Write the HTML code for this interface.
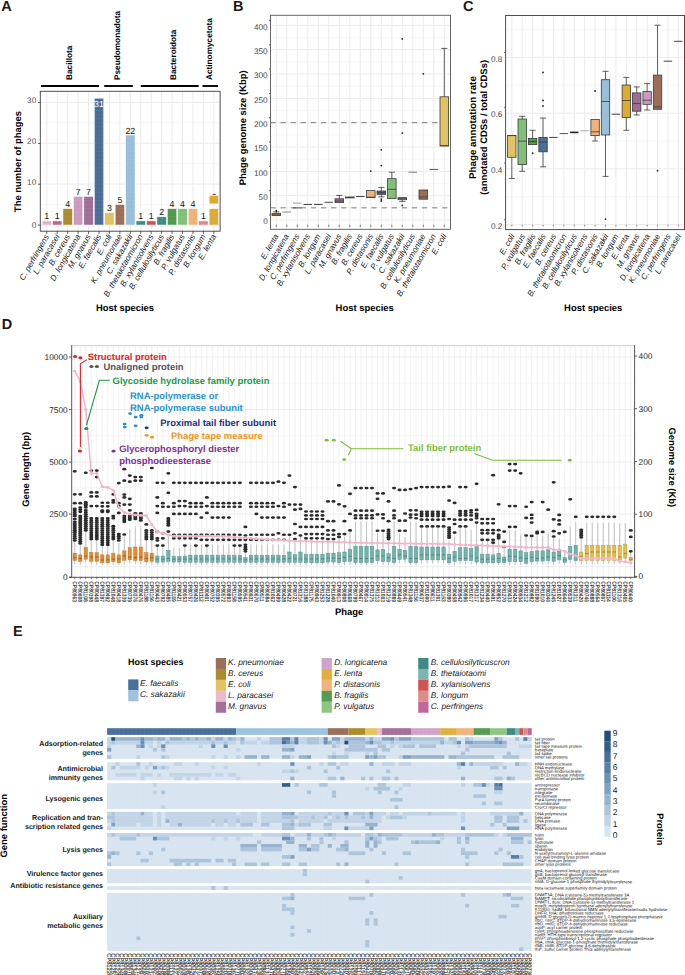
<!DOCTYPE html>
<html><head><meta charset="utf-8"><style>
html,body{margin:0;padding:0;background:#fff;}
body{width:685px;height:975px;overflow:hidden;}
svg{display:block;font-family:"Liberation Sans", sans-serif;text-rendering:geometricPrecision;}
</style></head><body>
<svg width="685" height="975" viewBox="0 0 685 975">
<rect x="40.3" y="91.3" width="179.8" height="139.9" fill="#fff" />
<line x1="40.3" y1="204.55" x2="220.1" y2="204.55" stroke="#f4f4f4" stroke-width="0.6" />
<line x1="40.3" y1="163.65" x2="220.1" y2="163.65" stroke="#f4f4f4" stroke-width="0.6" />
<line x1="40.3" y1="122.75" x2="220.1" y2="122.75" stroke="#f4f4f4" stroke-width="0.6" />
<line x1="40.3" y1="225" x2="220.1" y2="225" stroke="#ebebeb" stroke-width="1" />
<line x1="40.3" y1="184.1" x2="220.1" y2="184.1" stroke="#ebebeb" stroke-width="1" />
<line x1="40.3" y1="143.2" x2="220.1" y2="143.2" stroke="#ebebeb" stroke-width="1" />
<line x1="40.3" y1="102.3" x2="220.1" y2="102.3" stroke="#ebebeb" stroke-width="1" />
<line x1="46.8" y1="91.3" x2="46.8" y2="231.2" stroke="#ebebeb" stroke-width="1" />
<line x1="57.24" y1="91.3" x2="57.24" y2="231.2" stroke="#ebebeb" stroke-width="1" />
<line x1="67.68" y1="91.3" x2="67.68" y2="231.2" stroke="#ebebeb" stroke-width="1" />
<line x1="78.12" y1="91.3" x2="78.12" y2="231.2" stroke="#ebebeb" stroke-width="1" />
<line x1="88.56" y1="91.3" x2="88.56" y2="231.2" stroke="#ebebeb" stroke-width="1" />
<line x1="99" y1="91.3" x2="99" y2="231.2" stroke="#ebebeb" stroke-width="1" />
<line x1="109.44" y1="91.3" x2="109.44" y2="231.2" stroke="#ebebeb" stroke-width="1" />
<line x1="119.88" y1="91.3" x2="119.88" y2="231.2" stroke="#ebebeb" stroke-width="1" />
<line x1="130.32" y1="91.3" x2="130.32" y2="231.2" stroke="#ebebeb" stroke-width="1" />
<line x1="140.76" y1="91.3" x2="140.76" y2="231.2" stroke="#ebebeb" stroke-width="1" />
<line x1="151.2" y1="91.3" x2="151.2" y2="231.2" stroke="#ebebeb" stroke-width="1" />
<line x1="161.64" y1="91.3" x2="161.64" y2="231.2" stroke="#ebebeb" stroke-width="1" />
<line x1="172.08" y1="91.3" x2="172.08" y2="231.2" stroke="#ebebeb" stroke-width="1" />
<line x1="182.52" y1="91.3" x2="182.52" y2="231.2" stroke="#ebebeb" stroke-width="1" />
<line x1="192.96" y1="91.3" x2="192.96" y2="231.2" stroke="#ebebeb" stroke-width="1" />
<line x1="203.4" y1="91.3" x2="203.4" y2="231.2" stroke="#ebebeb" stroke-width="1" />
<line x1="213.84" y1="91.3" x2="213.84" y2="231.2" stroke="#ebebeb" stroke-width="1" />
<rect x="42.1" y="220.91" width="9.4" height="4.09" fill="#e9b1c9" stroke="#ffffff" stroke-width="0.5" />
<text x="46.8" y="219.41" font-size="8.9" fill="#1a1a1a" text-anchor="middle">1</text>
<rect x="52.54" y="220.91" width="9.4" height="4.09" fill="#c1658b" stroke="#ffffff" stroke-width="0.5" />
<text x="57.24" y="219.41" font-size="8.9" fill="#1a1a1a" text-anchor="middle">1</text>
<rect x="62.98" y="208.64" width="9.4" height="16.36" fill="#a98b2d" stroke="#ffffff" stroke-width="0.5" />
<line x1="63.28" y1="220.91" x2="72.08" y2="220.91" stroke="rgba(255,255,255,0.1)" stroke-width="0.5" />
<line x1="63.28" y1="216.82" x2="72.08" y2="216.82" stroke="rgba(255,255,255,0.1)" stroke-width="0.5" />
<line x1="63.28" y1="212.73" x2="72.08" y2="212.73" stroke="rgba(255,255,255,0.1)" stroke-width="0.5" />
<text x="67.68" y="207.14" font-size="8.9" fill="#1a1a1a" text-anchor="middle">4</text>
<rect x="73.42" y="196.37" width="9.4" height="28.63" fill="#c99bc1" stroke="#ffffff" stroke-width="0.5" />
<line x1="73.72" y1="220.91" x2="82.52" y2="220.91" stroke="rgba(255,255,255,0.1)" stroke-width="0.5" />
<line x1="73.72" y1="216.82" x2="82.52" y2="216.82" stroke="rgba(255,255,255,0.1)" stroke-width="0.5" />
<line x1="73.72" y1="212.73" x2="82.52" y2="212.73" stroke="rgba(255,255,255,0.1)" stroke-width="0.5" />
<line x1="73.72" y1="208.64" x2="82.52" y2="208.64" stroke="rgba(255,255,255,0.1)" stroke-width="0.5" />
<line x1="73.72" y1="204.55" x2="82.52" y2="204.55" stroke="rgba(255,255,255,0.1)" stroke-width="0.5" />
<line x1="73.72" y1="200.46" x2="82.52" y2="200.46" stroke="rgba(255,255,255,0.1)" stroke-width="0.5" />
<text x="78.12" y="194.87" font-size="8.9" fill="#1a1a1a" text-anchor="middle">7</text>
<rect x="83.86" y="196.37" width="9.4" height="28.63" fill="#a06e95" stroke="#ffffff" stroke-width="0.5" />
<line x1="84.16" y1="220.91" x2="92.96" y2="220.91" stroke="rgba(255,255,255,0.1)" stroke-width="0.5" />
<line x1="84.16" y1="216.82" x2="92.96" y2="216.82" stroke="rgba(255,255,255,0.1)" stroke-width="0.5" />
<line x1="84.16" y1="212.73" x2="92.96" y2="212.73" stroke="rgba(255,255,255,0.1)" stroke-width="0.5" />
<line x1="84.16" y1="208.64" x2="92.96" y2="208.64" stroke="rgba(255,255,255,0.1)" stroke-width="0.5" />
<line x1="84.16" y1="204.55" x2="92.96" y2="204.55" stroke="rgba(255,255,255,0.1)" stroke-width="0.5" />
<line x1="84.16" y1="200.46" x2="92.96" y2="200.46" stroke="rgba(255,255,255,0.1)" stroke-width="0.5" />
<text x="88.56" y="194.87" font-size="8.9" fill="#1a1a1a" text-anchor="middle">7</text>
<rect x="94.3" y="98.21" width="9.4" height="126.79" fill="#4a6e98" stroke="#ffffff" stroke-width="0.5" />
<line x1="94.6" y1="220.91" x2="103.4" y2="220.91" stroke="rgba(255,255,255,0.1)" stroke-width="0.5" />
<line x1="94.6" y1="216.82" x2="103.4" y2="216.82" stroke="rgba(255,255,255,0.1)" stroke-width="0.5" />
<line x1="94.6" y1="212.73" x2="103.4" y2="212.73" stroke="rgba(255,255,255,0.1)" stroke-width="0.5" />
<line x1="94.6" y1="208.64" x2="103.4" y2="208.64" stroke="rgba(255,255,255,0.1)" stroke-width="0.5" />
<line x1="94.6" y1="204.55" x2="103.4" y2="204.55" stroke="rgba(255,255,255,0.1)" stroke-width="0.5" />
<line x1="94.6" y1="200.46" x2="103.4" y2="200.46" stroke="rgba(255,255,255,0.1)" stroke-width="0.5" />
<line x1="94.6" y1="196.37" x2="103.4" y2="196.37" stroke="rgba(255,255,255,0.1)" stroke-width="0.5" />
<line x1="94.6" y1="192.28" x2="103.4" y2="192.28" stroke="rgba(255,255,255,0.1)" stroke-width="0.5" />
<line x1="94.6" y1="188.19" x2="103.4" y2="188.19" stroke="rgba(255,255,255,0.1)" stroke-width="0.5" />
<line x1="94.6" y1="184.1" x2="103.4" y2="184.1" stroke="rgba(255,255,255,0.1)" stroke-width="0.5" />
<line x1="94.6" y1="180.01" x2="103.4" y2="180.01" stroke="rgba(255,255,255,0.1)" stroke-width="0.5" />
<line x1="94.6" y1="175.92" x2="103.4" y2="175.92" stroke="rgba(255,255,255,0.1)" stroke-width="0.5" />
<line x1="94.6" y1="171.83" x2="103.4" y2="171.83" stroke="rgba(255,255,255,0.1)" stroke-width="0.5" />
<line x1="94.6" y1="167.74" x2="103.4" y2="167.74" stroke="rgba(255,255,255,0.1)" stroke-width="0.5" />
<line x1="94.6" y1="163.65" x2="103.4" y2="163.65" stroke="rgba(255,255,255,0.1)" stroke-width="0.5" />
<line x1="94.6" y1="159.56" x2="103.4" y2="159.56" stroke="rgba(255,255,255,0.1)" stroke-width="0.5" />
<line x1="94.6" y1="155.47" x2="103.4" y2="155.47" stroke="rgba(255,255,255,0.1)" stroke-width="0.5" />
<line x1="94.6" y1="151.38" x2="103.4" y2="151.38" stroke="rgba(255,255,255,0.1)" stroke-width="0.5" />
<line x1="94.6" y1="147.29" x2="103.4" y2="147.29" stroke="rgba(255,255,255,0.1)" stroke-width="0.5" />
<line x1="94.6" y1="143.2" x2="103.4" y2="143.2" stroke="rgba(255,255,255,0.1)" stroke-width="0.5" />
<line x1="94.6" y1="139.11" x2="103.4" y2="139.11" stroke="rgba(255,255,255,0.1)" stroke-width="0.5" />
<line x1="94.6" y1="135.02" x2="103.4" y2="135.02" stroke="rgba(255,255,255,0.1)" stroke-width="0.5" />
<line x1="94.6" y1="130.93" x2="103.4" y2="130.93" stroke="rgba(255,255,255,0.1)" stroke-width="0.5" />
<line x1="94.6" y1="126.84" x2="103.4" y2="126.84" stroke="rgba(255,255,255,0.1)" stroke-width="0.5" />
<line x1="94.6" y1="122.75" x2="103.4" y2="122.75" stroke="rgba(255,255,255,0.1)" stroke-width="0.5" />
<line x1="94.6" y1="118.66" x2="103.4" y2="118.66" stroke="rgba(255,255,255,0.1)" stroke-width="0.5" />
<line x1="94.6" y1="114.57" x2="103.4" y2="114.57" stroke="rgba(255,255,255,0.1)" stroke-width="0.5" />
<line x1="94.6" y1="110.48" x2="103.4" y2="110.48" stroke="rgba(255,255,255,0.1)" stroke-width="0.5" />
<line x1="94.6" y1="106.39" x2="103.4" y2="106.39" stroke="rgba(255,255,255,0.1)" stroke-width="0.5" />
<line x1="94.6" y1="102.3" x2="103.4" y2="102.3" stroke="rgba(255,255,255,0.1)" stroke-width="0.5" />
<text x="99" y="106.81" font-size="8.8" fill="#ffffff" text-anchor="middle">31</text>
<rect x="104.74" y="212.73" width="9.4" height="12.27" fill="#e2c262" stroke="#ffffff" stroke-width="0.5" />
<line x1="105.04" y1="220.91" x2="113.84" y2="220.91" stroke="rgba(255,255,255,0.1)" stroke-width="0.5" />
<line x1="105.04" y1="216.82" x2="113.84" y2="216.82" stroke="rgba(255,255,255,0.1)" stroke-width="0.5" />
<text x="109.44" y="211.23" font-size="8.9" fill="#1a1a1a" text-anchor="middle">3</text>
<rect x="115.18" y="204.55" width="9.4" height="20.45" fill="#9b6e58" stroke="#ffffff" stroke-width="0.5" />
<line x1="115.48" y1="220.91" x2="124.28" y2="220.91" stroke="rgba(255,255,255,0.1)" stroke-width="0.5" />
<line x1="115.48" y1="216.82" x2="124.28" y2="216.82" stroke="rgba(255,255,255,0.1)" stroke-width="0.5" />
<line x1="115.48" y1="212.73" x2="124.28" y2="212.73" stroke="rgba(255,255,255,0.1)" stroke-width="0.5" />
<line x1="115.48" y1="208.64" x2="124.28" y2="208.64" stroke="rgba(255,255,255,0.1)" stroke-width="0.5" />
<text x="119.88" y="203.05" font-size="8.9" fill="#1a1a1a" text-anchor="middle">5</text>
<rect x="125.62" y="135.02" width="9.4" height="89.98" fill="#98bedb" stroke="#ffffff" stroke-width="0.5" />
<line x1="125.92" y1="220.91" x2="134.72" y2="220.91" stroke="rgba(255,255,255,0.1)" stroke-width="0.5" />
<line x1="125.92" y1="216.82" x2="134.72" y2="216.82" stroke="rgba(255,255,255,0.1)" stroke-width="0.5" />
<line x1="125.92" y1="212.73" x2="134.72" y2="212.73" stroke="rgba(255,255,255,0.1)" stroke-width="0.5" />
<line x1="125.92" y1="208.64" x2="134.72" y2="208.64" stroke="rgba(255,255,255,0.1)" stroke-width="0.5" />
<line x1="125.92" y1="204.55" x2="134.72" y2="204.55" stroke="rgba(255,255,255,0.1)" stroke-width="0.5" />
<line x1="125.92" y1="200.46" x2="134.72" y2="200.46" stroke="rgba(255,255,255,0.1)" stroke-width="0.5" />
<line x1="125.92" y1="196.37" x2="134.72" y2="196.37" stroke="rgba(255,255,255,0.1)" stroke-width="0.5" />
<line x1="125.92" y1="192.28" x2="134.72" y2="192.28" stroke="rgba(255,255,255,0.1)" stroke-width="0.5" />
<line x1="125.92" y1="188.19" x2="134.72" y2="188.19" stroke="rgba(255,255,255,0.1)" stroke-width="0.5" />
<line x1="125.92" y1="184.1" x2="134.72" y2="184.1" stroke="rgba(255,255,255,0.1)" stroke-width="0.5" />
<line x1="125.92" y1="180.01" x2="134.72" y2="180.01" stroke="rgba(255,255,255,0.1)" stroke-width="0.5" />
<line x1="125.92" y1="175.92" x2="134.72" y2="175.92" stroke="rgba(255,255,255,0.1)" stroke-width="0.5" />
<line x1="125.92" y1="171.83" x2="134.72" y2="171.83" stroke="rgba(255,255,255,0.1)" stroke-width="0.5" />
<line x1="125.92" y1="167.74" x2="134.72" y2="167.74" stroke="rgba(255,255,255,0.1)" stroke-width="0.5" />
<line x1="125.92" y1="163.65" x2="134.72" y2="163.65" stroke="rgba(255,255,255,0.1)" stroke-width="0.5" />
<line x1="125.92" y1="159.56" x2="134.72" y2="159.56" stroke="rgba(255,255,255,0.1)" stroke-width="0.5" />
<line x1="125.92" y1="155.47" x2="134.72" y2="155.47" stroke="rgba(255,255,255,0.1)" stroke-width="0.5" />
<line x1="125.92" y1="151.38" x2="134.72" y2="151.38" stroke="rgba(255,255,255,0.1)" stroke-width="0.5" />
<line x1="125.92" y1="147.29" x2="134.72" y2="147.29" stroke="rgba(255,255,255,0.1)" stroke-width="0.5" />
<line x1="125.92" y1="143.2" x2="134.72" y2="143.2" stroke="rgba(255,255,255,0.1)" stroke-width="0.5" />
<line x1="125.92" y1="139.11" x2="134.72" y2="139.11" stroke="rgba(255,255,255,0.1)" stroke-width="0.5" />
<text x="130.32" y="133.52" font-size="8.9" fill="#1a1a1a" text-anchor="middle">22</text>
<rect x="136.06" y="220.91" width="9.4" height="4.09" fill="#3e8a86" stroke="#ffffff" stroke-width="0.5" />
<text x="140.76" y="219.41" font-size="8.9" fill="#1a1a1a" text-anchor="middle">1</text>
<rect x="146.5" y="220.91" width="9.4" height="4.09" fill="#d05454" stroke="#ffffff" stroke-width="0.5" />
<text x="151.2" y="219.41" font-size="8.9" fill="#1a1a1a" text-anchor="middle">1</text>
<rect x="156.94" y="216.82" width="9.4" height="8.18" fill="#3f8a87" stroke="#ffffff" stroke-width="0.5" />
<line x1="157.24" y1="220.91" x2="166.04" y2="220.91" stroke="rgba(255,255,255,0.1)" stroke-width="0.5" />
<text x="161.64" y="215.32" font-size="8.9" fill="#1a1a1a" text-anchor="middle">2</text>
<rect x="167.38" y="208.64" width="9.4" height="16.36" fill="#4f9a4e" stroke="#ffffff" stroke-width="0.5" />
<line x1="167.68" y1="220.91" x2="176.48" y2="220.91" stroke="rgba(255,255,255,0.1)" stroke-width="0.5" />
<line x1="167.68" y1="216.82" x2="176.48" y2="216.82" stroke="rgba(255,255,255,0.1)" stroke-width="0.5" />
<line x1="167.68" y1="212.73" x2="176.48" y2="212.73" stroke="rgba(255,255,255,0.1)" stroke-width="0.5" />
<text x="172.08" y="207.14" font-size="8.9" fill="#1a1a1a" text-anchor="middle">4</text>
<rect x="177.82" y="208.64" width="9.4" height="16.36" fill="#82c07a" stroke="#ffffff" stroke-width="0.5" />
<line x1="178.12" y1="220.91" x2="186.92" y2="220.91" stroke="rgba(255,255,255,0.1)" stroke-width="0.5" />
<line x1="178.12" y1="216.82" x2="186.92" y2="216.82" stroke="rgba(255,255,255,0.1)" stroke-width="0.5" />
<line x1="178.12" y1="212.73" x2="186.92" y2="212.73" stroke="rgba(255,255,255,0.1)" stroke-width="0.5" />
<text x="182.52" y="207.14" font-size="8.9" fill="#1a1a1a" text-anchor="middle">4</text>
<rect x="188.26" y="208.64" width="9.4" height="16.36" fill="#efb27a" stroke="#ffffff" stroke-width="0.5" />
<line x1="188.56" y1="220.91" x2="197.36" y2="220.91" stroke="rgba(255,255,255,0.1)" stroke-width="0.5" />
<line x1="188.56" y1="216.82" x2="197.36" y2="216.82" stroke="rgba(255,255,255,0.1)" stroke-width="0.5" />
<line x1="188.56" y1="212.73" x2="197.36" y2="212.73" stroke="rgba(255,255,255,0.1)" stroke-width="0.5" />
<text x="192.96" y="207.14" font-size="8.9" fill="#1a1a1a" text-anchor="middle">4</text>
<rect x="198.7" y="220.91" width="9.4" height="4.09" fill="#dd8790" stroke="#ffffff" stroke-width="0.5" />
<text x="203.4" y="219.41" font-size="8.9" fill="#1a1a1a" text-anchor="middle">1</text>
<rect x="209.14" y="208.64" width="9.4" height="16.36" fill="#dcab36" stroke="#ffffff" stroke-width="0.5" />
<line x1="209.44" y1="220.91" x2="218.24" y2="220.91" stroke="rgba(255,255,255,0.1)" stroke-width="0.5" />
<line x1="209.44" y1="216.82" x2="218.24" y2="216.82" stroke="rgba(255,255,255,0.1)" stroke-width="0.5" />
<line x1="209.44" y1="212.73" x2="218.24" y2="212.73" stroke="rgba(255,255,255,0.1)" stroke-width="0.5" />
<text x="213.84" y="199.5" font-size="8.8" fill="#1a1a1a" text-anchor="middle" clip-path="url(#clipA6)">6</text>
<defs><clipPath id="clipA6"><rect x="200" y="180" width="30" height="15.4"/></clipPath></defs>
<rect x="209.14" y="195.6" width="9.4" height="8.3" fill="#dcab36" stroke="#ffffff" stroke-width="0.5" />
<rect x="40.3" y="91.3" width="179.8" height="139.9" fill="none" stroke="#4a4343" stroke-width="0.95" />
<line x1="38" y1="225.1" x2="40.3" y2="225.1" stroke="#444" stroke-width="0.9" />
<text x="36.2" y="228.15" font-size="8.2" fill="#555555" text-anchor="end">0</text>
<line x1="38" y1="184.2" x2="40.3" y2="184.2" stroke="#444" stroke-width="0.9" />
<text x="36.2" y="184.95" font-size="8.2" fill="#555555" text-anchor="end">10</text>
<line x1="38" y1="143.4" x2="40.3" y2="143.4" stroke="#444" stroke-width="0.9" />
<text x="36.2" y="144.05" font-size="8.2" fill="#555555" text-anchor="end">20</text>
<line x1="38" y1="102.5" x2="40.3" y2="102.5" stroke="#444" stroke-width="0.9" />
<text x="36.2" y="102.95" font-size="8.2" fill="#555555" text-anchor="end">30</text>
<line x1="46.8" y1="231.2" x2="46.8" y2="233.9" stroke="#333" stroke-width="0.8" />
<text x="49.4" y="236.4" font-size="8.2" fill="#1a1a1a" font-style="italic" text-anchor="end" transform="rotate(-60 49.4 236.4)">C. perfringens</text>
<line x1="57.24" y1="231.2" x2="57.24" y2="233.9" stroke="#333" stroke-width="0.8" />
<text x="59.84" y="236.4" font-size="8.2" fill="#1a1a1a" font-style="italic" text-anchor="end" transform="rotate(-60 59.84 236.4)">L. paracasei</text>
<line x1="67.68" y1="231.2" x2="67.68" y2="233.9" stroke="#333" stroke-width="0.8" />
<text x="70.28" y="236.4" font-size="8.2" fill="#1a1a1a" font-style="italic" text-anchor="end" transform="rotate(-60 70.28 236.4)">B. cereus</text>
<line x1="78.12" y1="231.2" x2="78.12" y2="233.9" stroke="#333" stroke-width="0.8" />
<text x="80.72" y="236.4" font-size="8.2" fill="#1a1a1a" font-style="italic" text-anchor="end" transform="rotate(-60 80.72 236.4)">D. longicatena</text>
<line x1="88.56" y1="231.2" x2="88.56" y2="233.9" stroke="#333" stroke-width="0.8" />
<text x="91.16" y="236.4" font-size="8.2" fill="#1a1a1a" font-style="italic" text-anchor="end" transform="rotate(-60 91.16 236.4)">M. gnavus</text>
<line x1="99" y1="231.2" x2="99" y2="233.9" stroke="#333" stroke-width="0.8" />
<text x="101.6" y="236.4" font-size="8.2" fill="#1a1a1a" font-style="italic" text-anchor="end" transform="rotate(-60 101.6 236.4)">E. faecalis</text>
<line x1="109.44" y1="231.2" x2="109.44" y2="233.9" stroke="#333" stroke-width="0.8" />
<text x="112.04" y="236.4" font-size="8.2" fill="#1a1a1a" font-style="italic" text-anchor="end" transform="rotate(-60 112.04 236.4)">E. coli</text>
<line x1="119.88" y1="231.2" x2="119.88" y2="233.9" stroke="#333" stroke-width="0.8" />
<text x="122.48" y="236.4" font-size="8.2" fill="#1a1a1a" font-style="italic" text-anchor="end" transform="rotate(-60 122.48 236.4)">K. pneumoniae</text>
<line x1="130.32" y1="231.2" x2="130.32" y2="233.9" stroke="#333" stroke-width="0.8" />
<text x="132.92" y="236.4" font-size="8.2" fill="#1a1a1a" font-style="italic" text-anchor="end" transform="rotate(-60 132.92 236.4)">C. sakazakii</text>
<line x1="140.76" y1="231.2" x2="140.76" y2="233.9" stroke="#333" stroke-width="0.8" />
<text x="143.36" y="236.4" font-size="8.2" fill="#1a1a1a" font-style="italic" text-anchor="end" transform="rotate(-60 143.36 236.4)">B. thetaiotaomicron</text>
<line x1="151.2" y1="231.2" x2="151.2" y2="233.9" stroke="#333" stroke-width="0.8" />
<text x="153.8" y="236.4" font-size="8.2" fill="#1a1a1a" font-style="italic" text-anchor="end" transform="rotate(-60 153.8 236.4)">B. xylanisolvens</text>
<line x1="161.64" y1="231.2" x2="161.64" y2="233.9" stroke="#333" stroke-width="0.8" />
<text x="164.24" y="236.4" font-size="8.2" fill="#1a1a1a" font-style="italic" text-anchor="end" transform="rotate(-60 164.24 236.4)">B. cellulosilyticus</text>
<line x1="172.08" y1="231.2" x2="172.08" y2="233.9" stroke="#333" stroke-width="0.8" />
<text x="174.68" y="236.4" font-size="8.2" fill="#1a1a1a" font-style="italic" text-anchor="end" transform="rotate(-60 174.68 236.4)">B. fragilis</text>
<line x1="182.52" y1="231.2" x2="182.52" y2="233.9" stroke="#333" stroke-width="0.8" />
<text x="185.12" y="236.4" font-size="8.2" fill="#1a1a1a" font-style="italic" text-anchor="end" transform="rotate(-60 185.12 236.4)">P. vulgatus</text>
<line x1="192.96" y1="231.2" x2="192.96" y2="233.9" stroke="#333" stroke-width="0.8" />
<text x="195.56" y="236.4" font-size="8.2" fill="#1a1a1a" font-style="italic" text-anchor="end" transform="rotate(-60 195.56 236.4)">P. distasonis</text>
<line x1="203.4" y1="231.2" x2="203.4" y2="233.9" stroke="#333" stroke-width="0.8" />
<text x="206" y="236.4" font-size="8.2" fill="#1a1a1a" font-style="italic" text-anchor="end" transform="rotate(-60 206 236.4)">B. longum</text>
<line x1="213.84" y1="231.2" x2="213.84" y2="233.9" stroke="#333" stroke-width="0.8" />
<text x="216.44" y="236.4" font-size="8.2" fill="#1a1a1a" font-style="italic" text-anchor="end" transform="rotate(-60 216.44 236.4)">E. lenta</text>
<text x="21.4" y="161.55" font-size="9.45" fill="#000" font-weight="bold" text-anchor="middle" transform="rotate(-90 21.4 161.55)">The number of phages</text>
<text x="125" y="311.3" font-size="9.45" fill="#000" font-weight="bold" text-anchor="middle">Host species</text>
<line x1="41" y1="86" x2="99" y2="86" stroke="#000" stroke-width="1.9" />
<text x="71.5" y="80" font-size="8.25" fill="#000" font-weight="bold" transform="rotate(-90 71.5 80)">Bacillota</text>
<line x1="104.2" y1="86" x2="132.8" y2="86" stroke="#000" stroke-width="1.9" />
<text x="119.7" y="80" font-size="8.25" fill="#000" font-weight="bold" transform="rotate(-90 119.7 80)">Pseudomonadota</text>
<line x1="140.8" y1="86" x2="198.7" y2="86" stroke="#000" stroke-width="1.9" />
<text x="175.7" y="80" font-size="8.25" fill="#000" font-weight="bold" transform="rotate(-90 175.7 80)">Bacteroidota</text>
<line x1="202.5" y1="86" x2="218" y2="86" stroke="#000" stroke-width="1.9" />
<text x="212.1" y="80" font-size="8.25" fill="#000" font-weight="bold" transform="rotate(-90 212.1 80)">Actinomycetota</text>
<text x="1.2" y="10.7" font-size="14.5" fill="#231815" font-weight="bold">A</text>
<rect x="270.5" y="15.3" width="180" height="214" fill="#fff" />
<line x1="270.5" y1="207.84" x2="450.5" y2="207.84" stroke="#f4f4f4" stroke-width="0.6" />
<line x1="270.5" y1="183.51" x2="450.5" y2="183.51" stroke="#f4f4f4" stroke-width="0.6" />
<line x1="270.5" y1="159.19" x2="450.5" y2="159.19" stroke="#f4f4f4" stroke-width="0.6" />
<line x1="270.5" y1="134.86" x2="450.5" y2="134.86" stroke="#f4f4f4" stroke-width="0.6" />
<line x1="270.5" y1="110.54" x2="450.5" y2="110.54" stroke="#f4f4f4" stroke-width="0.6" />
<line x1="270.5" y1="86.21" x2="450.5" y2="86.21" stroke="#f4f4f4" stroke-width="0.6" />
<line x1="270.5" y1="61.89" x2="450.5" y2="61.89" stroke="#f4f4f4" stroke-width="0.6" />
<line x1="270.5" y1="37.56" x2="450.5" y2="37.56" stroke="#f4f4f4" stroke-width="0.6" />
<line x1="270.5" y1="220" x2="450.5" y2="220" stroke="#ebebeb" stroke-width="1" />
<line x1="270.5" y1="195.68" x2="450.5" y2="195.68" stroke="#ebebeb" stroke-width="1" />
<line x1="270.5" y1="171.35" x2="450.5" y2="171.35" stroke="#ebebeb" stroke-width="1" />
<line x1="270.5" y1="147.03" x2="450.5" y2="147.03" stroke="#ebebeb" stroke-width="1" />
<line x1="270.5" y1="122.7" x2="450.5" y2="122.7" stroke="#ebebeb" stroke-width="1" />
<line x1="270.5" y1="98.38" x2="450.5" y2="98.38" stroke="#ebebeb" stroke-width="1" />
<line x1="270.5" y1="74.05" x2="450.5" y2="74.05" stroke="#ebebeb" stroke-width="1" />
<line x1="270.5" y1="49.72" x2="450.5" y2="49.72" stroke="#ebebeb" stroke-width="1" />
<line x1="270.5" y1="25.4" x2="450.5" y2="25.4" stroke="#ebebeb" stroke-width="1" />
<line x1="276.3" y1="15.3" x2="276.3" y2="229.3" stroke="#ebebeb" stroke-width="1" />
<line x1="286.8" y1="15.3" x2="286.8" y2="229.3" stroke="#ebebeb" stroke-width="1" />
<line x1="297.3" y1="15.3" x2="297.3" y2="229.3" stroke="#ebebeb" stroke-width="1" />
<line x1="307.8" y1="15.3" x2="307.8" y2="229.3" stroke="#ebebeb" stroke-width="1" />
<line x1="318.3" y1="15.3" x2="318.3" y2="229.3" stroke="#ebebeb" stroke-width="1" />
<line x1="328.8" y1="15.3" x2="328.8" y2="229.3" stroke="#ebebeb" stroke-width="1" />
<line x1="339.3" y1="15.3" x2="339.3" y2="229.3" stroke="#ebebeb" stroke-width="1" />
<line x1="349.8" y1="15.3" x2="349.8" y2="229.3" stroke="#ebebeb" stroke-width="1" />
<line x1="360.3" y1="15.3" x2="360.3" y2="229.3" stroke="#ebebeb" stroke-width="1" />
<line x1="370.8" y1="15.3" x2="370.8" y2="229.3" stroke="#ebebeb" stroke-width="1" />
<line x1="381.3" y1="15.3" x2="381.3" y2="229.3" stroke="#ebebeb" stroke-width="1" />
<line x1="391.8" y1="15.3" x2="391.8" y2="229.3" stroke="#ebebeb" stroke-width="1" />
<line x1="402.3" y1="15.3" x2="402.3" y2="229.3" stroke="#ebebeb" stroke-width="1" />
<line x1="412.8" y1="15.3" x2="412.8" y2="229.3" stroke="#ebebeb" stroke-width="1" />
<line x1="423.3" y1="15.3" x2="423.3" y2="229.3" stroke="#ebebeb" stroke-width="1" />
<line x1="433.8" y1="15.3" x2="433.8" y2="229.3" stroke="#ebebeb" stroke-width="1" />
<line x1="444.3" y1="15.3" x2="444.3" y2="229.3" stroke="#ebebeb" stroke-width="1" />
<line x1="270.5" y1="122.7" x2="450.5" y2="122.7" stroke="#707070" stroke-width="0.9" stroke-dasharray="5.2,4.9"/>
<line x1="270.5" y1="207.84" x2="450.5" y2="207.84" stroke="#707070" stroke-width="0.9" stroke-dasharray="5.2,4.9"/>
<line x1="276.3" y1="211.8" x2="276.3" y2="213.4" stroke="#3a3a3a" stroke-width="0.8" />
<line x1="273.2" y1="211.8" x2="279.4" y2="211.8" stroke="#3a3a3a" stroke-width="0.8" />
<rect x="272" y="213.4" width="8.6" height="2.2" fill="#dcab36" stroke="#3a3a3a" stroke-width="0.8" />
<line x1="272" y1="214.8" x2="280.6" y2="214.8" stroke="#3a3a3a" stroke-width="0.8" />
<ellipse cx="276.3" cy="211" rx="0.9" ry="0.9" fill="#222"/>
<rect x="282.5" y="211.5" width="8.6" height="1" fill="#8c8c8c" />
<line x1="293" y1="207.9" x2="301.6" y2="207.9" stroke="#444" stroke-width="1" />
<line x1="303.5" y1="204.4" x2="312.1" y2="204.4" stroke="#3a3a3a" stroke-width="1" />
<line x1="314" y1="204.4" x2="322.6" y2="204.4" stroke="#3a3a3a" stroke-width="1" />
<line x1="324.5" y1="202.3" x2="333.1" y2="202.3" stroke="#4a4a4a" stroke-width="1" />
<line x1="339.3" y1="195.4" x2="339.3" y2="198.8" stroke="#3a3a3a" stroke-width="0.8" />
<line x1="336.2" y1="195.4" x2="342.4" y2="195.4" stroke="#3a3a3a" stroke-width="0.8" />
<rect x="335" y="198.8" width="8.6" height="3.8" fill="#a06e95" stroke="#3a3a3a" stroke-width="0.8" />
<line x1="335" y1="201" x2="343.6" y2="201" stroke="#3a3a3a" stroke-width="0.8" />
<rect x="345.5" y="197" width="8.6" height="0.9" fill="#4f9a4e" stroke="#3a3a3a" stroke-width="0.8" />
<line x1="345.5" y1="197.5" x2="354.1" y2="197.5" stroke="#3a3a3a" stroke-width="0.8" />
<line x1="356" y1="196.5" x2="364.6" y2="196.5" stroke="#444444" stroke-width="1" />
<rect x="366.5" y="190.6" width="8.6" height="7" fill="#efb27a" stroke="#3a3a3a" stroke-width="0.8" />
<line x1="366.5" y1="197.2" x2="375.1" y2="197.2" stroke="#3a3a3a" stroke-width="0.8" />
<ellipse cx="370.8" cy="171.1" rx="0.9" ry="0.9" fill="#222"/>
<line x1="381.3" y1="187.4" x2="381.3" y2="191" stroke="#3a3a3a" stroke-width="0.8" />
<line x1="381.3" y1="194.4" x2="381.3" y2="196.9" stroke="#3a3a3a" stroke-width="0.8" />
<line x1="378.2" y1="187.4" x2="384.4" y2="187.4" stroke="#3a3a3a" stroke-width="0.8" />
<line x1="378.2" y1="196.9" x2="384.4" y2="196.9" stroke="#3a3a3a" stroke-width="0.8" />
<rect x="377" y="191" width="8.6" height="3.4" fill="#4a6e98" stroke="#3a3a3a" stroke-width="0.8" />
<line x1="377" y1="192.6" x2="385.6" y2="192.6" stroke="#3a3a3a" stroke-width="0.8" />
<ellipse cx="381.3" cy="149.8" rx="0.9" ry="0.9" fill="#222"/>
<ellipse cx="381.3" cy="165.6" rx="0.9" ry="0.9" fill="#222"/>
<ellipse cx="381.3" cy="199.1" rx="0.9" ry="0.9" fill="#222"/>
<ellipse cx="381.3" cy="201" rx="0.9" ry="0.9" fill="#222"/>
<line x1="391.8" y1="172.2" x2="391.8" y2="178.7" stroke="#3a3a3a" stroke-width="0.8" />
<line x1="388.7" y1="172.2" x2="394.9" y2="172.2" stroke="#3a3a3a" stroke-width="0.8" />
<rect x="387.5" y="178.7" width="8.6" height="19.9" fill="#82c07a" stroke="#3a3a3a" stroke-width="0.8" />
<line x1="387.5" y1="189.3" x2="396.1" y2="189.3" stroke="#3a3a3a" stroke-width="0.8" />
<line x1="402.3" y1="199.7" x2="402.3" y2="201.4" stroke="#3a3a3a" stroke-width="0.8" />
<line x1="399.2" y1="201.4" x2="405.4" y2="201.4" stroke="#3a3a3a" stroke-width="0.8" />
<rect x="398" y="197.6" width="8.6" height="2.1" fill="#98bedb" stroke="#3a3a3a" stroke-width="0.8" />
<line x1="398" y1="198.6" x2="406.6" y2="198.6" stroke="#3a3a3a" stroke-width="0.8" />
<ellipse cx="402.3" cy="205.4" rx="0.9" ry="0.9" fill="#222"/>
<ellipse cx="402.3" cy="133.1" rx="0.9" ry="0.9" fill="#222"/>
<ellipse cx="402.3" cy="38.9" rx="0.9" ry="0.9" fill="#222"/>
<line x1="408.5" y1="172.2" x2="417.1" y2="172.2" stroke="#7a7a7a" stroke-width="1" />
<rect x="419" y="190" width="8.6" height="9.2" fill="#9b6e58" stroke="#3a3a3a" stroke-width="0.8" />
<line x1="419" y1="196.9" x2="427.6" y2="196.9" stroke="#3a3a3a" stroke-width="0.8" />
<ellipse cx="423.3" cy="73.8" rx="0.9" ry="0.9" fill="#222"/>
<line x1="429.5" y1="169.4" x2="438.1" y2="169.4" stroke="#555555" stroke-width="1" />
<line x1="444.3" y1="48.4" x2="444.3" y2="96.8" stroke="#3a3a3a" stroke-width="0.8" />
<line x1="441.2" y1="48.4" x2="447.4" y2="48.4" stroke="#3a3a3a" stroke-width="0.8" />
<rect x="440" y="96.8" width="8.6" height="49.2" fill="#e2c262" stroke="#3a3a3a" stroke-width="0.8" />
<line x1="440" y1="145.6" x2="448.6" y2="145.6" stroke="#3a3a3a" stroke-width="0.8" />
<line x1="293" y1="203.1" x2="301.6" y2="203.1" stroke="#bdbdbd" stroke-width="1.4" />
<rect x="270.5" y="15.3" width="180" height="214" fill="none" stroke="#5e5e5e" stroke-width="0.95" />
<line x1="269" y1="215" x2="270.5" y2="215" stroke="#444" stroke-width="0.8" />
<text x="267.7" y="224.25" font-size="8.2" fill="#4a4a4a" text-anchor="end">0</text>
<line x1="269" y1="190.68" x2="270.5" y2="190.68" stroke="#444" stroke-width="0.8" />
<text x="267.7" y="199.93" font-size="8.2" fill="#4a4a4a" text-anchor="end">50</text>
<line x1="269" y1="166.35" x2="270.5" y2="166.35" stroke="#444" stroke-width="0.8" />
<text x="267.7" y="175.6" font-size="8.2" fill="#4a4a4a" text-anchor="end">100</text>
<line x1="269" y1="142.03" x2="270.5" y2="142.03" stroke="#444" stroke-width="0.8" />
<text x="267.7" y="151.28" font-size="8.2" fill="#4a4a4a" text-anchor="end">150</text>
<line x1="269" y1="117.7" x2="270.5" y2="117.7" stroke="#444" stroke-width="0.8" />
<text x="267.7" y="126.95" font-size="8.2" fill="#4a4a4a" text-anchor="end">200</text>
<line x1="269" y1="93.38" x2="270.5" y2="93.38" stroke="#444" stroke-width="0.8" />
<text x="267.7" y="102.62" font-size="8.2" fill="#4a4a4a" text-anchor="end">250</text>
<line x1="269" y1="69.05" x2="270.5" y2="69.05" stroke="#444" stroke-width="0.8" />
<text x="267.7" y="78.3" font-size="8.2" fill="#4a4a4a" text-anchor="end">300</text>
<line x1="269" y1="44.72" x2="270.5" y2="44.72" stroke="#444" stroke-width="0.8" />
<text x="267.7" y="53.97" font-size="8.2" fill="#4a4a4a" text-anchor="end">350</text>
<line x1="269" y1="20.4" x2="270.5" y2="20.4" stroke="#444" stroke-width="0.8" />
<text x="267.7" y="29.65" font-size="8.2" fill="#4a4a4a" text-anchor="end">400</text>
<line x1="276.3" y1="224.6" x2="276.3" y2="227.1" stroke="#555" stroke-width="0.7" />
<text x="278.9" y="236" font-size="8.2" fill="#1a1a1a" font-style="italic" text-anchor="end" transform="rotate(-60 278.9 236)">E. lenta</text>
<line x1="286.8" y1="224.6" x2="286.8" y2="227.1" stroke="#555" stroke-width="0.7" />
<text x="289.4" y="236" font-size="8.2" fill="#1a1a1a" font-style="italic" text-anchor="end" transform="rotate(-60 289.4 236)">D. longicatena</text>
<line x1="297.3" y1="224.6" x2="297.3" y2="227.1" stroke="#555" stroke-width="0.7" />
<text x="299.9" y="236" font-size="8.2" fill="#1a1a1a" font-style="italic" text-anchor="end" transform="rotate(-60 299.9 236)">C. perfringens</text>
<line x1="307.8" y1="224.6" x2="307.8" y2="227.1" stroke="#555" stroke-width="0.7" />
<text x="310.4" y="236" font-size="8.2" fill="#1a1a1a" font-style="italic" text-anchor="end" transform="rotate(-60 310.4 236)">B. xylanisolvens</text>
<line x1="318.3" y1="224.6" x2="318.3" y2="227.1" stroke="#555" stroke-width="0.7" />
<text x="320.9" y="236" font-size="8.2" fill="#1a1a1a" font-style="italic" text-anchor="end" transform="rotate(-60 320.9 236)">B. longum</text>
<line x1="328.8" y1="224.6" x2="328.8" y2="227.1" stroke="#555" stroke-width="0.7" />
<text x="331.4" y="236" font-size="8.2" fill="#1a1a1a" font-style="italic" text-anchor="end" transform="rotate(-60 331.4 236)">L. paracasei</text>
<line x1="339.3" y1="224.6" x2="339.3" y2="227.1" stroke="#555" stroke-width="0.7" />
<text x="341.9" y="236" font-size="8.2" fill="#1a1a1a" font-style="italic" text-anchor="end" transform="rotate(-60 341.9 236)">M. gnavus</text>
<line x1="349.8" y1="224.6" x2="349.8" y2="227.1" stroke="#555" stroke-width="0.7" />
<text x="352.4" y="236" font-size="8.2" fill="#1a1a1a" font-style="italic" text-anchor="end" transform="rotate(-60 352.4 236)">B. fragilis</text>
<line x1="360.3" y1="224.6" x2="360.3" y2="227.1" stroke="#555" stroke-width="0.7" />
<text x="362.9" y="236" font-size="8.2" fill="#1a1a1a" font-style="italic" text-anchor="end" transform="rotate(-60 362.9 236)">B. cereus</text>
<line x1="370.8" y1="224.6" x2="370.8" y2="227.1" stroke="#555" stroke-width="0.7" />
<text x="373.4" y="236" font-size="8.2" fill="#1a1a1a" font-style="italic" text-anchor="end" transform="rotate(-60 373.4 236)">P. distasonis</text>
<line x1="381.3" y1="224.6" x2="381.3" y2="227.1" stroke="#555" stroke-width="0.7" />
<text x="383.9" y="236" font-size="8.2" fill="#1a1a1a" font-style="italic" text-anchor="end" transform="rotate(-60 383.9 236)">E. faecalis</text>
<line x1="391.8" y1="224.6" x2="391.8" y2="227.1" stroke="#555" stroke-width="0.7" />
<text x="394.4" y="236" font-size="8.2" fill="#1a1a1a" font-style="italic" text-anchor="end" transform="rotate(-60 394.4 236)">P. vulgatus</text>
<line x1="402.3" y1="224.6" x2="402.3" y2="227.1" stroke="#555" stroke-width="0.7" />
<text x="404.9" y="236" font-size="8.2" fill="#1a1a1a" font-style="italic" text-anchor="end" transform="rotate(-60 404.9 236)">C. sakazakii</text>
<line x1="412.8" y1="224.6" x2="412.8" y2="227.1" stroke="#555" stroke-width="0.7" />
<text x="415.4" y="236" font-size="8.2" fill="#1a1a1a" font-style="italic" text-anchor="end" transform="rotate(-60 415.4 236)">B. cellulosilyticus</text>
<line x1="423.3" y1="224.6" x2="423.3" y2="227.1" stroke="#555" stroke-width="0.7" />
<text x="425.9" y="236" font-size="8.2" fill="#1a1a1a" font-style="italic" text-anchor="end" transform="rotate(-60 425.9 236)">K. pneumoniae</text>
<line x1="433.8" y1="224.6" x2="433.8" y2="227.1" stroke="#555" stroke-width="0.7" />
<text x="436.4" y="236" font-size="8.2" fill="#1a1a1a" font-style="italic" text-anchor="end" transform="rotate(-60 436.4 236)">B. thetaiotaomicron</text>
<line x1="444.3" y1="224.6" x2="444.3" y2="227.1" stroke="#555" stroke-width="0.7" />
<text x="446.9" y="236" font-size="8.2" fill="#1a1a1a" font-style="italic" text-anchor="end" transform="rotate(-60 446.9 236)">E. coli</text>
<text x="245.8" y="127.8" font-size="9.45" fill="#000" font-weight="bold" text-anchor="middle" transform="rotate(-90 245.8 127.8)">Phage genome size (Kbp)</text>
<text x="364.7" y="311.3" font-size="9.45" fill="#000" font-weight="bold" text-anchor="middle">Host species</text>
<text x="232.9" y="10.7" font-size="14.5" fill="#231815" font-weight="bold">B</text>
<rect x="505.6" y="15.5" width="178.9" height="214.1" fill="#fff" />
<line x1="505.6" y1="196.75" x2="684.5" y2="196.75" stroke="#f4f4f4" stroke-width="0.6" />
<line x1="505.6" y1="141.01" x2="684.5" y2="141.01" stroke="#f4f4f4" stroke-width="0.6" />
<line x1="505.6" y1="85.27" x2="684.5" y2="85.27" stroke="#f4f4f4" stroke-width="0.6" />
<line x1="505.6" y1="29.53" x2="684.5" y2="29.53" stroke="#f4f4f4" stroke-width="0.6" />
<line x1="505.6" y1="224.62" x2="684.5" y2="224.62" stroke="#ebebeb" stroke-width="1" />
<line x1="505.6" y1="168.88" x2="684.5" y2="168.88" stroke="#ebebeb" stroke-width="1" />
<line x1="505.6" y1="113.14" x2="684.5" y2="113.14" stroke="#ebebeb" stroke-width="1" />
<line x1="505.6" y1="57.4" x2="684.5" y2="57.4" stroke="#ebebeb" stroke-width="1" />
<line x1="511.8" y1="15.5" x2="511.8" y2="229.6" stroke="#ebebeb" stroke-width="1" />
<line x1="522.21" y1="15.5" x2="522.21" y2="229.6" stroke="#ebebeb" stroke-width="1" />
<line x1="532.62" y1="15.5" x2="532.62" y2="229.6" stroke="#ebebeb" stroke-width="1" />
<line x1="543.03" y1="15.5" x2="543.03" y2="229.6" stroke="#ebebeb" stroke-width="1" />
<line x1="553.44" y1="15.5" x2="553.44" y2="229.6" stroke="#ebebeb" stroke-width="1" />
<line x1="563.85" y1="15.5" x2="563.85" y2="229.6" stroke="#ebebeb" stroke-width="1" />
<line x1="574.26" y1="15.5" x2="574.26" y2="229.6" stroke="#ebebeb" stroke-width="1" />
<line x1="584.67" y1="15.5" x2="584.67" y2="229.6" stroke="#ebebeb" stroke-width="1" />
<line x1="595.08" y1="15.5" x2="595.08" y2="229.6" stroke="#ebebeb" stroke-width="1" />
<line x1="605.49" y1="15.5" x2="605.49" y2="229.6" stroke="#ebebeb" stroke-width="1" />
<line x1="615.9" y1="15.5" x2="615.9" y2="229.6" stroke="#ebebeb" stroke-width="1" />
<line x1="626.31" y1="15.5" x2="626.31" y2="229.6" stroke="#ebebeb" stroke-width="1" />
<line x1="636.72" y1="15.5" x2="636.72" y2="229.6" stroke="#ebebeb" stroke-width="1" />
<line x1="647.13" y1="15.5" x2="647.13" y2="229.6" stroke="#ebebeb" stroke-width="1" />
<line x1="657.54" y1="15.5" x2="657.54" y2="229.6" stroke="#ebebeb" stroke-width="1" />
<line x1="667.95" y1="15.5" x2="667.95" y2="229.6" stroke="#ebebeb" stroke-width="1" />
<line x1="678.36" y1="15.5" x2="678.36" y2="229.6" stroke="#ebebeb" stroke-width="1" />
<line x1="511.8" y1="157.3" x2="511.8" y2="178.5" stroke="#3a3a3a" stroke-width="0.8" />
<line x1="508.8" y1="178.5" x2="514.8" y2="178.5" stroke="#3a3a3a" stroke-width="0.8" />
<rect x="507.6" y="135.4" width="8.4" height="21.9" fill="#e2c262" stroke="#3a3a3a" stroke-width="0.8" />
<line x1="507.6" y1="135.6" x2="516" y2="135.6" stroke="#3a3a3a" stroke-width="0.8" />
<line x1="522.21" y1="116.3" x2="522.21" y2="119" stroke="#3a3a3a" stroke-width="0.8" />
<line x1="522.21" y1="164.5" x2="522.21" y2="171.3" stroke="#3a3a3a" stroke-width="0.8" />
<line x1="519.21" y1="116.3" x2="525.21" y2="116.3" stroke="#3a3a3a" stroke-width="0.8" />
<line x1="519.21" y1="171.3" x2="525.21" y2="171.3" stroke="#3a3a3a" stroke-width="0.8" />
<rect x="518.01" y="119" width="8.4" height="45.5" fill="#82c07a" stroke="#3a3a3a" stroke-width="0.8" />
<line x1="518.01" y1="141.1" x2="526.41" y2="141.1" stroke="#3a3a3a" stroke-width="0.8" />
<line x1="532.62" y1="130.3" x2="532.62" y2="138.5" stroke="#3a3a3a" stroke-width="0.8" />
<line x1="529.62" y1="130.3" x2="535.62" y2="130.3" stroke="#3a3a3a" stroke-width="0.8" />
<rect x="528.42" y="138.5" width="8.4" height="6.1" fill="#4f9a4e" stroke="#3a3a3a" stroke-width="0.8" />
<line x1="528.42" y1="141.5" x2="536.82" y2="141.5" stroke="#3a3a3a" stroke-width="0.8" />
<ellipse cx="532.62" cy="153.2" rx="0.9" ry="0.9" fill="#222"/>
<line x1="543.03" y1="118" x2="543.03" y2="137.4" stroke="#3a3a3a" stroke-width="0.8" />
<line x1="543.03" y1="151.8" x2="543.03" y2="166.8" stroke="#3a3a3a" stroke-width="0.8" />
<line x1="540.03" y1="118" x2="546.03" y2="118" stroke="#3a3a3a" stroke-width="0.8" />
<line x1="540.03" y1="166.8" x2="546.03" y2="166.8" stroke="#3a3a3a" stroke-width="0.8" />
<rect x="538.83" y="137.4" width="8.4" height="14.4" fill="#4a6e98" stroke="#3a3a3a" stroke-width="0.8" />
<line x1="538.83" y1="142.2" x2="547.23" y2="142.2" stroke="#3a3a3a" stroke-width="0.8" />
<ellipse cx="543.03" cy="72.4" rx="0.9" ry="0.9" fill="#222"/>
<ellipse cx="543.03" cy="100.5" rx="0.9" ry="0.9" fill="#222"/>
<ellipse cx="543.03" cy="106" rx="0.9" ry="0.9" fill="#222"/>
<line x1="549.24" y1="137.4" x2="557.64" y2="137.4" stroke="#444" stroke-width="1" />
<line x1="559.65" y1="133.6" x2="568.05" y2="133.6" stroke="#555" stroke-width="1" />
<line x1="570.06" y1="132.4" x2="578.46" y2="132.4" stroke="#222" stroke-width="1.6" />
<line x1="580.47" y1="130.8" x2="588.87" y2="130.8" stroke="#aaa" stroke-width="1" />
<line x1="595.08" y1="135.6" x2="595.08" y2="141" stroke="#3a3a3a" stroke-width="0.8" />
<line x1="592.08" y1="141" x2="598.08" y2="141" stroke="#3a3a3a" stroke-width="0.8" />
<rect x="590.88" y="119.5" width="8.4" height="16.1" fill="#efb27a" stroke="#3a3a3a" stroke-width="0.8" />
<line x1="590.88" y1="131.8" x2="599.28" y2="131.8" stroke="#3a3a3a" stroke-width="0.8" />
<ellipse cx="595.08" cy="91" rx="0.9" ry="0.9" fill="#222"/>
<line x1="605.49" y1="71.3" x2="605.49" y2="79.7" stroke="#3a3a3a" stroke-width="0.8" />
<line x1="605.49" y1="135" x2="605.49" y2="176.4" stroke="#3a3a3a" stroke-width="0.8" />
<line x1="602.49" y1="71.3" x2="608.49" y2="71.3" stroke="#3a3a3a" stroke-width="0.8" />
<line x1="602.49" y1="176.4" x2="608.49" y2="176.4" stroke="#3a3a3a" stroke-width="0.8" />
<rect x="601.29" y="79.7" width="8.4" height="55.3" fill="#98bedb" stroke="#3a3a3a" stroke-width="0.8" />
<line x1="601.29" y1="101.5" x2="609.69" y2="101.5" stroke="#3a3a3a" stroke-width="0.8" />
<ellipse cx="605.49" cy="219.1" rx="0.9" ry="0.9" fill="#222"/>
<line x1="611.7" y1="114.2" x2="620.1" y2="114.2" stroke="#444" stroke-width="1" />
<line x1="626.31" y1="77.4" x2="626.31" y2="85" stroke="#3a3a3a" stroke-width="0.8" />
<line x1="626.31" y1="117.4" x2="626.31" y2="130.3" stroke="#3a3a3a" stroke-width="0.8" />
<line x1="623.31" y1="77.4" x2="629.31" y2="77.4" stroke="#3a3a3a" stroke-width="0.8" />
<line x1="623.31" y1="130.3" x2="629.31" y2="130.3" stroke="#3a3a3a" stroke-width="0.8" />
<rect x="622.11" y="85" width="8.4" height="32.4" fill="#dcab36" stroke="#3a3a3a" stroke-width="0.8" />
<line x1="622.11" y1="100.5" x2="630.51" y2="100.5" stroke="#3a3a3a" stroke-width="0.8" />
<line x1="636.72" y1="86.9" x2="636.72" y2="92.9" stroke="#3a3a3a" stroke-width="0.8" />
<line x1="636.72" y1="111.2" x2="636.72" y2="115" stroke="#3a3a3a" stroke-width="0.8" />
<line x1="633.72" y1="86.9" x2="639.72" y2="86.9" stroke="#3a3a3a" stroke-width="0.8" />
<line x1="633.72" y1="115" x2="639.72" y2="115" stroke="#3a3a3a" stroke-width="0.8" />
<rect x="632.52" y="92.9" width="8.4" height="18.3" fill="#a06e95" stroke="#3a3a3a" stroke-width="0.8" />
<line x1="632.52" y1="103.6" x2="640.92" y2="103.6" stroke="#3a3a3a" stroke-width="0.8" />
<line x1="647.13" y1="83.4" x2="647.13" y2="91.6" stroke="#3a3a3a" stroke-width="0.8" />
<line x1="647.13" y1="104.3" x2="647.13" y2="110" stroke="#3a3a3a" stroke-width="0.8" />
<line x1="644.13" y1="83.4" x2="650.13" y2="83.4" stroke="#3a3a3a" stroke-width="0.8" />
<line x1="644.13" y1="110" x2="650.13" y2="110" stroke="#3a3a3a" stroke-width="0.8" />
<rect x="642.93" y="91.6" width="8.4" height="12.7" fill="#c99bc1" stroke="#3a3a3a" stroke-width="0.8" />
<line x1="642.93" y1="100.2" x2="651.33" y2="100.2" stroke="#3a3a3a" stroke-width="0.8" />
<line x1="657.54" y1="25.2" x2="657.54" y2="75.1" stroke="#3a3a3a" stroke-width="0.8" />
<line x1="654.54" y1="25.2" x2="660.54" y2="25.2" stroke="#3a3a3a" stroke-width="0.8" />
<rect x="653.34" y="75.1" width="8.4" height="34.2" fill="#9b6e58" stroke="#3a3a3a" stroke-width="0.8" />
<line x1="653.34" y1="106.8" x2="661.74" y2="106.8" stroke="#3a3a3a" stroke-width="0.8" />
<ellipse cx="657.54" cy="170.7" rx="0.9" ry="0.9" fill="#222"/>
<line x1="663.75" y1="61.2" x2="672.15" y2="61.2" stroke="#444" stroke-width="1" />
<line x1="674.16" y1="41.3" x2="682.56" y2="41.3" stroke="#444" stroke-width="1" />
<rect x="505.6" y="15.5" width="178.9" height="214.1" fill="none" stroke="#4a4343" stroke-width="0.95" />
<line x1="504.1" y1="52.4" x2="505.6" y2="52.4" stroke="#444" stroke-width="0.8" />
<text x="502.4" y="61.75" font-size="8.2" fill="#4a4a4a" text-anchor="end">0.8</text>
<line x1="504.1" y1="107.7" x2="505.6" y2="107.7" stroke="#444" stroke-width="0.8" />
<text x="502.4" y="117.49" font-size="8.2" fill="#4a4a4a" text-anchor="end">0.6</text>
<line x1="504.1" y1="163" x2="505.6" y2="163" stroke="#444" stroke-width="0.8" />
<text x="502.4" y="173.23" font-size="8.2" fill="#4a4a4a" text-anchor="end">0.4</text>
<line x1="504.1" y1="219.8" x2="505.6" y2="219.8" stroke="#444" stroke-width="0.8" />
<text x="502.4" y="228.97" font-size="8.2" fill="#4a4a4a" text-anchor="end">0.2</text>
<line x1="511.8" y1="224.8" x2="511.8" y2="226.3" stroke="#555" stroke-width="0.7" />
<text x="514.9" y="236" font-size="8.2" fill="#1a1a1a" font-style="italic" text-anchor="end" transform="rotate(-60 514.9 236)">E. coli</text>
<line x1="522.21" y1="224.8" x2="522.21" y2="226.3" stroke="#555" stroke-width="0.7" />
<text x="525.31" y="236" font-size="8.2" fill="#1a1a1a" font-style="italic" text-anchor="end" transform="rotate(-60 525.31 236)">P. vulgatus</text>
<line x1="532.62" y1="224.8" x2="532.62" y2="226.3" stroke="#555" stroke-width="0.7" />
<text x="535.72" y="236" font-size="8.2" fill="#1a1a1a" font-style="italic" text-anchor="end" transform="rotate(-60 535.72 236)">B. fragilis</text>
<line x1="543.03" y1="224.8" x2="543.03" y2="226.3" stroke="#555" stroke-width="0.7" />
<text x="546.13" y="236" font-size="8.2" fill="#1a1a1a" font-style="italic" text-anchor="end" transform="rotate(-60 546.13 236)">E. faecalis</text>
<line x1="553.44" y1="224.8" x2="553.44" y2="226.3" stroke="#555" stroke-width="0.7" />
<text x="556.54" y="236" font-size="8.2" fill="#1a1a1a" font-style="italic" text-anchor="end" transform="rotate(-60 556.54 236)">B. cereus</text>
<line x1="563.85" y1="224.8" x2="563.85" y2="226.3" stroke="#555" stroke-width="0.7" />
<text x="566.95" y="236" font-size="8.2" fill="#1a1a1a" font-style="italic" text-anchor="end" transform="rotate(-60 566.95 236)">B. thetaiotaomicron</text>
<line x1="574.26" y1="224.8" x2="574.26" y2="226.3" stroke="#555" stroke-width="0.7" />
<text x="577.36" y="236" font-size="8.2" fill="#1a1a1a" font-style="italic" text-anchor="end" transform="rotate(-60 577.36 236)">B. cellulosilyticus</text>
<line x1="584.67" y1="224.8" x2="584.67" y2="226.3" stroke="#555" stroke-width="0.7" />
<text x="587.77" y="236" font-size="8.2" fill="#1a1a1a" font-style="italic" text-anchor="end" transform="rotate(-60 587.77 236)">B. xylanisolvens</text>
<line x1="595.08" y1="224.8" x2="595.08" y2="226.3" stroke="#555" stroke-width="0.7" />
<text x="598.18" y="236" font-size="8.2" fill="#1a1a1a" font-style="italic" text-anchor="end" transform="rotate(-60 598.18 236)">P. distasonis</text>
<line x1="605.49" y1="224.8" x2="605.49" y2="226.3" stroke="#555" stroke-width="0.7" />
<text x="608.59" y="236" font-size="8.2" fill="#1a1a1a" font-style="italic" text-anchor="end" transform="rotate(-60 608.59 236)">C. sakazakii</text>
<line x1="615.9" y1="224.8" x2="615.9" y2="226.3" stroke="#555" stroke-width="0.7" />
<text x="619" y="236" font-size="8.2" fill="#1a1a1a" font-style="italic" text-anchor="end" transform="rotate(-60 619 236)">B. longum</text>
<line x1="626.31" y1="224.8" x2="626.31" y2="226.3" stroke="#555" stroke-width="0.7" />
<text x="629.41" y="236" font-size="8.2" fill="#1a1a1a" font-style="italic" text-anchor="end" transform="rotate(-60 629.41 236)">E. lenta</text>
<line x1="636.72" y1="224.8" x2="636.72" y2="226.3" stroke="#555" stroke-width="0.7" />
<text x="639.82" y="236" font-size="8.2" fill="#1a1a1a" font-style="italic" text-anchor="end" transform="rotate(-60 639.82 236)">M. gnavus</text>
<line x1="647.13" y1="224.8" x2="647.13" y2="226.3" stroke="#555" stroke-width="0.7" />
<text x="650.23" y="236" font-size="8.2" fill="#1a1a1a" font-style="italic" text-anchor="end" transform="rotate(-60 650.23 236)">D. longicatena</text>
<line x1="657.54" y1="224.8" x2="657.54" y2="226.3" stroke="#555" stroke-width="0.7" />
<text x="660.64" y="236" font-size="8.2" fill="#1a1a1a" font-style="italic" text-anchor="end" transform="rotate(-60 660.64 236)">K. pneumoniae</text>
<line x1="667.95" y1="224.8" x2="667.95" y2="226.3" stroke="#555" stroke-width="0.7" />
<text x="671.05" y="236" font-size="8.2" fill="#1a1a1a" font-style="italic" text-anchor="end" transform="rotate(-60 671.05 236)">C. perfringens</text>
<line x1="678.36" y1="224.8" x2="678.36" y2="226.3" stroke="#555" stroke-width="0.7" />
<text x="681.46" y="236" font-size="8.2" fill="#1a1a1a" font-style="italic" text-anchor="end" transform="rotate(-60 681.46 236)">L. paracasei</text>
<text x="476.5" y="127.6" font-size="9.8" fill="#000" font-weight="bold" text-anchor="middle" transform="rotate(-90 476.5 127.6)">Phage annotation rate</text>
<text x="486.6" y="127.3" font-size="9.45" fill="#000" font-weight="bold" text-anchor="middle" transform="rotate(-90 486.6 127.3)">(annotated CDSs / total CDSs)</text>
<text x="593.2" y="311.3" font-size="9.45" fill="#000" font-weight="bold" text-anchor="middle">Host species</text>
<text x="462.9" y="10.9" font-size="14.5" fill="#231815" font-weight="bold">C</text>
<rect x="71.7" y="345.6" width="562.9" height="231.7" fill="#fff" />
<line x1="71.7" y1="383.2" x2="634.6" y2="383.2" stroke="#f4f4f4" stroke-width="0.6" />
<line x1="71.7" y1="435.7" x2="634.6" y2="435.7" stroke="#f4f4f4" stroke-width="0.6" />
<line x1="71.7" y1="488" x2="634.6" y2="488" stroke="#f4f4f4" stroke-width="0.6" />
<line x1="71.7" y1="540.3" x2="634.6" y2="540.3" stroke="#f4f4f4" stroke-width="0.6" />
<line x1="71.7" y1="357" x2="634.6" y2="357" stroke="#ebebeb" stroke-width="0.9" />
<line x1="71.7" y1="409.5" x2="634.6" y2="409.5" stroke="#ebebeb" stroke-width="0.9" />
<line x1="71.7" y1="462" x2="634.6" y2="462" stroke="#ebebeb" stroke-width="0.9" />
<line x1="71.7" y1="514.1" x2="634.6" y2="514.1" stroke="#ebebeb" stroke-width="0.9" />
<line x1="71.7" y1="566.6" x2="634.6" y2="566.6" stroke="#ebebeb" stroke-width="0.9" />
<line x1="74.76" y1="345.6" x2="74.76" y2="577.3" stroke="#ebebeb" stroke-width="0.7" />
<line x1="80.27" y1="345.6" x2="80.27" y2="577.3" stroke="#ebebeb" stroke-width="0.7" />
<line x1="85.77" y1="345.6" x2="85.77" y2="577.3" stroke="#ebebeb" stroke-width="0.7" />
<line x1="91.28" y1="345.6" x2="91.28" y2="577.3" stroke="#ebebeb" stroke-width="0.7" />
<line x1="96.78" y1="345.6" x2="96.78" y2="577.3" stroke="#ebebeb" stroke-width="0.7" />
<line x1="102.28" y1="345.6" x2="102.28" y2="577.3" stroke="#ebebeb" stroke-width="0.7" />
<line x1="107.79" y1="345.6" x2="107.79" y2="577.3" stroke="#ebebeb" stroke-width="0.7" />
<line x1="113.3" y1="345.6" x2="113.3" y2="577.3" stroke="#ebebeb" stroke-width="0.7" />
<line x1="118.8" y1="345.6" x2="118.8" y2="577.3" stroke="#ebebeb" stroke-width="0.7" />
<line x1="124.31" y1="345.6" x2="124.31" y2="577.3" stroke="#ebebeb" stroke-width="0.7" />
<line x1="129.81" y1="345.6" x2="129.81" y2="577.3" stroke="#ebebeb" stroke-width="0.7" />
<line x1="135.31" y1="345.6" x2="135.31" y2="577.3" stroke="#ebebeb" stroke-width="0.7" />
<line x1="140.82" y1="345.6" x2="140.82" y2="577.3" stroke="#ebebeb" stroke-width="0.7" />
<line x1="146.32" y1="345.6" x2="146.32" y2="577.3" stroke="#ebebeb" stroke-width="0.7" />
<line x1="151.83" y1="345.6" x2="151.83" y2="577.3" stroke="#ebebeb" stroke-width="0.7" />
<line x1="157.34" y1="345.6" x2="157.34" y2="577.3" stroke="#ebebeb" stroke-width="0.7" />
<line x1="162.84" y1="345.6" x2="162.84" y2="577.3" stroke="#ebebeb" stroke-width="0.7" />
<line x1="168.34" y1="345.6" x2="168.34" y2="577.3" stroke="#ebebeb" stroke-width="0.7" />
<line x1="173.85" y1="345.6" x2="173.85" y2="577.3" stroke="#ebebeb" stroke-width="0.7" />
<line x1="179.36" y1="345.6" x2="179.36" y2="577.3" stroke="#ebebeb" stroke-width="0.7" />
<line x1="184.86" y1="345.6" x2="184.86" y2="577.3" stroke="#ebebeb" stroke-width="0.7" />
<line x1="190.37" y1="345.6" x2="190.37" y2="577.3" stroke="#ebebeb" stroke-width="0.7" />
<line x1="195.87" y1="345.6" x2="195.87" y2="577.3" stroke="#ebebeb" stroke-width="0.7" />
<line x1="201.38" y1="345.6" x2="201.38" y2="577.3" stroke="#ebebeb" stroke-width="0.7" />
<line x1="206.88" y1="345.6" x2="206.88" y2="577.3" stroke="#ebebeb" stroke-width="0.7" />
<line x1="212.38" y1="345.6" x2="212.38" y2="577.3" stroke="#ebebeb" stroke-width="0.7" />
<line x1="217.89" y1="345.6" x2="217.89" y2="577.3" stroke="#ebebeb" stroke-width="0.7" />
<line x1="223.39" y1="345.6" x2="223.39" y2="577.3" stroke="#ebebeb" stroke-width="0.7" />
<line x1="228.9" y1="345.6" x2="228.9" y2="577.3" stroke="#ebebeb" stroke-width="0.7" />
<line x1="234.41" y1="345.6" x2="234.41" y2="577.3" stroke="#ebebeb" stroke-width="0.7" />
<line x1="239.91" y1="345.6" x2="239.91" y2="577.3" stroke="#ebebeb" stroke-width="0.7" />
<line x1="245.42" y1="345.6" x2="245.42" y2="577.3" stroke="#ebebeb" stroke-width="0.7" />
<line x1="250.92" y1="345.6" x2="250.92" y2="577.3" stroke="#ebebeb" stroke-width="0.7" />
<line x1="256.43" y1="345.6" x2="256.43" y2="577.3" stroke="#ebebeb" stroke-width="0.7" />
<line x1="261.93" y1="345.6" x2="261.93" y2="577.3" stroke="#ebebeb" stroke-width="0.7" />
<line x1="267.44" y1="345.6" x2="267.44" y2="577.3" stroke="#ebebeb" stroke-width="0.7" />
<line x1="272.94" y1="345.6" x2="272.94" y2="577.3" stroke="#ebebeb" stroke-width="0.7" />
<line x1="278.44" y1="345.6" x2="278.44" y2="577.3" stroke="#ebebeb" stroke-width="0.7" />
<line x1="283.95" y1="345.6" x2="283.95" y2="577.3" stroke="#ebebeb" stroke-width="0.7" />
<line x1="289.45" y1="345.6" x2="289.45" y2="577.3" stroke="#ebebeb" stroke-width="0.7" />
<line x1="294.96" y1="345.6" x2="294.96" y2="577.3" stroke="#ebebeb" stroke-width="0.7" />
<line x1="300.46" y1="345.6" x2="300.46" y2="577.3" stroke="#ebebeb" stroke-width="0.7" />
<line x1="305.97" y1="345.6" x2="305.97" y2="577.3" stroke="#ebebeb" stroke-width="0.7" />
<line x1="311.48" y1="345.6" x2="311.48" y2="577.3" stroke="#ebebeb" stroke-width="0.7" />
<line x1="316.98" y1="345.6" x2="316.98" y2="577.3" stroke="#ebebeb" stroke-width="0.7" />
<line x1="322.49" y1="345.6" x2="322.49" y2="577.3" stroke="#ebebeb" stroke-width="0.7" />
<line x1="327.99" y1="345.6" x2="327.99" y2="577.3" stroke="#ebebeb" stroke-width="0.7" />
<line x1="333.5" y1="345.6" x2="333.5" y2="577.3" stroke="#ebebeb" stroke-width="0.7" />
<line x1="339" y1="345.6" x2="339" y2="577.3" stroke="#ebebeb" stroke-width="0.7" />
<line x1="344.5" y1="345.6" x2="344.5" y2="577.3" stroke="#ebebeb" stroke-width="0.7" />
<line x1="350.01" y1="345.6" x2="350.01" y2="577.3" stroke="#ebebeb" stroke-width="0.7" />
<line x1="355.51" y1="345.6" x2="355.51" y2="577.3" stroke="#ebebeb" stroke-width="0.7" />
<line x1="361.02" y1="345.6" x2="361.02" y2="577.3" stroke="#ebebeb" stroke-width="0.7" />
<line x1="366.52" y1="345.6" x2="366.52" y2="577.3" stroke="#ebebeb" stroke-width="0.7" />
<line x1="372.03" y1="345.6" x2="372.03" y2="577.3" stroke="#ebebeb" stroke-width="0.7" />
<line x1="377.53" y1="345.6" x2="377.53" y2="577.3" stroke="#ebebeb" stroke-width="0.7" />
<line x1="383.04" y1="345.6" x2="383.04" y2="577.3" stroke="#ebebeb" stroke-width="0.7" />
<line x1="388.54" y1="345.6" x2="388.54" y2="577.3" stroke="#ebebeb" stroke-width="0.7" />
<line x1="394.05" y1="345.6" x2="394.05" y2="577.3" stroke="#ebebeb" stroke-width="0.7" />
<line x1="399.56" y1="345.6" x2="399.56" y2="577.3" stroke="#ebebeb" stroke-width="0.7" />
<line x1="405.06" y1="345.6" x2="405.06" y2="577.3" stroke="#ebebeb" stroke-width="0.7" />
<line x1="410.56" y1="345.6" x2="410.56" y2="577.3" stroke="#ebebeb" stroke-width="0.7" />
<line x1="416.07" y1="345.6" x2="416.07" y2="577.3" stroke="#ebebeb" stroke-width="0.7" />
<line x1="421.57" y1="345.6" x2="421.57" y2="577.3" stroke="#ebebeb" stroke-width="0.7" />
<line x1="427.08" y1="345.6" x2="427.08" y2="577.3" stroke="#ebebeb" stroke-width="0.7" />
<line x1="432.58" y1="345.6" x2="432.58" y2="577.3" stroke="#ebebeb" stroke-width="0.7" />
<line x1="438.09" y1="345.6" x2="438.09" y2="577.3" stroke="#ebebeb" stroke-width="0.7" />
<line x1="443.59" y1="345.6" x2="443.59" y2="577.3" stroke="#ebebeb" stroke-width="0.7" />
<line x1="449.1" y1="345.6" x2="449.1" y2="577.3" stroke="#ebebeb" stroke-width="0.7" />
<line x1="454.6" y1="345.6" x2="454.6" y2="577.3" stroke="#ebebeb" stroke-width="0.7" />
<line x1="460.11" y1="345.6" x2="460.11" y2="577.3" stroke="#ebebeb" stroke-width="0.7" />
<line x1="465.62" y1="345.6" x2="465.62" y2="577.3" stroke="#ebebeb" stroke-width="0.7" />
<line x1="471.12" y1="345.6" x2="471.12" y2="577.3" stroke="#ebebeb" stroke-width="0.7" />
<line x1="476.62" y1="345.6" x2="476.62" y2="577.3" stroke="#ebebeb" stroke-width="0.7" />
<line x1="482.13" y1="345.6" x2="482.13" y2="577.3" stroke="#ebebeb" stroke-width="0.7" />
<line x1="487.63" y1="345.6" x2="487.63" y2="577.3" stroke="#ebebeb" stroke-width="0.7" />
<line x1="493.14" y1="345.6" x2="493.14" y2="577.3" stroke="#ebebeb" stroke-width="0.7" />
<line x1="498.64" y1="345.6" x2="498.64" y2="577.3" stroke="#ebebeb" stroke-width="0.7" />
<line x1="504.15" y1="345.6" x2="504.15" y2="577.3" stroke="#ebebeb" stroke-width="0.7" />
<line x1="509.65" y1="345.6" x2="509.65" y2="577.3" stroke="#ebebeb" stroke-width="0.7" />
<line x1="515.16" y1="345.6" x2="515.16" y2="577.3" stroke="#ebebeb" stroke-width="0.7" />
<line x1="520.66" y1="345.6" x2="520.66" y2="577.3" stroke="#ebebeb" stroke-width="0.7" />
<line x1="526.17" y1="345.6" x2="526.17" y2="577.3" stroke="#ebebeb" stroke-width="0.7" />
<line x1="531.67" y1="345.6" x2="531.67" y2="577.3" stroke="#ebebeb" stroke-width="0.7" />
<line x1="537.18" y1="345.6" x2="537.18" y2="577.3" stroke="#ebebeb" stroke-width="0.7" />
<line x1="542.69" y1="345.6" x2="542.69" y2="577.3" stroke="#ebebeb" stroke-width="0.7" />
<line x1="548.19" y1="345.6" x2="548.19" y2="577.3" stroke="#ebebeb" stroke-width="0.7" />
<line x1="553.7" y1="345.6" x2="553.7" y2="577.3" stroke="#ebebeb" stroke-width="0.7" />
<line x1="559.2" y1="345.6" x2="559.2" y2="577.3" stroke="#ebebeb" stroke-width="0.7" />
<line x1="564.71" y1="345.6" x2="564.71" y2="577.3" stroke="#ebebeb" stroke-width="0.7" />
<line x1="570.21" y1="345.6" x2="570.21" y2="577.3" stroke="#ebebeb" stroke-width="0.7" />
<line x1="575.72" y1="345.6" x2="575.72" y2="577.3" stroke="#ebebeb" stroke-width="0.7" />
<line x1="581.22" y1="345.6" x2="581.22" y2="577.3" stroke="#ebebeb" stroke-width="0.7" />
<line x1="586.73" y1="345.6" x2="586.73" y2="577.3" stroke="#ebebeb" stroke-width="0.7" />
<line x1="592.23" y1="345.6" x2="592.23" y2="577.3" stroke="#ebebeb" stroke-width="0.7" />
<line x1="597.74" y1="345.6" x2="597.74" y2="577.3" stroke="#ebebeb" stroke-width="0.7" />
<line x1="603.24" y1="345.6" x2="603.24" y2="577.3" stroke="#ebebeb" stroke-width="0.7" />
<line x1="608.75" y1="345.6" x2="608.75" y2="577.3" stroke="#ebebeb" stroke-width="0.7" />
<line x1="614.25" y1="345.6" x2="614.25" y2="577.3" stroke="#ebebeb" stroke-width="0.7" />
<line x1="619.75" y1="345.6" x2="619.75" y2="577.3" stroke="#ebebeb" stroke-width="0.7" />
<line x1="625.26" y1="345.6" x2="625.26" y2="577.3" stroke="#ebebeb" stroke-width="0.7" />
<line x1="630.76" y1="345.6" x2="630.76" y2="577.3" stroke="#ebebeb" stroke-width="0.7" />
<line x1="71.7" y1="345.6" x2="634.6" y2="345.6" stroke="#d6d6d6" stroke-width="1.4" />
<line x1="74.76" y1="553.15" x2="74.76" y2="542.02" stroke="#a0a0a0" stroke-width="0.6" />
<line x1="74.76" y1="560.62" x2="74.76" y2="564.12" stroke="#a0a0a0" stroke-width="0.6" />
<rect x="73.06" y="553.15" width="3.4" height="7.47" fill="#e48c30" stroke="#b9702a" stroke-width="0.45" />
<line x1="73.06" y1="557.75" x2="76.46" y2="557.75" stroke="#6b4a2a" stroke-width="0.6" />
<ellipse cx="74.76" cy="471.3" rx="2.05" ry="1.35" fill="#2b2b2b"/>
<ellipse cx="74.76" cy="494.28" rx="2.05" ry="1.35" fill="#2b2b2b"/>
<ellipse cx="74.76" cy="503.18" rx="2.05" ry="1.35" fill="#2b2b2b"/>
<ellipse cx="74.76" cy="508.93" rx="2.05" ry="1.35" fill="#2b2b2b"/>
<ellipse cx="74.76" cy="510.84" rx="2.05" ry="1.35" fill="#2b2b2b"/>
<ellipse cx="74.76" cy="512.76" rx="2.05" ry="1.35" fill="#2b2b2b"/>
<ellipse cx="74.76" cy="514.67" rx="2.05" ry="1.35" fill="#2b2b2b"/>
<ellipse cx="74.76" cy="516.11" rx="2.05" ry="1.35" fill="#2b2b2b"/>
<ellipse cx="74.76" cy="518.98" rx="2.05" ry="1.35" fill="#2b2b2b"/>
<ellipse cx="74.76" cy="521.85" rx="2.05" ry="1.35" fill="#2b2b2b"/>
<ellipse cx="74.76" cy="523.92" rx="2.05" ry="1.35" fill="#2b2b2b"/>
<ellipse cx="74.76" cy="526" rx="2.05" ry="1.35" fill="#2b2b2b"/>
<ellipse cx="74.76" cy="528.07" rx="2.05" ry="1.35" fill="#2b2b2b"/>
<ellipse cx="74.76" cy="530.15" rx="2.05" ry="1.35" fill="#2b2b2b"/>
<ellipse cx="74.76" cy="532.22" rx="2.05" ry="1.35" fill="#2b2b2b"/>
<ellipse cx="74.76" cy="534.29" rx="2.05" ry="1.35" fill="#2b2b2b"/>
<ellipse cx="74.76" cy="536.37" rx="2.05" ry="1.35" fill="#2b2b2b"/>
<ellipse cx="74.76" cy="538.44" rx="2.05" ry="1.35" fill="#2b2b2b"/>
<ellipse cx="74.76" cy="540.52" rx="2.05" ry="1.35" fill="#2b2b2b"/>
<line x1="80.27" y1="554.88" x2="80.27" y2="545.18" stroke="#a0a0a0" stroke-width="0.6" />
<line x1="80.27" y1="561.34" x2="80.27" y2="564.84" stroke="#a0a0a0" stroke-width="0.6" />
<rect x="78.56" y="554.88" width="3.4" height="6.46" fill="#e48c30" stroke="#b9702a" stroke-width="0.45" />
<line x1="78.56" y1="558.47" x2="81.97" y2="558.47" stroke="#6b4a2a" stroke-width="0.6" />
<ellipse cx="80.27" cy="494.28" rx="2.05" ry="1.35" fill="#2b2b2b"/>
<ellipse cx="80.27" cy="503.18" rx="2.05" ry="1.35" fill="#2b2b2b"/>
<ellipse cx="80.27" cy="507.49" rx="2.05" ry="1.35" fill="#2b2b2b"/>
<ellipse cx="80.27" cy="509.64" rx="2.05" ry="1.35" fill="#2b2b2b"/>
<ellipse cx="80.27" cy="511.8" rx="2.05" ry="1.35" fill="#2b2b2b"/>
<ellipse cx="80.27" cy="516.11" rx="2.05" ry="1.35" fill="#2b2b2b"/>
<ellipse cx="80.27" cy="518.05" rx="2.05" ry="1.35" fill="#2b2b2b"/>
<ellipse cx="80.27" cy="520" rx="2.05" ry="1.35" fill="#2b2b2b"/>
<ellipse cx="80.27" cy="521.95" rx="2.05" ry="1.35" fill="#2b2b2b"/>
<ellipse cx="80.27" cy="523.9" rx="2.05" ry="1.35" fill="#2b2b2b"/>
<ellipse cx="80.27" cy="525.85" rx="2.05" ry="1.35" fill="#2b2b2b"/>
<ellipse cx="80.27" cy="527.8" rx="2.05" ry="1.35" fill="#2b2b2b"/>
<ellipse cx="80.27" cy="529.75" rx="2.05" ry="1.35" fill="#2b2b2b"/>
<ellipse cx="80.27" cy="531.7" rx="2.05" ry="1.35" fill="#2b2b2b"/>
<ellipse cx="80.27" cy="533.64" rx="2.05" ry="1.35" fill="#2b2b2b"/>
<ellipse cx="80.27" cy="535.59" rx="2.05" ry="1.35" fill="#2b2b2b"/>
<ellipse cx="80.27" cy="537.54" rx="2.05" ry="1.35" fill="#2b2b2b"/>
<ellipse cx="80.27" cy="539.49" rx="2.05" ry="1.35" fill="#2b2b2b"/>
<ellipse cx="80.27" cy="541.44" rx="2.05" ry="1.35" fill="#2b2b2b"/>
<ellipse cx="80.27" cy="543.39" rx="2.05" ry="1.35" fill="#2b2b2b"/>
<line x1="85.77" y1="547.41" x2="85.77" y2="531.97" stroke="#a0a0a0" stroke-width="0.6" />
<line x1="85.77" y1="559.18" x2="85.77" y2="562.68" stroke="#a0a0a0" stroke-width="0.6" />
<rect x="84.07" y="547.41" width="3.4" height="11.77" fill="#e48c30" stroke="#b9702a" stroke-width="0.45" />
<line x1="84.07" y1="556.03" x2="87.47" y2="556.03" stroke="#6b4a2a" stroke-width="0.6" />
<ellipse cx="85.77" cy="472.74" rx="2.05" ry="1.35" fill="#2b2b2b"/>
<ellipse cx="85.77" cy="502.46" rx="2.05" ry="1.35" fill="#2b2b2b"/>
<ellipse cx="85.77" cy="504.14" rx="2.05" ry="1.35" fill="#2b2b2b"/>
<ellipse cx="85.77" cy="505.81" rx="2.05" ry="1.35" fill="#2b2b2b"/>
<ellipse cx="85.77" cy="507.49" rx="2.05" ry="1.35" fill="#2b2b2b"/>
<ellipse cx="85.77" cy="510.36" rx="2.05" ry="1.35" fill="#2b2b2b"/>
<ellipse cx="85.77" cy="512.37" rx="2.05" ry="1.35" fill="#2b2b2b"/>
<ellipse cx="85.77" cy="514.38" rx="2.05" ry="1.35" fill="#2b2b2b"/>
<ellipse cx="85.77" cy="516.39" rx="2.05" ry="1.35" fill="#2b2b2b"/>
<ellipse cx="85.77" cy="518.4" rx="2.05" ry="1.35" fill="#2b2b2b"/>
<ellipse cx="85.77" cy="520.41" rx="2.05" ry="1.35" fill="#2b2b2b"/>
<ellipse cx="85.77" cy="522.42" rx="2.05" ry="1.35" fill="#2b2b2b"/>
<ellipse cx="85.77" cy="524.43" rx="2.05" ry="1.35" fill="#2b2b2b"/>
<ellipse cx="85.77" cy="526.44" rx="2.05" ry="1.35" fill="#2b2b2b"/>
<ellipse cx="85.77" cy="528.45" rx="2.05" ry="1.35" fill="#2b2b2b"/>
<ellipse cx="85.77" cy="530.47" rx="2.05" ry="1.35" fill="#2b2b2b"/>
<line x1="91.28" y1="552.29" x2="91.28" y2="540.58" stroke="#a0a0a0" stroke-width="0.6" />
<line x1="91.28" y1="561.34" x2="91.28" y2="564.84" stroke="#a0a0a0" stroke-width="0.6" />
<rect x="89.58" y="552.29" width="3.4" height="9.05" fill="#e48c30" stroke="#b9702a" stroke-width="0.45" />
<line x1="89.58" y1="557.03" x2="92.98" y2="557.03" stroke="#6b4a2a" stroke-width="0.6" />
<ellipse cx="91.28" cy="470.59" rx="2.05" ry="1.35" fill="#2b2b2b"/>
<ellipse cx="91.28" cy="492.41" rx="2.05" ry="1.35" fill="#2b2b2b"/>
<ellipse cx="91.28" cy="496.43" rx="2.05" ry="1.35" fill="#2b2b2b"/>
<ellipse cx="91.28" cy="506.05" rx="2.05" ry="1.35" fill="#2b2b2b"/>
<ellipse cx="91.28" cy="518.26" rx="2.05" ry="1.35" fill="#2b2b2b"/>
<ellipse cx="91.28" cy="520.34" rx="2.05" ry="1.35" fill="#2b2b2b"/>
<ellipse cx="91.28" cy="522.42" rx="2.05" ry="1.35" fill="#2b2b2b"/>
<ellipse cx="91.28" cy="524.51" rx="2.05" ry="1.35" fill="#2b2b2b"/>
<ellipse cx="91.28" cy="526.59" rx="2.05" ry="1.35" fill="#2b2b2b"/>
<ellipse cx="91.28" cy="528.67" rx="2.05" ry="1.35" fill="#2b2b2b"/>
<ellipse cx="91.28" cy="530.75" rx="2.05" ry="1.35" fill="#2b2b2b"/>
<ellipse cx="91.28" cy="532.83" rx="2.05" ry="1.35" fill="#2b2b2b"/>
<ellipse cx="91.28" cy="534.92" rx="2.05" ry="1.35" fill="#2b2b2b"/>
<ellipse cx="91.28" cy="537" rx="2.05" ry="1.35" fill="#2b2b2b"/>
<ellipse cx="91.28" cy="539.08" rx="2.05" ry="1.35" fill="#2b2b2b"/>
<line x1="96.78" y1="552.72" x2="96.78" y2="540.58" stroke="#a0a0a0" stroke-width="0.6" />
<line x1="96.78" y1="561.34" x2="96.78" y2="564.84" stroke="#a0a0a0" stroke-width="0.6" />
<rect x="95.08" y="552.72" width="3.4" height="8.62" fill="#e48c30" stroke="#b9702a" stroke-width="0.45" />
<line x1="95.08" y1="557.03" x2="98.48" y2="557.03" stroke="#6b4a2a" stroke-width="0.6" />
<ellipse cx="96.78" cy="470.59" rx="2.05" ry="1.35" fill="#2b2b2b"/>
<ellipse cx="96.78" cy="477.05" rx="2.05" ry="1.35" fill="#2b2b2b"/>
<ellipse cx="96.78" cy="492.41" rx="2.05" ry="1.35" fill="#2b2b2b"/>
<ellipse cx="96.78" cy="496.43" rx="2.05" ry="1.35" fill="#2b2b2b"/>
<ellipse cx="96.78" cy="506.05" rx="2.05" ry="1.35" fill="#2b2b2b"/>
<ellipse cx="96.78" cy="518.26" rx="2.05" ry="1.35" fill="#2b2b2b"/>
<ellipse cx="96.78" cy="520.34" rx="2.05" ry="1.35" fill="#2b2b2b"/>
<ellipse cx="96.78" cy="522.42" rx="2.05" ry="1.35" fill="#2b2b2b"/>
<ellipse cx="96.78" cy="524.51" rx="2.05" ry="1.35" fill="#2b2b2b"/>
<ellipse cx="96.78" cy="526.59" rx="2.05" ry="1.35" fill="#2b2b2b"/>
<ellipse cx="96.78" cy="528.67" rx="2.05" ry="1.35" fill="#2b2b2b"/>
<ellipse cx="96.78" cy="530.75" rx="2.05" ry="1.35" fill="#2b2b2b"/>
<ellipse cx="96.78" cy="532.83" rx="2.05" ry="1.35" fill="#2b2b2b"/>
<ellipse cx="96.78" cy="534.92" rx="2.05" ry="1.35" fill="#2b2b2b"/>
<ellipse cx="96.78" cy="537" rx="2.05" ry="1.35" fill="#2b2b2b"/>
<ellipse cx="96.78" cy="539.08" rx="2.05" ry="1.35" fill="#2b2b2b"/>
<line x1="102.28" y1="554.88" x2="102.28" y2="546.32" stroke="#a0a0a0" stroke-width="0.6" />
<line x1="102.28" y1="562.77" x2="102.28" y2="565" stroke="#a0a0a0" stroke-width="0.6" />
<rect x="100.58" y="554.88" width="3.4" height="7.9" fill="#e48c30" stroke="#b9702a" stroke-width="0.45" />
<line x1="100.58" y1="559.9" x2="103.98" y2="559.9" stroke="#6b4a2a" stroke-width="0.6" />
<ellipse cx="102.28" cy="502.75" rx="2.05" ry="1.35" fill="#2b2b2b"/>
<ellipse cx="102.28" cy="506.34" rx="2.05" ry="1.35" fill="#2b2b2b"/>
<ellipse cx="102.28" cy="510.65" rx="2.05" ry="1.35" fill="#2b2b2b"/>
<ellipse cx="102.28" cy="511.8" rx="2.05" ry="1.35" fill="#2b2b2b"/>
<ellipse cx="102.28" cy="518.26" rx="2.05" ry="1.35" fill="#2b2b2b"/>
<ellipse cx="102.28" cy="520.3" rx="2.05" ry="1.35" fill="#2b2b2b"/>
<ellipse cx="102.28" cy="522.35" rx="2.05" ry="1.35" fill="#2b2b2b"/>
<ellipse cx="102.28" cy="524.39" rx="2.05" ry="1.35" fill="#2b2b2b"/>
<ellipse cx="102.28" cy="526.43" rx="2.05" ry="1.35" fill="#2b2b2b"/>
<ellipse cx="102.28" cy="528.48" rx="2.05" ry="1.35" fill="#2b2b2b"/>
<ellipse cx="102.28" cy="530.52" rx="2.05" ry="1.35" fill="#2b2b2b"/>
<ellipse cx="102.28" cy="532.56" rx="2.05" ry="1.35" fill="#2b2b2b"/>
<ellipse cx="102.28" cy="534.61" rx="2.05" ry="1.35" fill="#2b2b2b"/>
<ellipse cx="102.28" cy="536.65" rx="2.05" ry="1.35" fill="#2b2b2b"/>
<ellipse cx="102.28" cy="538.69" rx="2.05" ry="1.35" fill="#2b2b2b"/>
<ellipse cx="102.28" cy="540.74" rx="2.05" ry="1.35" fill="#2b2b2b"/>
<ellipse cx="102.28" cy="542.78" rx="2.05" ry="1.35" fill="#2b2b2b"/>
<ellipse cx="102.28" cy="544.82" rx="2.05" ry="1.35" fill="#2b2b2b"/>
<line x1="107.79" y1="554.88" x2="107.79" y2="546.32" stroke="#a0a0a0" stroke-width="0.6" />
<line x1="107.79" y1="562.77" x2="107.79" y2="565" stroke="#a0a0a0" stroke-width="0.6" />
<rect x="106.09" y="554.88" width="3.4" height="7.9" fill="#e48c30" stroke="#b9702a" stroke-width="0.45" />
<line x1="106.09" y1="559.9" x2="109.49" y2="559.9" stroke="#6b4a2a" stroke-width="0.6" />
<ellipse cx="107.79" cy="502.75" rx="2.05" ry="1.35" fill="#2b2b2b"/>
<ellipse cx="107.79" cy="506.34" rx="2.05" ry="1.35" fill="#2b2b2b"/>
<ellipse cx="107.79" cy="510.65" rx="2.05" ry="1.35" fill="#2b2b2b"/>
<ellipse cx="107.79" cy="511.8" rx="2.05" ry="1.35" fill="#2b2b2b"/>
<ellipse cx="107.79" cy="518.26" rx="2.05" ry="1.35" fill="#2b2b2b"/>
<ellipse cx="107.79" cy="520.3" rx="2.05" ry="1.35" fill="#2b2b2b"/>
<ellipse cx="107.79" cy="522.35" rx="2.05" ry="1.35" fill="#2b2b2b"/>
<ellipse cx="107.79" cy="524.39" rx="2.05" ry="1.35" fill="#2b2b2b"/>
<ellipse cx="107.79" cy="526.43" rx="2.05" ry="1.35" fill="#2b2b2b"/>
<ellipse cx="107.79" cy="528.48" rx="2.05" ry="1.35" fill="#2b2b2b"/>
<ellipse cx="107.79" cy="530.52" rx="2.05" ry="1.35" fill="#2b2b2b"/>
<ellipse cx="107.79" cy="532.56" rx="2.05" ry="1.35" fill="#2b2b2b"/>
<ellipse cx="107.79" cy="534.61" rx="2.05" ry="1.35" fill="#2b2b2b"/>
<ellipse cx="107.79" cy="536.65" rx="2.05" ry="1.35" fill="#2b2b2b"/>
<ellipse cx="107.79" cy="538.69" rx="2.05" ry="1.35" fill="#2b2b2b"/>
<ellipse cx="107.79" cy="540.74" rx="2.05" ry="1.35" fill="#2b2b2b"/>
<ellipse cx="107.79" cy="542.78" rx="2.05" ry="1.35" fill="#2b2b2b"/>
<ellipse cx="107.79" cy="544.82" rx="2.05" ry="1.35" fill="#2b2b2b"/>
<line x1="113.3" y1="553.15" x2="113.3" y2="540.58" stroke="#a0a0a0" stroke-width="0.6" />
<line x1="113.3" y1="561.77" x2="113.3" y2="565" stroke="#a0a0a0" stroke-width="0.6" />
<rect x="111.59" y="553.15" width="3.4" height="8.62" fill="#e48c30" stroke="#b9702a" stroke-width="0.45" />
<line x1="111.59" y1="559.18" x2="115" y2="559.18" stroke="#6b4a2a" stroke-width="0.6" />
<ellipse cx="113.3" cy="494.28" rx="2.05" ry="1.35" fill="#2b2b2b"/>
<ellipse cx="113.3" cy="500.31" rx="2.05" ry="1.35" fill="#2b2b2b"/>
<ellipse cx="113.3" cy="502.46" rx="2.05" ry="1.35" fill="#2b2b2b"/>
<ellipse cx="113.3" cy="516.11" rx="2.05" ry="1.35" fill="#2b2b2b"/>
<ellipse cx="113.3" cy="518.26" rx="2.05" ry="1.35" fill="#2b2b2b"/>
<ellipse cx="113.3" cy="526.16" rx="2.05" ry="1.35" fill="#2b2b2b"/>
<ellipse cx="113.3" cy="528.31" rx="2.05" ry="1.35" fill="#2b2b2b"/>
<ellipse cx="113.3" cy="530.47" rx="2.05" ry="1.35" fill="#2b2b2b"/>
<ellipse cx="113.3" cy="532.62" rx="2.05" ry="1.35" fill="#2b2b2b"/>
<ellipse cx="113.3" cy="534.77" rx="2.05" ry="1.35" fill="#2b2b2b"/>
<ellipse cx="113.3" cy="536.93" rx="2.05" ry="1.35" fill="#2b2b2b"/>
<ellipse cx="113.3" cy="539.08" rx="2.05" ry="1.35" fill="#2b2b2b"/>
<line x1="118.8" y1="554.88" x2="118.8" y2="543.03" stroke="#a0a0a0" stroke-width="0.6" />
<line x1="118.8" y1="562.77" x2="118.8" y2="565" stroke="#a0a0a0" stroke-width="0.6" />
<rect x="117.1" y="554.88" width="3.4" height="7.9" fill="#e48c30" stroke="#b9702a" stroke-width="0.45" />
<line x1="117.1" y1="558.9" x2="120.5" y2="558.9" stroke="#6b4a2a" stroke-width="0.6" />
<ellipse cx="118.8" cy="483.08" rx="2.05" ry="1.35" fill="#2b2b2b"/>
<ellipse cx="118.8" cy="503.18" rx="2.05" ry="1.35" fill="#2b2b2b"/>
<ellipse cx="118.8" cy="506.05" rx="2.05" ry="1.35" fill="#2b2b2b"/>
<ellipse cx="118.8" cy="512.95" rx="2.05" ry="1.35" fill="#2b2b2b"/>
<ellipse cx="118.8" cy="534.06" rx="2.05" ry="1.35" fill="#2b2b2b"/>
<ellipse cx="118.8" cy="536.21" rx="2.05" ry="1.35" fill="#2b2b2b"/>
<ellipse cx="118.8" cy="538.36" rx="2.05" ry="1.35" fill="#2b2b2b"/>
<ellipse cx="118.8" cy="540.52" rx="2.05" ry="1.35" fill="#2b2b2b"/>
<line x1="124.31" y1="550.86" x2="124.31" y2="536.64" stroke="#a0a0a0" stroke-width="0.6" />
<line x1="124.31" y1="560.33" x2="124.31" y2="563.83" stroke="#a0a0a0" stroke-width="0.6" />
<rect x="122.61" y="550.86" width="3.4" height="9.48" fill="#e48c30" stroke="#b9702a" stroke-width="0.45" />
<line x1="122.61" y1="556.03" x2="126.01" y2="556.03" stroke="#6b4a2a" stroke-width="0.6" />
<ellipse cx="124.31" cy="469.15" rx="2.05" ry="1.35" fill="#2b2b2b"/>
<ellipse cx="124.31" cy="480.64" rx="2.05" ry="1.35" fill="#2b2b2b"/>
<ellipse cx="124.31" cy="494.57" rx="2.05" ry="1.35" fill="#2b2b2b"/>
<ellipse cx="124.31" cy="497.44" rx="2.05" ry="1.35" fill="#2b2b2b"/>
<ellipse cx="124.31" cy="504.62" rx="2.05" ry="1.35" fill="#2b2b2b"/>
<ellipse cx="124.31" cy="534.49" rx="2.05" ry="1.35" fill="#2b2b2b"/>
<ellipse cx="124.31" cy="516.11" rx="2.05" ry="1.35" fill="#2b2b2b"/>
<ellipse cx="124.31" cy="518.02" rx="2.05" ry="1.35" fill="#2b2b2b"/>
<ellipse cx="124.31" cy="519.93" rx="2.05" ry="1.35" fill="#2b2b2b"/>
<ellipse cx="124.31" cy="521.85" rx="2.05" ry="1.35" fill="#2b2b2b"/>
<line x1="129.81" y1="547.7" x2="129.81" y2="529.39" stroke="#a0a0a0" stroke-width="0.6" />
<line x1="129.81" y1="559.9" x2="129.81" y2="563.4" stroke="#a0a0a0" stroke-width="0.6" />
<rect x="128.11" y="547.7" width="3.4" height="12.21" fill="#e48c30" stroke="#b9702a" stroke-width="0.45" />
<line x1="128.11" y1="557.03" x2="131.51" y2="557.03" stroke="#6b4a2a" stroke-width="0.6" />
<ellipse cx="129.81" cy="475.61" rx="2.05" ry="1.35" fill="#2b2b2b"/>
<ellipse cx="129.81" cy="481.64" rx="2.05" ry="1.35" fill="#2b2b2b"/>
<ellipse cx="129.81" cy="498.87" rx="2.05" ry="1.35" fill="#2b2b2b"/>
<ellipse cx="129.81" cy="504.62" rx="2.05" ry="1.35" fill="#2b2b2b"/>
<ellipse cx="129.81" cy="510.36" rx="2.05" ry="1.35" fill="#2b2b2b"/>
<ellipse cx="129.81" cy="516.11" rx="2.05" ry="1.35" fill="#2b2b2b"/>
<ellipse cx="129.81" cy="517.9" rx="2.05" ry="1.35" fill="#2b2b2b"/>
<ellipse cx="129.81" cy="519.7" rx="2.05" ry="1.35" fill="#2b2b2b"/>
<line x1="135.31" y1="546.98" x2="135.31" y2="526.52" stroke="#a0a0a0" stroke-width="0.6" />
<line x1="135.31" y1="560.62" x2="135.31" y2="564.12" stroke="#a0a0a0" stroke-width="0.6" />
<rect x="133.62" y="546.98" width="3.4" height="13.64" fill="#e48c30" stroke="#b9702a" stroke-width="0.45" />
<line x1="133.62" y1="557.46" x2="137.01" y2="557.46" stroke="#6b4a2a" stroke-width="0.6" />
<ellipse cx="135.31" cy="477.05" rx="2.05" ry="1.35" fill="#2b2b2b"/>
<ellipse cx="135.31" cy="480.64" rx="2.05" ry="1.35" fill="#2b2b2b"/>
<ellipse cx="135.31" cy="513.23" rx="2.05" ry="1.35" fill="#2b2b2b"/>
<ellipse cx="135.31" cy="515.15" rx="2.05" ry="1.35" fill="#2b2b2b"/>
<ellipse cx="135.31" cy="517.06" rx="2.05" ry="1.35" fill="#2b2b2b"/>
<ellipse cx="135.31" cy="518.98" rx="2.05" ry="1.35" fill="#2b2b2b"/>
<line x1="140.82" y1="546.98" x2="140.82" y2="526.52" stroke="#a0a0a0" stroke-width="0.6" />
<line x1="140.82" y1="560.62" x2="140.82" y2="564.12" stroke="#a0a0a0" stroke-width="0.6" />
<rect x="139.12" y="546.98" width="3.4" height="13.64" fill="#e48c30" stroke="#b9702a" stroke-width="0.45" />
<line x1="139.12" y1="557.03" x2="142.52" y2="557.03" stroke="#6b4a2a" stroke-width="0.6" />
<ellipse cx="140.82" cy="477.05" rx="2.05" ry="1.35" fill="#2b2b2b"/>
<ellipse cx="140.82" cy="480.64" rx="2.05" ry="1.35" fill="#2b2b2b"/>
<ellipse cx="140.82" cy="513.23" rx="2.05" ry="1.35" fill="#2b2b2b"/>
<ellipse cx="140.82" cy="515.03" rx="2.05" ry="1.35" fill="#2b2b2b"/>
<ellipse cx="140.82" cy="516.82" rx="2.05" ry="1.35" fill="#2b2b2b"/>
<ellipse cx="140.82" cy="518.62" rx="2.05" ry="1.35" fill="#2b2b2b"/>
<ellipse cx="140.82" cy="520.41" rx="2.05" ry="1.35" fill="#2b2b2b"/>
<line x1="146.32" y1="552.72" x2="146.32" y2="540.58" stroke="#a0a0a0" stroke-width="0.6" />
<line x1="146.32" y1="561.77" x2="146.32" y2="565" stroke="#a0a0a0" stroke-width="0.6" />
<rect x="144.62" y="552.72" width="3.4" height="9.05" fill="#e48c30" stroke="#b9702a" stroke-width="0.45" />
<line x1="144.62" y1="558.47" x2="148.02" y2="558.47" stroke="#6b4a2a" stroke-width="0.6" />
<ellipse cx="146.32" cy="524.43" rx="2.05" ry="1.35" fill="#2b2b2b"/>
<ellipse cx="146.32" cy="530.47" rx="2.05" ry="1.35" fill="#2b2b2b"/>
<ellipse cx="146.32" cy="532.62" rx="2.05" ry="1.35" fill="#2b2b2b"/>
<ellipse cx="146.32" cy="534.77" rx="2.05" ry="1.35" fill="#2b2b2b"/>
<ellipse cx="146.32" cy="536.93" rx="2.05" ry="1.35" fill="#2b2b2b"/>
<ellipse cx="146.32" cy="539.08" rx="2.05" ry="1.35" fill="#2b2b2b"/>
<line x1="151.83" y1="553.15" x2="151.83" y2="540.88" stroke="#a0a0a0" stroke-width="0.6" />
<line x1="151.83" y1="561.34" x2="151.83" y2="564.84" stroke="#a0a0a0" stroke-width="0.6" />
<rect x="150.13" y="553.15" width="3.4" height="8.18" fill="#e48c30" stroke="#b9702a" stroke-width="0.45" />
<line x1="150.13" y1="557.75" x2="153.53" y2="557.75" stroke="#6b4a2a" stroke-width="0.6" />
<ellipse cx="151.83" cy="468" rx="2.05" ry="1.35" fill="#2b2b2b"/>
<ellipse cx="151.83" cy="530.47" rx="2.05" ry="1.35" fill="#2b2b2b"/>
<ellipse cx="151.83" cy="532.62" rx="2.05" ry="1.35" fill="#2b2b2b"/>
<ellipse cx="151.83" cy="534.77" rx="2.05" ry="1.35" fill="#2b2b2b"/>
<ellipse cx="151.83" cy="536.93" rx="2.05" ry="1.35" fill="#2b2b2b"/>
<ellipse cx="151.83" cy="539.08" rx="2.05" ry="1.35" fill="#2b2b2b"/>
<line x1="157.34" y1="556.03" x2="157.34" y2="547.04" stroke="#a0a0a0" stroke-width="0.6" />
<line x1="157.34" y1="562.34" x2="157.34" y2="565" stroke="#a0a0a0" stroke-width="0.6" />
<rect x="155.64" y="556.03" width="3.4" height="6.32" fill="#70b4ad" stroke="#4f8c86" stroke-width="0.45" />
<line x1="155.64" y1="559.18" x2="159.03" y2="559.18" stroke="#3d6b66" stroke-width="0.6" />
<ellipse cx="157.34" cy="482.79" rx="2.05" ry="1.35" fill="#2b2b2b"/>
<ellipse cx="157.34" cy="497.44" rx="2.05" ry="1.35" fill="#2b2b2b"/>
<ellipse cx="157.34" cy="506.05" rx="2.05" ry="1.35" fill="#2b2b2b"/>
<ellipse cx="157.34" cy="512.95" rx="2.05" ry="1.35" fill="#2b2b2b"/>
<ellipse cx="157.34" cy="531.9" rx="2.05" ry="1.35" fill="#2b2b2b"/>
<ellipse cx="157.34" cy="538.36" rx="2.05" ry="1.35" fill="#2b2b2b"/>
<ellipse cx="157.34" cy="540.52" rx="2.05" ry="1.35" fill="#2b2b2b"/>
<ellipse cx="157.34" cy="545.54" rx="2.05" ry="1.35" fill="#2b2b2b"/>
<line x1="162.84" y1="556.03" x2="162.84" y2="547.04" stroke="#a0a0a0" stroke-width="0.6" />
<line x1="162.84" y1="562.06" x2="162.84" y2="565" stroke="#a0a0a0" stroke-width="0.6" />
<rect x="161.14" y="556.03" width="3.4" height="6.03" fill="#70b4ad" stroke="#4f8c86" stroke-width="0.45" />
<line x1="161.14" y1="559.18" x2="164.54" y2="559.18" stroke="#3d6b66" stroke-width="0.6" />
<ellipse cx="162.84" cy="482.79" rx="2.05" ry="1.35" fill="#2b2b2b"/>
<ellipse cx="162.84" cy="503.18" rx="2.05" ry="1.35" fill="#2b2b2b"/>
<ellipse cx="162.84" cy="506.77" rx="2.05" ry="1.35" fill="#2b2b2b"/>
<ellipse cx="162.84" cy="533.34" rx="2.05" ry="1.35" fill="#2b2b2b"/>
<ellipse cx="162.84" cy="538.36" rx="2.05" ry="1.35" fill="#2b2b2b"/>
<ellipse cx="162.84" cy="545.54" rx="2.05" ry="1.35" fill="#2b2b2b"/>
<line x1="168.34" y1="550.28" x2="168.34" y2="533.7" stroke="#a0a0a0" stroke-width="0.6" />
<line x1="168.34" y1="561.34" x2="168.34" y2="564.84" stroke="#a0a0a0" stroke-width="0.6" />
<rect x="166.65" y="550.28" width="3.4" height="11.06" fill="#70b4ad" stroke="#4f8c86" stroke-width="0.45" />
<line x1="166.65" y1="558.47" x2="170.04" y2="558.47" stroke="#3d6b66" stroke-width="0.6" />
<ellipse cx="168.34" cy="473.31" rx="2.05" ry="1.35" fill="#2b2b2b"/>
<ellipse cx="168.34" cy="492.84" rx="2.05" ry="1.35" fill="#2b2b2b"/>
<ellipse cx="168.34" cy="506.77" rx="2.05" ry="1.35" fill="#2b2b2b"/>
<ellipse cx="168.34" cy="531.61" rx="2.05" ry="1.35" fill="#2b2b2b"/>
<ellipse cx="168.34" cy="518.26" rx="2.05" ry="1.35" fill="#2b2b2b"/>
<ellipse cx="168.34" cy="520.05" rx="2.05" ry="1.35" fill="#2b2b2b"/>
<ellipse cx="168.34" cy="521.85" rx="2.05" ry="1.35" fill="#2b2b2b"/>
<ellipse cx="168.34" cy="523.64" rx="2.05" ry="1.35" fill="#2b2b2b"/>
<ellipse cx="168.34" cy="525.44" rx="2.05" ry="1.35" fill="#2b2b2b"/>
<line x1="173.85" y1="556.31" x2="173.85" y2="547.7" stroke="#a0a0a0" stroke-width="0.6" />
<line x1="173.85" y1="562.06" x2="173.85" y2="565" stroke="#a0a0a0" stroke-width="0.6" />
<rect x="172.15" y="556.31" width="3.4" height="5.74" fill="#70b4ad" stroke="#4f8c86" stroke-width="0.45" />
<line x1="172.15" y1="559.18" x2="175.55" y2="559.18" stroke="#3d6b66" stroke-width="0.6" />
<ellipse cx="173.85" cy="482.79" rx="2.05" ry="1.35" fill="#2b2b2b"/>
<ellipse cx="173.85" cy="503.18" rx="2.05" ry="1.35" fill="#2b2b2b"/>
<ellipse cx="173.85" cy="506.77" rx="2.05" ry="1.35" fill="#2b2b2b"/>
<ellipse cx="173.85" cy="513.95" rx="2.05" ry="1.35" fill="#2b2b2b"/>
<ellipse cx="173.85" cy="534.77" rx="2.05" ry="1.35" fill="#2b2b2b"/>
<ellipse cx="173.85" cy="538.36" rx="2.05" ry="1.35" fill="#2b2b2b"/>
<line x1="179.36" y1="556.31" x2="179.36" y2="547.7" stroke="#a0a0a0" stroke-width="0.6" />
<line x1="179.36" y1="562.06" x2="179.36" y2="565" stroke="#a0a0a0" stroke-width="0.6" />
<rect x="177.66" y="556.31" width="3.4" height="5.74" fill="#70b4ad" stroke="#4f8c86" stroke-width="0.45" />
<line x1="177.66" y1="559.18" x2="181.06" y2="559.18" stroke="#3d6b66" stroke-width="0.6" />
<ellipse cx="179.36" cy="482.79" rx="2.05" ry="1.35" fill="#2b2b2b"/>
<ellipse cx="179.36" cy="501.03" rx="2.05" ry="1.35" fill="#2b2b2b"/>
<ellipse cx="179.36" cy="506.05" rx="2.05" ry="1.35" fill="#2b2b2b"/>
<ellipse cx="179.36" cy="513.95" rx="2.05" ry="1.35" fill="#2b2b2b"/>
<ellipse cx="179.36" cy="534.77" rx="2.05" ry="1.35" fill="#2b2b2b"/>
<ellipse cx="179.36" cy="538.36" rx="2.05" ry="1.35" fill="#2b2b2b"/>
<line x1="184.86" y1="556.03" x2="184.86" y2="547.04" stroke="#a0a0a0" stroke-width="0.6" />
<line x1="184.86" y1="562.34" x2="184.86" y2="565" stroke="#a0a0a0" stroke-width="0.6" />
<rect x="183.16" y="556.03" width="3.4" height="6.32" fill="#70b4ad" stroke="#4f8c86" stroke-width="0.45" />
<line x1="183.16" y1="559.18" x2="186.56" y2="559.18" stroke="#3d6b66" stroke-width="0.6" />
<ellipse cx="184.86" cy="482.79" rx="2.05" ry="1.35" fill="#2b2b2b"/>
<ellipse cx="184.86" cy="501.03" rx="2.05" ry="1.35" fill="#2b2b2b"/>
<ellipse cx="184.86" cy="506.05" rx="2.05" ry="1.35" fill="#2b2b2b"/>
<ellipse cx="184.86" cy="513.95" rx="2.05" ry="1.35" fill="#2b2b2b"/>
<ellipse cx="184.86" cy="534.77" rx="2.05" ry="1.35" fill="#2b2b2b"/>
<ellipse cx="184.86" cy="538.36" rx="2.05" ry="1.35" fill="#2b2b2b"/>
<ellipse cx="184.86" cy="545.54" rx="2.05" ry="1.35" fill="#2b2b2b"/>
<line x1="190.37" y1="555.16" x2="190.37" y2="544.39" stroke="#a0a0a0" stroke-width="0.6" />
<line x1="190.37" y1="562.34" x2="190.37" y2="565" stroke="#a0a0a0" stroke-width="0.6" />
<rect x="188.67" y="555.16" width="3.4" height="7.18" fill="#70b4ad" stroke="#4f8c86" stroke-width="0.45" />
<line x1="188.67" y1="558.9" x2="192.06" y2="558.9" stroke="#3d6b66" stroke-width="0.6" />
<ellipse cx="190.37" cy="482.79" rx="2.05" ry="1.35" fill="#2b2b2b"/>
<ellipse cx="190.37" cy="503.18" rx="2.05" ry="1.35" fill="#2b2b2b"/>
<ellipse cx="190.37" cy="506.77" rx="2.05" ry="1.35" fill="#2b2b2b"/>
<ellipse cx="190.37" cy="513.95" rx="2.05" ry="1.35" fill="#2b2b2b"/>
<ellipse cx="190.37" cy="534.77" rx="2.05" ry="1.35" fill="#2b2b2b"/>
<ellipse cx="190.37" cy="538.36" rx="2.05" ry="1.35" fill="#2b2b2b"/>
<line x1="195.87" y1="555.16" x2="195.87" y2="547.04" stroke="#a0a0a0" stroke-width="0.6" />
<line x1="195.87" y1="562.34" x2="195.87" y2="565" stroke="#a0a0a0" stroke-width="0.6" />
<rect x="194.17" y="555.16" width="3.4" height="7.18" fill="#70b4ad" stroke="#4f8c86" stroke-width="0.45" />
<line x1="194.17" y1="558.9" x2="197.57" y2="558.9" stroke="#3d6b66" stroke-width="0.6" />
<ellipse cx="195.87" cy="482.79" rx="2.05" ry="1.35" fill="#2b2b2b"/>
<ellipse cx="195.87" cy="503.18" rx="2.05" ry="1.35" fill="#2b2b2b"/>
<ellipse cx="195.87" cy="506.77" rx="2.05" ry="1.35" fill="#2b2b2b"/>
<ellipse cx="195.87" cy="513.95" rx="2.05" ry="1.35" fill="#2b2b2b"/>
<ellipse cx="195.87" cy="534.77" rx="2.05" ry="1.35" fill="#2b2b2b"/>
<ellipse cx="195.87" cy="538.36" rx="2.05" ry="1.35" fill="#2b2b2b"/>
<ellipse cx="195.87" cy="545.54" rx="2.05" ry="1.35" fill="#2b2b2b"/>
<line x1="201.38" y1="555.16" x2="201.38" y2="544.39" stroke="#a0a0a0" stroke-width="0.6" />
<line x1="201.38" y1="562.34" x2="201.38" y2="565" stroke="#a0a0a0" stroke-width="0.6" />
<rect x="199.68" y="555.16" width="3.4" height="7.18" fill="#70b4ad" stroke="#4f8c86" stroke-width="0.45" />
<line x1="199.68" y1="558.9" x2="203.07" y2="558.9" stroke="#3d6b66" stroke-width="0.6" />
<ellipse cx="201.38" cy="482.79" rx="2.05" ry="1.35" fill="#2b2b2b"/>
<ellipse cx="201.38" cy="503.18" rx="2.05" ry="1.35" fill="#2b2b2b"/>
<ellipse cx="201.38" cy="506.77" rx="2.05" ry="1.35" fill="#2b2b2b"/>
<ellipse cx="201.38" cy="517.54" rx="2.05" ry="1.35" fill="#2b2b2b"/>
<ellipse cx="201.38" cy="534.77" rx="2.05" ry="1.35" fill="#2b2b2b"/>
<ellipse cx="201.38" cy="539.8" rx="2.05" ry="1.35" fill="#2b2b2b"/>
<line x1="206.88" y1="555.16" x2="206.88" y2="547.04" stroke="#a0a0a0" stroke-width="0.6" />
<line x1="206.88" y1="562.34" x2="206.88" y2="565" stroke="#a0a0a0" stroke-width="0.6" />
<rect x="205.18" y="555.16" width="3.4" height="7.18" fill="#70b4ad" stroke="#4f8c86" stroke-width="0.45" />
<line x1="205.18" y1="558.9" x2="208.58" y2="558.9" stroke="#3d6b66" stroke-width="0.6" />
<ellipse cx="206.88" cy="482.79" rx="2.05" ry="1.35" fill="#2b2b2b"/>
<ellipse cx="206.88" cy="497.44" rx="2.05" ry="1.35" fill="#2b2b2b"/>
<ellipse cx="206.88" cy="506.05" rx="2.05" ry="1.35" fill="#2b2b2b"/>
<ellipse cx="206.88" cy="512.95" rx="2.05" ry="1.35" fill="#2b2b2b"/>
<ellipse cx="206.88" cy="534.77" rx="2.05" ry="1.35" fill="#2b2b2b"/>
<ellipse cx="206.88" cy="539.8" rx="2.05" ry="1.35" fill="#2b2b2b"/>
<ellipse cx="206.88" cy="545.54" rx="2.05" ry="1.35" fill="#2b2b2b"/>
<line x1="212.38" y1="555.16" x2="212.38" y2="544.39" stroke="#a0a0a0" stroke-width="0.6" />
<line x1="212.38" y1="562.34" x2="212.38" y2="565" stroke="#a0a0a0" stroke-width="0.6" />
<rect x="210.69" y="555.16" width="3.4" height="7.18" fill="#70b4ad" stroke="#4f8c86" stroke-width="0.45" />
<line x1="210.69" y1="558.9" x2="214.08" y2="558.9" stroke="#3d6b66" stroke-width="0.6" />
<ellipse cx="212.38" cy="482.79" rx="2.05" ry="1.35" fill="#2b2b2b"/>
<ellipse cx="212.38" cy="503.18" rx="2.05" ry="1.35" fill="#2b2b2b"/>
<ellipse cx="212.38" cy="506.77" rx="2.05" ry="1.35" fill="#2b2b2b"/>
<ellipse cx="212.38" cy="517.54" rx="2.05" ry="1.35" fill="#2b2b2b"/>
<ellipse cx="212.38" cy="534.77" rx="2.05" ry="1.35" fill="#2b2b2b"/>
<ellipse cx="212.38" cy="539.8" rx="2.05" ry="1.35" fill="#2b2b2b"/>
<line x1="217.89" y1="555.16" x2="217.89" y2="544.39" stroke="#a0a0a0" stroke-width="0.6" />
<line x1="217.89" y1="562.34" x2="217.89" y2="565" stroke="#a0a0a0" stroke-width="0.6" />
<rect x="216.19" y="555.16" width="3.4" height="7.18" fill="#70b4ad" stroke="#4f8c86" stroke-width="0.45" />
<line x1="216.19" y1="558.9" x2="219.59" y2="558.9" stroke="#3d6b66" stroke-width="0.6" />
<ellipse cx="217.89" cy="482.79" rx="2.05" ry="1.35" fill="#2b2b2b"/>
<ellipse cx="217.89" cy="503.18" rx="2.05" ry="1.35" fill="#2b2b2b"/>
<ellipse cx="217.89" cy="506.77" rx="2.05" ry="1.35" fill="#2b2b2b"/>
<ellipse cx="217.89" cy="517.54" rx="2.05" ry="1.35" fill="#2b2b2b"/>
<ellipse cx="217.89" cy="534.77" rx="2.05" ry="1.35" fill="#2b2b2b"/>
<ellipse cx="217.89" cy="539.8" rx="2.05" ry="1.35" fill="#2b2b2b"/>
<line x1="223.39" y1="555.16" x2="223.39" y2="544.39" stroke="#a0a0a0" stroke-width="0.6" />
<line x1="223.39" y1="562.34" x2="223.39" y2="565" stroke="#a0a0a0" stroke-width="0.6" />
<rect x="221.69" y="555.16" width="3.4" height="7.18" fill="#70b4ad" stroke="#4f8c86" stroke-width="0.45" />
<line x1="221.69" y1="558.9" x2="225.09" y2="558.9" stroke="#3d6b66" stroke-width="0.6" />
<ellipse cx="223.39" cy="482.79" rx="2.05" ry="1.35" fill="#2b2b2b"/>
<ellipse cx="223.39" cy="503.18" rx="2.05" ry="1.35" fill="#2b2b2b"/>
<ellipse cx="223.39" cy="506.77" rx="2.05" ry="1.35" fill="#2b2b2b"/>
<ellipse cx="223.39" cy="517.54" rx="2.05" ry="1.35" fill="#2b2b2b"/>
<ellipse cx="223.39" cy="534.77" rx="2.05" ry="1.35" fill="#2b2b2b"/>
<ellipse cx="223.39" cy="539.8" rx="2.05" ry="1.35" fill="#2b2b2b"/>
<line x1="228.9" y1="555.16" x2="228.9" y2="544.39" stroke="#a0a0a0" stroke-width="0.6" />
<line x1="228.9" y1="562.34" x2="228.9" y2="565" stroke="#a0a0a0" stroke-width="0.6" />
<rect x="227.2" y="555.16" width="3.4" height="7.18" fill="#70b4ad" stroke="#4f8c86" stroke-width="0.45" />
<line x1="227.2" y1="558.9" x2="230.6" y2="558.9" stroke="#3d6b66" stroke-width="0.6" />
<ellipse cx="228.9" cy="482.79" rx="2.05" ry="1.35" fill="#2b2b2b"/>
<ellipse cx="228.9" cy="503.18" rx="2.05" ry="1.35" fill="#2b2b2b"/>
<ellipse cx="228.9" cy="506.77" rx="2.05" ry="1.35" fill="#2b2b2b"/>
<ellipse cx="228.9" cy="517.54" rx="2.05" ry="1.35" fill="#2b2b2b"/>
<ellipse cx="228.9" cy="534.77" rx="2.05" ry="1.35" fill="#2b2b2b"/>
<ellipse cx="228.9" cy="539.8" rx="2.05" ry="1.35" fill="#2b2b2b"/>
<line x1="234.41" y1="555.16" x2="234.41" y2="547.04" stroke="#a0a0a0" stroke-width="0.6" />
<line x1="234.41" y1="562.34" x2="234.41" y2="565" stroke="#a0a0a0" stroke-width="0.6" />
<rect x="232.71" y="555.16" width="3.4" height="7.18" fill="#70b4ad" stroke="#4f8c86" stroke-width="0.45" />
<line x1="232.71" y1="558.9" x2="236.11" y2="558.9" stroke="#3d6b66" stroke-width="0.6" />
<ellipse cx="234.41" cy="482.79" rx="2.05" ry="1.35" fill="#2b2b2b"/>
<ellipse cx="234.41" cy="503.18" rx="2.05" ry="1.35" fill="#2b2b2b"/>
<ellipse cx="234.41" cy="506.77" rx="2.05" ry="1.35" fill="#2b2b2b"/>
<ellipse cx="234.41" cy="534.77" rx="2.05" ry="1.35" fill="#2b2b2b"/>
<ellipse cx="234.41" cy="539.8" rx="2.05" ry="1.35" fill="#2b2b2b"/>
<ellipse cx="234.41" cy="545.54" rx="2.05" ry="1.35" fill="#2b2b2b"/>
<line x1="239.91" y1="555.16" x2="239.91" y2="547.04" stroke="#a0a0a0" stroke-width="0.6" />
<line x1="239.91" y1="562.34" x2="239.91" y2="565" stroke="#a0a0a0" stroke-width="0.6" />
<rect x="238.21" y="555.16" width="3.4" height="7.18" fill="#70b4ad" stroke="#4f8c86" stroke-width="0.45" />
<line x1="238.21" y1="558.9" x2="241.61" y2="558.9" stroke="#3d6b66" stroke-width="0.6" />
<ellipse cx="239.91" cy="482.79" rx="2.05" ry="1.35" fill="#2b2b2b"/>
<ellipse cx="239.91" cy="503.18" rx="2.05" ry="1.35" fill="#2b2b2b"/>
<ellipse cx="239.91" cy="506.77" rx="2.05" ry="1.35" fill="#2b2b2b"/>
<ellipse cx="239.91" cy="534.77" rx="2.05" ry="1.35" fill="#2b2b2b"/>
<ellipse cx="239.91" cy="539.8" rx="2.05" ry="1.35" fill="#2b2b2b"/>
<ellipse cx="239.91" cy="545.54" rx="2.05" ry="1.35" fill="#2b2b2b"/>
<line x1="245.42" y1="557.75" x2="245.42" y2="552.79" stroke="#a0a0a0" stroke-width="0.6" />
<line x1="245.42" y1="562.34" x2="245.42" y2="565" stroke="#a0a0a0" stroke-width="0.6" />
<rect x="243.72" y="557.75" width="3.4" height="4.6" fill="#70b4ad" stroke="#4f8c86" stroke-width="0.45" />
<line x1="243.72" y1="559.9" x2="247.12" y2="559.9" stroke="#3d6b66" stroke-width="0.6" />
<ellipse cx="245.42" cy="526.88" rx="2.05" ry="1.35" fill="#2b2b2b"/>
<ellipse cx="245.42" cy="535.49" rx="2.05" ry="1.35" fill="#2b2b2b"/>
<ellipse cx="245.42" cy="539.8" rx="2.05" ry="1.35" fill="#2b2b2b"/>
<ellipse cx="245.42" cy="544.82" rx="2.05" ry="1.35" fill="#2b2b2b"/>
<ellipse cx="245.42" cy="546.98" rx="2.05" ry="1.35" fill="#2b2b2b"/>
<ellipse cx="245.42" cy="549.13" rx="2.05" ry="1.35" fill="#2b2b2b"/>
<ellipse cx="245.42" cy="551.29" rx="2.05" ry="1.35" fill="#2b2b2b"/>
<line x1="250.92" y1="555.16" x2="250.92" y2="544.39" stroke="#a0a0a0" stroke-width="0.6" />
<line x1="250.92" y1="562.34" x2="250.92" y2="565" stroke="#a0a0a0" stroke-width="0.6" />
<rect x="249.22" y="555.16" width="3.4" height="7.18" fill="#70b4ad" stroke="#4f8c86" stroke-width="0.45" />
<line x1="249.22" y1="558.9" x2="252.62" y2="558.9" stroke="#3d6b66" stroke-width="0.6" />
<ellipse cx="250.92" cy="482.79" rx="2.05" ry="1.35" fill="#2b2b2b"/>
<ellipse cx="250.92" cy="503.18" rx="2.05" ry="1.35" fill="#2b2b2b"/>
<ellipse cx="250.92" cy="506.77" rx="2.05" ry="1.35" fill="#2b2b2b"/>
<ellipse cx="250.92" cy="534.77" rx="2.05" ry="1.35" fill="#2b2b2b"/>
<ellipse cx="250.92" cy="539.8" rx="2.05" ry="1.35" fill="#2b2b2b"/>
<line x1="256.43" y1="555.16" x2="256.43" y2="544.39" stroke="#a0a0a0" stroke-width="0.6" />
<line x1="256.43" y1="562.34" x2="256.43" y2="565" stroke="#a0a0a0" stroke-width="0.6" />
<rect x="254.73" y="555.16" width="3.4" height="7.18" fill="#70b4ad" stroke="#4f8c86" stroke-width="0.45" />
<line x1="254.73" y1="558.9" x2="258.12" y2="558.9" stroke="#3d6b66" stroke-width="0.6" />
<ellipse cx="256.43" cy="482.79" rx="2.05" ry="1.35" fill="#2b2b2b"/>
<ellipse cx="256.43" cy="503.18" rx="2.05" ry="1.35" fill="#2b2b2b"/>
<ellipse cx="256.43" cy="506.77" rx="2.05" ry="1.35" fill="#2b2b2b"/>
<ellipse cx="256.43" cy="513.95" rx="2.05" ry="1.35" fill="#2b2b2b"/>
<ellipse cx="256.43" cy="534.77" rx="2.05" ry="1.35" fill="#2b2b2b"/>
<ellipse cx="256.43" cy="539.8" rx="2.05" ry="1.35" fill="#2b2b2b"/>
<line x1="261.93" y1="555.16" x2="261.93" y2="544.39" stroke="#a0a0a0" stroke-width="0.6" />
<line x1="261.93" y1="562.34" x2="261.93" y2="565" stroke="#a0a0a0" stroke-width="0.6" />
<rect x="260.23" y="555.16" width="3.4" height="7.18" fill="#70b4ad" stroke="#4f8c86" stroke-width="0.45" />
<line x1="260.23" y1="558.9" x2="263.63" y2="558.9" stroke="#3d6b66" stroke-width="0.6" />
<ellipse cx="261.93" cy="482.79" rx="2.05" ry="1.35" fill="#2b2b2b"/>
<ellipse cx="261.93" cy="503.18" rx="2.05" ry="1.35" fill="#2b2b2b"/>
<ellipse cx="261.93" cy="506.77" rx="2.05" ry="1.35" fill="#2b2b2b"/>
<ellipse cx="261.93" cy="517.54" rx="2.05" ry="1.35" fill="#2b2b2b"/>
<ellipse cx="261.93" cy="534.77" rx="2.05" ry="1.35" fill="#2b2b2b"/>
<ellipse cx="261.93" cy="539.8" rx="2.05" ry="1.35" fill="#2b2b2b"/>
<line x1="267.44" y1="555.16" x2="267.44" y2="544.39" stroke="#a0a0a0" stroke-width="0.6" />
<line x1="267.44" y1="562.34" x2="267.44" y2="565" stroke="#a0a0a0" stroke-width="0.6" />
<rect x="265.74" y="555.16" width="3.4" height="7.18" fill="#70b4ad" stroke="#4f8c86" stroke-width="0.45" />
<line x1="265.74" y1="558.9" x2="269.13" y2="558.9" stroke="#3d6b66" stroke-width="0.6" />
<ellipse cx="267.44" cy="482.79" rx="2.05" ry="1.35" fill="#2b2b2b"/>
<ellipse cx="267.44" cy="503.18" rx="2.05" ry="1.35" fill="#2b2b2b"/>
<ellipse cx="267.44" cy="506.77" rx="2.05" ry="1.35" fill="#2b2b2b"/>
<ellipse cx="267.44" cy="517.54" rx="2.05" ry="1.35" fill="#2b2b2b"/>
<ellipse cx="267.44" cy="534.77" rx="2.05" ry="1.35" fill="#2b2b2b"/>
<ellipse cx="267.44" cy="539.8" rx="2.05" ry="1.35" fill="#2b2b2b"/>
<line x1="272.94" y1="555.16" x2="272.94" y2="544.39" stroke="#a0a0a0" stroke-width="0.6" />
<line x1="272.94" y1="562.34" x2="272.94" y2="565" stroke="#a0a0a0" stroke-width="0.6" />
<rect x="271.24" y="555.16" width="3.4" height="7.18" fill="#70b4ad" stroke="#4f8c86" stroke-width="0.45" />
<line x1="271.24" y1="558.9" x2="274.64" y2="558.9" stroke="#3d6b66" stroke-width="0.6" />
<ellipse cx="272.94" cy="482.79" rx="2.05" ry="1.35" fill="#2b2b2b"/>
<ellipse cx="272.94" cy="503.18" rx="2.05" ry="1.35" fill="#2b2b2b"/>
<ellipse cx="272.94" cy="506.77" rx="2.05" ry="1.35" fill="#2b2b2b"/>
<ellipse cx="272.94" cy="517.54" rx="2.05" ry="1.35" fill="#2b2b2b"/>
<ellipse cx="272.94" cy="534.77" rx="2.05" ry="1.35" fill="#2b2b2b"/>
<ellipse cx="272.94" cy="539.8" rx="2.05" ry="1.35" fill="#2b2b2b"/>
<line x1="278.44" y1="555.16" x2="278.44" y2="544.39" stroke="#a0a0a0" stroke-width="0.6" />
<line x1="278.44" y1="562.34" x2="278.44" y2="565" stroke="#a0a0a0" stroke-width="0.6" />
<rect x="276.75" y="555.16" width="3.4" height="7.18" fill="#70b4ad" stroke="#4f8c86" stroke-width="0.45" />
<line x1="276.75" y1="558.9" x2="280.14" y2="558.9" stroke="#3d6b66" stroke-width="0.6" />
<ellipse cx="278.44" cy="481.64" rx="2.05" ry="1.35" fill="#2b2b2b"/>
<ellipse cx="278.44" cy="506.05" rx="2.05" ry="1.35" fill="#2b2b2b"/>
<ellipse cx="278.44" cy="517.54" rx="2.05" ry="1.35" fill="#2b2b2b"/>
<ellipse cx="278.44" cy="533.34" rx="2.05" ry="1.35" fill="#2b2b2b"/>
<ellipse cx="278.44" cy="539.8" rx="2.05" ry="1.35" fill="#2b2b2b"/>
<line x1="283.95" y1="555.16" x2="283.95" y2="544.39" stroke="#a0a0a0" stroke-width="0.6" />
<line x1="283.95" y1="562.34" x2="283.95" y2="565" stroke="#a0a0a0" stroke-width="0.6" />
<rect x="282.25" y="555.16" width="3.4" height="7.18" fill="#70b4ad" stroke="#4f8c86" stroke-width="0.45" />
<line x1="282.25" y1="558.9" x2="285.65" y2="558.9" stroke="#3d6b66" stroke-width="0.6" />
<ellipse cx="283.95" cy="482.79" rx="2.05" ry="1.35" fill="#2b2b2b"/>
<ellipse cx="283.95" cy="503.18" rx="2.05" ry="1.35" fill="#2b2b2b"/>
<ellipse cx="283.95" cy="506.77" rx="2.05" ry="1.35" fill="#2b2b2b"/>
<ellipse cx="283.95" cy="517.54" rx="2.05" ry="1.35" fill="#2b2b2b"/>
<ellipse cx="283.95" cy="534.77" rx="2.05" ry="1.35" fill="#2b2b2b"/>
<ellipse cx="283.95" cy="539.8" rx="2.05" ry="1.35" fill="#2b2b2b"/>
<line x1="289.45" y1="552" x2="289.45" y2="536.5" stroke="#a0a0a0" stroke-width="0.6" />
<line x1="289.45" y1="562.34" x2="289.45" y2="565" stroke="#a0a0a0" stroke-width="0.6" />
<rect x="287.75" y="552" width="3.4" height="10.34" fill="#70b4ad" stroke="#4f8c86" stroke-width="0.45" />
<line x1="287.75" y1="558.47" x2="291.15" y2="558.47" stroke="#3d6b66" stroke-width="0.6" />
<ellipse cx="289.45" cy="475.61" rx="2.05" ry="1.35" fill="#2b2b2b"/>
<ellipse cx="289.45" cy="504.62" rx="2.05" ry="1.35" fill="#2b2b2b"/>
<ellipse cx="289.45" cy="534.77" rx="2.05" ry="1.35" fill="#2b2b2b"/>
<line x1="294.96" y1="554.59" x2="294.96" y2="542.96" stroke="#a0a0a0" stroke-width="0.6" />
<line x1="294.96" y1="562.34" x2="294.96" y2="565" stroke="#a0a0a0" stroke-width="0.6" />
<rect x="293.26" y="554.59" width="3.4" height="7.75" fill="#70b4ad" stroke="#4f8c86" stroke-width="0.45" />
<line x1="293.26" y1="558.9" x2="296.66" y2="558.9" stroke="#3d6b66" stroke-width="0.6" />
<ellipse cx="294.96" cy="487.1" rx="2.05" ry="1.35" fill="#2b2b2b"/>
<ellipse cx="294.96" cy="504.62" rx="2.05" ry="1.35" fill="#2b2b2b"/>
<ellipse cx="294.96" cy="509.64" rx="2.05" ry="1.35" fill="#2b2b2b"/>
<ellipse cx="294.96" cy="524" rx="2.05" ry="1.35" fill="#2b2b2b"/>
<ellipse cx="294.96" cy="533.34" rx="2.05" ry="1.35" fill="#2b2b2b"/>
<ellipse cx="294.96" cy="539.08" rx="2.05" ry="1.35" fill="#2b2b2b"/>
<line x1="300.46" y1="552" x2="300.46" y2="536.99" stroke="#a0a0a0" stroke-width="0.6" />
<line x1="300.46" y1="562.34" x2="300.46" y2="565" stroke="#a0a0a0" stroke-width="0.6" />
<rect x="298.76" y="552" width="3.4" height="10.34" fill="#70b4ad" stroke="#4f8c86" stroke-width="0.45" />
<line x1="298.76" y1="558.9" x2="302.16" y2="558.9" stroke="#3d6b66" stroke-width="0.6" />
<ellipse cx="300.46" cy="504.62" rx="2.05" ry="1.35" fill="#2b2b2b"/>
<ellipse cx="300.46" cy="508.93" rx="2.05" ry="1.35" fill="#2b2b2b"/>
<ellipse cx="300.46" cy="526.88" rx="2.05" ry="1.35" fill="#2b2b2b"/>
<ellipse cx="300.46" cy="535.49" rx="2.05" ry="1.35" fill="#2b2b2b"/>
<line x1="305.97" y1="554.16" x2="305.97" y2="541.23" stroke="#a0a0a0" stroke-width="0.6" />
<line x1="305.97" y1="562.77" x2="305.97" y2="565" stroke="#a0a0a0" stroke-width="0.6" />
<rect x="304.27" y="554.16" width="3.4" height="8.62" fill="#70b4ad" stroke="#4f8c86" stroke-width="0.45" />
<line x1="304.27" y1="558.9" x2="307.67" y2="558.9" stroke="#3d6b66" stroke-width="0.6" />
<ellipse cx="305.97" cy="511.51" rx="2.05" ry="1.35" fill="#2b2b2b"/>
<ellipse cx="305.97" cy="515.39" rx="2.05" ry="1.35" fill="#2b2b2b"/>
<ellipse cx="305.97" cy="518.98" rx="2.05" ry="1.35" fill="#2b2b2b"/>
<ellipse cx="305.97" cy="526.88" rx="2.05" ry="1.35" fill="#2b2b2b"/>
<ellipse cx="305.97" cy="534.06" rx="2.05" ry="1.35" fill="#2b2b2b"/>
<ellipse cx="305.97" cy="538.36" rx="2.05" ry="1.35" fill="#2b2b2b"/>
<line x1="311.48" y1="554.16" x2="311.48" y2="541.23" stroke="#a0a0a0" stroke-width="0.6" />
<line x1="311.48" y1="562.77" x2="311.48" y2="565" stroke="#a0a0a0" stroke-width="0.6" />
<rect x="309.78" y="554.16" width="3.4" height="8.62" fill="#70b4ad" stroke="#4f8c86" stroke-width="0.45" />
<line x1="309.78" y1="558.9" x2="313.18" y2="558.9" stroke="#3d6b66" stroke-width="0.6" />
<ellipse cx="311.48" cy="511.51" rx="2.05" ry="1.35" fill="#2b2b2b"/>
<ellipse cx="311.48" cy="515.39" rx="2.05" ry="1.35" fill="#2b2b2b"/>
<ellipse cx="311.48" cy="518.98" rx="2.05" ry="1.35" fill="#2b2b2b"/>
<ellipse cx="311.48" cy="526.88" rx="2.05" ry="1.35" fill="#2b2b2b"/>
<ellipse cx="311.48" cy="534.06" rx="2.05" ry="1.35" fill="#2b2b2b"/>
<ellipse cx="311.48" cy="538.36" rx="2.05" ry="1.35" fill="#2b2b2b"/>
<line x1="316.98" y1="554.16" x2="316.98" y2="541.23" stroke="#a0a0a0" stroke-width="0.6" />
<line x1="316.98" y1="562.77" x2="316.98" y2="565" stroke="#a0a0a0" stroke-width="0.6" />
<rect x="315.28" y="554.16" width="3.4" height="8.62" fill="#70b4ad" stroke="#4f8c86" stroke-width="0.45" />
<line x1="315.28" y1="558.9" x2="318.68" y2="558.9" stroke="#3d6b66" stroke-width="0.6" />
<ellipse cx="316.98" cy="511.51" rx="2.05" ry="1.35" fill="#2b2b2b"/>
<ellipse cx="316.98" cy="515.39" rx="2.05" ry="1.35" fill="#2b2b2b"/>
<ellipse cx="316.98" cy="518.98" rx="2.05" ry="1.35" fill="#2b2b2b"/>
<ellipse cx="316.98" cy="526.88" rx="2.05" ry="1.35" fill="#2b2b2b"/>
<ellipse cx="316.98" cy="534.06" rx="2.05" ry="1.35" fill="#2b2b2b"/>
<ellipse cx="316.98" cy="538.36" rx="2.05" ry="1.35" fill="#2b2b2b"/>
<line x1="322.49" y1="554.16" x2="322.49" y2="541.23" stroke="#a0a0a0" stroke-width="0.6" />
<line x1="322.49" y1="562.77" x2="322.49" y2="565" stroke="#a0a0a0" stroke-width="0.6" />
<rect x="320.79" y="554.16" width="3.4" height="8.62" fill="#70b4ad" stroke="#4f8c86" stroke-width="0.45" />
<line x1="320.79" y1="558.9" x2="324.19" y2="558.9" stroke="#3d6b66" stroke-width="0.6" />
<ellipse cx="322.49" cy="511.51" rx="2.05" ry="1.35" fill="#2b2b2b"/>
<ellipse cx="322.49" cy="515.39" rx="2.05" ry="1.35" fill="#2b2b2b"/>
<ellipse cx="322.49" cy="518.98" rx="2.05" ry="1.35" fill="#2b2b2b"/>
<ellipse cx="322.49" cy="526.88" rx="2.05" ry="1.35" fill="#2b2b2b"/>
<ellipse cx="322.49" cy="534.06" rx="2.05" ry="1.35" fill="#2b2b2b"/>
<ellipse cx="322.49" cy="538.36" rx="2.05" ry="1.35" fill="#2b2b2b"/>
<line x1="327.99" y1="553.15" x2="327.99" y2="540.58" stroke="#a0a0a0" stroke-width="0.6" />
<line x1="327.99" y1="562.06" x2="327.99" y2="565" stroke="#a0a0a0" stroke-width="0.6" />
<rect x="326.29" y="553.15" width="3.4" height="8.9" fill="#70b4ad" stroke="#4f8c86" stroke-width="0.45" />
<line x1="326.29" y1="558.04" x2="329.69" y2="558.04" stroke="#3d6b66" stroke-width="0.6" />
<ellipse cx="327.99" cy="501.46" rx="2.05" ry="1.35" fill="#2b2b2b"/>
<ellipse cx="327.99" cy="521.13" rx="2.05" ry="1.35" fill="#2b2b2b"/>
<ellipse cx="327.99" cy="530.47" rx="2.05" ry="1.35" fill="#2b2b2b"/>
<ellipse cx="327.99" cy="534.77" rx="2.05" ry="1.35" fill="#2b2b2b"/>
<ellipse cx="327.99" cy="539.08" rx="2.05" ry="1.35" fill="#2b2b2b"/>
<line x1="333.5" y1="553.15" x2="333.5" y2="540.58" stroke="#a0a0a0" stroke-width="0.6" />
<line x1="333.5" y1="562.06" x2="333.5" y2="565" stroke="#a0a0a0" stroke-width="0.6" />
<rect x="331.8" y="553.15" width="3.4" height="8.9" fill="#70b4ad" stroke="#4f8c86" stroke-width="0.45" />
<line x1="331.8" y1="558.04" x2="335.19" y2="558.04" stroke="#3d6b66" stroke-width="0.6" />
<ellipse cx="333.5" cy="501.46" rx="2.05" ry="1.35" fill="#2b2b2b"/>
<ellipse cx="333.5" cy="521.13" rx="2.05" ry="1.35" fill="#2b2b2b"/>
<ellipse cx="333.5" cy="530.47" rx="2.05" ry="1.35" fill="#2b2b2b"/>
<ellipse cx="333.5" cy="534.77" rx="2.05" ry="1.35" fill="#2b2b2b"/>
<ellipse cx="333.5" cy="539.08" rx="2.05" ry="1.35" fill="#2b2b2b"/>
<line x1="339" y1="552.72" x2="339" y2="538.43" stroke="#a0a0a0" stroke-width="0.6" />
<line x1="339" y1="562.77" x2="339" y2="565" stroke="#a0a0a0" stroke-width="0.6" />
<rect x="337.3" y="552.72" width="3.4" height="10.05" fill="#70b4ad" stroke="#4f8c86" stroke-width="0.45" />
<line x1="337.3" y1="558.47" x2="340.7" y2="558.47" stroke="#3d6b66" stroke-width="0.6" />
<ellipse cx="339" cy="485.38" rx="2.05" ry="1.35" fill="#2b2b2b"/>
<ellipse cx="339" cy="504.33" rx="2.05" ry="1.35" fill="#2b2b2b"/>
<ellipse cx="339" cy="534.06" rx="2.05" ry="1.35" fill="#2b2b2b"/>
<ellipse cx="339" cy="536.93" rx="2.05" ry="1.35" fill="#2b2b2b"/>
<line x1="344.5" y1="552" x2="344.5" y2="537.36" stroke="#a0a0a0" stroke-width="0.6" />
<line x1="344.5" y1="561.77" x2="344.5" y2="565" stroke="#a0a0a0" stroke-width="0.6" />
<rect x="342.81" y="552" width="3.4" height="9.76" fill="#70b4ad" stroke="#4f8c86" stroke-width="0.45" />
<line x1="342.81" y1="557.46" x2="346.2" y2="557.46" stroke="#3d6b66" stroke-width="0.6" />
<ellipse cx="344.5" cy="506.34" rx="2.05" ry="1.35" fill="#2b2b2b"/>
<ellipse cx="344.5" cy="521.13" rx="2.05" ry="1.35" fill="#2b2b2b"/>
<ellipse cx="344.5" cy="534.06" rx="2.05" ry="1.35" fill="#2b2b2b"/>
<line x1="350.01" y1="549.13" x2="350.01" y2="531.97" stroke="#a0a0a0" stroke-width="0.6" />
<line x1="350.01" y1="561.34" x2="350.01" y2="564.84" stroke="#a0a0a0" stroke-width="0.6" />
<rect x="348.31" y="549.13" width="3.4" height="12.21" fill="#70b4ad" stroke="#4f8c86" stroke-width="0.45" />
<line x1="348.31" y1="556.31" x2="351.71" y2="556.31" stroke="#3d6b66" stroke-width="0.6" />
<ellipse cx="350.01" cy="493.85" rx="2.05" ry="1.35" fill="#2b2b2b"/>
<ellipse cx="350.01" cy="513.95" rx="2.05" ry="1.35" fill="#2b2b2b"/>
<ellipse cx="350.01" cy="530.47" rx="2.05" ry="1.35" fill="#2b2b2b"/>
<line x1="355.51" y1="546.26" x2="355.51" y2="521.49" stroke="#a0a0a0" stroke-width="0.6" />
<line x1="355.51" y1="562.77" x2="355.51" y2="565" stroke="#a0a0a0" stroke-width="0.6" />
<rect x="353.81" y="546.26" width="3.4" height="16.51" fill="#70b4ad" stroke="#4f8c86" stroke-width="0.45" />
<line x1="353.81" y1="558.47" x2="357.21" y2="558.47" stroke="#3d6b66" stroke-width="0.6" />
<ellipse cx="355.51" cy="488.1" rx="2.05" ry="1.35" fill="#2b2b2b"/>
<ellipse cx="355.51" cy="510.65" rx="2.05" ry="1.35" fill="#2b2b2b"/>
<ellipse cx="355.51" cy="515.39" rx="2.05" ry="1.35" fill="#2b2b2b"/>
<ellipse cx="355.51" cy="518.26" rx="2.05" ry="1.35" fill="#2b2b2b"/>
<line x1="361.02" y1="546.26" x2="361.02" y2="521.49" stroke="#a0a0a0" stroke-width="0.6" />
<line x1="361.02" y1="562.77" x2="361.02" y2="565" stroke="#a0a0a0" stroke-width="0.6" />
<rect x="359.32" y="546.26" width="3.4" height="16.51" fill="#70b4ad" stroke="#4f8c86" stroke-width="0.45" />
<line x1="359.32" y1="558.47" x2="362.72" y2="558.47" stroke="#3d6b66" stroke-width="0.6" />
<ellipse cx="361.02" cy="488.1" rx="2.05" ry="1.35" fill="#2b2b2b"/>
<ellipse cx="361.02" cy="510.65" rx="2.05" ry="1.35" fill="#2b2b2b"/>
<ellipse cx="361.02" cy="515.39" rx="2.05" ry="1.35" fill="#2b2b2b"/>
<ellipse cx="361.02" cy="518.26" rx="2.05" ry="1.35" fill="#2b2b2b"/>
<line x1="366.52" y1="546.26" x2="366.52" y2="521.49" stroke="#a0a0a0" stroke-width="0.6" />
<line x1="366.52" y1="562.77" x2="366.52" y2="565" stroke="#a0a0a0" stroke-width="0.6" />
<rect x="364.82" y="546.26" width="3.4" height="16.51" fill="#70b4ad" stroke="#4f8c86" stroke-width="0.45" />
<line x1="364.82" y1="558.47" x2="368.22" y2="558.47" stroke="#3d6b66" stroke-width="0.6" />
<ellipse cx="366.52" cy="488.1" rx="2.05" ry="1.35" fill="#2b2b2b"/>
<ellipse cx="366.52" cy="510.65" rx="2.05" ry="1.35" fill="#2b2b2b"/>
<ellipse cx="366.52" cy="515.39" rx="2.05" ry="1.35" fill="#2b2b2b"/>
<ellipse cx="366.52" cy="518.26" rx="2.05" ry="1.35" fill="#2b2b2b"/>
<line x1="372.03" y1="546.26" x2="372.03" y2="521.49" stroke="#a0a0a0" stroke-width="0.6" />
<line x1="372.03" y1="562.77" x2="372.03" y2="565" stroke="#a0a0a0" stroke-width="0.6" />
<rect x="370.33" y="546.26" width="3.4" height="16.51" fill="#70b4ad" stroke="#4f8c86" stroke-width="0.45" />
<line x1="370.33" y1="558.47" x2="373.73" y2="558.47" stroke="#3d6b66" stroke-width="0.6" />
<ellipse cx="372.03" cy="488.1" rx="2.05" ry="1.35" fill="#2b2b2b"/>
<ellipse cx="372.03" cy="510.65" rx="2.05" ry="1.35" fill="#2b2b2b"/>
<ellipse cx="372.03" cy="515.39" rx="2.05" ry="1.35" fill="#2b2b2b"/>
<ellipse cx="372.03" cy="518.26" rx="2.05" ry="1.35" fill="#2b2b2b"/>
<line x1="377.53" y1="549.85" x2="377.53" y2="533.7" stroke="#a0a0a0" stroke-width="0.6" />
<line x1="377.53" y1="560.62" x2="377.53" y2="564.12" stroke="#a0a0a0" stroke-width="0.6" />
<rect x="375.83" y="549.85" width="3.4" height="10.77" fill="#70b4ad" stroke="#4f8c86" stroke-width="0.45" />
<line x1="375.83" y1="556.03" x2="379.23" y2="556.03" stroke="#3d6b66" stroke-width="0.6" />
<ellipse cx="377.53" cy="493.42" rx="2.05" ry="1.35" fill="#2b2b2b"/>
<ellipse cx="377.53" cy="498.87" rx="2.05" ry="1.35" fill="#2b2b2b"/>
<ellipse cx="377.53" cy="514.38" rx="2.05" ry="1.35" fill="#2b2b2b"/>
<ellipse cx="377.53" cy="530.75" rx="2.05" ry="1.35" fill="#2b2b2b"/>
<line x1="383.04" y1="549.42" x2="383.04" y2="532.25" stroke="#a0a0a0" stroke-width="0.6" />
<line x1="383.04" y1="561.77" x2="383.04" y2="565" stroke="#a0a0a0" stroke-width="0.6" />
<rect x="381.34" y="549.42" width="3.4" height="12.35" fill="#70b4ad" stroke="#4f8c86" stroke-width="0.45" />
<line x1="381.34" y1="556.03" x2="384.74" y2="556.03" stroke="#3d6b66" stroke-width="0.6" />
<ellipse cx="383.04" cy="493.42" rx="2.05" ry="1.35" fill="#2b2b2b"/>
<ellipse cx="383.04" cy="514.38" rx="2.05" ry="1.35" fill="#2b2b2b"/>
<ellipse cx="383.04" cy="518.26" rx="2.05" ry="1.35" fill="#2b2b2b"/>
<ellipse cx="383.04" cy="530.75" rx="2.05" ry="1.35" fill="#2b2b2b"/>
<line x1="388.54" y1="553.73" x2="388.54" y2="541.67" stroke="#a0a0a0" stroke-width="0.6" />
<line x1="388.54" y1="561.77" x2="388.54" y2="565" stroke="#a0a0a0" stroke-width="0.6" />
<rect x="386.84" y="553.73" width="3.4" height="8.04" fill="#70b4ad" stroke="#4f8c86" stroke-width="0.45" />
<line x1="386.84" y1="557.75" x2="390.24" y2="557.75" stroke="#3d6b66" stroke-width="0.6" />
<ellipse cx="388.54" cy="501.46" rx="2.05" ry="1.35" fill="#2b2b2b"/>
<ellipse cx="388.54" cy="521.13" rx="2.05" ry="1.35" fill="#2b2b2b"/>
<ellipse cx="388.54" cy="529.75" rx="2.05" ry="1.35" fill="#2b2b2b"/>
<ellipse cx="388.54" cy="531.61" rx="2.05" ry="1.35" fill="#2b2b2b"/>
<ellipse cx="388.54" cy="533.48" rx="2.05" ry="1.35" fill="#2b2b2b"/>
<ellipse cx="388.54" cy="535.35" rx="2.05" ry="1.35" fill="#2b2b2b"/>
<ellipse cx="388.54" cy="537.21" rx="2.05" ry="1.35" fill="#2b2b2b"/>
<ellipse cx="388.54" cy="539.08" rx="2.05" ry="1.35" fill="#2b2b2b"/>
<line x1="394.05" y1="546.26" x2="394.05" y2="521.49" stroke="#a0a0a0" stroke-width="0.6" />
<line x1="394.05" y1="562.77" x2="394.05" y2="565" stroke="#a0a0a0" stroke-width="0.6" />
<rect x="392.35" y="546.26" width="3.4" height="16.51" fill="#70b4ad" stroke="#4f8c86" stroke-width="0.45" />
<line x1="392.35" y1="558.47" x2="395.75" y2="558.47" stroke="#3d6b66" stroke-width="0.6" />
<ellipse cx="394.05" cy="488.1" rx="2.05" ry="1.35" fill="#2b2b2b"/>
<ellipse cx="394.05" cy="510.65" rx="2.05" ry="1.35" fill="#2b2b2b"/>
<ellipse cx="394.05" cy="515.39" rx="2.05" ry="1.35" fill="#2b2b2b"/>
<ellipse cx="394.05" cy="518.26" rx="2.05" ry="1.35" fill="#2b2b2b"/>
<line x1="399.56" y1="549.13" x2="399.56" y2="533.62" stroke="#a0a0a0" stroke-width="0.6" />
<line x1="399.56" y1="559.47" x2="399.56" y2="562.97" stroke="#a0a0a0" stroke-width="0.6" />
<rect x="397.86" y="549.13" width="3.4" height="10.34" fill="#70b4ad" stroke="#4f8c86" stroke-width="0.45" />
<line x1="397.86" y1="554.88" x2="401.25" y2="554.88" stroke="#3d6b66" stroke-width="0.6" />
<ellipse cx="399.56" cy="489.97" rx="2.05" ry="1.35" fill="#2b2b2b"/>
<ellipse cx="399.56" cy="520.7" rx="2.05" ry="1.35" fill="#2b2b2b"/>
<ellipse cx="399.56" cy="530.75" rx="2.05" ry="1.35" fill="#2b2b2b"/>
<line x1="405.06" y1="550.28" x2="405.06" y2="536.93" stroke="#a0a0a0" stroke-width="0.6" />
<line x1="405.06" y1="559.18" x2="405.06" y2="562.68" stroke="#a0a0a0" stroke-width="0.6" />
<rect x="403.36" y="550.28" width="3.4" height="8.9" fill="#70b4ad" stroke="#4f8c86" stroke-width="0.45" />
<line x1="403.36" y1="556.03" x2="406.76" y2="556.03" stroke="#3d6b66" stroke-width="0.6" />
<ellipse cx="405.06" cy="489.97" rx="2.05" ry="1.35" fill="#2b2b2b"/>
<ellipse cx="405.06" cy="513.52" rx="2.05" ry="1.35" fill="#2b2b2b"/>
<ellipse cx="405.06" cy="520.7" rx="2.05" ry="1.35" fill="#2b2b2b"/>
<ellipse cx="405.06" cy="530.75" rx="2.05" ry="1.35" fill="#2b2b2b"/>
<line x1="410.56" y1="546.26" x2="410.56" y2="521.49" stroke="#a0a0a0" stroke-width="0.6" />
<line x1="410.56" y1="562.77" x2="410.56" y2="565" stroke="#a0a0a0" stroke-width="0.6" />
<rect x="408.87" y="546.26" width="3.4" height="16.51" fill="#70b4ad" stroke="#4f8c86" stroke-width="0.45" />
<line x1="408.87" y1="558.47" x2="412.26" y2="558.47" stroke="#3d6b66" stroke-width="0.6" />
<ellipse cx="410.56" cy="489.11" rx="2.05" ry="1.35" fill="#2b2b2b"/>
<ellipse cx="410.56" cy="510.36" rx="2.05" ry="1.35" fill="#2b2b2b"/>
<ellipse cx="410.56" cy="514.67" rx="2.05" ry="1.35" fill="#2b2b2b"/>
<ellipse cx="410.56" cy="517.54" rx="2.05" ry="1.35" fill="#2b2b2b"/>
<line x1="416.07" y1="546.55" x2="416.07" y2="522.21" stroke="#a0a0a0" stroke-width="0.6" />
<line x1="416.07" y1="562.77" x2="416.07" y2="565" stroke="#a0a0a0" stroke-width="0.6" />
<rect x="414.37" y="546.55" width="3.4" height="16.23" fill="#70b4ad" stroke="#4f8c86" stroke-width="0.45" />
<line x1="414.37" y1="558.47" x2="417.77" y2="558.47" stroke="#3d6b66" stroke-width="0.6" />
<ellipse cx="416.07" cy="488.1" rx="2.05" ry="1.35" fill="#2b2b2b"/>
<ellipse cx="416.07" cy="510.36" rx="2.05" ry="1.35" fill="#2b2b2b"/>
<ellipse cx="416.07" cy="514.67" rx="2.05" ry="1.35" fill="#2b2b2b"/>
<ellipse cx="416.07" cy="518.26" rx="2.05" ry="1.35" fill="#2b2b2b"/>
<line x1="421.57" y1="546.98" x2="421.57" y2="527.94" stroke="#a0a0a0" stroke-width="0.6" />
<line x1="421.57" y1="559.9" x2="421.57" y2="563.4" stroke="#a0a0a0" stroke-width="0.6" />
<rect x="419.88" y="546.98" width="3.4" height="12.92" fill="#70b4ad" stroke="#4f8c86" stroke-width="0.45" />
<line x1="419.88" y1="554.88" x2="423.27" y2="554.88" stroke="#3d6b66" stroke-width="0.6" />
<ellipse cx="421.57" cy="487.1" rx="2.05" ry="1.35" fill="#2b2b2b"/>
<ellipse cx="421.57" cy="511.8" rx="2.05" ry="1.35" fill="#2b2b2b"/>
<ellipse cx="421.57" cy="513.95" rx="2.05" ry="1.35" fill="#2b2b2b"/>
<ellipse cx="421.57" cy="516.11" rx="2.05" ry="1.35" fill="#2b2b2b"/>
<ellipse cx="421.57" cy="519.7" rx="2.05" ry="1.35" fill="#2b2b2b"/>
<ellipse cx="421.57" cy="526.44" rx="2.05" ry="1.35" fill="#2b2b2b"/>
<line x1="427.08" y1="546.98" x2="427.08" y2="527.94" stroke="#a0a0a0" stroke-width="0.6" />
<line x1="427.08" y1="559.9" x2="427.08" y2="563.4" stroke="#a0a0a0" stroke-width="0.6" />
<rect x="425.38" y="546.98" width="3.4" height="12.92" fill="#70b4ad" stroke="#4f8c86" stroke-width="0.45" />
<line x1="425.38" y1="554.88" x2="428.78" y2="554.88" stroke="#3d6b66" stroke-width="0.6" />
<ellipse cx="427.08" cy="487.1" rx="2.05" ry="1.35" fill="#2b2b2b"/>
<ellipse cx="427.08" cy="511.8" rx="2.05" ry="1.35" fill="#2b2b2b"/>
<ellipse cx="427.08" cy="513.95" rx="2.05" ry="1.35" fill="#2b2b2b"/>
<ellipse cx="427.08" cy="516.11" rx="2.05" ry="1.35" fill="#2b2b2b"/>
<ellipse cx="427.08" cy="519.7" rx="2.05" ry="1.35" fill="#2b2b2b"/>
<ellipse cx="427.08" cy="526.44" rx="2.05" ry="1.35" fill="#2b2b2b"/>
<line x1="432.58" y1="546.98" x2="432.58" y2="527.94" stroke="#a0a0a0" stroke-width="0.6" />
<line x1="432.58" y1="559.9" x2="432.58" y2="563.4" stroke="#a0a0a0" stroke-width="0.6" />
<rect x="430.88" y="546.98" width="3.4" height="12.92" fill="#70b4ad" stroke="#4f8c86" stroke-width="0.45" />
<line x1="430.88" y1="554.88" x2="434.28" y2="554.88" stroke="#3d6b66" stroke-width="0.6" />
<ellipse cx="432.58" cy="487.1" rx="2.05" ry="1.35" fill="#2b2b2b"/>
<ellipse cx="432.58" cy="511.8" rx="2.05" ry="1.35" fill="#2b2b2b"/>
<ellipse cx="432.58" cy="513.95" rx="2.05" ry="1.35" fill="#2b2b2b"/>
<ellipse cx="432.58" cy="516.11" rx="2.05" ry="1.35" fill="#2b2b2b"/>
<ellipse cx="432.58" cy="519.7" rx="2.05" ry="1.35" fill="#2b2b2b"/>
<ellipse cx="432.58" cy="526.44" rx="2.05" ry="1.35" fill="#2b2b2b"/>
<line x1="438.09" y1="546.98" x2="438.09" y2="527.94" stroke="#a0a0a0" stroke-width="0.6" />
<line x1="438.09" y1="559.9" x2="438.09" y2="563.4" stroke="#a0a0a0" stroke-width="0.6" />
<rect x="436.39" y="546.98" width="3.4" height="12.92" fill="#70b4ad" stroke="#4f8c86" stroke-width="0.45" />
<line x1="436.39" y1="554.88" x2="439.79" y2="554.88" stroke="#3d6b66" stroke-width="0.6" />
<ellipse cx="438.09" cy="487.1" rx="2.05" ry="1.35" fill="#2b2b2b"/>
<ellipse cx="438.09" cy="511.8" rx="2.05" ry="1.35" fill="#2b2b2b"/>
<ellipse cx="438.09" cy="513.95" rx="2.05" ry="1.35" fill="#2b2b2b"/>
<ellipse cx="438.09" cy="516.11" rx="2.05" ry="1.35" fill="#2b2b2b"/>
<ellipse cx="438.09" cy="519.7" rx="2.05" ry="1.35" fill="#2b2b2b"/>
<ellipse cx="438.09" cy="526.44" rx="2.05" ry="1.35" fill="#2b2b2b"/>
<line x1="443.59" y1="546.98" x2="443.59" y2="527.94" stroke="#a0a0a0" stroke-width="0.6" />
<line x1="443.59" y1="559.9" x2="443.59" y2="563.4" stroke="#a0a0a0" stroke-width="0.6" />
<rect x="441.89" y="546.98" width="3.4" height="12.92" fill="#70b4ad" stroke="#4f8c86" stroke-width="0.45" />
<line x1="441.89" y1="554.88" x2="445.29" y2="554.88" stroke="#3d6b66" stroke-width="0.6" />
<ellipse cx="443.59" cy="487.1" rx="2.05" ry="1.35" fill="#2b2b2b"/>
<ellipse cx="443.59" cy="511.8" rx="2.05" ry="1.35" fill="#2b2b2b"/>
<ellipse cx="443.59" cy="513.95" rx="2.05" ry="1.35" fill="#2b2b2b"/>
<ellipse cx="443.59" cy="516.11" rx="2.05" ry="1.35" fill="#2b2b2b"/>
<ellipse cx="443.59" cy="519.7" rx="2.05" ry="1.35" fill="#2b2b2b"/>
<ellipse cx="443.59" cy="526.44" rx="2.05" ry="1.35" fill="#2b2b2b"/>
<line x1="449.1" y1="554.16" x2="449.1" y2="541.23" stroke="#a0a0a0" stroke-width="0.6" />
<line x1="449.1" y1="562.77" x2="449.1" y2="565" stroke="#a0a0a0" stroke-width="0.6" />
<rect x="447.4" y="554.16" width="3.4" height="8.62" fill="#70b4ad" stroke="#4f8c86" stroke-width="0.45" />
<line x1="447.4" y1="558.47" x2="450.8" y2="558.47" stroke="#3d6b66" stroke-width="0.6" />
<ellipse cx="449.1" cy="486.67" rx="2.05" ry="1.35" fill="#2b2b2b"/>
<ellipse cx="449.1" cy="500.6" rx="2.05" ry="1.35" fill="#2b2b2b"/>
<ellipse cx="449.1" cy="518.98" rx="2.05" ry="1.35" fill="#2b2b2b"/>
<ellipse cx="449.1" cy="527.59" rx="2.05" ry="1.35" fill="#2b2b2b"/>
<ellipse cx="449.1" cy="529.6" rx="2.05" ry="1.35" fill="#2b2b2b"/>
<ellipse cx="449.1" cy="531.61" rx="2.05" ry="1.35" fill="#2b2b2b"/>
<ellipse cx="449.1" cy="533.62" rx="2.05" ry="1.35" fill="#2b2b2b"/>
<ellipse cx="449.1" cy="535.63" rx="2.05" ry="1.35" fill="#2b2b2b"/>
<ellipse cx="449.1" cy="537.65" rx="2.05" ry="1.35" fill="#2b2b2b"/>
<line x1="454.6" y1="551.29" x2="454.6" y2="536.21" stroke="#a0a0a0" stroke-width="0.6" />
<line x1="454.6" y1="561.34" x2="454.6" y2="564.84" stroke="#a0a0a0" stroke-width="0.6" />
<rect x="452.9" y="551.29" width="3.4" height="10.05" fill="#70b4ad" stroke="#4f8c86" stroke-width="0.45" />
<line x1="452.9" y1="557.03" x2="456.3" y2="557.03" stroke="#3d6b66" stroke-width="0.6" />
<ellipse cx="454.6" cy="502.89" rx="2.05" ry="1.35" fill="#2b2b2b"/>
<ellipse cx="454.6" cy="519.7" rx="2.05" ry="1.35" fill="#2b2b2b"/>
<ellipse cx="454.6" cy="524" rx="2.05" ry="1.35" fill="#2b2b2b"/>
<ellipse cx="454.6" cy="532.62" rx="2.05" ry="1.35" fill="#2b2b2b"/>
<line x1="460.11" y1="547.7" x2="460.11" y2="528.31" stroke="#a0a0a0" stroke-width="0.6" />
<line x1="460.11" y1="560.62" x2="460.11" y2="564.12" stroke="#a0a0a0" stroke-width="0.6" />
<rect x="458.41" y="547.7" width="3.4" height="12.92" fill="#70b4ad" stroke="#4f8c86" stroke-width="0.45" />
<line x1="458.41" y1="558.47" x2="461.81" y2="558.47" stroke="#3d6b66" stroke-width="0.6" />
<ellipse cx="460.11" cy="487.1" rx="2.05" ry="1.35" fill="#2b2b2b"/>
<ellipse cx="460.11" cy="511.08" rx="2.05" ry="1.35" fill="#2b2b2b"/>
<ellipse cx="460.11" cy="513.23" rx="2.05" ry="1.35" fill="#2b2b2b"/>
<ellipse cx="460.11" cy="515.39" rx="2.05" ry="1.35" fill="#2b2b2b"/>
<ellipse cx="460.11" cy="519.7" rx="2.05" ry="1.35" fill="#2b2b2b"/>
<ellipse cx="460.11" cy="526.44" rx="2.05" ry="1.35" fill="#2b2b2b"/>
<line x1="465.62" y1="547.7" x2="465.62" y2="528.31" stroke="#a0a0a0" stroke-width="0.6" />
<line x1="465.62" y1="560.62" x2="465.62" y2="564.12" stroke="#a0a0a0" stroke-width="0.6" />
<rect x="463.92" y="547.7" width="3.4" height="12.92" fill="#70b4ad" stroke="#4f8c86" stroke-width="0.45" />
<line x1="463.92" y1="558.47" x2="467.31" y2="558.47" stroke="#3d6b66" stroke-width="0.6" />
<ellipse cx="465.62" cy="487.1" rx="2.05" ry="1.35" fill="#2b2b2b"/>
<ellipse cx="465.62" cy="511.08" rx="2.05" ry="1.35" fill="#2b2b2b"/>
<ellipse cx="465.62" cy="513.23" rx="2.05" ry="1.35" fill="#2b2b2b"/>
<ellipse cx="465.62" cy="515.39" rx="2.05" ry="1.35" fill="#2b2b2b"/>
<ellipse cx="465.62" cy="519.7" rx="2.05" ry="1.35" fill="#2b2b2b"/>
<ellipse cx="465.62" cy="526.44" rx="2.05" ry="1.35" fill="#2b2b2b"/>
<line x1="471.12" y1="548.41" x2="471.12" y2="530.11" stroke="#a0a0a0" stroke-width="0.6" />
<line x1="471.12" y1="560.62" x2="471.12" y2="564.12" stroke="#a0a0a0" stroke-width="0.6" />
<rect x="469.42" y="548.41" width="3.4" height="12.21" fill="#70b4ad" stroke="#4f8c86" stroke-width="0.45" />
<line x1="469.42" y1="556.03" x2="472.82" y2="556.03" stroke="#3d6b66" stroke-width="0.6" />
<ellipse cx="471.12" cy="510.36" rx="2.05" ry="1.35" fill="#2b2b2b"/>
<ellipse cx="471.12" cy="512.52" rx="2.05" ry="1.35" fill="#2b2b2b"/>
<ellipse cx="471.12" cy="515.39" rx="2.05" ry="1.35" fill="#2b2b2b"/>
<ellipse cx="471.12" cy="519.7" rx="2.05" ry="1.35" fill="#2b2b2b"/>
<line x1="476.62" y1="546.26" x2="476.62" y2="524.07" stroke="#a0a0a0" stroke-width="0.6" />
<line x1="476.62" y1="562.06" x2="476.62" y2="565" stroke="#a0a0a0" stroke-width="0.6" />
<rect x="474.93" y="546.26" width="3.4" height="15.8" fill="#70b4ad" stroke="#4f8c86" stroke-width="0.45" />
<line x1="474.93" y1="558.04" x2="478.32" y2="558.04" stroke="#3d6b66" stroke-width="0.6" />
<ellipse cx="476.62" cy="483.8" rx="2.05" ry="1.35" fill="#2b2b2b"/>
<ellipse cx="476.62" cy="509.93" rx="2.05" ry="1.35" fill="#2b2b2b"/>
<ellipse cx="476.62" cy="513.95" rx="2.05" ry="1.35" fill="#2b2b2b"/>
<ellipse cx="476.62" cy="516.11" rx="2.05" ry="1.35" fill="#2b2b2b"/>
<ellipse cx="476.62" cy="518.26" rx="2.05" ry="1.35" fill="#2b2b2b"/>
<ellipse cx="476.62" cy="522.57" rx="2.05" ry="1.35" fill="#2b2b2b"/>
<line x1="482.13" y1="554.16" x2="482.13" y2="541.3" stroke="#a0a0a0" stroke-width="0.6" />
<line x1="482.13" y1="562.77" x2="482.13" y2="565" stroke="#a0a0a0" stroke-width="0.6" />
<rect x="480.43" y="554.16" width="3.4" height="8.62" fill="#70b4ad" stroke="#4f8c86" stroke-width="0.45" />
<line x1="480.43" y1="559.18" x2="483.83" y2="559.18" stroke="#3d6b66" stroke-width="0.6" />
<ellipse cx="482.13" cy="518.98" rx="2.05" ry="1.35" fill="#2b2b2b"/>
<ellipse cx="482.13" cy="523.29" rx="2.05" ry="1.35" fill="#2b2b2b"/>
<ellipse cx="482.13" cy="530.18" rx="2.05" ry="1.35" fill="#2b2b2b"/>
<ellipse cx="482.13" cy="533.34" rx="2.05" ry="1.35" fill="#2b2b2b"/>
<ellipse cx="482.13" cy="539.8" rx="2.05" ry="1.35" fill="#2b2b2b"/>
<line x1="487.63" y1="554.16" x2="487.63" y2="541.3" stroke="#a0a0a0" stroke-width="0.6" />
<line x1="487.63" y1="562.77" x2="487.63" y2="565" stroke="#a0a0a0" stroke-width="0.6" />
<rect x="485.94" y="554.16" width="3.4" height="8.62" fill="#70b4ad" stroke="#4f8c86" stroke-width="0.45" />
<line x1="485.94" y1="559.18" x2="489.33" y2="559.18" stroke="#3d6b66" stroke-width="0.6" />
<ellipse cx="487.63" cy="518.98" rx="2.05" ry="1.35" fill="#2b2b2b"/>
<ellipse cx="487.63" cy="523.29" rx="2.05" ry="1.35" fill="#2b2b2b"/>
<ellipse cx="487.63" cy="530.18" rx="2.05" ry="1.35" fill="#2b2b2b"/>
<ellipse cx="487.63" cy="533.34" rx="2.05" ry="1.35" fill="#2b2b2b"/>
<ellipse cx="487.63" cy="539.8" rx="2.05" ry="1.35" fill="#2b2b2b"/>
<line x1="493.14" y1="554.88" x2="493.14" y2="544.17" stroke="#a0a0a0" stroke-width="0.6" />
<line x1="493.14" y1="562.77" x2="493.14" y2="565" stroke="#a0a0a0" stroke-width="0.6" />
<rect x="491.44" y="554.88" width="3.4" height="7.9" fill="#70b4ad" stroke="#4f8c86" stroke-width="0.45" />
<line x1="491.44" y1="559.18" x2="494.84" y2="559.18" stroke="#3d6b66" stroke-width="0.6" />
<ellipse cx="493.14" cy="475.18" rx="2.05" ry="1.35" fill="#2b2b2b"/>
<ellipse cx="493.14" cy="518.98" rx="2.05" ry="1.35" fill="#2b2b2b"/>
<ellipse cx="493.14" cy="523.29" rx="2.05" ry="1.35" fill="#2b2b2b"/>
<ellipse cx="493.14" cy="530.18" rx="2.05" ry="1.35" fill="#2b2b2b"/>
<ellipse cx="493.14" cy="533.34" rx="2.05" ry="1.35" fill="#2b2b2b"/>
<ellipse cx="493.14" cy="539.8" rx="2.05" ry="1.35" fill="#2b2b2b"/>
<ellipse cx="493.14" cy="542.67" rx="2.05" ry="1.35" fill="#2b2b2b"/>
<line x1="498.64" y1="553.44" x2="498.64" y2="539.86" stroke="#a0a0a0" stroke-width="0.6" />
<line x1="498.64" y1="562.77" x2="498.64" y2="565" stroke="#a0a0a0" stroke-width="0.6" />
<rect x="496.94" y="553.44" width="3.4" height="9.33" fill="#70b4ad" stroke="#4f8c86" stroke-width="0.45" />
<line x1="496.94" y1="558.47" x2="500.34" y2="558.47" stroke="#3d6b66" stroke-width="0.6" />
<ellipse cx="498.64" cy="504.33" rx="2.05" ry="1.35" fill="#2b2b2b"/>
<ellipse cx="498.64" cy="530.18" rx="2.05" ry="1.35" fill="#2b2b2b"/>
<ellipse cx="498.64" cy="534.77" rx="2.05" ry="1.35" fill="#2b2b2b"/>
<ellipse cx="498.64" cy="536.57" rx="2.05" ry="1.35" fill="#2b2b2b"/>
<ellipse cx="498.64" cy="538.36" rx="2.05" ry="1.35" fill="#2b2b2b"/>
<line x1="504.15" y1="557.03" x2="504.15" y2="548.48" stroke="#a0a0a0" stroke-width="0.6" />
<line x1="504.15" y1="562.77" x2="504.15" y2="565" stroke="#a0a0a0" stroke-width="0.6" />
<rect x="502.45" y="557.03" width="3.4" height="5.74" fill="#70b4ad" stroke="#4f8c86" stroke-width="0.45" />
<line x1="502.45" y1="559.9" x2="505.85" y2="559.9" stroke="#3d6b66" stroke-width="0.6" />
<ellipse cx="504.15" cy="531.61" rx="2.05" ry="1.35" fill="#2b2b2b"/>
<ellipse cx="504.15" cy="541.95" rx="2.05" ry="1.35" fill="#2b2b2b"/>
<ellipse cx="504.15" cy="546.98" rx="2.05" ry="1.35" fill="#2b2b2b"/>
<line x1="509.65" y1="549.13" x2="509.65" y2="530.18" stroke="#a0a0a0" stroke-width="0.6" />
<line x1="509.65" y1="561.77" x2="509.65" y2="565" stroke="#a0a0a0" stroke-width="0.6" />
<rect x="507.95" y="549.13" width="3.4" height="12.64" fill="#70b4ad" stroke="#4f8c86" stroke-width="0.45" />
<line x1="507.95" y1="556.31" x2="511.35" y2="556.31" stroke="#3d6b66" stroke-width="0.6" />
<ellipse cx="509.65" cy="464.12" rx="2.05" ry="1.35" fill="#2b2b2b"/>
<ellipse cx="509.65" cy="470.59" rx="2.05" ry="1.35" fill="#2b2b2b"/>
<ellipse cx="509.65" cy="506.05" rx="2.05" ry="1.35" fill="#2b2b2b"/>
<ellipse cx="509.65" cy="526.88" rx="2.05" ry="1.35" fill="#2b2b2b"/>
<line x1="515.16" y1="549.13" x2="515.16" y2="530.18" stroke="#a0a0a0" stroke-width="0.6" />
<line x1="515.16" y1="561.77" x2="515.16" y2="565" stroke="#a0a0a0" stroke-width="0.6" />
<rect x="513.46" y="549.13" width="3.4" height="12.64" fill="#70b4ad" stroke="#4f8c86" stroke-width="0.45" />
<line x1="513.46" y1="556.31" x2="516.86" y2="556.31" stroke="#3d6b66" stroke-width="0.6" />
<ellipse cx="515.16" cy="464.12" rx="2.05" ry="1.35" fill="#2b2b2b"/>
<ellipse cx="515.16" cy="470.59" rx="2.05" ry="1.35" fill="#2b2b2b"/>
<ellipse cx="515.16" cy="506.05" rx="2.05" ry="1.35" fill="#2b2b2b"/>
<ellipse cx="515.16" cy="526.88" rx="2.05" ry="1.35" fill="#2b2b2b"/>
<line x1="520.66" y1="550.86" x2="520.66" y2="534.49" stroke="#a0a0a0" stroke-width="0.6" />
<line x1="520.66" y1="561.77" x2="520.66" y2="565" stroke="#a0a0a0" stroke-width="0.6" />
<rect x="518.96" y="550.86" width="3.4" height="10.91" fill="#70b4ad" stroke="#4f8c86" stroke-width="0.45" />
<line x1="518.96" y1="557.75" x2="522.37" y2="557.75" stroke="#3d6b66" stroke-width="0.6" />
<ellipse cx="520.66" cy="473.31" rx="2.05" ry="1.35" fill="#2b2b2b"/>
<line x1="526.17" y1="552.72" x2="526.17" y2="537" stroke="#a0a0a0" stroke-width="0.6" />
<line x1="526.17" y1="563.21" x2="526.17" y2="565" stroke="#a0a0a0" stroke-width="0.6" />
<rect x="524.47" y="552.72" width="3.4" height="10.48" fill="#70b4ad" stroke="#4f8c86" stroke-width="0.45" />
<line x1="524.47" y1="558.47" x2="527.87" y2="558.47" stroke="#3d6b66" stroke-width="0.6" />
<ellipse cx="526.17" cy="506.77" rx="2.05" ry="1.35" fill="#2b2b2b"/>
<ellipse cx="526.17" cy="517.97" rx="2.05" ry="1.35" fill="#2b2b2b"/>
<ellipse cx="526.17" cy="535.49" rx="2.05" ry="1.35" fill="#2b2b2b"/>
<line x1="531.67" y1="551.72" x2="531.67" y2="537.42" stroke="#a0a0a0" stroke-width="0.6" />
<line x1="531.67" y1="561.77" x2="531.67" y2="565" stroke="#a0a0a0" stroke-width="0.6" />
<rect x="529.97" y="551.72" width="3.4" height="10.05" fill="#70b4ad" stroke="#4f8c86" stroke-width="0.45" />
<line x1="529.97" y1="557.46" x2="533.38" y2="557.46" stroke="#3d6b66" stroke-width="0.6" />
<ellipse cx="531.67" cy="502.03" rx="2.05" ry="1.35" fill="#2b2b2b"/>
<ellipse cx="531.67" cy="514.96" rx="2.05" ry="1.35" fill="#2b2b2b"/>
<ellipse cx="531.67" cy="518.26" rx="2.05" ry="1.35" fill="#2b2b2b"/>
<ellipse cx="531.67" cy="522.57" rx="2.05" ry="1.35" fill="#2b2b2b"/>
<ellipse cx="531.67" cy="535.92" rx="2.05" ry="1.35" fill="#2b2b2b"/>
<line x1="537.18" y1="550.86" x2="537.18" y2="535.56" stroke="#a0a0a0" stroke-width="0.6" />
<line x1="537.18" y1="561.05" x2="537.18" y2="564.55" stroke="#a0a0a0" stroke-width="0.6" />
<rect x="535.48" y="550.86" width="3.4" height="10.2" fill="#70b4ad" stroke="#4f8c86" stroke-width="0.45" />
<line x1="535.48" y1="558.47" x2="538.88" y2="558.47" stroke="#3d6b66" stroke-width="0.6" />
<ellipse cx="537.18" cy="531.9" rx="2.05" ry="1.35" fill="#2b2b2b"/>
<ellipse cx="537.18" cy="533.34" rx="2.05" ry="1.35" fill="#2b2b2b"/>
<line x1="542.69" y1="550.86" x2="542.69" y2="535.56" stroke="#a0a0a0" stroke-width="0.6" />
<line x1="542.69" y1="561.05" x2="542.69" y2="564.55" stroke="#a0a0a0" stroke-width="0.6" />
<rect x="540.99" y="550.86" width="3.4" height="10.2" fill="#70b4ad" stroke="#4f8c86" stroke-width="0.45" />
<line x1="540.99" y1="558.04" x2="544.39" y2="558.04" stroke="#3d6b66" stroke-width="0.6" />
<ellipse cx="542.69" cy="502.03" rx="2.05" ry="1.35" fill="#2b2b2b"/>
<ellipse cx="542.69" cy="531.9" rx="2.05" ry="1.35" fill="#2b2b2b"/>
<line x1="548.19" y1="549.85" x2="548.19" y2="533.7" stroke="#a0a0a0" stroke-width="0.6" />
<line x1="548.19" y1="560.62" x2="548.19" y2="564.12" stroke="#a0a0a0" stroke-width="0.6" />
<rect x="546.49" y="549.85" width="3.4" height="10.77" fill="#70b4ad" stroke="#4f8c86" stroke-width="0.45" />
<line x1="546.49" y1="557.03" x2="549.89" y2="557.03" stroke="#3d6b66" stroke-width="0.6" />
<ellipse cx="548.19" cy="509.64" rx="2.05" ry="1.35" fill="#2b2b2b"/>
<line x1="553.7" y1="552" x2="553.7" y2="538" stroke="#a0a0a0" stroke-width="0.6" />
<line x1="553.7" y1="561.34" x2="553.7" y2="564.84" stroke="#a0a0a0" stroke-width="0.6" />
<rect x="552" y="552" width="3.4" height="9.33" fill="#70b4ad" stroke="#4f8c86" stroke-width="0.45" />
<line x1="552" y1="557.75" x2="555.4" y2="557.75" stroke="#3d6b66" stroke-width="0.6" />
<ellipse cx="553.7" cy="482.36" rx="2.05" ry="1.35" fill="#2b2b2b"/>
<ellipse cx="553.7" cy="519.41" rx="2.05" ry="1.35" fill="#2b2b2b"/>
<ellipse cx="553.7" cy="531.18" rx="2.05" ry="1.35" fill="#2b2b2b"/>
<ellipse cx="553.7" cy="536.5" rx="2.05" ry="1.35" fill="#2b2b2b"/>
<line x1="559.2" y1="551.29" x2="559.2" y2="538.36" stroke="#a0a0a0" stroke-width="0.6" />
<line x1="559.2" y1="559.9" x2="559.2" y2="563.4" stroke="#a0a0a0" stroke-width="0.6" />
<rect x="557.5" y="551.29" width="3.4" height="8.62" fill="#70b4ad" stroke="#4f8c86" stroke-width="0.45" />
<line x1="557.5" y1="555.59" x2="560.9" y2="555.59" stroke="#3d6b66" stroke-width="0.6" />
<ellipse cx="559.2" cy="514.96" rx="2.05" ry="1.35" fill="#2b2b2b"/>
<ellipse cx="559.2" cy="520.41" rx="2.05" ry="1.35" fill="#2b2b2b"/>
<ellipse cx="559.2" cy="524.43" rx="2.05" ry="1.35" fill="#2b2b2b"/>
<ellipse cx="559.2" cy="533.34" rx="2.05" ry="1.35" fill="#2b2b2b"/>
<line x1="564.71" y1="557.46" x2="564.71" y2="550.14" stroke="#a0a0a0" stroke-width="0.6" />
<line x1="564.71" y1="562.34" x2="564.71" y2="565" stroke="#a0a0a0" stroke-width="0.6" />
<rect x="563" y="557.46" width="3.4" height="4.88" fill="#70b4ad" stroke="#4f8c86" stroke-width="0.45" />
<line x1="563" y1="559.9" x2="566.41" y2="559.9" stroke="#3d6b66" stroke-width="0.6" />
<ellipse cx="564.71" cy="531.9" rx="2.05" ry="1.35" fill="#2b2b2b"/>
<line x1="570.21" y1="546.26" x2="570.21" y2="526.44" stroke="#a0a0a0" stroke-width="0.6" />
<line x1="570.21" y1="559.47" x2="570.21" y2="562.97" stroke="#a0a0a0" stroke-width="0.6" />
<rect x="568.51" y="546.26" width="3.4" height="13.21" fill="#70b4ad" stroke="#4f8c86" stroke-width="0.45" />
<line x1="568.51" y1="554.16" x2="571.91" y2="554.16" stroke="#3d6b66" stroke-width="0.6" />
<ellipse cx="570.21" cy="499.3" rx="2.05" ry="1.35" fill="#2b2b2b"/>
<line x1="575.72" y1="545.26" x2="575.72" y2="522.21" stroke="#a0a0a0" stroke-width="0.6" />
<line x1="575.72" y1="560.62" x2="575.72" y2="564.12" stroke="#a0a0a0" stroke-width="0.6" />
<rect x="574.01" y="545.26" width="3.4" height="15.36" fill="#70b4ad" stroke="#4f8c86" stroke-width="0.45" />
<line x1="574.01" y1="554.88" x2="577.42" y2="554.88" stroke="#3d6b66" stroke-width="0.6" />
<ellipse cx="575.72" cy="516.82" rx="2.05" ry="1.35" fill="#2b2b2b"/>
<line x1="581.22" y1="552" x2="581.22" y2="539.08" stroke="#a0a0a0" stroke-width="0.6" />
<line x1="581.22" y1="560.62" x2="581.22" y2="564.12" stroke="#a0a0a0" stroke-width="0.6" />
<rect x="579.52" y="552" width="3.4" height="8.62" fill="#e4be4c" stroke="#b39436" stroke-width="0.45" />
<line x1="579.52" y1="556.31" x2="582.92" y2="556.31" stroke="#7a6a2a" stroke-width="0.6" />
<ellipse cx="581.22" cy="529.75" rx="2.05" ry="1.35" fill="#2b2b2b"/>
<ellipse cx="581.22" cy="531.65" rx="2.05" ry="1.35" fill="#2b2b2b"/>
<ellipse cx="581.22" cy="533.55" rx="2.05" ry="1.35" fill="#2b2b2b"/>
<ellipse cx="581.22" cy="535.46" rx="2.05" ry="1.35" fill="#2b2b2b"/>
<ellipse cx="581.22" cy="537.36" rx="2.05" ry="1.35" fill="#2b2b2b"/>
<line x1="586.73" y1="545.26" x2="586.73" y2="522.64" stroke="#a0a0a0" stroke-width="0.6" />
<line x1="586.73" y1="560.33" x2="586.73" y2="563.83" stroke="#a0a0a0" stroke-width="0.6" />
<rect x="585.02" y="545.26" width="3.4" height="15.08" fill="#e4be4c" stroke="#b39436" stroke-width="0.45" />
<line x1="585.02" y1="553.44" x2="588.43" y2="553.44" stroke="#7a6a2a" stroke-width="0.6" />
<ellipse cx="586.73" cy="516.82" rx="2.05" ry="1.35" fill="#2b2b2b"/>
<line x1="592.23" y1="545.26" x2="592.23" y2="522.64" stroke="#a0a0a0" stroke-width="0.6" />
<line x1="592.23" y1="560.33" x2="592.23" y2="563.83" stroke="#a0a0a0" stroke-width="0.6" />
<rect x="590.53" y="545.26" width="3.4" height="15.08" fill="#e4be4c" stroke="#b39436" stroke-width="0.45" />
<line x1="590.53" y1="552" x2="593.93" y2="552" stroke="#7a6a2a" stroke-width="0.6" />
<ellipse cx="592.23" cy="516.82" rx="2.05" ry="1.35" fill="#2b2b2b"/>
<line x1="597.74" y1="545.26" x2="597.74" y2="522.64" stroke="#a0a0a0" stroke-width="0.6" />
<line x1="597.74" y1="560.33" x2="597.74" y2="563.83" stroke="#a0a0a0" stroke-width="0.6" />
<rect x="596.03" y="545.26" width="3.4" height="15.08" fill="#e4be4c" stroke="#b39436" stroke-width="0.45" />
<line x1="596.03" y1="552" x2="599.44" y2="552" stroke="#7a6a2a" stroke-width="0.6" />
<ellipse cx="597.74" cy="516.82" rx="2.05" ry="1.35" fill="#2b2b2b"/>
<line x1="603.24" y1="545.26" x2="603.24" y2="522.64" stroke="#a0a0a0" stroke-width="0.6" />
<line x1="603.24" y1="560.33" x2="603.24" y2="563.83" stroke="#a0a0a0" stroke-width="0.6" />
<rect x="601.54" y="545.26" width="3.4" height="15.08" fill="#e4be4c" stroke="#b39436" stroke-width="0.45" />
<line x1="601.54" y1="552" x2="604.94" y2="552" stroke="#7a6a2a" stroke-width="0.6" />
<ellipse cx="603.24" cy="516.82" rx="2.05" ry="1.35" fill="#2b2b2b"/>
<line x1="608.75" y1="545.26" x2="608.75" y2="522.64" stroke="#a0a0a0" stroke-width="0.6" />
<line x1="608.75" y1="560.33" x2="608.75" y2="563.83" stroke="#a0a0a0" stroke-width="0.6" />
<rect x="607.04" y="545.26" width="3.4" height="15.08" fill="#e4be4c" stroke="#b39436" stroke-width="0.45" />
<line x1="607.04" y1="552" x2="610.45" y2="552" stroke="#7a6a2a" stroke-width="0.6" />
<ellipse cx="608.75" cy="516.82" rx="2.05" ry="1.35" fill="#2b2b2b"/>
<line x1="614.25" y1="545.26" x2="614.25" y2="522.64" stroke="#a0a0a0" stroke-width="0.6" />
<line x1="614.25" y1="560.33" x2="614.25" y2="563.83" stroke="#a0a0a0" stroke-width="0.6" />
<rect x="612.55" y="545.26" width="3.4" height="15.08" fill="#e4be4c" stroke="#b39436" stroke-width="0.45" />
<line x1="612.55" y1="552" x2="615.95" y2="552" stroke="#7a6a2a" stroke-width="0.6" />
<ellipse cx="614.25" cy="516.82" rx="2.05" ry="1.35" fill="#2b2b2b"/>
<line x1="619.75" y1="545.26" x2="619.75" y2="523.29" stroke="#a0a0a0" stroke-width="0.6" />
<line x1="619.75" y1="559.9" x2="619.75" y2="563.4" stroke="#a0a0a0" stroke-width="0.6" />
<rect x="618.05" y="545.26" width="3.4" height="14.65" fill="#e4be4c" stroke="#b39436" stroke-width="0.45" />
<line x1="618.05" y1="557.03" x2="621.46" y2="557.03" stroke="#7a6a2a" stroke-width="0.6" />
<line x1="625.26" y1="544.11" x2="625.26" y2="523.21" stroke="#a0a0a0" stroke-width="0.6" />
<line x1="625.26" y1="558.04" x2="625.26" y2="561.54" stroke="#a0a0a0" stroke-width="0.6" />
<rect x="623.56" y="544.11" width="3.4" height="13.93" fill="#e4be4c" stroke="#b39436" stroke-width="0.45" />
<line x1="623.56" y1="553.44" x2="626.96" y2="553.44" stroke="#7a6a2a" stroke-width="0.6" />
<line x1="630.76" y1="557.46" x2="630.76" y2="552.79" stroke="#a0a0a0" stroke-width="0.6" />
<line x1="630.76" y1="560.62" x2="630.76" y2="564.12" stroke="#a0a0a0" stroke-width="0.6" />
<rect x="629.06" y="557.46" width="3.4" height="3.16" fill="#e4be4c" stroke="#b39436" stroke-width="0.45" />
<line x1="629.06" y1="559.18" x2="632.47" y2="559.18" stroke="#7a6a2a" stroke-width="0.6" />
<ellipse cx="630.76" cy="530.47" rx="2.05" ry="1.35" fill="#2b2b2b"/>
<ellipse cx="630.76" cy="536.93" rx="2.05" ry="1.35" fill="#2b2b2b"/>
<ellipse cx="630.76" cy="551.29" rx="2.05" ry="1.35" fill="#2b2b2b"/>
<polyline points="74.76,371.2 80.27,381.7 85.77,409.6 91.28,473.5 96.78,473.5 102.28,486.7 107.79,487.4 113.3,490.3 118.8,507.5 124.31,512.5 129.81,514 135.31,515 140.82,515.4 146.32,515.7 151.83,524.7 157.34,531.9 162.84,533.3 168.34,534.8 173.85,536.2 179.36,536.2 184.86,536.2 190.37,536.2 195.87,536.2 201.38,536.2 206.88,536.2 212.38,536.2 217.89,536.2 223.39,536.5 228.9,536.86 234.41,537.22 239.91,537.58 245.42,537.95 250.92,538.31 256.43,538.67 261.93,539.03 267.44,539.39 272.94,539.75 278.44,540.12 283.95,540.48 289.45,540.84 294.96,541.2 300.46,541.2 305.97,541.35 311.48,541.49 316.98,541.64 322.49,541.78 327.99,541.93 333.5,542.08 339,542.22 344.5,542.37 350.01,542.52 355.51,542.66 361.02,542.81 366.52,542.95 372.03,543.1 377.53,543.1 383.04,543.18 388.54,543.25 394.05,543.33 399.56,543.41 405.06,543.48 410.56,543.56 416.07,543.64 421.57,543.72 427.08,543.79 432.58,543.87 438.09,543.95 443.59,544.02 449.1,544.1 454.6,544.5 460.11,544.71 465.62,544.92 471.12,545.12 476.62,545.33 482.13,545.54 487.63,545.75 493.14,545.96 498.64,546.17 504.15,546.38 509.65,546.58 515.16,546.79 520.66,547 526.17,547.4 531.67,547.4 537.18,547.4 542.69,547.4 548.19,547.4 553.7,549.8 559.2,549.8 564.71,551.3 570.21,554.2 575.72,555.6 581.22,558.5 586.73,558.5 592.23,558.5 597.74,558.5 603.24,558.5 608.75,558.5 614.25,558.5 619.75,561.3 625.26,561.8 630.76,562.8" fill="none" stroke="#f1b6cb" stroke-width="1.5" stroke-linejoin="round"/>
<ellipse cx="74.76" cy="371.2" rx="1.7" ry="1.4" fill="#f1b6cb"/>
<ellipse cx="80.27" cy="381.7" rx="1.7" ry="1.4" fill="#f1b6cb"/>
<ellipse cx="85.77" cy="409.6" rx="1.7" ry="1.4" fill="#f1b6cb"/>
<ellipse cx="91.28" cy="473.5" rx="1.7" ry="1.4" fill="#f1b6cb"/>
<ellipse cx="96.78" cy="473.5" rx="1.7" ry="1.4" fill="#f1b6cb"/>
<ellipse cx="102.28" cy="486.7" rx="1.7" ry="1.4" fill="#f1b6cb"/>
<ellipse cx="107.79" cy="487.4" rx="1.7" ry="1.4" fill="#f1b6cb"/>
<ellipse cx="113.3" cy="490.3" rx="1.7" ry="1.4" fill="#f1b6cb"/>
<ellipse cx="118.8" cy="507.5" rx="1.7" ry="1.4" fill="#f1b6cb"/>
<ellipse cx="124.31" cy="512.5" rx="1.7" ry="1.4" fill="#f1b6cb"/>
<ellipse cx="129.81" cy="514" rx="1.7" ry="1.4" fill="#f1b6cb"/>
<ellipse cx="135.31" cy="515" rx="1.7" ry="1.4" fill="#f1b6cb"/>
<ellipse cx="140.82" cy="515.4" rx="1.7" ry="1.4" fill="#f1b6cb"/>
<ellipse cx="146.32" cy="515.7" rx="1.7" ry="1.4" fill="#f1b6cb"/>
<ellipse cx="151.83" cy="524.7" rx="1.7" ry="1.4" fill="#f1b6cb"/>
<ellipse cx="157.34" cy="531.9" rx="1.7" ry="1.4" fill="#f1b6cb"/>
<ellipse cx="162.84" cy="533.3" rx="1.7" ry="1.4" fill="#f1b6cb"/>
<ellipse cx="168.34" cy="534.8" rx="1.7" ry="1.4" fill="#f1b6cb"/>
<ellipse cx="173.85" cy="536.2" rx="1.7" ry="1.4" fill="#f1b6cb"/>
<ellipse cx="179.36" cy="536.2" rx="1.7" ry="1.4" fill="#f1b6cb"/>
<ellipse cx="184.86" cy="536.2" rx="1.7" ry="1.4" fill="#f1b6cb"/>
<ellipse cx="190.37" cy="536.2" rx="1.7" ry="1.4" fill="#f1b6cb"/>
<ellipse cx="195.87" cy="536.2" rx="1.7" ry="1.4" fill="#f1b6cb"/>
<ellipse cx="201.38" cy="536.2" rx="1.7" ry="1.4" fill="#f1b6cb"/>
<ellipse cx="206.88" cy="536.2" rx="1.7" ry="1.4" fill="#f1b6cb"/>
<ellipse cx="212.38" cy="536.2" rx="1.7" ry="1.4" fill="#f1b6cb"/>
<ellipse cx="217.89" cy="536.2" rx="1.7" ry="1.4" fill="#f1b6cb"/>
<ellipse cx="223.39" cy="536.5" rx="1.7" ry="1.4" fill="#f1b6cb"/>
<ellipse cx="228.9" cy="536.86" rx="1.7" ry="1.4" fill="#f1b6cb"/>
<ellipse cx="234.41" cy="537.22" rx="1.7" ry="1.4" fill="#f1b6cb"/>
<ellipse cx="239.91" cy="537.58" rx="1.7" ry="1.4" fill="#f1b6cb"/>
<ellipse cx="245.42" cy="537.95" rx="1.7" ry="1.4" fill="#f1b6cb"/>
<ellipse cx="250.92" cy="538.31" rx="1.7" ry="1.4" fill="#f1b6cb"/>
<ellipse cx="256.43" cy="538.67" rx="1.7" ry="1.4" fill="#f1b6cb"/>
<ellipse cx="261.93" cy="539.03" rx="1.7" ry="1.4" fill="#f1b6cb"/>
<ellipse cx="267.44" cy="539.39" rx="1.7" ry="1.4" fill="#f1b6cb"/>
<ellipse cx="272.94" cy="539.75" rx="1.7" ry="1.4" fill="#f1b6cb"/>
<ellipse cx="278.44" cy="540.12" rx="1.7" ry="1.4" fill="#f1b6cb"/>
<ellipse cx="283.95" cy="540.48" rx="1.7" ry="1.4" fill="#f1b6cb"/>
<ellipse cx="289.45" cy="540.84" rx="1.7" ry="1.4" fill="#f1b6cb"/>
<ellipse cx="294.96" cy="541.2" rx="1.7" ry="1.4" fill="#f1b6cb"/>
<ellipse cx="300.46" cy="541.2" rx="1.7" ry="1.4" fill="#f1b6cb"/>
<ellipse cx="305.97" cy="541.35" rx="1.7" ry="1.4" fill="#f1b6cb"/>
<ellipse cx="311.48" cy="541.49" rx="1.7" ry="1.4" fill="#f1b6cb"/>
<ellipse cx="316.98" cy="541.64" rx="1.7" ry="1.4" fill="#f1b6cb"/>
<ellipse cx="322.49" cy="541.78" rx="1.7" ry="1.4" fill="#f1b6cb"/>
<ellipse cx="327.99" cy="541.93" rx="1.7" ry="1.4" fill="#f1b6cb"/>
<ellipse cx="333.5" cy="542.08" rx="1.7" ry="1.4" fill="#f1b6cb"/>
<ellipse cx="339" cy="542.22" rx="1.7" ry="1.4" fill="#f1b6cb"/>
<ellipse cx="344.5" cy="542.37" rx="1.7" ry="1.4" fill="#f1b6cb"/>
<ellipse cx="350.01" cy="542.52" rx="1.7" ry="1.4" fill="#f1b6cb"/>
<ellipse cx="355.51" cy="542.66" rx="1.7" ry="1.4" fill="#f1b6cb"/>
<ellipse cx="361.02" cy="542.81" rx="1.7" ry="1.4" fill="#f1b6cb"/>
<ellipse cx="366.52" cy="542.95" rx="1.7" ry="1.4" fill="#f1b6cb"/>
<ellipse cx="372.03" cy="543.1" rx="1.7" ry="1.4" fill="#f1b6cb"/>
<ellipse cx="377.53" cy="543.1" rx="1.7" ry="1.4" fill="#f1b6cb"/>
<ellipse cx="383.04" cy="543.18" rx="1.7" ry="1.4" fill="#f1b6cb"/>
<ellipse cx="388.54" cy="543.25" rx="1.7" ry="1.4" fill="#f1b6cb"/>
<ellipse cx="394.05" cy="543.33" rx="1.7" ry="1.4" fill="#f1b6cb"/>
<ellipse cx="399.56" cy="543.41" rx="1.7" ry="1.4" fill="#f1b6cb"/>
<ellipse cx="405.06" cy="543.48" rx="1.7" ry="1.4" fill="#f1b6cb"/>
<ellipse cx="410.56" cy="543.56" rx="1.7" ry="1.4" fill="#f1b6cb"/>
<ellipse cx="416.07" cy="543.64" rx="1.7" ry="1.4" fill="#f1b6cb"/>
<ellipse cx="421.57" cy="543.72" rx="1.7" ry="1.4" fill="#f1b6cb"/>
<ellipse cx="427.08" cy="543.79" rx="1.7" ry="1.4" fill="#f1b6cb"/>
<ellipse cx="432.58" cy="543.87" rx="1.7" ry="1.4" fill="#f1b6cb"/>
<ellipse cx="438.09" cy="543.95" rx="1.7" ry="1.4" fill="#f1b6cb"/>
<ellipse cx="443.59" cy="544.02" rx="1.7" ry="1.4" fill="#f1b6cb"/>
<ellipse cx="449.1" cy="544.1" rx="1.7" ry="1.4" fill="#f1b6cb"/>
<ellipse cx="454.6" cy="544.5" rx="1.7" ry="1.4" fill="#f1b6cb"/>
<ellipse cx="460.11" cy="544.71" rx="1.7" ry="1.4" fill="#f1b6cb"/>
<ellipse cx="465.62" cy="544.92" rx="1.7" ry="1.4" fill="#f1b6cb"/>
<ellipse cx="471.12" cy="545.12" rx="1.7" ry="1.4" fill="#f1b6cb"/>
<ellipse cx="476.62" cy="545.33" rx="1.7" ry="1.4" fill="#f1b6cb"/>
<ellipse cx="482.13" cy="545.54" rx="1.7" ry="1.4" fill="#f1b6cb"/>
<ellipse cx="487.63" cy="545.75" rx="1.7" ry="1.4" fill="#f1b6cb"/>
<ellipse cx="493.14" cy="545.96" rx="1.7" ry="1.4" fill="#f1b6cb"/>
<ellipse cx="498.64" cy="546.17" rx="1.7" ry="1.4" fill="#f1b6cb"/>
<ellipse cx="504.15" cy="546.38" rx="1.7" ry="1.4" fill="#f1b6cb"/>
<ellipse cx="509.65" cy="546.58" rx="1.7" ry="1.4" fill="#f1b6cb"/>
<ellipse cx="515.16" cy="546.79" rx="1.7" ry="1.4" fill="#f1b6cb"/>
<ellipse cx="520.66" cy="547" rx="1.7" ry="1.4" fill="#f1b6cb"/>
<ellipse cx="526.17" cy="547.4" rx="1.7" ry="1.4" fill="#f1b6cb"/>
<ellipse cx="531.67" cy="547.4" rx="1.7" ry="1.4" fill="#f1b6cb"/>
<ellipse cx="537.18" cy="547.4" rx="1.7" ry="1.4" fill="#f1b6cb"/>
<ellipse cx="542.69" cy="547.4" rx="1.7" ry="1.4" fill="#f1b6cb"/>
<ellipse cx="548.19" cy="547.4" rx="1.7" ry="1.4" fill="#f1b6cb"/>
<ellipse cx="553.7" cy="549.8" rx="1.7" ry="1.4" fill="#f1b6cb"/>
<ellipse cx="559.2" cy="549.8" rx="1.7" ry="1.4" fill="#f1b6cb"/>
<ellipse cx="564.71" cy="551.3" rx="1.7" ry="1.4" fill="#f1b6cb"/>
<ellipse cx="570.21" cy="554.2" rx="1.7" ry="1.4" fill="#f1b6cb"/>
<ellipse cx="575.72" cy="555.6" rx="1.7" ry="1.4" fill="#f1b6cb"/>
<ellipse cx="581.22" cy="558.5" rx="1.7" ry="1.4" fill="#f1b6cb"/>
<ellipse cx="586.73" cy="558.5" rx="1.7" ry="1.4" fill="#f1b6cb"/>
<ellipse cx="592.23" cy="558.5" rx="1.7" ry="1.4" fill="#f1b6cb"/>
<ellipse cx="597.74" cy="558.5" rx="1.7" ry="1.4" fill="#f1b6cb"/>
<ellipse cx="603.24" cy="558.5" rx="1.7" ry="1.4" fill="#f1b6cb"/>
<ellipse cx="608.75" cy="558.5" rx="1.7" ry="1.4" fill="#f1b6cb"/>
<ellipse cx="614.25" cy="558.5" rx="1.7" ry="1.4" fill="#f1b6cb"/>
<ellipse cx="619.75" cy="561.3" rx="1.7" ry="1.4" fill="#f1b6cb"/>
<ellipse cx="625.26" cy="561.8" rx="1.7" ry="1.4" fill="#f1b6cb"/>
<ellipse cx="630.76" cy="562.8" rx="1.7" ry="1.4" fill="#f1b6cb"/>
<ellipse cx="75.1" cy="356.4" rx="2.1" ry="1.5" fill="#e2222b"/>
<ellipse cx="80.4" cy="357.7" rx="2.1" ry="1.5" fill="#e2222b"/>
<ellipse cx="79.9" cy="451" rx="2.1" ry="1.5" fill="#e2222b"/>
<polyline points="80.4,447 80.4,363.7 86.9,359.6" fill="none" stroke="#e2222b" stroke-width="1.1"/>
<text x="87.7" y="359.9" font-size="9.45" fill="#e2222b" font-weight="bold">Structural protein</text>
<ellipse cx="91.4" cy="366.4" rx="2.1" ry="1.5" fill="#555555"/>
<ellipse cx="96.9" cy="366.4" rx="2.1" ry="1.5" fill="#555555"/>
<text x="103.4" y="369.7" font-size="9.45" fill="#555555" font-weight="bold">Unaligned protein</text>
<ellipse cx="86.3" cy="428.5" rx="2.1" ry="1.5" fill="#1f9a4b"/>
<polyline points="86.5,425 99.4,380.3 109.9,380.3" fill="none" stroke="#1f9a4b" stroke-width="1.1"/>
<text x="112.6" y="383.6" font-size="9.45" fill="#1f9a4b" font-weight="bold">Glycoside hydrolase family protein</text>
<ellipse cx="130.1" cy="413.6" rx="2" ry="1.4" fill="#2d92d0"/>
<ellipse cx="135.6" cy="417.1" rx="2" ry="1.4" fill="#2d92d0"/>
<ellipse cx="141.3" cy="415.3" rx="2" ry="1.4" fill="#2d92d0"/>
<ellipse cx="141.3" cy="417.1" rx="2" ry="1.4" fill="#2d92d0"/>
<ellipse cx="124.7" cy="424.1" rx="2" ry="1.4" fill="#2d92d0"/>
<ellipse cx="124.7" cy="427.1" rx="2" ry="1.4" fill="#2d92d0"/>
<ellipse cx="135.6" cy="425.8" rx="2" ry="1.4" fill="#2d92d0"/>
<text x="130" y="399.4" font-size="9.45" fill="#2d92d0" font-weight="bold">RNA-polymerase or</text>
<text x="130" y="411" font-size="9.45" fill="#2d92d0" font-weight="bold">RNA-polymerase subunit</text>
<ellipse cx="146.6" cy="427.8" rx="2" ry="1.4" fill="#1f2f80"/>
<text x="160.2" y="426" font-size="9.45" fill="#1f2f80" font-weight="bold">Proximal tail fiber subunit</text>
<ellipse cx="146.6" cy="435.3" rx="2" ry="1.4" fill="#f0951e"/>
<ellipse cx="152" cy="437.2" rx="2" ry="1.4" fill="#f0951e"/>
<text x="170.9" y="439.1" font-size="9.45" fill="#f0951e" font-weight="bold">Phage tape measure</text>
<ellipse cx="113.5" cy="451.2" rx="2" ry="1.4" fill="#7d3294"/>
<text x="119.2" y="452.4" font-size="9.45" fill="#7d3294" font-weight="bold">Glycerophosphoryl diester</text>
<text x="119.2" y="464.1" font-size="9.45" fill="#7d3294" font-weight="bold">phosphodieesterase</text>
<ellipse cx="326.7" cy="440.2" rx="2" ry="1.4" fill="#7fbe3a"/>
<ellipse cx="333.8" cy="440.2" rx="2" ry="1.4" fill="#7fbe3a"/>
<ellipse cx="344.2" cy="459.6" rx="2" ry="1.4" fill="#7fbe3a"/>
<ellipse cx="569.8" cy="460.2" rx="2" ry="1.4" fill="#7fbe3a"/>
<polyline points="340.5,441.3 351.4,448.8 348.3,455.2" fill="none" stroke="#7fbe3a" stroke-width="1.1"/>
<line x1="351.4" y1="448.8" x2="403.4" y2="448.8" stroke="#7fbe3a" stroke-width="1.1" />
<text x="408" y="450.6" font-size="9.45" fill="#7fbe3a" font-weight="bold">Tail fiber protein</text>
<polyline points="474,453.4 492.6,460.2 561.6,460.2" fill="none" stroke="#7fbe3a" stroke-width="1.1"/>
<line x1="71.7" y1="345.1" x2="71.7" y2="577.3" stroke="#444" stroke-width="0.9" />
<line x1="634.6" y1="345.1" x2="634.6" y2="577.3" stroke="#444" stroke-width="0.9" />
<line x1="69.2" y1="577.3" x2="637.1" y2="577.3" stroke="#444" stroke-width="0.9" />
<line x1="69.1" y1="357" x2="71.7" y2="357" stroke="#333" stroke-width="0.8" />
<text x="67.7" y="360" font-size="8.3" fill="#262626" text-anchor="end">10000</text>
<line x1="69.1" y1="409.5" x2="71.7" y2="409.5" stroke="#333" stroke-width="0.8" />
<text x="67.7" y="412.5" font-size="8.3" fill="#262626" text-anchor="end">7500</text>
<line x1="69.1" y1="462" x2="71.7" y2="462" stroke="#333" stroke-width="0.8" />
<text x="67.7" y="465" font-size="8.3" fill="#262626" text-anchor="end">5000</text>
<line x1="69.1" y1="514.1" x2="71.7" y2="514.1" stroke="#333" stroke-width="0.8" />
<text x="67.7" y="517.1" font-size="8.3" fill="#262626" text-anchor="end">2500</text>
<line x1="69.1" y1="577.2" x2="71.7" y2="577.2" stroke="#333" stroke-width="0.8" />
<text x="67.7" y="580.2" font-size="8.3" fill="#262626" text-anchor="end">0</text>
<line x1="634.6" y1="356.1" x2="637.2" y2="356.1" stroke="#333" stroke-width="0.8" />
<text x="638.6" y="359.1" font-size="8.3" fill="#262626">400</text>
<line x1="634.6" y1="408.7" x2="637.2" y2="408.7" stroke="#333" stroke-width="0.8" />
<text x="638.6" y="411.7" font-size="8.3" fill="#262626">300</text>
<line x1="634.6" y1="461.6" x2="637.2" y2="461.6" stroke="#333" stroke-width="0.8" />
<text x="638.6" y="464.6" font-size="8.3" fill="#262626">200</text>
<line x1="634.6" y1="514.2" x2="637.2" y2="514.2" stroke="#333" stroke-width="0.8" />
<text x="638.6" y="517.2" font-size="8.3" fill="#262626">100</text>
<line x1="634.6" y1="576.4" x2="637.2" y2="576.4" stroke="#333" stroke-width="0.8" />
<text x="638.6" y="579.4" font-size="8.3" fill="#262626">0</text>
<line x1="74.76" y1="577.3" x2="74.76" y2="579.1" stroke="#333" stroke-width="0.7" />
<text x="0" y="0" font-size="6" fill="#444444" font-weight="bold" transform="translate(72.66 581.3) rotate(90.3)" textLength="20.6" lengthAdjust="spacingAndGlyphs">CP80963</text>
<line x1="80.27" y1="577.3" x2="80.27" y2="579.1" stroke="#333" stroke-width="0.7" />
<text x="0" y="0" font-size="6" fill="#444444" font-weight="bold" transform="translate(78.17 581.3) rotate(90.3)" textLength="20.6" lengthAdjust="spacingAndGlyphs">CP80608</text>
<line x1="85.77" y1="577.3" x2="85.77" y2="579.1" stroke="#333" stroke-width="0.7" />
<text x="0" y="0" font-size="6" fill="#444444" font-weight="bold" transform="translate(83.67 581.3) rotate(90.3)" textLength="20.6" lengthAdjust="spacingAndGlyphs">CP81108</text>
<line x1="91.28" y1="577.3" x2="91.28" y2="579.1" stroke="#333" stroke-width="0.7" />
<text x="0" y="0" font-size="6" fill="#444444" font-weight="bold" transform="translate(89.18 581.3) rotate(90.3)" textLength="20.6" lengthAdjust="spacingAndGlyphs">CP80398</text>
<line x1="96.78" y1="577.3" x2="96.78" y2="579.1" stroke="#333" stroke-width="0.7" />
<text x="0" y="0" font-size="6" fill="#444444" font-weight="bold" transform="translate(94.68 581.3) rotate(90.3)" textLength="20.6" lengthAdjust="spacingAndGlyphs">CP80448</text>
<line x1="102.28" y1="577.3" x2="102.28" y2="579.1" stroke="#333" stroke-width="0.7" />
<text x="0" y="0" font-size="6" fill="#444444" font-weight="bold" transform="translate(100.19 581.3) rotate(90.3)" textLength="20.6" lengthAdjust="spacingAndGlyphs">CP81397</text>
<line x1="107.79" y1="577.3" x2="107.79" y2="579.1" stroke="#333" stroke-width="0.7" />
<text x="0" y="0" font-size="6" fill="#444444" font-weight="bold" transform="translate(105.69 581.3) rotate(90.3)" textLength="20.6" lengthAdjust="spacingAndGlyphs">CP80492</text>
<line x1="113.3" y1="577.3" x2="113.3" y2="579.1" stroke="#333" stroke-width="0.7" />
<text x="0" y="0" font-size="6" fill="#444444" font-weight="bold" transform="translate(111.2 581.3) rotate(90.3)" textLength="20.6" lengthAdjust="spacingAndGlyphs">CP81048</text>
<line x1="118.8" y1="577.3" x2="118.8" y2="579.1" stroke="#333" stroke-width="0.7" />
<text x="0" y="0" font-size="6" fill="#444444" font-weight="bold" transform="translate(116.7 581.3) rotate(90.3)" textLength="20.6" lengthAdjust="spacingAndGlyphs">CP80418</text>
<line x1="124.31" y1="577.3" x2="124.31" y2="579.1" stroke="#333" stroke-width="0.7" />
<text x="0" y="0" font-size="6" fill="#444444" font-weight="bold" transform="translate(122.21 581.3) rotate(90.3)" textLength="20.6" lengthAdjust="spacingAndGlyphs">CP81339</text>
<line x1="129.81" y1="577.3" x2="129.81" y2="579.1" stroke="#333" stroke-width="0.7" />
<text x="0" y="0" font-size="6" fill="#444444" font-weight="bold" transform="translate(127.71 581.3) rotate(90.3)" textLength="20.6" lengthAdjust="spacingAndGlyphs">CP80739</text>
<line x1="135.31" y1="577.3" x2="135.31" y2="579.1" stroke="#333" stroke-width="0.7" />
<text x="0" y="0" font-size="6" fill="#444444" font-weight="bold" transform="translate(133.22 581.3) rotate(90.3)" textLength="20.6" lengthAdjust="spacingAndGlyphs">CP80376</text>
<line x1="140.82" y1="577.3" x2="140.82" y2="579.1" stroke="#333" stroke-width="0.7" />
<text x="0" y="0" font-size="6" fill="#444444" font-weight="bold" transform="translate(138.72 581.3) rotate(90.3)" textLength="20.6" lengthAdjust="spacingAndGlyphs">CP80476</text>
<line x1="146.32" y1="577.3" x2="146.32" y2="579.1" stroke="#333" stroke-width="0.7" />
<text x="0" y="0" font-size="6" fill="#444444" font-weight="bold" transform="translate(144.22 581.3) rotate(90.3)" textLength="20.6" lengthAdjust="spacingAndGlyphs">CP81188</text>
<line x1="151.83" y1="577.3" x2="151.83" y2="579.1" stroke="#333" stroke-width="0.7" />
<text x="0" y="0" font-size="6" fill="#444444" font-weight="bold" transform="translate(149.73 581.3) rotate(90.3)" textLength="20.6" lengthAdjust="spacingAndGlyphs">CP81156</text>
<line x1="157.34" y1="577.3" x2="157.34" y2="579.1" stroke="#333" stroke-width="0.7" />
<text x="0" y="0" font-size="6" fill="#444444" font-weight="bold" transform="translate(155.24 581.3) rotate(90.3)" textLength="20.6" lengthAdjust="spacingAndGlyphs">CP80443</text>
<line x1="162.84" y1="577.3" x2="162.84" y2="579.1" stroke="#333" stroke-width="0.7" />
<text x="0" y="0" font-size="6" fill="#444444" font-weight="bold" transform="translate(160.74 581.3) rotate(90.3)" textLength="20.6" lengthAdjust="spacingAndGlyphs">CP80792</text>
<line x1="168.34" y1="577.3" x2="168.34" y2="579.1" stroke="#333" stroke-width="0.7" />
<text x="0" y="0" font-size="6" fill="#444444" font-weight="bold" transform="translate(166.25 581.3) rotate(90.3)" textLength="20.6" lengthAdjust="spacingAndGlyphs">CP80485</text>
<line x1="173.85" y1="577.3" x2="173.85" y2="579.1" stroke="#333" stroke-width="0.7" />
<text x="0" y="0" font-size="6" fill="#444444" font-weight="bold" transform="translate(171.75 581.3) rotate(90.3)" textLength="20.6" lengthAdjust="spacingAndGlyphs">CP81169</text>
<line x1="179.36" y1="577.3" x2="179.36" y2="579.1" stroke="#333" stroke-width="0.7" />
<text x="0" y="0" font-size="6" fill="#444444" font-weight="bold" transform="translate(177.26 581.3) rotate(90.3)" textLength="20.6" lengthAdjust="spacingAndGlyphs">CP80421</text>
<line x1="184.86" y1="577.3" x2="184.86" y2="579.1" stroke="#333" stroke-width="0.7" />
<text x="0" y="0" font-size="6" fill="#444444" font-weight="bold" transform="translate(182.76 581.3) rotate(90.3)" textLength="20.6" lengthAdjust="spacingAndGlyphs">CP80553</text>
<line x1="190.37" y1="577.3" x2="190.37" y2="579.1" stroke="#333" stroke-width="0.7" />
<text x="0" y="0" font-size="6" fill="#444444" font-weight="bold" transform="translate(188.27 581.3) rotate(90.3)" textLength="20.6" lengthAdjust="spacingAndGlyphs">CP80757</text>
<line x1="195.87" y1="577.3" x2="195.87" y2="579.1" stroke="#333" stroke-width="0.7" />
<text x="0" y="0" font-size="6" fill="#444444" font-weight="bold" transform="translate(193.77 581.3) rotate(90.3)" textLength="20.6" lengthAdjust="spacingAndGlyphs">CP80426</text>
<line x1="201.38" y1="577.3" x2="201.38" y2="579.1" stroke="#333" stroke-width="0.7" />
<text x="0" y="0" font-size="6" fill="#444444" font-weight="bold" transform="translate(199.28 581.3) rotate(90.3)" textLength="20.6" lengthAdjust="spacingAndGlyphs">CP81112</text>
<line x1="206.88" y1="577.3" x2="206.88" y2="579.1" stroke="#333" stroke-width="0.7" />
<text x="0" y="0" font-size="6" fill="#444444" font-weight="bold" transform="translate(204.78 581.3) rotate(90.3)" textLength="20.6" lengthAdjust="spacingAndGlyphs">CP80401</text>
<line x1="212.38" y1="577.3" x2="212.38" y2="579.1" stroke="#333" stroke-width="0.7" />
<text x="0" y="0" font-size="6" fill="#444444" font-weight="bold" transform="translate(210.28 581.3) rotate(90.3)" textLength="20.6" lengthAdjust="spacingAndGlyphs">CP80752</text>
<line x1="217.89" y1="577.3" x2="217.89" y2="579.1" stroke="#333" stroke-width="0.7" />
<text x="0" y="0" font-size="6" fill="#444444" font-weight="bold" transform="translate(215.79 581.3) rotate(90.3)" textLength="20.6" lengthAdjust="spacingAndGlyphs">CP80395</text>
<line x1="223.39" y1="577.3" x2="223.39" y2="579.1" stroke="#333" stroke-width="0.7" />
<text x="0" y="0" font-size="6" fill="#444444" font-weight="bold" transform="translate(221.29 581.3) rotate(90.3)" textLength="20.6" lengthAdjust="spacingAndGlyphs">CP80572</text>
<line x1="228.9" y1="577.3" x2="228.9" y2="579.1" stroke="#333" stroke-width="0.7" />
<text x="0" y="0" font-size="6" fill="#444444" font-weight="bold" transform="translate(226.8 581.3) rotate(90.3)" textLength="20.6" lengthAdjust="spacingAndGlyphs">CP80893</text>
<line x1="234.41" y1="577.3" x2="234.41" y2="579.1" stroke="#333" stroke-width="0.7" />
<text x="0" y="0" font-size="6" fill="#444444" font-weight="bold" transform="translate(232.31 581.3) rotate(90.3)" textLength="20.6" lengthAdjust="spacingAndGlyphs">CP81158</text>
<line x1="239.91" y1="577.3" x2="239.91" y2="579.1" stroke="#333" stroke-width="0.7" />
<text x="0" y="0" font-size="6" fill="#444444" font-weight="bold" transform="translate(237.81 581.3) rotate(90.3)" textLength="20.6" lengthAdjust="spacingAndGlyphs">CP80595</text>
<line x1="245.42" y1="577.3" x2="245.42" y2="579.1" stroke="#333" stroke-width="0.7" />
<text x="0" y="0" font-size="6" fill="#444444" font-weight="bold" transform="translate(243.32 581.3) rotate(90.3)" textLength="20.6" lengthAdjust="spacingAndGlyphs">CP80541</text>
<line x1="250.92" y1="577.3" x2="250.92" y2="579.1" stroke="#333" stroke-width="0.7" />
<text x="0" y="0" font-size="6" fill="#444444" font-weight="bold" transform="translate(248.82 581.3) rotate(90.3)" textLength="20.6" lengthAdjust="spacingAndGlyphs">CP80931</text>
<line x1="256.43" y1="577.3" x2="256.43" y2="579.1" stroke="#333" stroke-width="0.7" />
<text x="0" y="0" font-size="6" fill="#444444" font-weight="bold" transform="translate(254.33 581.3) rotate(90.3)" textLength="20.6" lengthAdjust="spacingAndGlyphs">CP80670</text>
<line x1="261.93" y1="577.3" x2="261.93" y2="579.1" stroke="#333" stroke-width="0.7" />
<text x="0" y="0" font-size="6" fill="#444444" font-weight="bold" transform="translate(259.83 581.3) rotate(90.3)" textLength="20.6" lengthAdjust="spacingAndGlyphs">CP80511</text>
<line x1="267.44" y1="577.3" x2="267.44" y2="579.1" stroke="#333" stroke-width="0.7" />
<text x="0" y="0" font-size="6" fill="#444444" font-weight="bold" transform="translate(265.33 581.3) rotate(90.3)" textLength="20.6" lengthAdjust="spacingAndGlyphs">CP80684</text>
<line x1="272.94" y1="577.3" x2="272.94" y2="579.1" stroke="#333" stroke-width="0.7" />
<text x="0" y="0" font-size="6" fill="#444444" font-weight="bold" transform="translate(270.84 581.3) rotate(90.3)" textLength="20.6" lengthAdjust="spacingAndGlyphs">CP81062</text>
<line x1="278.44" y1="577.3" x2="278.44" y2="579.1" stroke="#333" stroke-width="0.7" />
<text x="0" y="0" font-size="6" fill="#444444" font-weight="bold" transform="translate(276.34 581.3) rotate(90.3)" textLength="20.6" lengthAdjust="spacingAndGlyphs">CP80499</text>
<line x1="283.95" y1="577.3" x2="283.95" y2="579.1" stroke="#333" stroke-width="0.7" />
<text x="0" y="0" font-size="6" fill="#444444" font-weight="bold" transform="translate(281.85 581.3) rotate(90.3)" textLength="20.6" lengthAdjust="spacingAndGlyphs">CP80428</text>
<line x1="289.45" y1="577.3" x2="289.45" y2="579.1" stroke="#333" stroke-width="0.7" />
<text x="0" y="0" font-size="6" fill="#444444" font-weight="bold" transform="translate(287.35 581.3) rotate(90.3)" textLength="20.6" lengthAdjust="spacingAndGlyphs">CP80422</text>
<line x1="294.96" y1="577.3" x2="294.96" y2="579.1" stroke="#333" stroke-width="0.7" />
<text x="0" y="0" font-size="6" fill="#444444" font-weight="bold" transform="translate(292.86 581.3) rotate(90.3)" textLength="20.6" lengthAdjust="spacingAndGlyphs">CP80721</text>
<line x1="300.46" y1="577.3" x2="300.46" y2="579.1" stroke="#333" stroke-width="0.7" />
<text x="0" y="0" font-size="6" fill="#444444" font-weight="bold" transform="translate(298.36 581.3) rotate(90.3)" textLength="20.6" lengthAdjust="spacingAndGlyphs">CP81316</text>
<line x1="305.97" y1="577.3" x2="305.97" y2="579.1" stroke="#333" stroke-width="0.7" />
<text x="0" y="0" font-size="6" fill="#444444" font-weight="bold" transform="translate(303.87 581.3) rotate(90.3)" textLength="20.6" lengthAdjust="spacingAndGlyphs">CP81388</text>
<line x1="311.48" y1="577.3" x2="311.48" y2="579.1" stroke="#333" stroke-width="0.7" />
<text x="0" y="0" font-size="6" fill="#444444" font-weight="bold" transform="translate(309.38 581.3) rotate(90.3)" textLength="20.6" lengthAdjust="spacingAndGlyphs">CP81175</text>
<line x1="316.98" y1="577.3" x2="316.98" y2="579.1" stroke="#333" stroke-width="0.7" />
<text x="0" y="0" font-size="6" fill="#444444" font-weight="bold" transform="translate(314.88 581.3) rotate(90.3)" textLength="20.6" lengthAdjust="spacingAndGlyphs">CP80943</text>
<line x1="322.49" y1="577.3" x2="322.49" y2="579.1" stroke="#333" stroke-width="0.7" />
<text x="0" y="0" font-size="6" fill="#444444" font-weight="bold" transform="translate(320.38 581.3) rotate(90.3)" textLength="20.6" lengthAdjust="spacingAndGlyphs">CP81253</text>
<line x1="327.99" y1="577.3" x2="327.99" y2="579.1" stroke="#333" stroke-width="0.7" />
<text x="0" y="0" font-size="6" fill="#444444" font-weight="bold" transform="translate(325.89 581.3) rotate(90.3)" textLength="20.6" lengthAdjust="spacingAndGlyphs">CP81228</text>
<line x1="333.5" y1="577.3" x2="333.5" y2="579.1" stroke="#333" stroke-width="0.7" />
<text x="0" y="0" font-size="6" fill="#444444" font-weight="bold" transform="translate(331.39 581.3) rotate(90.3)" textLength="20.6" lengthAdjust="spacingAndGlyphs">CP81040</text>
<line x1="339" y1="577.3" x2="339" y2="579.1" stroke="#333" stroke-width="0.7" />
<text x="0" y="0" font-size="6" fill="#444444" font-weight="bold" transform="translate(336.9 581.3) rotate(90.3)" textLength="20.6" lengthAdjust="spacingAndGlyphs">CP80913</text>
<line x1="344.5" y1="577.3" x2="344.5" y2="579.1" stroke="#333" stroke-width="0.7" />
<text x="0" y="0" font-size="6" fill="#444444" font-weight="bold" transform="translate(342.4 581.3) rotate(90.3)" textLength="20.6" lengthAdjust="spacingAndGlyphs">CP80808</text>
<line x1="350.01" y1="577.3" x2="350.01" y2="579.1" stroke="#333" stroke-width="0.7" />
<text x="0" y="0" font-size="6" fill="#444444" font-weight="bold" transform="translate(347.91 581.3) rotate(90.3)" textLength="20.6" lengthAdjust="spacingAndGlyphs">CP80668</text>
<line x1="355.51" y1="577.3" x2="355.51" y2="579.1" stroke="#333" stroke-width="0.7" />
<text x="0" y="0" font-size="6" fill="#444444" font-weight="bold" transform="translate(353.41 581.3) rotate(90.3)" textLength="20.6" lengthAdjust="spacingAndGlyphs">CP80799</text>
<line x1="361.02" y1="577.3" x2="361.02" y2="579.1" stroke="#333" stroke-width="0.7" />
<text x="0" y="0" font-size="6" fill="#444444" font-weight="bold" transform="translate(358.92 581.3) rotate(90.3)" textLength="20.6" lengthAdjust="spacingAndGlyphs">CP80467</text>
<line x1="366.52" y1="577.3" x2="366.52" y2="579.1" stroke="#333" stroke-width="0.7" />
<text x="0" y="0" font-size="6" fill="#444444" font-weight="bold" transform="translate(364.42 581.3) rotate(90.3)" textLength="20.6" lengthAdjust="spacingAndGlyphs">CP80914</text>
<line x1="372.03" y1="577.3" x2="372.03" y2="579.1" stroke="#333" stroke-width="0.7" />
<text x="0" y="0" font-size="6" fill="#444444" font-weight="bold" transform="translate(369.93 581.3) rotate(90.3)" textLength="20.6" lengthAdjust="spacingAndGlyphs">CP81375</text>
<line x1="377.53" y1="577.3" x2="377.53" y2="579.1" stroke="#333" stroke-width="0.7" />
<text x="0" y="0" font-size="6" fill="#444444" font-weight="bold" transform="translate(375.43 581.3) rotate(90.3)" textLength="20.6" lengthAdjust="spacingAndGlyphs">CP81313</text>
<line x1="383.04" y1="577.3" x2="383.04" y2="579.1" stroke="#333" stroke-width="0.7" />
<text x="0" y="0" font-size="6" fill="#444444" font-weight="bold" transform="translate(380.94 581.3) rotate(90.3)" textLength="20.6" lengthAdjust="spacingAndGlyphs">CP81003</text>
<line x1="388.54" y1="577.3" x2="388.54" y2="579.1" stroke="#333" stroke-width="0.7" />
<text x="0" y="0" font-size="6" fill="#444444" font-weight="bold" transform="translate(386.44 581.3) rotate(90.3)" textLength="20.6" lengthAdjust="spacingAndGlyphs">CP81219</text>
<line x1="394.05" y1="577.3" x2="394.05" y2="579.1" stroke="#333" stroke-width="0.7" />
<text x="0" y="0" font-size="6" fill="#444444" font-weight="bold" transform="translate(391.95 581.3) rotate(90.3)" textLength="20.6" lengthAdjust="spacingAndGlyphs">CP80889</text>
<line x1="399.56" y1="577.3" x2="399.56" y2="579.1" stroke="#333" stroke-width="0.7" />
<text x="0" y="0" font-size="6" fill="#444444" font-weight="bold" transform="translate(397.45 581.3) rotate(90.3)" textLength="20.6" lengthAdjust="spacingAndGlyphs">CP80449</text>
<line x1="405.06" y1="577.3" x2="405.06" y2="579.1" stroke="#333" stroke-width="0.7" />
<text x="0" y="0" font-size="6" fill="#444444" font-weight="bold" transform="translate(402.96 581.3) rotate(90.3)" textLength="20.6" lengthAdjust="spacingAndGlyphs">CP80541</text>
<line x1="410.56" y1="577.3" x2="410.56" y2="579.1" stroke="#333" stroke-width="0.7" />
<text x="0" y="0" font-size="6" fill="#444444" font-weight="bold" transform="translate(408.46 581.3) rotate(90.3)" textLength="20.6" lengthAdjust="spacingAndGlyphs">CP81348</text>
<line x1="416.07" y1="577.3" x2="416.07" y2="579.1" stroke="#333" stroke-width="0.7" />
<text x="0" y="0" font-size="6" fill="#444444" font-weight="bold" transform="translate(413.97 581.3) rotate(90.3)" textLength="20.6" lengthAdjust="spacingAndGlyphs">CP81156</text>
<line x1="421.57" y1="577.3" x2="421.57" y2="579.1" stroke="#333" stroke-width="0.7" />
<text x="0" y="0" font-size="6" fill="#444444" font-weight="bold" transform="translate(419.47 581.3) rotate(90.3)" textLength="20.6" lengthAdjust="spacingAndGlyphs">CP80637</text>
<line x1="427.08" y1="577.3" x2="427.08" y2="579.1" stroke="#333" stroke-width="0.7" />
<text x="0" y="0" font-size="6" fill="#444444" font-weight="bold" transform="translate(424.98 581.3) rotate(90.3)" textLength="20.6" lengthAdjust="spacingAndGlyphs">CP81000</text>
<line x1="432.58" y1="577.3" x2="432.58" y2="579.1" stroke="#333" stroke-width="0.7" />
<text x="0" y="0" font-size="6" fill="#444444" font-weight="bold" transform="translate(430.48 581.3) rotate(90.3)" textLength="20.6" lengthAdjust="spacingAndGlyphs">CP80611</text>
<line x1="438.09" y1="577.3" x2="438.09" y2="579.1" stroke="#333" stroke-width="0.7" />
<text x="0" y="0" font-size="6" fill="#444444" font-weight="bold" transform="translate(435.99 581.3) rotate(90.3)" textLength="20.6" lengthAdjust="spacingAndGlyphs">CP81301</text>
<line x1="443.59" y1="577.3" x2="443.59" y2="579.1" stroke="#333" stroke-width="0.7" />
<text x="0" y="0" font-size="6" fill="#444444" font-weight="bold" transform="translate(441.49 581.3) rotate(90.3)" textLength="20.6" lengthAdjust="spacingAndGlyphs">CP81163</text>
<line x1="449.1" y1="577.3" x2="449.1" y2="579.1" stroke="#333" stroke-width="0.7" />
<text x="0" y="0" font-size="6" fill="#444444" font-weight="bold" transform="translate(447 581.3) rotate(90.3)" textLength="20.6" lengthAdjust="spacingAndGlyphs">CP80380</text>
<line x1="454.6" y1="577.3" x2="454.6" y2="579.1" stroke="#333" stroke-width="0.7" />
<text x="0" y="0" font-size="6" fill="#444444" font-weight="bold" transform="translate(452.5 581.3) rotate(90.3)" textLength="20.6" lengthAdjust="spacingAndGlyphs">CP80458</text>
<line x1="460.11" y1="577.3" x2="460.11" y2="579.1" stroke="#333" stroke-width="0.7" />
<text x="0" y="0" font-size="6" fill="#444444" font-weight="bold" transform="translate(458.01 581.3) rotate(90.3)" textLength="20.6" lengthAdjust="spacingAndGlyphs">CP80942</text>
<line x1="465.62" y1="577.3" x2="465.62" y2="579.1" stroke="#333" stroke-width="0.7" />
<text x="0" y="0" font-size="6" fill="#444444" font-weight="bold" transform="translate(463.51 581.3) rotate(90.3)" textLength="20.6" lengthAdjust="spacingAndGlyphs">CP80996</text>
<line x1="471.12" y1="577.3" x2="471.12" y2="579.1" stroke="#333" stroke-width="0.7" />
<text x="0" y="0" font-size="6" fill="#444444" font-weight="bold" transform="translate(469.02 581.3) rotate(90.3)" textLength="20.6" lengthAdjust="spacingAndGlyphs">CP81017</text>
<line x1="476.62" y1="577.3" x2="476.62" y2="579.1" stroke="#333" stroke-width="0.7" />
<text x="0" y="0" font-size="6" fill="#444444" font-weight="bold" transform="translate(474.52 581.3) rotate(90.3)" textLength="20.6" lengthAdjust="spacingAndGlyphs">CP81317</text>
<line x1="482.13" y1="577.3" x2="482.13" y2="579.1" stroke="#333" stroke-width="0.7" />
<text x="0" y="0" font-size="6" fill="#444444" font-weight="bold" transform="translate(480.03 581.3) rotate(90.3)" textLength="20.6" lengthAdjust="spacingAndGlyphs">CP81234</text>
<line x1="487.63" y1="577.3" x2="487.63" y2="579.1" stroke="#333" stroke-width="0.7" />
<text x="0" y="0" font-size="6" fill="#444444" font-weight="bold" transform="translate(485.53 581.3) rotate(90.3)" textLength="20.6" lengthAdjust="spacingAndGlyphs">CP80440</text>
<line x1="493.14" y1="577.3" x2="493.14" y2="579.1" stroke="#333" stroke-width="0.7" />
<text x="0" y="0" font-size="6" fill="#444444" font-weight="bold" transform="translate(491.04 581.3) rotate(90.3)" textLength="20.6" lengthAdjust="spacingAndGlyphs">CP80491</text>
<line x1="498.64" y1="577.3" x2="498.64" y2="579.1" stroke="#333" stroke-width="0.7" />
<text x="0" y="0" font-size="6" fill="#444444" font-weight="bold" transform="translate(496.54 581.3) rotate(90.3)" textLength="20.6" lengthAdjust="spacingAndGlyphs">CP80852</text>
<line x1="504.15" y1="577.3" x2="504.15" y2="579.1" stroke="#333" stroke-width="0.7" />
<text x="0" y="0" font-size="6" fill="#444444" font-weight="bold" transform="translate(502.05 581.3) rotate(90.3)" textLength="20.6" lengthAdjust="spacingAndGlyphs">CP81270</text>
<line x1="509.65" y1="577.3" x2="509.65" y2="579.1" stroke="#333" stroke-width="0.7" />
<text x="0" y="0" font-size="6" fill="#444444" font-weight="bold" transform="translate(507.55 581.3) rotate(90.3)" textLength="20.6" lengthAdjust="spacingAndGlyphs">CP80433</text>
<line x1="515.16" y1="577.3" x2="515.16" y2="579.1" stroke="#333" stroke-width="0.7" />
<text x="0" y="0" font-size="6" fill="#444444" font-weight="bold" transform="translate(513.06 581.3) rotate(90.3)" textLength="20.6" lengthAdjust="spacingAndGlyphs">CP80424</text>
<line x1="520.66" y1="577.3" x2="520.66" y2="579.1" stroke="#333" stroke-width="0.7" />
<text x="0" y="0" font-size="6" fill="#444444" font-weight="bold" transform="translate(518.56 581.3) rotate(90.3)" textLength="20.6" lengthAdjust="spacingAndGlyphs">CP80934</text>
<line x1="526.17" y1="577.3" x2="526.17" y2="579.1" stroke="#333" stroke-width="0.7" />
<text x="0" y="0" font-size="6" fill="#444444" font-weight="bold" transform="translate(524.07 581.3) rotate(90.3)" textLength="20.6" lengthAdjust="spacingAndGlyphs">CP81212</text>
<line x1="531.67" y1="577.3" x2="531.67" y2="579.1" stroke="#333" stroke-width="0.7" />
<text x="0" y="0" font-size="6" fill="#444444" font-weight="bold" transform="translate(529.57 581.3) rotate(90.3)" textLength="20.6" lengthAdjust="spacingAndGlyphs">CP80882</text>
<line x1="537.18" y1="577.3" x2="537.18" y2="579.1" stroke="#333" stroke-width="0.7" />
<text x="0" y="0" font-size="6" fill="#444444" font-weight="bold" transform="translate(535.08 581.3) rotate(90.3)" textLength="20.6" lengthAdjust="spacingAndGlyphs">CP81090</text>
<line x1="542.69" y1="577.3" x2="542.69" y2="579.1" stroke="#333" stroke-width="0.7" />
<text x="0" y="0" font-size="6" fill="#444444" font-weight="bold" transform="translate(540.59 581.3) rotate(90.3)" textLength="20.6" lengthAdjust="spacingAndGlyphs">CP81010</text>
<line x1="548.19" y1="577.3" x2="548.19" y2="579.1" stroke="#333" stroke-width="0.7" />
<text x="0" y="0" font-size="6" fill="#444444" font-weight="bold" transform="translate(546.09 581.3) rotate(90.3)" textLength="20.6" lengthAdjust="spacingAndGlyphs">CP80346</text>
<line x1="553.7" y1="577.3" x2="553.7" y2="579.1" stroke="#333" stroke-width="0.7" />
<text x="0" y="0" font-size="6" fill="#444444" font-weight="bold" transform="translate(551.6 581.3) rotate(90.3)" textLength="20.6" lengthAdjust="spacingAndGlyphs">CP81245</text>
<line x1="559.2" y1="577.3" x2="559.2" y2="579.1" stroke="#333" stroke-width="0.7" />
<text x="0" y="0" font-size="6" fill="#444444" font-weight="bold" transform="translate(557.1 581.3) rotate(90.3)" textLength="20.6" lengthAdjust="spacingAndGlyphs">CP81027</text>
<line x1="564.71" y1="577.3" x2="564.71" y2="579.1" stroke="#333" stroke-width="0.7" />
<text x="0" y="0" font-size="6" fill="#444444" font-weight="bold" transform="translate(562.61 581.3) rotate(90.3)" textLength="20.6" lengthAdjust="spacingAndGlyphs">CP80644</text>
<line x1="570.21" y1="577.3" x2="570.21" y2="579.1" stroke="#333" stroke-width="0.7" />
<text x="0" y="0" font-size="6" fill="#444444" font-weight="bold" transform="translate(568.11 581.3) rotate(90.3)" textLength="20.6" lengthAdjust="spacingAndGlyphs">CP80539</text>
<line x1="575.72" y1="577.3" x2="575.72" y2="579.1" stroke="#333" stroke-width="0.7" />
<text x="0" y="0" font-size="6" fill="#444444" font-weight="bold" transform="translate(573.62 581.3) rotate(90.3)" textLength="20.6" lengthAdjust="spacingAndGlyphs">CP81311</text>
<line x1="581.22" y1="577.3" x2="581.22" y2="579.1" stroke="#333" stroke-width="0.7" />
<text x="0" y="0" font-size="6" fill="#444444" font-weight="bold" transform="translate(579.12 581.3) rotate(90.3)" textLength="20.6" lengthAdjust="spacingAndGlyphs">CP80420</text>
<line x1="586.73" y1="577.3" x2="586.73" y2="579.1" stroke="#333" stroke-width="0.7" />
<text x="0" y="0" font-size="6" fill="#444444" font-weight="bold" transform="translate(584.62 581.3) rotate(90.3)" textLength="20.6" lengthAdjust="spacingAndGlyphs">CP80746</text>
<line x1="592.23" y1="577.3" x2="592.23" y2="579.1" stroke="#333" stroke-width="0.7" />
<text x="0" y="0" font-size="6" fill="#444444" font-weight="bold" transform="translate(590.13 581.3) rotate(90.3)" textLength="20.6" lengthAdjust="spacingAndGlyphs">CP80888</text>
<line x1="597.74" y1="577.3" x2="597.74" y2="579.1" stroke="#333" stroke-width="0.7" />
<text x="0" y="0" font-size="6" fill="#444444" font-weight="bold" transform="translate(595.63 581.3) rotate(90.3)" textLength="20.6" lengthAdjust="spacingAndGlyphs">CP80564</text>
<line x1="603.24" y1="577.3" x2="603.24" y2="579.1" stroke="#333" stroke-width="0.7" />
<text x="0" y="0" font-size="6" fill="#444444" font-weight="bold" transform="translate(601.14 581.3) rotate(90.3)" textLength="20.6" lengthAdjust="spacingAndGlyphs">CP80807</text>
<line x1="608.75" y1="577.3" x2="608.75" y2="579.1" stroke="#333" stroke-width="0.7" />
<text x="0" y="0" font-size="6" fill="#444444" font-weight="bold" transform="translate(606.64 581.3) rotate(90.3)" textLength="20.6" lengthAdjust="spacingAndGlyphs">CP81114</text>
<line x1="614.25" y1="577.3" x2="614.25" y2="579.1" stroke="#333" stroke-width="0.7" />
<text x="0" y="0" font-size="6" fill="#444444" font-weight="bold" transform="translate(612.15 581.3) rotate(90.3)" textLength="20.6" lengthAdjust="spacingAndGlyphs">CP81100</text>
<line x1="619.75" y1="577.3" x2="619.75" y2="579.1" stroke="#333" stroke-width="0.7" />
<text x="0" y="0" font-size="6" fill="#444444" font-weight="bold" transform="translate(617.65 581.3) rotate(90.3)" textLength="20.6" lengthAdjust="spacingAndGlyphs">CP81316</text>
<line x1="625.26" y1="577.3" x2="625.26" y2="579.1" stroke="#333" stroke-width="0.7" />
<text x="0" y="0" font-size="6" fill="#444444" font-weight="bold" transform="translate(623.16 581.3) rotate(90.3)" textLength="20.6" lengthAdjust="spacingAndGlyphs">CP80465</text>
<line x1="630.76" y1="577.3" x2="630.76" y2="579.1" stroke="#333" stroke-width="0.7" />
<text x="0" y="0" font-size="6" fill="#444444" font-weight="bold" transform="translate(628.66 581.3) rotate(90.3)" textLength="20.6" lengthAdjust="spacingAndGlyphs">CP80640</text>
<text x="28.8" y="469.3" font-size="9.45" fill="#000" font-weight="bold" text-anchor="middle" transform="rotate(-90 28.8 469.3)">Gene length (bp)</text>
<text x="669.2" y="467.3" font-size="9.45" fill="#000" font-weight="bold" text-anchor="middle" transform="rotate(90 669.2 467.3)">Genome size (Kb)</text>
<text x="349.1" y="615.1" font-size="9.45" fill="#000" font-weight="bold" text-anchor="middle">Phage</text>
<text x="1.8" y="328.9" font-size="14.5" fill="#231815" font-weight="bold">D</text>
<rect x="107.1" y="737.2" width="424.63" height="21.6" fill="#d8e5f1" />
<rect x="107.1" y="737.2" width="4.16" height="3.6" fill="#c2d4e6" />
<rect x="111.26" y="737.2" width="4.16" height="3.6" fill="#224d7a" />
<rect x="115.43" y="737.2" width="24.98" height="3.6" fill="#97b3cf" />
<rect x="140.4" y="737.2" width="4.16" height="3.6" fill="#6b91b5" />
<rect x="144.57" y="737.2" width="8.33" height="3.6" fill="#97b3cf" />
<rect x="152.89" y="737.2" width="4.16" height="3.6" fill="#adc4db" />
<rect x="157.06" y="737.2" width="8.33" height="3.6" fill="#97b3cf" />
<rect x="165.38" y="737.2" width="4.16" height="3.6" fill="#c2d4e6" />
<rect x="169.55" y="737.2" width="12.49" height="3.6" fill="#97b3cf" />
<rect x="182.03" y="737.2" width="4.16" height="3.6" fill="#adc4db" />
<rect x="186.2" y="737.2" width="4.16" height="3.6" fill="#97b3cf" />
<rect x="190.36" y="737.2" width="4.16" height="3.6" fill="#adc4db" />
<rect x="194.52" y="737.2" width="4.16" height="3.6" fill="#97b3cf" />
<rect x="198.69" y="737.2" width="8.33" height="3.6" fill="#adc4db" />
<rect x="207.01" y="737.2" width="4.16" height="3.6" fill="#97b3cf" />
<rect x="211.18" y="737.2" width="4.16" height="3.6" fill="#c2d4e6" />
<rect x="215.34" y="737.2" width="8.33" height="3.6" fill="#97b3cf" />
<rect x="223.66" y="737.2" width="4.16" height="3.6" fill="#c2d4e6" />
<rect x="227.83" y="737.2" width="4.16" height="3.6" fill="#97b3cf" />
<rect x="231.99" y="737.2" width="4.16" height="3.6" fill="#adc4db" />
<rect x="236.15" y="737.2" width="4.16" height="3.6" fill="#c2d4e6" />
<rect x="240.32" y="737.2" width="4.16" height="3.6" fill="#97b3cf" />
<rect x="256.97" y="737.2" width="4.16" height="3.6" fill="#c2d4e6" />
<rect x="269.46" y="737.2" width="12.49" height="3.6" fill="#adc4db" />
<rect x="281.95" y="737.2" width="8.33" height="3.6" fill="#5880a8" />
<rect x="290.27" y="737.2" width="4.16" height="3.6" fill="#adc4db" />
<rect x="294.44" y="737.2" width="4.16" height="3.6" fill="#5880a8" />
<rect x="298.6" y="737.2" width="8.33" height="3.6" fill="#c2d4e6" />
<rect x="306.92" y="737.2" width="12.49" height="3.6" fill="#adc4db" />
<rect x="319.41" y="737.2" width="4.16" height="3.6" fill="#c2d4e6" />
<rect x="323.58" y="737.2" width="4.16" height="3.6" fill="#6b91b5" />
<rect x="331.9" y="737.2" width="8.33" height="3.6" fill="#80a2c2" />
<rect x="340.23" y="737.2" width="4.16" height="3.6" fill="#c2d4e6" />
<rect x="344.39" y="737.2" width="20.82" height="3.6" fill="#97b3cf" />
<rect x="365.21" y="737.2" width="4.16" height="3.6" fill="#c2d4e6" />
<rect x="369.37" y="737.2" width="4.16" height="3.6" fill="#97b3cf" />
<rect x="373.53" y="737.2" width="8.33" height="3.6" fill="#c2d4e6" />
<rect x="381.86" y="737.2" width="8.33" height="3.6" fill="#80a2c2" />
<rect x="390.18" y="737.2" width="4.16" height="3.6" fill="#6b91b5" />
<rect x="394.35" y="737.2" width="4.16" height="3.6" fill="#adc4db" />
<rect x="398.51" y="737.2" width="12.49" height="3.6" fill="#80a2c2" />
<rect x="411" y="737.2" width="33.3" height="3.6" fill="#adc4db" />
<rect x="448.47" y="737.2" width="8.33" height="3.6" fill="#adc4db" />
<rect x="465.12" y="737.2" width="4.16" height="3.6" fill="#adc4db" />
<rect x="469.28" y="737.2" width="4.16" height="3.6" fill="#c2d4e6" />
<rect x="494.26" y="737.2" width="4.16" height="3.6" fill="#80a2c2" />
<rect x="498.42" y="737.2" width="4.16" height="3.6" fill="#adc4db" />
<rect x="515.07" y="737.2" width="4.16" height="3.6" fill="#adc4db" />
<rect x="523.4" y="737.2" width="4.16" height="3.6" fill="#5880a8" />
<rect x="527.56" y="737.2" width="4.16" height="3.6" fill="#c2d4e6" />
<rect x="107.1" y="740.8" width="4.16" height="3.6" fill="#c2d4e6" />
<rect x="111.26" y="740.8" width="4.16" height="3.6" fill="#adc4db" />
<rect x="115.43" y="740.8" width="24.98" height="3.6" fill="#c2d4e6" />
<rect x="140.4" y="740.8" width="4.16" height="3.6" fill="#6b91b5" />
<rect x="144.57" y="740.8" width="8.33" height="3.6" fill="#c2d4e6" />
<rect x="157.06" y="740.8" width="4.16" height="3.6" fill="#c2d4e6" />
<rect x="165.38" y="740.8" width="4.16" height="3.6" fill="#adc4db" />
<rect x="169.55" y="740.8" width="41.63" height="3.6" fill="#c2d4e6" />
<rect x="211.18" y="740.8" width="4.16" height="3.6" fill="#adc4db" />
<rect x="215.34" y="740.8" width="8.33" height="3.6" fill="#c2d4e6" />
<rect x="223.66" y="740.8" width="4.16" height="3.6" fill="#adc4db" />
<rect x="227.83" y="740.8" width="8.33" height="3.6" fill="#c2d4e6" />
<rect x="240.32" y="740.8" width="4.16" height="3.6" fill="#adc4db" />
<rect x="244.48" y="740.8" width="12.49" height="3.6" fill="#c2d4e6" />
<rect x="261.13" y="740.8" width="8.33" height="3.6" fill="#c2d4e6" />
<rect x="269.46" y="740.8" width="12.49" height="3.6" fill="#adc4db" />
<rect x="281.95" y="740.8" width="4.16" height="3.6" fill="#466f99" />
<rect x="286.11" y="740.8" width="4.16" height="3.6" fill="#6b91b5" />
<rect x="290.27" y="740.8" width="4.16" height="3.6" fill="#97b3cf" />
<rect x="294.44" y="740.8" width="4.16" height="3.6" fill="#5880a8" />
<rect x="298.6" y="740.8" width="8.33" height="3.6" fill="#c2d4e6" />
<rect x="306.92" y="740.8" width="12.49" height="3.6" fill="#adc4db" />
<rect x="319.41" y="740.8" width="4.16" height="3.6" fill="#c2d4e6" />
<rect x="323.58" y="740.8" width="4.16" height="3.6" fill="#6b91b5" />
<rect x="327.74" y="740.8" width="4.16" height="3.6" fill="#97b3cf" />
<rect x="331.9" y="740.8" width="4.16" height="3.6" fill="#c2d4e6" />
<rect x="336.06" y="740.8" width="4.16" height="3.6" fill="#adc4db" />
<rect x="340.23" y="740.8" width="4.16" height="3.6" fill="#c2d4e6" />
<rect x="344.39" y="740.8" width="4.16" height="3.6" fill="#224d7a" />
<rect x="348.55" y="740.8" width="16.65" height="3.6" fill="#adc4db" />
<rect x="365.21" y="740.8" width="4.16" height="3.6" fill="#97b3cf" />
<rect x="369.37" y="740.8" width="4.16" height="3.6" fill="#6b91b5" />
<rect x="373.53" y="740.8" width="8.33" height="3.6" fill="#adc4db" />
<rect x="381.86" y="740.8" width="8.33" height="3.6" fill="#c2d4e6" />
<rect x="390.18" y="740.8" width="4.16" height="3.6" fill="#adc4db" />
<rect x="394.35" y="740.8" width="45.79" height="3.6" fill="#c2d4e6" />
<rect x="440.14" y="740.8" width="4.16" height="3.6" fill="#97b3cf" />
<rect x="444.3" y="740.8" width="8.33" height="3.6" fill="#c2d4e6" />
<rect x="452.63" y="740.8" width="4.16" height="3.6" fill="#adc4db" />
<rect x="456.79" y="740.8" width="4.16" height="3.6" fill="#6b91b5" />
<rect x="465.12" y="740.8" width="8.33" height="3.6" fill="#80a2c2" />
<rect x="473.44" y="740.8" width="20.82" height="3.6" fill="#97b3cf" />
<rect x="494.26" y="740.8" width="4.16" height="3.6" fill="#80a2c2" />
<rect x="498.42" y="740.8" width="4.16" height="3.6" fill="#6b91b5" />
<rect x="502.59" y="740.8" width="4.16" height="3.6" fill="#97b3cf" />
<rect x="107.1" y="744.4" width="4.16" height="3.6" fill="#c2d4e6" />
<rect x="136.24" y="744.4" width="4.16" height="3.6" fill="#97b3cf" />
<rect x="140.4" y="744.4" width="4.16" height="3.6" fill="#6b91b5" />
<rect x="148.73" y="744.4" width="4.16" height="3.6" fill="#c2d4e6" />
<rect x="157.06" y="744.4" width="4.16" height="3.6" fill="#c2d4e6" />
<rect x="161.22" y="744.4" width="4.16" height="3.6" fill="#6b91b5" />
<rect x="198.69" y="744.4" width="4.16" height="3.6" fill="#c2d4e6" />
<rect x="211.18" y="744.4" width="4.16" height="3.6" fill="#6b91b5" />
<rect x="223.66" y="744.4" width="4.16" height="3.6" fill="#6b91b5" />
<rect x="281.95" y="744.4" width="12.49" height="3.6" fill="#c2d4e6" />
<rect x="331.9" y="744.4" width="4.16" height="3.6" fill="#adc4db" />
<rect x="336.06" y="744.4" width="4.16" height="3.6" fill="#c2d4e6" />
<rect x="348.55" y="744.4" width="16.65" height="3.6" fill="#adc4db" />
<rect x="377.7" y="744.4" width="8.33" height="3.6" fill="#adc4db" />
<rect x="390.18" y="744.4" width="4.16" height="3.6" fill="#c2d4e6" />
<rect x="398.51" y="744.4" width="4.16" height="3.6" fill="#c2d4e6" />
<rect x="402.67" y="744.4" width="12.49" height="3.6" fill="#adc4db" />
<rect x="419.33" y="744.4" width="16.65" height="3.6" fill="#adc4db" />
<rect x="456.79" y="744.4" width="4.16" height="3.6" fill="#c2d4e6" />
<rect x="465.12" y="744.4" width="4.16" height="3.6" fill="#c2d4e6" />
<rect x="469.28" y="744.4" width="37.47" height="3.6" fill="#adc4db" />
<rect x="519.24" y="744.4" width="12.49" height="3.6" fill="#c2d4e6" />
<rect x="107.1" y="748" width="4.16" height="3.6" fill="#80a2c2" />
<rect x="152.89" y="748" width="4.16" height="3.6" fill="#adc4db" />
<rect x="161.22" y="748" width="4.16" height="3.6" fill="#adc4db" />
<rect x="236.15" y="748" width="4.16" height="3.6" fill="#c2d4e6" />
<rect x="281.95" y="748" width="8.33" height="3.6" fill="#97b3cf" />
<rect x="290.27" y="748" width="4.16" height="3.6" fill="#80a2c2" />
<rect x="344.39" y="748" width="33.3" height="3.6" fill="#adc4db" />
<rect x="381.86" y="748" width="8.33" height="3.6" fill="#adc4db" />
<rect x="465.12" y="748" width="4.16" height="3.6" fill="#adc4db" />
<rect x="331.9" y="751.6" width="4.16" height="3.6" fill="#c2d4e6" />
<rect x="344.39" y="751.6" width="4.16" height="3.6" fill="#c2d4e6" />
<rect x="365.21" y="751.6" width="4.16" height="3.6" fill="#c2d4e6" />
<rect x="373.53" y="751.6" width="4.16" height="3.6" fill="#adc4db" />
<rect x="460.96" y="751.6" width="4.16" height="3.6" fill="#adc4db" />
<rect x="506.75" y="751.6" width="4.16" height="3.6" fill="#adc4db" />
<rect x="107.1" y="755.2" width="4.16" height="3.6" fill="#adc4db" />
<rect x="136.24" y="755.2" width="4.16" height="3.6" fill="#c2d4e6" />
<rect x="161.22" y="755.2" width="4.16" height="3.6" fill="#adc4db" />
<rect x="165.38" y="755.2" width="4.16" height="3.6" fill="#c2d4e6" />
<rect x="211.18" y="755.2" width="4.16" height="3.6" fill="#c2d4e6" />
<rect x="223.66" y="755.2" width="4.16" height="3.6" fill="#c2d4e6" />
<rect x="236.15" y="755.2" width="4.16" height="3.6" fill="#c2d4e6" />
<rect x="244.48" y="755.2" width="12.49" height="3.6" fill="#97b3cf" />
<rect x="261.13" y="755.2" width="8.33" height="3.6" fill="#97b3cf" />
<rect x="281.95" y="755.2" width="8.33" height="3.6" fill="#97b3cf" />
<rect x="290.27" y="755.2" width="4.16" height="3.6" fill="#c2d4e6" />
<rect x="298.6" y="755.2" width="8.33" height="3.6" fill="#97b3cf" />
<rect x="306.92" y="755.2" width="4.16" height="3.6" fill="#80a2c2" />
<rect x="327.74" y="755.2" width="4.16" height="3.6" fill="#adc4db" />
<rect x="331.9" y="755.2" width="4.16" height="3.6" fill="#97b3cf" />
<rect x="336.06" y="755.2" width="12.49" height="3.6" fill="#adc4db" />
<rect x="365.21" y="755.2" width="4.16" height="3.6" fill="#80a2c2" />
<rect x="369.37" y="755.2" width="4.16" height="3.6" fill="#97b3cf" />
<rect x="373.53" y="755.2" width="4.16" height="3.6" fill="#80a2c2" />
<rect x="377.7" y="755.2" width="8.33" height="3.6" fill="#adc4db" />
<rect x="398.51" y="755.2" width="4.16" height="3.6" fill="#c2d4e6" />
<rect x="402.67" y="755.2" width="8.33" height="3.6" fill="#80a2c2" />
<rect x="411" y="755.2" width="33.3" height="3.6" fill="#97b3cf" />
<rect x="448.47" y="755.2" width="8.33" height="3.6" fill="#97b3cf" />
<rect x="456.79" y="755.2" width="37.47" height="3.6" fill="#adc4db" />
<rect x="502.59" y="755.2" width="16.65" height="3.6" fill="#adc4db" />
<line x1="111.26" y1="737.2" x2="111.26" y2="758.8" stroke="rgba(255,255,255,0.1)" stroke-width="0.35" />
<line x1="115.43" y1="737.2" x2="115.43" y2="758.8" stroke="rgba(255,255,255,0.1)" stroke-width="0.35" />
<line x1="119.59" y1="737.2" x2="119.59" y2="758.8" stroke="rgba(255,255,255,0.1)" stroke-width="0.35" />
<line x1="123.75" y1="737.2" x2="123.75" y2="758.8" stroke="rgba(255,255,255,0.1)" stroke-width="0.35" />
<line x1="127.91" y1="737.2" x2="127.91" y2="758.8" stroke="rgba(255,255,255,0.1)" stroke-width="0.35" />
<line x1="132.08" y1="737.2" x2="132.08" y2="758.8" stroke="rgba(255,255,255,0.1)" stroke-width="0.35" />
<line x1="136.24" y1="737.2" x2="136.24" y2="758.8" stroke="rgba(255,255,255,0.1)" stroke-width="0.35" />
<line x1="140.4" y1="737.2" x2="140.4" y2="758.8" stroke="rgba(255,255,255,0.1)" stroke-width="0.35" />
<line x1="144.57" y1="737.2" x2="144.57" y2="758.8" stroke="rgba(255,255,255,0.1)" stroke-width="0.35" />
<line x1="148.73" y1="737.2" x2="148.73" y2="758.8" stroke="rgba(255,255,255,0.1)" stroke-width="0.35" />
<line x1="152.89" y1="737.2" x2="152.89" y2="758.8" stroke="rgba(255,255,255,0.1)" stroke-width="0.35" />
<line x1="157.06" y1="737.2" x2="157.06" y2="758.8" stroke="rgba(255,255,255,0.1)" stroke-width="0.35" />
<line x1="161.22" y1="737.2" x2="161.22" y2="758.8" stroke="rgba(255,255,255,0.1)" stroke-width="0.35" />
<line x1="165.38" y1="737.2" x2="165.38" y2="758.8" stroke="rgba(255,255,255,0.1)" stroke-width="0.35" />
<line x1="169.55" y1="737.2" x2="169.55" y2="758.8" stroke="rgba(255,255,255,0.1)" stroke-width="0.35" />
<line x1="173.71" y1="737.2" x2="173.71" y2="758.8" stroke="rgba(255,255,255,0.1)" stroke-width="0.35" />
<line x1="177.87" y1="737.2" x2="177.87" y2="758.8" stroke="rgba(255,255,255,0.1)" stroke-width="0.35" />
<line x1="182.03" y1="737.2" x2="182.03" y2="758.8" stroke="rgba(255,255,255,0.1)" stroke-width="0.35" />
<line x1="186.2" y1="737.2" x2="186.2" y2="758.8" stroke="rgba(255,255,255,0.1)" stroke-width="0.35" />
<line x1="190.36" y1="737.2" x2="190.36" y2="758.8" stroke="rgba(255,255,255,0.1)" stroke-width="0.35" />
<line x1="194.52" y1="737.2" x2="194.52" y2="758.8" stroke="rgba(255,255,255,0.1)" stroke-width="0.35" />
<line x1="198.69" y1="737.2" x2="198.69" y2="758.8" stroke="rgba(255,255,255,0.1)" stroke-width="0.35" />
<line x1="202.85" y1="737.2" x2="202.85" y2="758.8" stroke="rgba(255,255,255,0.1)" stroke-width="0.35" />
<line x1="207.01" y1="737.2" x2="207.01" y2="758.8" stroke="rgba(255,255,255,0.1)" stroke-width="0.35" />
<line x1="211.18" y1="737.2" x2="211.18" y2="758.8" stroke="rgba(255,255,255,0.1)" stroke-width="0.35" />
<line x1="215.34" y1="737.2" x2="215.34" y2="758.8" stroke="rgba(255,255,255,0.1)" stroke-width="0.35" />
<line x1="219.5" y1="737.2" x2="219.5" y2="758.8" stroke="rgba(255,255,255,0.1)" stroke-width="0.35" />
<line x1="223.66" y1="737.2" x2="223.66" y2="758.8" stroke="rgba(255,255,255,0.1)" stroke-width="0.35" />
<line x1="227.83" y1="737.2" x2="227.83" y2="758.8" stroke="rgba(255,255,255,0.1)" stroke-width="0.35" />
<line x1="231.99" y1="737.2" x2="231.99" y2="758.8" stroke="rgba(255,255,255,0.1)" stroke-width="0.35" />
<line x1="236.15" y1="737.2" x2="236.15" y2="758.8" stroke="rgba(255,255,255,0.1)" stroke-width="0.35" />
<line x1="240.32" y1="737.2" x2="240.32" y2="758.8" stroke="rgba(255,255,255,0.1)" stroke-width="0.35" />
<line x1="244.48" y1="737.2" x2="244.48" y2="758.8" stroke="rgba(255,255,255,0.1)" stroke-width="0.35" />
<line x1="248.64" y1="737.2" x2="248.64" y2="758.8" stroke="rgba(255,255,255,0.1)" stroke-width="0.35" />
<line x1="252.81" y1="737.2" x2="252.81" y2="758.8" stroke="rgba(255,255,255,0.1)" stroke-width="0.35" />
<line x1="256.97" y1="737.2" x2="256.97" y2="758.8" stroke="rgba(255,255,255,0.1)" stroke-width="0.35" />
<line x1="261.13" y1="737.2" x2="261.13" y2="758.8" stroke="rgba(255,255,255,0.1)" stroke-width="0.35" />
<line x1="265.29" y1="737.2" x2="265.29" y2="758.8" stroke="rgba(255,255,255,0.1)" stroke-width="0.35" />
<line x1="269.46" y1="737.2" x2="269.46" y2="758.8" stroke="rgba(255,255,255,0.1)" stroke-width="0.35" />
<line x1="273.62" y1="737.2" x2="273.62" y2="758.8" stroke="rgba(255,255,255,0.1)" stroke-width="0.35" />
<line x1="277.78" y1="737.2" x2="277.78" y2="758.8" stroke="rgba(255,255,255,0.1)" stroke-width="0.35" />
<line x1="281.95" y1="737.2" x2="281.95" y2="758.8" stroke="rgba(255,255,255,0.1)" stroke-width="0.35" />
<line x1="286.11" y1="737.2" x2="286.11" y2="758.8" stroke="rgba(255,255,255,0.1)" stroke-width="0.35" />
<line x1="290.27" y1="737.2" x2="290.27" y2="758.8" stroke="rgba(255,255,255,0.1)" stroke-width="0.35" />
<line x1="294.44" y1="737.2" x2="294.44" y2="758.8" stroke="rgba(255,255,255,0.1)" stroke-width="0.35" />
<line x1="298.6" y1="737.2" x2="298.6" y2="758.8" stroke="rgba(255,255,255,0.1)" stroke-width="0.35" />
<line x1="302.76" y1="737.2" x2="302.76" y2="758.8" stroke="rgba(255,255,255,0.1)" stroke-width="0.35" />
<line x1="306.92" y1="737.2" x2="306.92" y2="758.8" stroke="rgba(255,255,255,0.1)" stroke-width="0.35" />
<line x1="311.09" y1="737.2" x2="311.09" y2="758.8" stroke="rgba(255,255,255,0.1)" stroke-width="0.35" />
<line x1="315.25" y1="737.2" x2="315.25" y2="758.8" stroke="rgba(255,255,255,0.1)" stroke-width="0.35" />
<line x1="319.41" y1="737.2" x2="319.41" y2="758.8" stroke="rgba(255,255,255,0.1)" stroke-width="0.35" />
<line x1="323.58" y1="737.2" x2="323.58" y2="758.8" stroke="rgba(255,255,255,0.1)" stroke-width="0.35" />
<line x1="327.74" y1="737.2" x2="327.74" y2="758.8" stroke="rgba(255,255,255,0.1)" stroke-width="0.35" />
<line x1="331.9" y1="737.2" x2="331.9" y2="758.8" stroke="rgba(255,255,255,0.1)" stroke-width="0.35" />
<line x1="336.06" y1="737.2" x2="336.06" y2="758.8" stroke="rgba(255,255,255,0.1)" stroke-width="0.35" />
<line x1="340.23" y1="737.2" x2="340.23" y2="758.8" stroke="rgba(255,255,255,0.1)" stroke-width="0.35" />
<line x1="344.39" y1="737.2" x2="344.39" y2="758.8" stroke="rgba(255,255,255,0.1)" stroke-width="0.35" />
<line x1="348.55" y1="737.2" x2="348.55" y2="758.8" stroke="rgba(255,255,255,0.1)" stroke-width="0.35" />
<line x1="352.72" y1="737.2" x2="352.72" y2="758.8" stroke="rgba(255,255,255,0.1)" stroke-width="0.35" />
<line x1="356.88" y1="737.2" x2="356.88" y2="758.8" stroke="rgba(255,255,255,0.1)" stroke-width="0.35" />
<line x1="361.04" y1="737.2" x2="361.04" y2="758.8" stroke="rgba(255,255,255,0.1)" stroke-width="0.35" />
<line x1="365.21" y1="737.2" x2="365.21" y2="758.8" stroke="rgba(255,255,255,0.1)" stroke-width="0.35" />
<line x1="369.37" y1="737.2" x2="369.37" y2="758.8" stroke="rgba(255,255,255,0.1)" stroke-width="0.35" />
<line x1="373.53" y1="737.2" x2="373.53" y2="758.8" stroke="rgba(255,255,255,0.1)" stroke-width="0.35" />
<line x1="377.7" y1="737.2" x2="377.7" y2="758.8" stroke="rgba(255,255,255,0.1)" stroke-width="0.35" />
<line x1="381.86" y1="737.2" x2="381.86" y2="758.8" stroke="rgba(255,255,255,0.1)" stroke-width="0.35" />
<line x1="386.02" y1="737.2" x2="386.02" y2="758.8" stroke="rgba(255,255,255,0.1)" stroke-width="0.35" />
<line x1="390.18" y1="737.2" x2="390.18" y2="758.8" stroke="rgba(255,255,255,0.1)" stroke-width="0.35" />
<line x1="394.35" y1="737.2" x2="394.35" y2="758.8" stroke="rgba(255,255,255,0.1)" stroke-width="0.35" />
<line x1="398.51" y1="737.2" x2="398.51" y2="758.8" stroke="rgba(255,255,255,0.1)" stroke-width="0.35" />
<line x1="402.67" y1="737.2" x2="402.67" y2="758.8" stroke="rgba(255,255,255,0.1)" stroke-width="0.35" />
<line x1="406.84" y1="737.2" x2="406.84" y2="758.8" stroke="rgba(255,255,255,0.1)" stroke-width="0.35" />
<line x1="411" y1="737.2" x2="411" y2="758.8" stroke="rgba(255,255,255,0.1)" stroke-width="0.35" />
<line x1="415.16" y1="737.2" x2="415.16" y2="758.8" stroke="rgba(255,255,255,0.1)" stroke-width="0.35" />
<line x1="419.33" y1="737.2" x2="419.33" y2="758.8" stroke="rgba(255,255,255,0.1)" stroke-width="0.35" />
<line x1="423.49" y1="737.2" x2="423.49" y2="758.8" stroke="rgba(255,255,255,0.1)" stroke-width="0.35" />
<line x1="427.65" y1="737.2" x2="427.65" y2="758.8" stroke="rgba(255,255,255,0.1)" stroke-width="0.35" />
<line x1="431.81" y1="737.2" x2="431.81" y2="758.8" stroke="rgba(255,255,255,0.1)" stroke-width="0.35" />
<line x1="435.98" y1="737.2" x2="435.98" y2="758.8" stroke="rgba(255,255,255,0.1)" stroke-width="0.35" />
<line x1="440.14" y1="737.2" x2="440.14" y2="758.8" stroke="rgba(255,255,255,0.1)" stroke-width="0.35" />
<line x1="444.3" y1="737.2" x2="444.3" y2="758.8" stroke="rgba(255,255,255,0.1)" stroke-width="0.35" />
<line x1="448.47" y1="737.2" x2="448.47" y2="758.8" stroke="rgba(255,255,255,0.1)" stroke-width="0.35" />
<line x1="452.63" y1="737.2" x2="452.63" y2="758.8" stroke="rgba(255,255,255,0.1)" stroke-width="0.35" />
<line x1="456.79" y1="737.2" x2="456.79" y2="758.8" stroke="rgba(255,255,255,0.1)" stroke-width="0.35" />
<line x1="460.96" y1="737.2" x2="460.96" y2="758.8" stroke="rgba(255,255,255,0.1)" stroke-width="0.35" />
<line x1="465.12" y1="737.2" x2="465.12" y2="758.8" stroke="rgba(255,255,255,0.1)" stroke-width="0.35" />
<line x1="469.28" y1="737.2" x2="469.28" y2="758.8" stroke="rgba(255,255,255,0.1)" stroke-width="0.35" />
<line x1="473.44" y1="737.2" x2="473.44" y2="758.8" stroke="rgba(255,255,255,0.1)" stroke-width="0.35" />
<line x1="477.61" y1="737.2" x2="477.61" y2="758.8" stroke="rgba(255,255,255,0.1)" stroke-width="0.35" />
<line x1="481.77" y1="737.2" x2="481.77" y2="758.8" stroke="rgba(255,255,255,0.1)" stroke-width="0.35" />
<line x1="485.93" y1="737.2" x2="485.93" y2="758.8" stroke="rgba(255,255,255,0.1)" stroke-width="0.35" />
<line x1="490.1" y1="737.2" x2="490.1" y2="758.8" stroke="rgba(255,255,255,0.1)" stroke-width="0.35" />
<line x1="494.26" y1="737.2" x2="494.26" y2="758.8" stroke="rgba(255,255,255,0.1)" stroke-width="0.35" />
<line x1="498.42" y1="737.2" x2="498.42" y2="758.8" stroke="rgba(255,255,255,0.1)" stroke-width="0.35" />
<line x1="502.59" y1="737.2" x2="502.59" y2="758.8" stroke="rgba(255,255,255,0.1)" stroke-width="0.35" />
<line x1="506.75" y1="737.2" x2="506.75" y2="758.8" stroke="rgba(255,255,255,0.1)" stroke-width="0.35" />
<line x1="510.91" y1="737.2" x2="510.91" y2="758.8" stroke="rgba(255,255,255,0.1)" stroke-width="0.35" />
<line x1="515.07" y1="737.2" x2="515.07" y2="758.8" stroke="rgba(255,255,255,0.1)" stroke-width="0.35" />
<line x1="519.24" y1="737.2" x2="519.24" y2="758.8" stroke="rgba(255,255,255,0.1)" stroke-width="0.35" />
<line x1="523.4" y1="737.2" x2="523.4" y2="758.8" stroke="rgba(255,255,255,0.1)" stroke-width="0.35" />
<line x1="527.56" y1="737.2" x2="527.56" y2="758.8" stroke="rgba(255,255,255,0.1)" stroke-width="0.35" />
<rect x="107.1" y="762.2" width="424.63" height="18.1" fill="#d8e5f1" />
<rect x="115.43" y="762.2" width="4.16" height="3.62" fill="#c2d4e6" />
<rect x="136.24" y="762.2" width="4.16" height="3.62" fill="#adc4db" />
<rect x="148.73" y="762.2" width="4.16" height="3.62" fill="#c2d4e6" />
<rect x="173.71" y="762.2" width="8.33" height="3.62" fill="#c2d4e6" />
<rect x="194.52" y="762.2" width="4.16" height="3.62" fill="#c2d4e6" />
<rect x="256.97" y="762.2" width="4.16" height="3.62" fill="#c2d4e6" />
<rect x="290.27" y="762.2" width="4.16" height="3.62" fill="#6b91b5" />
<rect x="319.41" y="762.2" width="4.16" height="3.62" fill="#c2d4e6" />
<rect x="327.74" y="762.2" width="8.33" height="3.62" fill="#adc4db" />
<rect x="340.23" y="762.2" width="8.33" height="3.62" fill="#c2d4e6" />
<rect x="369.37" y="762.2" width="4.16" height="3.62" fill="#97b3cf" />
<rect x="381.86" y="762.2" width="12.49" height="3.62" fill="#c2d4e6" />
<rect x="398.51" y="762.2" width="12.49" height="3.62" fill="#c2d4e6" />
<rect x="456.79" y="762.2" width="4.16" height="3.62" fill="#97b3cf" />
<rect x="460.96" y="762.2" width="4.16" height="3.62" fill="#5880a8" />
<rect x="469.28" y="762.2" width="4.16" height="3.62" fill="#97b3cf" />
<rect x="473.44" y="762.2" width="29.14" height="3.62" fill="#c2d4e6" />
<rect x="515.07" y="762.2" width="4.16" height="3.62" fill="#97b3cf" />
<rect x="519.24" y="762.2" width="8.33" height="3.62" fill="#c2d4e6" />
<rect x="111.26" y="765.82" width="4.16" height="3.62" fill="#adc4db" />
<rect x="119.59" y="765.82" width="20.82" height="3.62" fill="#c2d4e6" />
<rect x="144.57" y="765.82" width="4.16" height="3.62" fill="#c2d4e6" />
<rect x="152.89" y="765.82" width="4.16" height="3.62" fill="#80a2c2" />
<rect x="157.06" y="765.82" width="4.16" height="3.62" fill="#c2d4e6" />
<rect x="161.22" y="765.82" width="4.16" height="3.62" fill="#adc4db" />
<rect x="165.38" y="765.82" width="4.16" height="3.62" fill="#c2d4e6" />
<rect x="211.18" y="765.82" width="4.16" height="3.62" fill="#c2d4e6" />
<rect x="223.66" y="765.82" width="4.16" height="3.62" fill="#c2d4e6" />
<rect x="306.92" y="765.82" width="4.16" height="3.62" fill="#adc4db" />
<rect x="336.06" y="765.82" width="4.16" height="3.62" fill="#adc4db" />
<rect x="456.79" y="765.82" width="4.16" height="3.62" fill="#c2d4e6" />
<rect x="490.1" y="765.82" width="8.33" height="3.62" fill="#adc4db" />
<rect x="502.59" y="765.82" width="4.16" height="3.62" fill="#adc4db" />
<rect x="281.95" y="769.44" width="8.33" height="3.62" fill="#c2d4e6" />
<rect x="290.27" y="769.44" width="4.16" height="3.62" fill="#adc4db" />
<rect x="294.44" y="769.44" width="4.16" height="3.62" fill="#c2d4e6" />
<rect x="323.58" y="769.44" width="4.16" height="3.62" fill="#adc4db" />
<rect x="386.02" y="769.44" width="4.16" height="3.62" fill="#adc4db" />
<rect x="115.43" y="773.06" width="20.82" height="3.62" fill="#c2d4e6" />
<rect x="140.4" y="773.06" width="12.49" height="3.62" fill="#c2d4e6" />
<rect x="157.06" y="773.06" width="4.16" height="3.62" fill="#c2d4e6" />
<rect x="169.55" y="773.06" width="41.63" height="3.62" fill="#c2d4e6" />
<rect x="215.34" y="773.06" width="8.33" height="3.62" fill="#c2d4e6" />
<rect x="227.83" y="773.06" width="8.33" height="3.62" fill="#c2d4e6" />
<rect x="140.4" y="776.68" width="4.16" height="3.62" fill="#c2d4e6" />
<rect x="173.71" y="776.68" width="8.33" height="3.62" fill="#c2d4e6" />
<rect x="186.2" y="776.68" width="4.16" height="3.62" fill="#c2d4e6" />
<rect x="194.52" y="776.68" width="4.16" height="3.62" fill="#c2d4e6" />
<rect x="236.15" y="776.68" width="4.16" height="3.62" fill="#c2d4e6" />
<rect x="290.27" y="776.68" width="4.16" height="3.62" fill="#97b3cf" />
<rect x="327.74" y="776.68" width="8.33" height="3.62" fill="#adc4db" />
<rect x="340.23" y="776.68" width="4.16" height="3.62" fill="#97b3cf" />
<rect x="361.04" y="776.68" width="4.16" height="3.62" fill="#adc4db" />
<rect x="369.37" y="776.68" width="4.16" height="3.62" fill="#adc4db" />
<rect x="381.86" y="776.68" width="8.33" height="3.62" fill="#adc4db" />
<rect x="394.35" y="776.68" width="4.16" height="3.62" fill="#adc4db" />
<rect x="460.96" y="776.68" width="4.16" height="3.62" fill="#97b3cf" />
<rect x="494.26" y="776.68" width="8.33" height="3.62" fill="#adc4db" />
<rect x="506.75" y="776.68" width="4.16" height="3.62" fill="#97b3cf" />
<rect x="510.91" y="776.68" width="4.16" height="3.62" fill="#adc4db" />
<line x1="111.26" y1="762.2" x2="111.26" y2="780.3" stroke="rgba(255,255,255,0.1)" stroke-width="0.35" />
<line x1="115.43" y1="762.2" x2="115.43" y2="780.3" stroke="rgba(255,255,255,0.1)" stroke-width="0.35" />
<line x1="119.59" y1="762.2" x2="119.59" y2="780.3" stroke="rgba(255,255,255,0.1)" stroke-width="0.35" />
<line x1="123.75" y1="762.2" x2="123.75" y2="780.3" stroke="rgba(255,255,255,0.1)" stroke-width="0.35" />
<line x1="127.91" y1="762.2" x2="127.91" y2="780.3" stroke="rgba(255,255,255,0.1)" stroke-width="0.35" />
<line x1="132.08" y1="762.2" x2="132.08" y2="780.3" stroke="rgba(255,255,255,0.1)" stroke-width="0.35" />
<line x1="136.24" y1="762.2" x2="136.24" y2="780.3" stroke="rgba(255,255,255,0.1)" stroke-width="0.35" />
<line x1="140.4" y1="762.2" x2="140.4" y2="780.3" stroke="rgba(255,255,255,0.1)" stroke-width="0.35" />
<line x1="144.57" y1="762.2" x2="144.57" y2="780.3" stroke="rgba(255,255,255,0.1)" stroke-width="0.35" />
<line x1="148.73" y1="762.2" x2="148.73" y2="780.3" stroke="rgba(255,255,255,0.1)" stroke-width="0.35" />
<line x1="152.89" y1="762.2" x2="152.89" y2="780.3" stroke="rgba(255,255,255,0.1)" stroke-width="0.35" />
<line x1="157.06" y1="762.2" x2="157.06" y2="780.3" stroke="rgba(255,255,255,0.1)" stroke-width="0.35" />
<line x1="161.22" y1="762.2" x2="161.22" y2="780.3" stroke="rgba(255,255,255,0.1)" stroke-width="0.35" />
<line x1="165.38" y1="762.2" x2="165.38" y2="780.3" stroke="rgba(255,255,255,0.1)" stroke-width="0.35" />
<line x1="169.55" y1="762.2" x2="169.55" y2="780.3" stroke="rgba(255,255,255,0.1)" stroke-width="0.35" />
<line x1="173.71" y1="762.2" x2="173.71" y2="780.3" stroke="rgba(255,255,255,0.1)" stroke-width="0.35" />
<line x1="177.87" y1="762.2" x2="177.87" y2="780.3" stroke="rgba(255,255,255,0.1)" stroke-width="0.35" />
<line x1="182.03" y1="762.2" x2="182.03" y2="780.3" stroke="rgba(255,255,255,0.1)" stroke-width="0.35" />
<line x1="186.2" y1="762.2" x2="186.2" y2="780.3" stroke="rgba(255,255,255,0.1)" stroke-width="0.35" />
<line x1="190.36" y1="762.2" x2="190.36" y2="780.3" stroke="rgba(255,255,255,0.1)" stroke-width="0.35" />
<line x1="194.52" y1="762.2" x2="194.52" y2="780.3" stroke="rgba(255,255,255,0.1)" stroke-width="0.35" />
<line x1="198.69" y1="762.2" x2="198.69" y2="780.3" stroke="rgba(255,255,255,0.1)" stroke-width="0.35" />
<line x1="202.85" y1="762.2" x2="202.85" y2="780.3" stroke="rgba(255,255,255,0.1)" stroke-width="0.35" />
<line x1="207.01" y1="762.2" x2="207.01" y2="780.3" stroke="rgba(255,255,255,0.1)" stroke-width="0.35" />
<line x1="211.18" y1="762.2" x2="211.18" y2="780.3" stroke="rgba(255,255,255,0.1)" stroke-width="0.35" />
<line x1="215.34" y1="762.2" x2="215.34" y2="780.3" stroke="rgba(255,255,255,0.1)" stroke-width="0.35" />
<line x1="219.5" y1="762.2" x2="219.5" y2="780.3" stroke="rgba(255,255,255,0.1)" stroke-width="0.35" />
<line x1="223.66" y1="762.2" x2="223.66" y2="780.3" stroke="rgba(255,255,255,0.1)" stroke-width="0.35" />
<line x1="227.83" y1="762.2" x2="227.83" y2="780.3" stroke="rgba(255,255,255,0.1)" stroke-width="0.35" />
<line x1="231.99" y1="762.2" x2="231.99" y2="780.3" stroke="rgba(255,255,255,0.1)" stroke-width="0.35" />
<line x1="236.15" y1="762.2" x2="236.15" y2="780.3" stroke="rgba(255,255,255,0.1)" stroke-width="0.35" />
<line x1="240.32" y1="762.2" x2="240.32" y2="780.3" stroke="rgba(255,255,255,0.1)" stroke-width="0.35" />
<line x1="244.48" y1="762.2" x2="244.48" y2="780.3" stroke="rgba(255,255,255,0.1)" stroke-width="0.35" />
<line x1="248.64" y1="762.2" x2="248.64" y2="780.3" stroke="rgba(255,255,255,0.1)" stroke-width="0.35" />
<line x1="252.81" y1="762.2" x2="252.81" y2="780.3" stroke="rgba(255,255,255,0.1)" stroke-width="0.35" />
<line x1="256.97" y1="762.2" x2="256.97" y2="780.3" stroke="rgba(255,255,255,0.1)" stroke-width="0.35" />
<line x1="261.13" y1="762.2" x2="261.13" y2="780.3" stroke="rgba(255,255,255,0.1)" stroke-width="0.35" />
<line x1="265.29" y1="762.2" x2="265.29" y2="780.3" stroke="rgba(255,255,255,0.1)" stroke-width="0.35" />
<line x1="269.46" y1="762.2" x2="269.46" y2="780.3" stroke="rgba(255,255,255,0.1)" stroke-width="0.35" />
<line x1="273.62" y1="762.2" x2="273.62" y2="780.3" stroke="rgba(255,255,255,0.1)" stroke-width="0.35" />
<line x1="277.78" y1="762.2" x2="277.78" y2="780.3" stroke="rgba(255,255,255,0.1)" stroke-width="0.35" />
<line x1="281.95" y1="762.2" x2="281.95" y2="780.3" stroke="rgba(255,255,255,0.1)" stroke-width="0.35" />
<line x1="286.11" y1="762.2" x2="286.11" y2="780.3" stroke="rgba(255,255,255,0.1)" stroke-width="0.35" />
<line x1="290.27" y1="762.2" x2="290.27" y2="780.3" stroke="rgba(255,255,255,0.1)" stroke-width="0.35" />
<line x1="294.44" y1="762.2" x2="294.44" y2="780.3" stroke="rgba(255,255,255,0.1)" stroke-width="0.35" />
<line x1="298.6" y1="762.2" x2="298.6" y2="780.3" stroke="rgba(255,255,255,0.1)" stroke-width="0.35" />
<line x1="302.76" y1="762.2" x2="302.76" y2="780.3" stroke="rgba(255,255,255,0.1)" stroke-width="0.35" />
<line x1="306.92" y1="762.2" x2="306.92" y2="780.3" stroke="rgba(255,255,255,0.1)" stroke-width="0.35" />
<line x1="311.09" y1="762.2" x2="311.09" y2="780.3" stroke="rgba(255,255,255,0.1)" stroke-width="0.35" />
<line x1="315.25" y1="762.2" x2="315.25" y2="780.3" stroke="rgba(255,255,255,0.1)" stroke-width="0.35" />
<line x1="319.41" y1="762.2" x2="319.41" y2="780.3" stroke="rgba(255,255,255,0.1)" stroke-width="0.35" />
<line x1="323.58" y1="762.2" x2="323.58" y2="780.3" stroke="rgba(255,255,255,0.1)" stroke-width="0.35" />
<line x1="327.74" y1="762.2" x2="327.74" y2="780.3" stroke="rgba(255,255,255,0.1)" stroke-width="0.35" />
<line x1="331.9" y1="762.2" x2="331.9" y2="780.3" stroke="rgba(255,255,255,0.1)" stroke-width="0.35" />
<line x1="336.06" y1="762.2" x2="336.06" y2="780.3" stroke="rgba(255,255,255,0.1)" stroke-width="0.35" />
<line x1="340.23" y1="762.2" x2="340.23" y2="780.3" stroke="rgba(255,255,255,0.1)" stroke-width="0.35" />
<line x1="344.39" y1="762.2" x2="344.39" y2="780.3" stroke="rgba(255,255,255,0.1)" stroke-width="0.35" />
<line x1="348.55" y1="762.2" x2="348.55" y2="780.3" stroke="rgba(255,255,255,0.1)" stroke-width="0.35" />
<line x1="352.72" y1="762.2" x2="352.72" y2="780.3" stroke="rgba(255,255,255,0.1)" stroke-width="0.35" />
<line x1="356.88" y1="762.2" x2="356.88" y2="780.3" stroke="rgba(255,255,255,0.1)" stroke-width="0.35" />
<line x1="361.04" y1="762.2" x2="361.04" y2="780.3" stroke="rgba(255,255,255,0.1)" stroke-width="0.35" />
<line x1="365.21" y1="762.2" x2="365.21" y2="780.3" stroke="rgba(255,255,255,0.1)" stroke-width="0.35" />
<line x1="369.37" y1="762.2" x2="369.37" y2="780.3" stroke="rgba(255,255,255,0.1)" stroke-width="0.35" />
<line x1="373.53" y1="762.2" x2="373.53" y2="780.3" stroke="rgba(255,255,255,0.1)" stroke-width="0.35" />
<line x1="377.7" y1="762.2" x2="377.7" y2="780.3" stroke="rgba(255,255,255,0.1)" stroke-width="0.35" />
<line x1="381.86" y1="762.2" x2="381.86" y2="780.3" stroke="rgba(255,255,255,0.1)" stroke-width="0.35" />
<line x1="386.02" y1="762.2" x2="386.02" y2="780.3" stroke="rgba(255,255,255,0.1)" stroke-width="0.35" />
<line x1="390.18" y1="762.2" x2="390.18" y2="780.3" stroke="rgba(255,255,255,0.1)" stroke-width="0.35" />
<line x1="394.35" y1="762.2" x2="394.35" y2="780.3" stroke="rgba(255,255,255,0.1)" stroke-width="0.35" />
<line x1="398.51" y1="762.2" x2="398.51" y2="780.3" stroke="rgba(255,255,255,0.1)" stroke-width="0.35" />
<line x1="402.67" y1="762.2" x2="402.67" y2="780.3" stroke="rgba(255,255,255,0.1)" stroke-width="0.35" />
<line x1="406.84" y1="762.2" x2="406.84" y2="780.3" stroke="rgba(255,255,255,0.1)" stroke-width="0.35" />
<line x1="411" y1="762.2" x2="411" y2="780.3" stroke="rgba(255,255,255,0.1)" stroke-width="0.35" />
<line x1="415.16" y1="762.2" x2="415.16" y2="780.3" stroke="rgba(255,255,255,0.1)" stroke-width="0.35" />
<line x1="419.33" y1="762.2" x2="419.33" y2="780.3" stroke="rgba(255,255,255,0.1)" stroke-width="0.35" />
<line x1="423.49" y1="762.2" x2="423.49" y2="780.3" stroke="rgba(255,255,255,0.1)" stroke-width="0.35" />
<line x1="427.65" y1="762.2" x2="427.65" y2="780.3" stroke="rgba(255,255,255,0.1)" stroke-width="0.35" />
<line x1="431.81" y1="762.2" x2="431.81" y2="780.3" stroke="rgba(255,255,255,0.1)" stroke-width="0.35" />
<line x1="435.98" y1="762.2" x2="435.98" y2="780.3" stroke="rgba(255,255,255,0.1)" stroke-width="0.35" />
<line x1="440.14" y1="762.2" x2="440.14" y2="780.3" stroke="rgba(255,255,255,0.1)" stroke-width="0.35" />
<line x1="444.3" y1="762.2" x2="444.3" y2="780.3" stroke="rgba(255,255,255,0.1)" stroke-width="0.35" />
<line x1="448.47" y1="762.2" x2="448.47" y2="780.3" stroke="rgba(255,255,255,0.1)" stroke-width="0.35" />
<line x1="452.63" y1="762.2" x2="452.63" y2="780.3" stroke="rgba(255,255,255,0.1)" stroke-width="0.35" />
<line x1="456.79" y1="762.2" x2="456.79" y2="780.3" stroke="rgba(255,255,255,0.1)" stroke-width="0.35" />
<line x1="460.96" y1="762.2" x2="460.96" y2="780.3" stroke="rgba(255,255,255,0.1)" stroke-width="0.35" />
<line x1="465.12" y1="762.2" x2="465.12" y2="780.3" stroke="rgba(255,255,255,0.1)" stroke-width="0.35" />
<line x1="469.28" y1="762.2" x2="469.28" y2="780.3" stroke="rgba(255,255,255,0.1)" stroke-width="0.35" />
<line x1="473.44" y1="762.2" x2="473.44" y2="780.3" stroke="rgba(255,255,255,0.1)" stroke-width="0.35" />
<line x1="477.61" y1="762.2" x2="477.61" y2="780.3" stroke="rgba(255,255,255,0.1)" stroke-width="0.35" />
<line x1="481.77" y1="762.2" x2="481.77" y2="780.3" stroke="rgba(255,255,255,0.1)" stroke-width="0.35" />
<line x1="485.93" y1="762.2" x2="485.93" y2="780.3" stroke="rgba(255,255,255,0.1)" stroke-width="0.35" />
<line x1="490.1" y1="762.2" x2="490.1" y2="780.3" stroke="rgba(255,255,255,0.1)" stroke-width="0.35" />
<line x1="494.26" y1="762.2" x2="494.26" y2="780.3" stroke="rgba(255,255,255,0.1)" stroke-width="0.35" />
<line x1="498.42" y1="762.2" x2="498.42" y2="780.3" stroke="rgba(255,255,255,0.1)" stroke-width="0.35" />
<line x1="502.59" y1="762.2" x2="502.59" y2="780.3" stroke="rgba(255,255,255,0.1)" stroke-width="0.35" />
<line x1="506.75" y1="762.2" x2="506.75" y2="780.3" stroke="rgba(255,255,255,0.1)" stroke-width="0.35" />
<line x1="510.91" y1="762.2" x2="510.91" y2="780.3" stroke="rgba(255,255,255,0.1)" stroke-width="0.35" />
<line x1="515.07" y1="762.2" x2="515.07" y2="780.3" stroke="rgba(255,255,255,0.1)" stroke-width="0.35" />
<line x1="519.24" y1="762.2" x2="519.24" y2="780.3" stroke="rgba(255,255,255,0.1)" stroke-width="0.35" />
<line x1="523.4" y1="762.2" x2="523.4" y2="780.3" stroke="rgba(255,255,255,0.1)" stroke-width="0.35" />
<line x1="527.56" y1="762.2" x2="527.56" y2="780.3" stroke="rgba(255,255,255,0.1)" stroke-width="0.35" />
<rect x="107.1" y="783.1" width="424.63" height="25.9" fill="#d8e5f1" />
<rect x="152.89" y="783.1" width="4.16" height="3.7" fill="#c2d4e6" />
<rect x="281.95" y="783.1" width="8.33" height="3.7" fill="#345e8a" />
<rect x="294.44" y="783.1" width="4.16" height="3.7" fill="#adc4db" />
<rect x="319.41" y="783.1" width="8.33" height="3.7" fill="#adc4db" />
<rect x="377.7" y="783.1" width="8.33" height="3.7" fill="#adc4db" />
<rect x="402.67" y="783.1" width="8.33" height="3.7" fill="#c2d4e6" />
<rect x="460.96" y="783.1" width="4.16" height="3.7" fill="#c2d4e6" />
<rect x="473.44" y="783.1" width="8.33" height="3.7" fill="#adc4db" />
<rect x="481.77" y="783.1" width="4.16" height="3.7" fill="#6b91b5" />
<rect x="485.93" y="783.1" width="4.16" height="3.7" fill="#c2d4e6" />
<rect x="494.26" y="783.1" width="4.16" height="3.7" fill="#5880a8" />
<rect x="498.42" y="783.1" width="4.16" height="3.7" fill="#466f99" />
<rect x="365.21" y="786.8" width="4.16" height="3.7" fill="#c2d4e6" />
<rect x="373.53" y="786.8" width="16.65" height="3.7" fill="#adc4db" />
<rect x="398.51" y="786.8" width="4.16" height="3.7" fill="#c2d4e6" />
<rect x="494.26" y="786.8" width="8.33" height="3.7" fill="#6b91b5" />
<rect x="152.89" y="790.5" width="4.16" height="3.7" fill="#c2d4e6" />
<rect x="161.22" y="790.5" width="4.16" height="3.7" fill="#adc4db" />
<rect x="306.92" y="790.5" width="4.16" height="3.7" fill="#adc4db" />
<rect x="331.9" y="790.5" width="4.16" height="3.7" fill="#adc4db" />
<rect x="377.7" y="790.5" width="4.16" height="3.7" fill="#adc4db" />
<rect x="394.35" y="790.5" width="4.16" height="3.7" fill="#adc4db" />
<rect x="494.26" y="790.5" width="8.33" height="3.7" fill="#c2d4e6" />
<rect x="331.9" y="794.2" width="4.16" height="3.7" fill="#adc4db" />
<rect x="473.44" y="794.2" width="12.49" height="3.7" fill="#adc4db" />
<rect x="390.18" y="797.9" width="12.49" height="3.7" fill="#adc4db" />
<rect x="481.77" y="801.6" width="4.16" height="3.7" fill="#adc4db" />
<rect x="494.26" y="801.6" width="8.33" height="3.7" fill="#adc4db" />
<rect x="161.22" y="805.3" width="4.16" height="3.7" fill="#c2d4e6" />
<rect x="394.35" y="805.3" width="4.16" height="3.7" fill="#adc4db" />
<line x1="111.26" y1="783.1" x2="111.26" y2="809" stroke="rgba(255,255,255,0.1)" stroke-width="0.35" />
<line x1="115.43" y1="783.1" x2="115.43" y2="809" stroke="rgba(255,255,255,0.1)" stroke-width="0.35" />
<line x1="119.59" y1="783.1" x2="119.59" y2="809" stroke="rgba(255,255,255,0.1)" stroke-width="0.35" />
<line x1="123.75" y1="783.1" x2="123.75" y2="809" stroke="rgba(255,255,255,0.1)" stroke-width="0.35" />
<line x1="127.91" y1="783.1" x2="127.91" y2="809" stroke="rgba(255,255,255,0.1)" stroke-width="0.35" />
<line x1="132.08" y1="783.1" x2="132.08" y2="809" stroke="rgba(255,255,255,0.1)" stroke-width="0.35" />
<line x1="136.24" y1="783.1" x2="136.24" y2="809" stroke="rgba(255,255,255,0.1)" stroke-width="0.35" />
<line x1="140.4" y1="783.1" x2="140.4" y2="809" stroke="rgba(255,255,255,0.1)" stroke-width="0.35" />
<line x1="144.57" y1="783.1" x2="144.57" y2="809" stroke="rgba(255,255,255,0.1)" stroke-width="0.35" />
<line x1="148.73" y1="783.1" x2="148.73" y2="809" stroke="rgba(255,255,255,0.1)" stroke-width="0.35" />
<line x1="152.89" y1="783.1" x2="152.89" y2="809" stroke="rgba(255,255,255,0.1)" stroke-width="0.35" />
<line x1="157.06" y1="783.1" x2="157.06" y2="809" stroke="rgba(255,255,255,0.1)" stroke-width="0.35" />
<line x1="161.22" y1="783.1" x2="161.22" y2="809" stroke="rgba(255,255,255,0.1)" stroke-width="0.35" />
<line x1="165.38" y1="783.1" x2="165.38" y2="809" stroke="rgba(255,255,255,0.1)" stroke-width="0.35" />
<line x1="169.55" y1="783.1" x2="169.55" y2="809" stroke="rgba(255,255,255,0.1)" stroke-width="0.35" />
<line x1="173.71" y1="783.1" x2="173.71" y2="809" stroke="rgba(255,255,255,0.1)" stroke-width="0.35" />
<line x1="177.87" y1="783.1" x2="177.87" y2="809" stroke="rgba(255,255,255,0.1)" stroke-width="0.35" />
<line x1="182.03" y1="783.1" x2="182.03" y2="809" stroke="rgba(255,255,255,0.1)" stroke-width="0.35" />
<line x1="186.2" y1="783.1" x2="186.2" y2="809" stroke="rgba(255,255,255,0.1)" stroke-width="0.35" />
<line x1="190.36" y1="783.1" x2="190.36" y2="809" stroke="rgba(255,255,255,0.1)" stroke-width="0.35" />
<line x1="194.52" y1="783.1" x2="194.52" y2="809" stroke="rgba(255,255,255,0.1)" stroke-width="0.35" />
<line x1="198.69" y1="783.1" x2="198.69" y2="809" stroke="rgba(255,255,255,0.1)" stroke-width="0.35" />
<line x1="202.85" y1="783.1" x2="202.85" y2="809" stroke="rgba(255,255,255,0.1)" stroke-width="0.35" />
<line x1="207.01" y1="783.1" x2="207.01" y2="809" stroke="rgba(255,255,255,0.1)" stroke-width="0.35" />
<line x1="211.18" y1="783.1" x2="211.18" y2="809" stroke="rgba(255,255,255,0.1)" stroke-width="0.35" />
<line x1="215.34" y1="783.1" x2="215.34" y2="809" stroke="rgba(255,255,255,0.1)" stroke-width="0.35" />
<line x1="219.5" y1="783.1" x2="219.5" y2="809" stroke="rgba(255,255,255,0.1)" stroke-width="0.35" />
<line x1="223.66" y1="783.1" x2="223.66" y2="809" stroke="rgba(255,255,255,0.1)" stroke-width="0.35" />
<line x1="227.83" y1="783.1" x2="227.83" y2="809" stroke="rgba(255,255,255,0.1)" stroke-width="0.35" />
<line x1="231.99" y1="783.1" x2="231.99" y2="809" stroke="rgba(255,255,255,0.1)" stroke-width="0.35" />
<line x1="236.15" y1="783.1" x2="236.15" y2="809" stroke="rgba(255,255,255,0.1)" stroke-width="0.35" />
<line x1="240.32" y1="783.1" x2="240.32" y2="809" stroke="rgba(255,255,255,0.1)" stroke-width="0.35" />
<line x1="244.48" y1="783.1" x2="244.48" y2="809" stroke="rgba(255,255,255,0.1)" stroke-width="0.35" />
<line x1="248.64" y1="783.1" x2="248.64" y2="809" stroke="rgba(255,255,255,0.1)" stroke-width="0.35" />
<line x1="252.81" y1="783.1" x2="252.81" y2="809" stroke="rgba(255,255,255,0.1)" stroke-width="0.35" />
<line x1="256.97" y1="783.1" x2="256.97" y2="809" stroke="rgba(255,255,255,0.1)" stroke-width="0.35" />
<line x1="261.13" y1="783.1" x2="261.13" y2="809" stroke="rgba(255,255,255,0.1)" stroke-width="0.35" />
<line x1="265.29" y1="783.1" x2="265.29" y2="809" stroke="rgba(255,255,255,0.1)" stroke-width="0.35" />
<line x1="269.46" y1="783.1" x2="269.46" y2="809" stroke="rgba(255,255,255,0.1)" stroke-width="0.35" />
<line x1="273.62" y1="783.1" x2="273.62" y2="809" stroke="rgba(255,255,255,0.1)" stroke-width="0.35" />
<line x1="277.78" y1="783.1" x2="277.78" y2="809" stroke="rgba(255,255,255,0.1)" stroke-width="0.35" />
<line x1="281.95" y1="783.1" x2="281.95" y2="809" stroke="rgba(255,255,255,0.1)" stroke-width="0.35" />
<line x1="286.11" y1="783.1" x2="286.11" y2="809" stroke="rgba(255,255,255,0.1)" stroke-width="0.35" />
<line x1="290.27" y1="783.1" x2="290.27" y2="809" stroke="rgba(255,255,255,0.1)" stroke-width="0.35" />
<line x1="294.44" y1="783.1" x2="294.44" y2="809" stroke="rgba(255,255,255,0.1)" stroke-width="0.35" />
<line x1="298.6" y1="783.1" x2="298.6" y2="809" stroke="rgba(255,255,255,0.1)" stroke-width="0.35" />
<line x1="302.76" y1="783.1" x2="302.76" y2="809" stroke="rgba(255,255,255,0.1)" stroke-width="0.35" />
<line x1="306.92" y1="783.1" x2="306.92" y2="809" stroke="rgba(255,255,255,0.1)" stroke-width="0.35" />
<line x1="311.09" y1="783.1" x2="311.09" y2="809" stroke="rgba(255,255,255,0.1)" stroke-width="0.35" />
<line x1="315.25" y1="783.1" x2="315.25" y2="809" stroke="rgba(255,255,255,0.1)" stroke-width="0.35" />
<line x1="319.41" y1="783.1" x2="319.41" y2="809" stroke="rgba(255,255,255,0.1)" stroke-width="0.35" />
<line x1="323.58" y1="783.1" x2="323.58" y2="809" stroke="rgba(255,255,255,0.1)" stroke-width="0.35" />
<line x1="327.74" y1="783.1" x2="327.74" y2="809" stroke="rgba(255,255,255,0.1)" stroke-width="0.35" />
<line x1="331.9" y1="783.1" x2="331.9" y2="809" stroke="rgba(255,255,255,0.1)" stroke-width="0.35" />
<line x1="336.06" y1="783.1" x2="336.06" y2="809" stroke="rgba(255,255,255,0.1)" stroke-width="0.35" />
<line x1="340.23" y1="783.1" x2="340.23" y2="809" stroke="rgba(255,255,255,0.1)" stroke-width="0.35" />
<line x1="344.39" y1="783.1" x2="344.39" y2="809" stroke="rgba(255,255,255,0.1)" stroke-width="0.35" />
<line x1="348.55" y1="783.1" x2="348.55" y2="809" stroke="rgba(255,255,255,0.1)" stroke-width="0.35" />
<line x1="352.72" y1="783.1" x2="352.72" y2="809" stroke="rgba(255,255,255,0.1)" stroke-width="0.35" />
<line x1="356.88" y1="783.1" x2="356.88" y2="809" stroke="rgba(255,255,255,0.1)" stroke-width="0.35" />
<line x1="361.04" y1="783.1" x2="361.04" y2="809" stroke="rgba(255,255,255,0.1)" stroke-width="0.35" />
<line x1="365.21" y1="783.1" x2="365.21" y2="809" stroke="rgba(255,255,255,0.1)" stroke-width="0.35" />
<line x1="369.37" y1="783.1" x2="369.37" y2="809" stroke="rgba(255,255,255,0.1)" stroke-width="0.35" />
<line x1="373.53" y1="783.1" x2="373.53" y2="809" stroke="rgba(255,255,255,0.1)" stroke-width="0.35" />
<line x1="377.7" y1="783.1" x2="377.7" y2="809" stroke="rgba(255,255,255,0.1)" stroke-width="0.35" />
<line x1="381.86" y1="783.1" x2="381.86" y2="809" stroke="rgba(255,255,255,0.1)" stroke-width="0.35" />
<line x1="386.02" y1="783.1" x2="386.02" y2="809" stroke="rgba(255,255,255,0.1)" stroke-width="0.35" />
<line x1="390.18" y1="783.1" x2="390.18" y2="809" stroke="rgba(255,255,255,0.1)" stroke-width="0.35" />
<line x1="394.35" y1="783.1" x2="394.35" y2="809" stroke="rgba(255,255,255,0.1)" stroke-width="0.35" />
<line x1="398.51" y1="783.1" x2="398.51" y2="809" stroke="rgba(255,255,255,0.1)" stroke-width="0.35" />
<line x1="402.67" y1="783.1" x2="402.67" y2="809" stroke="rgba(255,255,255,0.1)" stroke-width="0.35" />
<line x1="406.84" y1="783.1" x2="406.84" y2="809" stroke="rgba(255,255,255,0.1)" stroke-width="0.35" />
<line x1="411" y1="783.1" x2="411" y2="809" stroke="rgba(255,255,255,0.1)" stroke-width="0.35" />
<line x1="415.16" y1="783.1" x2="415.16" y2="809" stroke="rgba(255,255,255,0.1)" stroke-width="0.35" />
<line x1="419.33" y1="783.1" x2="419.33" y2="809" stroke="rgba(255,255,255,0.1)" stroke-width="0.35" />
<line x1="423.49" y1="783.1" x2="423.49" y2="809" stroke="rgba(255,255,255,0.1)" stroke-width="0.35" />
<line x1="427.65" y1="783.1" x2="427.65" y2="809" stroke="rgba(255,255,255,0.1)" stroke-width="0.35" />
<line x1="431.81" y1="783.1" x2="431.81" y2="809" stroke="rgba(255,255,255,0.1)" stroke-width="0.35" />
<line x1="435.98" y1="783.1" x2="435.98" y2="809" stroke="rgba(255,255,255,0.1)" stroke-width="0.35" />
<line x1="440.14" y1="783.1" x2="440.14" y2="809" stroke="rgba(255,255,255,0.1)" stroke-width="0.35" />
<line x1="444.3" y1="783.1" x2="444.3" y2="809" stroke="rgba(255,255,255,0.1)" stroke-width="0.35" />
<line x1="448.47" y1="783.1" x2="448.47" y2="809" stroke="rgba(255,255,255,0.1)" stroke-width="0.35" />
<line x1="452.63" y1="783.1" x2="452.63" y2="809" stroke="rgba(255,255,255,0.1)" stroke-width="0.35" />
<line x1="456.79" y1="783.1" x2="456.79" y2="809" stroke="rgba(255,255,255,0.1)" stroke-width="0.35" />
<line x1="460.96" y1="783.1" x2="460.96" y2="809" stroke="rgba(255,255,255,0.1)" stroke-width="0.35" />
<line x1="465.12" y1="783.1" x2="465.12" y2="809" stroke="rgba(255,255,255,0.1)" stroke-width="0.35" />
<line x1="469.28" y1="783.1" x2="469.28" y2="809" stroke="rgba(255,255,255,0.1)" stroke-width="0.35" />
<line x1="473.44" y1="783.1" x2="473.44" y2="809" stroke="rgba(255,255,255,0.1)" stroke-width="0.35" />
<line x1="477.61" y1="783.1" x2="477.61" y2="809" stroke="rgba(255,255,255,0.1)" stroke-width="0.35" />
<line x1="481.77" y1="783.1" x2="481.77" y2="809" stroke="rgba(255,255,255,0.1)" stroke-width="0.35" />
<line x1="485.93" y1="783.1" x2="485.93" y2="809" stroke="rgba(255,255,255,0.1)" stroke-width="0.35" />
<line x1="490.1" y1="783.1" x2="490.1" y2="809" stroke="rgba(255,255,255,0.1)" stroke-width="0.35" />
<line x1="494.26" y1="783.1" x2="494.26" y2="809" stroke="rgba(255,255,255,0.1)" stroke-width="0.35" />
<line x1="498.42" y1="783.1" x2="498.42" y2="809" stroke="rgba(255,255,255,0.1)" stroke-width="0.35" />
<line x1="502.59" y1="783.1" x2="502.59" y2="809" stroke="rgba(255,255,255,0.1)" stroke-width="0.35" />
<line x1="506.75" y1="783.1" x2="506.75" y2="809" stroke="rgba(255,255,255,0.1)" stroke-width="0.35" />
<line x1="510.91" y1="783.1" x2="510.91" y2="809" stroke="rgba(255,255,255,0.1)" stroke-width="0.35" />
<line x1="515.07" y1="783.1" x2="515.07" y2="809" stroke="rgba(255,255,255,0.1)" stroke-width="0.35" />
<line x1="519.24" y1="783.1" x2="519.24" y2="809" stroke="rgba(255,255,255,0.1)" stroke-width="0.35" />
<line x1="523.4" y1="783.1" x2="523.4" y2="809" stroke="rgba(255,255,255,0.1)" stroke-width="0.35" />
<line x1="527.56" y1="783.1" x2="527.56" y2="809" stroke="rgba(255,255,255,0.1)" stroke-width="0.35" />
<rect x="107.1" y="811.9" width="424.63" height="18.2" fill="#d8e5f1" />
<rect x="107.1" y="811.9" width="4.16" height="3.64" fill="#c2d4e6" />
<rect x="111.26" y="811.9" width="4.16" height="3.64" fill="#adc4db" />
<rect x="115.43" y="811.9" width="24.98" height="3.64" fill="#c2d4e6" />
<rect x="140.4" y="811.9" width="4.16" height="3.64" fill="#97b3cf" />
<rect x="144.57" y="811.9" width="8.33" height="3.64" fill="#c2d4e6" />
<rect x="157.06" y="811.9" width="4.16" height="3.64" fill="#c2d4e6" />
<rect x="165.38" y="811.9" width="70.77" height="3.64" fill="#c2d4e6" />
<rect x="240.32" y="811.9" width="16.65" height="3.64" fill="#c2d4e6" />
<rect x="261.13" y="811.9" width="20.82" height="3.64" fill="#c2d4e6" />
<rect x="281.95" y="811.9" width="8.33" height="3.64" fill="#97b3cf" />
<rect x="290.27" y="811.9" width="4.16" height="3.64" fill="#80a2c2" />
<rect x="298.6" y="811.9" width="29.14" height="3.64" fill="#c2d4e6" />
<rect x="327.74" y="811.9" width="4.16" height="3.64" fill="#adc4db" />
<rect x="331.9" y="811.9" width="12.49" height="3.64" fill="#c2d4e6" />
<rect x="344.39" y="811.9" width="4.16" height="3.64" fill="#6b91b5" />
<rect x="352.72" y="811.9" width="12.49" height="3.64" fill="#adc4db" />
<rect x="365.21" y="811.9" width="4.16" height="3.64" fill="#c2d4e6" />
<rect x="369.37" y="811.9" width="4.16" height="3.64" fill="#80a2c2" />
<rect x="373.53" y="811.9" width="12.49" height="3.64" fill="#c2d4e6" />
<rect x="390.18" y="811.9" width="8.33" height="3.64" fill="#c2d4e6" />
<rect x="402.67" y="811.9" width="24.98" height="3.64" fill="#c2d4e6" />
<rect x="427.65" y="811.9" width="4.16" height="3.64" fill="#adc4db" />
<rect x="431.81" y="811.9" width="24.98" height="3.64" fill="#c2d4e6" />
<rect x="460.96" y="811.9" width="4.16" height="3.64" fill="#c2d4e6" />
<rect x="490.1" y="811.9" width="29.14" height="3.64" fill="#c2d4e6" />
<rect x="519.24" y="811.9" width="4.16" height="3.64" fill="#97b3cf" />
<rect x="107.1" y="815.54" width="8.33" height="3.64" fill="#adc4db" />
<rect x="115.43" y="815.54" width="37.47" height="3.64" fill="#c2d4e6" />
<rect x="157.06" y="815.54" width="4.16" height="3.64" fill="#c2d4e6" />
<rect x="165.38" y="815.54" width="91.59" height="3.64" fill="#c2d4e6" />
<rect x="261.13" y="815.54" width="20.82" height="3.64" fill="#c2d4e6" />
<rect x="281.95" y="815.54" width="16.65" height="3.64" fill="#adc4db" />
<rect x="298.6" y="815.54" width="12.49" height="3.64" fill="#c2d4e6" />
<rect x="311.09" y="815.54" width="4.16" height="3.64" fill="#adc4db" />
<rect x="315.25" y="815.54" width="8.33" height="3.64" fill="#c2d4e6" />
<rect x="323.58" y="815.54" width="4.16" height="3.64" fill="#adc4db" />
<rect x="331.9" y="815.54" width="4.16" height="3.64" fill="#c2d4e6" />
<rect x="336.06" y="815.54" width="4.16" height="3.64" fill="#adc4db" />
<rect x="340.23" y="815.54" width="4.16" height="3.64" fill="#c2d4e6" />
<rect x="344.39" y="815.54" width="4.16" height="3.64" fill="#adc4db" />
<rect x="348.55" y="815.54" width="12.49" height="3.64" fill="#c2d4e6" />
<rect x="361.04" y="815.54" width="4.16" height="3.64" fill="#adc4db" />
<rect x="365.21" y="815.54" width="4.16" height="3.64" fill="#c2d4e6" />
<rect x="369.37" y="815.54" width="4.16" height="3.64" fill="#97b3cf" />
<rect x="373.53" y="815.54" width="8.33" height="3.64" fill="#c2d4e6" />
<rect x="386.02" y="815.54" width="4.16" height="3.64" fill="#c2d4e6" />
<rect x="390.18" y="815.54" width="12.49" height="3.64" fill="#adc4db" />
<rect x="402.67" y="815.54" width="4.16" height="3.64" fill="#c2d4e6" />
<rect x="460.96" y="815.54" width="4.16" height="3.64" fill="#c2d4e6" />
<rect x="494.26" y="815.54" width="8.33" height="3.64" fill="#adc4db" />
<rect x="506.75" y="815.54" width="12.49" height="3.64" fill="#adc4db" />
<rect x="107.1" y="819.18" width="4.16" height="3.64" fill="#c2d4e6" />
<rect x="111.26" y="819.18" width="4.16" height="3.64" fill="#adc4db" />
<rect x="115.43" y="819.18" width="37.47" height="3.64" fill="#c2d4e6" />
<rect x="157.06" y="819.18" width="4.16" height="3.64" fill="#c2d4e6" />
<rect x="165.38" y="819.18" width="4.16" height="3.64" fill="#97b3cf" />
<rect x="169.55" y="819.18" width="41.63" height="3.64" fill="#c2d4e6" />
<rect x="211.18" y="819.18" width="4.16" height="3.64" fill="#adc4db" />
<rect x="215.34" y="819.18" width="8.33" height="3.64" fill="#c2d4e6" />
<rect x="223.66" y="819.18" width="4.16" height="3.64" fill="#adc4db" />
<rect x="227.83" y="819.18" width="8.33" height="3.64" fill="#c2d4e6" />
<rect x="236.15" y="819.18" width="4.16" height="3.64" fill="#adc4db" />
<rect x="240.32" y="819.18" width="16.65" height="3.64" fill="#c2d4e6" />
<rect x="261.13" y="819.18" width="29.14" height="3.64" fill="#c2d4e6" />
<rect x="290.27" y="819.18" width="4.16" height="3.64" fill="#adc4db" />
<rect x="298.6" y="819.18" width="24.98" height="3.64" fill="#c2d4e6" />
<rect x="327.74" y="819.18" width="54.12" height="3.64" fill="#c2d4e6" />
<rect x="460.96" y="819.18" width="4.16" height="3.64" fill="#c2d4e6" />
<rect x="494.26" y="819.18" width="8.33" height="3.64" fill="#adc4db" />
<rect x="506.75" y="819.18" width="12.49" height="3.64" fill="#adc4db" />
<rect x="523.4" y="819.18" width="4.16" height="3.64" fill="#adc4db" />
<rect x="111.26" y="822.82" width="4.16" height="3.64" fill="#80a2c2" />
<rect x="115.43" y="822.82" width="20.82" height="3.64" fill="#c2d4e6" />
<rect x="140.4" y="822.82" width="12.49" height="3.64" fill="#c2d4e6" />
<rect x="157.06" y="822.82" width="4.16" height="3.64" fill="#c2d4e6" />
<rect x="169.55" y="822.82" width="8.33" height="3.64" fill="#c2d4e6" />
<rect x="177.87" y="822.82" width="4.16" height="3.64" fill="#97b3cf" />
<rect x="182.03" y="822.82" width="29.14" height="3.64" fill="#c2d4e6" />
<rect x="215.34" y="822.82" width="8.33" height="3.64" fill="#c2d4e6" />
<rect x="227.83" y="822.82" width="8.33" height="3.64" fill="#c2d4e6" />
<rect x="240.32" y="822.82" width="12.49" height="3.64" fill="#adc4db" />
<rect x="261.13" y="822.82" width="8.33" height="3.64" fill="#adc4db" />
<rect x="281.95" y="822.82" width="8.33" height="3.64" fill="#adc4db" />
<rect x="290.27" y="822.82" width="4.16" height="3.64" fill="#97b3cf" />
<rect x="294.44" y="822.82" width="4.16" height="3.64" fill="#c2d4e6" />
<rect x="298.6" y="822.82" width="12.49" height="3.64" fill="#adc4db" />
<rect x="323.58" y="822.82" width="8.33" height="3.64" fill="#adc4db" />
<rect x="365.21" y="822.82" width="12.49" height="3.64" fill="#97b3cf" />
<rect x="490.1" y="822.82" width="4.16" height="3.64" fill="#adc4db" />
<rect x="502.59" y="822.82" width="4.16" height="3.64" fill="#adc4db" />
<rect x="107.1" y="826.46" width="4.16" height="3.64" fill="#c2d4e6" />
<rect x="281.95" y="826.46" width="12.49" height="3.64" fill="#adc4db" />
<rect x="323.58" y="826.46" width="8.33" height="3.64" fill="#c2d4e6" />
<rect x="344.39" y="826.46" width="4.16" height="3.64" fill="#6b91b5" />
<rect x="348.55" y="826.46" width="20.82" height="3.64" fill="#c2d4e6" />
<rect x="369.37" y="826.46" width="4.16" height="3.64" fill="#80a2c2" />
<rect x="460.96" y="826.46" width="4.16" height="3.64" fill="#6b91b5" />
<rect x="506.75" y="826.46" width="12.49" height="3.64" fill="#80a2c2" />
<line x1="111.26" y1="811.9" x2="111.26" y2="830.1" stroke="rgba(255,255,255,0.1)" stroke-width="0.35" />
<line x1="115.43" y1="811.9" x2="115.43" y2="830.1" stroke="rgba(255,255,255,0.1)" stroke-width="0.35" />
<line x1="119.59" y1="811.9" x2="119.59" y2="830.1" stroke="rgba(255,255,255,0.1)" stroke-width="0.35" />
<line x1="123.75" y1="811.9" x2="123.75" y2="830.1" stroke="rgba(255,255,255,0.1)" stroke-width="0.35" />
<line x1="127.91" y1="811.9" x2="127.91" y2="830.1" stroke="rgba(255,255,255,0.1)" stroke-width="0.35" />
<line x1="132.08" y1="811.9" x2="132.08" y2="830.1" stroke="rgba(255,255,255,0.1)" stroke-width="0.35" />
<line x1="136.24" y1="811.9" x2="136.24" y2="830.1" stroke="rgba(255,255,255,0.1)" stroke-width="0.35" />
<line x1="140.4" y1="811.9" x2="140.4" y2="830.1" stroke="rgba(255,255,255,0.1)" stroke-width="0.35" />
<line x1="144.57" y1="811.9" x2="144.57" y2="830.1" stroke="rgba(255,255,255,0.1)" stroke-width="0.35" />
<line x1="148.73" y1="811.9" x2="148.73" y2="830.1" stroke="rgba(255,255,255,0.1)" stroke-width="0.35" />
<line x1="152.89" y1="811.9" x2="152.89" y2="830.1" stroke="rgba(255,255,255,0.1)" stroke-width="0.35" />
<line x1="157.06" y1="811.9" x2="157.06" y2="830.1" stroke="rgba(255,255,255,0.1)" stroke-width="0.35" />
<line x1="161.22" y1="811.9" x2="161.22" y2="830.1" stroke="rgba(255,255,255,0.1)" stroke-width="0.35" />
<line x1="165.38" y1="811.9" x2="165.38" y2="830.1" stroke="rgba(255,255,255,0.1)" stroke-width="0.35" />
<line x1="169.55" y1="811.9" x2="169.55" y2="830.1" stroke="rgba(255,255,255,0.1)" stroke-width="0.35" />
<line x1="173.71" y1="811.9" x2="173.71" y2="830.1" stroke="rgba(255,255,255,0.1)" stroke-width="0.35" />
<line x1="177.87" y1="811.9" x2="177.87" y2="830.1" stroke="rgba(255,255,255,0.1)" stroke-width="0.35" />
<line x1="182.03" y1="811.9" x2="182.03" y2="830.1" stroke="rgba(255,255,255,0.1)" stroke-width="0.35" />
<line x1="186.2" y1="811.9" x2="186.2" y2="830.1" stroke="rgba(255,255,255,0.1)" stroke-width="0.35" />
<line x1="190.36" y1="811.9" x2="190.36" y2="830.1" stroke="rgba(255,255,255,0.1)" stroke-width="0.35" />
<line x1="194.52" y1="811.9" x2="194.52" y2="830.1" stroke="rgba(255,255,255,0.1)" stroke-width="0.35" />
<line x1="198.69" y1="811.9" x2="198.69" y2="830.1" stroke="rgba(255,255,255,0.1)" stroke-width="0.35" />
<line x1="202.85" y1="811.9" x2="202.85" y2="830.1" stroke="rgba(255,255,255,0.1)" stroke-width="0.35" />
<line x1="207.01" y1="811.9" x2="207.01" y2="830.1" stroke="rgba(255,255,255,0.1)" stroke-width="0.35" />
<line x1="211.18" y1="811.9" x2="211.18" y2="830.1" stroke="rgba(255,255,255,0.1)" stroke-width="0.35" />
<line x1="215.34" y1="811.9" x2="215.34" y2="830.1" stroke="rgba(255,255,255,0.1)" stroke-width="0.35" />
<line x1="219.5" y1="811.9" x2="219.5" y2="830.1" stroke="rgba(255,255,255,0.1)" stroke-width="0.35" />
<line x1="223.66" y1="811.9" x2="223.66" y2="830.1" stroke="rgba(255,255,255,0.1)" stroke-width="0.35" />
<line x1="227.83" y1="811.9" x2="227.83" y2="830.1" stroke="rgba(255,255,255,0.1)" stroke-width="0.35" />
<line x1="231.99" y1="811.9" x2="231.99" y2="830.1" stroke="rgba(255,255,255,0.1)" stroke-width="0.35" />
<line x1="236.15" y1="811.9" x2="236.15" y2="830.1" stroke="rgba(255,255,255,0.1)" stroke-width="0.35" />
<line x1="240.32" y1="811.9" x2="240.32" y2="830.1" stroke="rgba(255,255,255,0.1)" stroke-width="0.35" />
<line x1="244.48" y1="811.9" x2="244.48" y2="830.1" stroke="rgba(255,255,255,0.1)" stroke-width="0.35" />
<line x1="248.64" y1="811.9" x2="248.64" y2="830.1" stroke="rgba(255,255,255,0.1)" stroke-width="0.35" />
<line x1="252.81" y1="811.9" x2="252.81" y2="830.1" stroke="rgba(255,255,255,0.1)" stroke-width="0.35" />
<line x1="256.97" y1="811.9" x2="256.97" y2="830.1" stroke="rgba(255,255,255,0.1)" stroke-width="0.35" />
<line x1="261.13" y1="811.9" x2="261.13" y2="830.1" stroke="rgba(255,255,255,0.1)" stroke-width="0.35" />
<line x1="265.29" y1="811.9" x2="265.29" y2="830.1" stroke="rgba(255,255,255,0.1)" stroke-width="0.35" />
<line x1="269.46" y1="811.9" x2="269.46" y2="830.1" stroke="rgba(255,255,255,0.1)" stroke-width="0.35" />
<line x1="273.62" y1="811.9" x2="273.62" y2="830.1" stroke="rgba(255,255,255,0.1)" stroke-width="0.35" />
<line x1="277.78" y1="811.9" x2="277.78" y2="830.1" stroke="rgba(255,255,255,0.1)" stroke-width="0.35" />
<line x1="281.95" y1="811.9" x2="281.95" y2="830.1" stroke="rgba(255,255,255,0.1)" stroke-width="0.35" />
<line x1="286.11" y1="811.9" x2="286.11" y2="830.1" stroke="rgba(255,255,255,0.1)" stroke-width="0.35" />
<line x1="290.27" y1="811.9" x2="290.27" y2="830.1" stroke="rgba(255,255,255,0.1)" stroke-width="0.35" />
<line x1="294.44" y1="811.9" x2="294.44" y2="830.1" stroke="rgba(255,255,255,0.1)" stroke-width="0.35" />
<line x1="298.6" y1="811.9" x2="298.6" y2="830.1" stroke="rgba(255,255,255,0.1)" stroke-width="0.35" />
<line x1="302.76" y1="811.9" x2="302.76" y2="830.1" stroke="rgba(255,255,255,0.1)" stroke-width="0.35" />
<line x1="306.92" y1="811.9" x2="306.92" y2="830.1" stroke="rgba(255,255,255,0.1)" stroke-width="0.35" />
<line x1="311.09" y1="811.9" x2="311.09" y2="830.1" stroke="rgba(255,255,255,0.1)" stroke-width="0.35" />
<line x1="315.25" y1="811.9" x2="315.25" y2="830.1" stroke="rgba(255,255,255,0.1)" stroke-width="0.35" />
<line x1="319.41" y1="811.9" x2="319.41" y2="830.1" stroke="rgba(255,255,255,0.1)" stroke-width="0.35" />
<line x1="323.58" y1="811.9" x2="323.58" y2="830.1" stroke="rgba(255,255,255,0.1)" stroke-width="0.35" />
<line x1="327.74" y1="811.9" x2="327.74" y2="830.1" stroke="rgba(255,255,255,0.1)" stroke-width="0.35" />
<line x1="331.9" y1="811.9" x2="331.9" y2="830.1" stroke="rgba(255,255,255,0.1)" stroke-width="0.35" />
<line x1="336.06" y1="811.9" x2="336.06" y2="830.1" stroke="rgba(255,255,255,0.1)" stroke-width="0.35" />
<line x1="340.23" y1="811.9" x2="340.23" y2="830.1" stroke="rgba(255,255,255,0.1)" stroke-width="0.35" />
<line x1="344.39" y1="811.9" x2="344.39" y2="830.1" stroke="rgba(255,255,255,0.1)" stroke-width="0.35" />
<line x1="348.55" y1="811.9" x2="348.55" y2="830.1" stroke="rgba(255,255,255,0.1)" stroke-width="0.35" />
<line x1="352.72" y1="811.9" x2="352.72" y2="830.1" stroke="rgba(255,255,255,0.1)" stroke-width="0.35" />
<line x1="356.88" y1="811.9" x2="356.88" y2="830.1" stroke="rgba(255,255,255,0.1)" stroke-width="0.35" />
<line x1="361.04" y1="811.9" x2="361.04" y2="830.1" stroke="rgba(255,255,255,0.1)" stroke-width="0.35" />
<line x1="365.21" y1="811.9" x2="365.21" y2="830.1" stroke="rgba(255,255,255,0.1)" stroke-width="0.35" />
<line x1="369.37" y1="811.9" x2="369.37" y2="830.1" stroke="rgba(255,255,255,0.1)" stroke-width="0.35" />
<line x1="373.53" y1="811.9" x2="373.53" y2="830.1" stroke="rgba(255,255,255,0.1)" stroke-width="0.35" />
<line x1="377.7" y1="811.9" x2="377.7" y2="830.1" stroke="rgba(255,255,255,0.1)" stroke-width="0.35" />
<line x1="381.86" y1="811.9" x2="381.86" y2="830.1" stroke="rgba(255,255,255,0.1)" stroke-width="0.35" />
<line x1="386.02" y1="811.9" x2="386.02" y2="830.1" stroke="rgba(255,255,255,0.1)" stroke-width="0.35" />
<line x1="390.18" y1="811.9" x2="390.18" y2="830.1" stroke="rgba(255,255,255,0.1)" stroke-width="0.35" />
<line x1="394.35" y1="811.9" x2="394.35" y2="830.1" stroke="rgba(255,255,255,0.1)" stroke-width="0.35" />
<line x1="398.51" y1="811.9" x2="398.51" y2="830.1" stroke="rgba(255,255,255,0.1)" stroke-width="0.35" />
<line x1="402.67" y1="811.9" x2="402.67" y2="830.1" stroke="rgba(255,255,255,0.1)" stroke-width="0.35" />
<line x1="406.84" y1="811.9" x2="406.84" y2="830.1" stroke="rgba(255,255,255,0.1)" stroke-width="0.35" />
<line x1="411" y1="811.9" x2="411" y2="830.1" stroke="rgba(255,255,255,0.1)" stroke-width="0.35" />
<line x1="415.16" y1="811.9" x2="415.16" y2="830.1" stroke="rgba(255,255,255,0.1)" stroke-width="0.35" />
<line x1="419.33" y1="811.9" x2="419.33" y2="830.1" stroke="rgba(255,255,255,0.1)" stroke-width="0.35" />
<line x1="423.49" y1="811.9" x2="423.49" y2="830.1" stroke="rgba(255,255,255,0.1)" stroke-width="0.35" />
<line x1="427.65" y1="811.9" x2="427.65" y2="830.1" stroke="rgba(255,255,255,0.1)" stroke-width="0.35" />
<line x1="431.81" y1="811.9" x2="431.81" y2="830.1" stroke="rgba(255,255,255,0.1)" stroke-width="0.35" />
<line x1="435.98" y1="811.9" x2="435.98" y2="830.1" stroke="rgba(255,255,255,0.1)" stroke-width="0.35" />
<line x1="440.14" y1="811.9" x2="440.14" y2="830.1" stroke="rgba(255,255,255,0.1)" stroke-width="0.35" />
<line x1="444.3" y1="811.9" x2="444.3" y2="830.1" stroke="rgba(255,255,255,0.1)" stroke-width="0.35" />
<line x1="448.47" y1="811.9" x2="448.47" y2="830.1" stroke="rgba(255,255,255,0.1)" stroke-width="0.35" />
<line x1="452.63" y1="811.9" x2="452.63" y2="830.1" stroke="rgba(255,255,255,0.1)" stroke-width="0.35" />
<line x1="456.79" y1="811.9" x2="456.79" y2="830.1" stroke="rgba(255,255,255,0.1)" stroke-width="0.35" />
<line x1="460.96" y1="811.9" x2="460.96" y2="830.1" stroke="rgba(255,255,255,0.1)" stroke-width="0.35" />
<line x1="465.12" y1="811.9" x2="465.12" y2="830.1" stroke="rgba(255,255,255,0.1)" stroke-width="0.35" />
<line x1="469.28" y1="811.9" x2="469.28" y2="830.1" stroke="rgba(255,255,255,0.1)" stroke-width="0.35" />
<line x1="473.44" y1="811.9" x2="473.44" y2="830.1" stroke="rgba(255,255,255,0.1)" stroke-width="0.35" />
<line x1="477.61" y1="811.9" x2="477.61" y2="830.1" stroke="rgba(255,255,255,0.1)" stroke-width="0.35" />
<line x1="481.77" y1="811.9" x2="481.77" y2="830.1" stroke="rgba(255,255,255,0.1)" stroke-width="0.35" />
<line x1="485.93" y1="811.9" x2="485.93" y2="830.1" stroke="rgba(255,255,255,0.1)" stroke-width="0.35" />
<line x1="490.1" y1="811.9" x2="490.1" y2="830.1" stroke="rgba(255,255,255,0.1)" stroke-width="0.35" />
<line x1="494.26" y1="811.9" x2="494.26" y2="830.1" stroke="rgba(255,255,255,0.1)" stroke-width="0.35" />
<line x1="498.42" y1="811.9" x2="498.42" y2="830.1" stroke="rgba(255,255,255,0.1)" stroke-width="0.35" />
<line x1="502.59" y1="811.9" x2="502.59" y2="830.1" stroke="rgba(255,255,255,0.1)" stroke-width="0.35" />
<line x1="506.75" y1="811.9" x2="506.75" y2="830.1" stroke="rgba(255,255,255,0.1)" stroke-width="0.35" />
<line x1="510.91" y1="811.9" x2="510.91" y2="830.1" stroke="rgba(255,255,255,0.1)" stroke-width="0.35" />
<line x1="515.07" y1="811.9" x2="515.07" y2="830.1" stroke="rgba(255,255,255,0.1)" stroke-width="0.35" />
<line x1="519.24" y1="811.9" x2="519.24" y2="830.1" stroke="rgba(255,255,255,0.1)" stroke-width="0.35" />
<line x1="523.4" y1="811.9" x2="523.4" y2="830.1" stroke="rgba(255,255,255,0.1)" stroke-width="0.35" />
<line x1="527.56" y1="811.9" x2="527.56" y2="830.1" stroke="rgba(255,255,255,0.1)" stroke-width="0.35" />
<rect x="107.1" y="833" width="424.63" height="33.1" fill="#d8e5f1" />
<rect x="107.1" y="833" width="4.16" height="3.68" fill="#c2d4e6" />
<rect x="111.26" y="833" width="4.16" height="3.68" fill="#adc4db" />
<rect x="115.43" y="833" width="20.82" height="3.68" fill="#c2d4e6" />
<rect x="136.24" y="833" width="4.16" height="3.68" fill="#adc4db" />
<rect x="140.4" y="833" width="112.4" height="3.68" fill="#c2d4e6" />
<rect x="261.13" y="833" width="20.82" height="3.68" fill="#c2d4e6" />
<rect x="281.95" y="833" width="8.33" height="3.68" fill="#adc4db" />
<rect x="294.44" y="833" width="12.49" height="3.68" fill="#c2d4e6" />
<rect x="306.92" y="833" width="4.16" height="3.68" fill="#97b3cf" />
<rect x="311.09" y="833" width="12.49" height="3.68" fill="#c2d4e6" />
<rect x="323.58" y="833" width="4.16" height="3.68" fill="#adc4db" />
<rect x="327.74" y="833" width="4.16" height="3.68" fill="#97b3cf" />
<rect x="331.9" y="833" width="4.16" height="3.68" fill="#adc4db" />
<rect x="336.06" y="833" width="24.98" height="3.68" fill="#c2d4e6" />
<rect x="365.21" y="833" width="8.33" height="3.68" fill="#adc4db" />
<rect x="373.53" y="833" width="4.16" height="3.68" fill="#c2d4e6" />
<rect x="377.7" y="833" width="4.16" height="3.68" fill="#97b3cf" />
<rect x="381.86" y="833" width="20.82" height="3.68" fill="#adc4db" />
<rect x="402.67" y="833" width="29.14" height="3.68" fill="#c2d4e6" />
<rect x="431.81" y="833" width="4.16" height="3.68" fill="#97b3cf" />
<rect x="435.98" y="833" width="8.33" height="3.68" fill="#adc4db" />
<rect x="444.3" y="833" width="20.82" height="3.68" fill="#c2d4e6" />
<rect x="465.12" y="833" width="29.14" height="3.68" fill="#adc4db" />
<rect x="494.26" y="833" width="4.16" height="3.68" fill="#c2d4e6" />
<rect x="502.59" y="833" width="4.16" height="3.68" fill="#c2d4e6" />
<rect x="506.75" y="833" width="24.98" height="3.68" fill="#adc4db" />
<rect x="119.59" y="836.68" width="16.65" height="3.68" fill="#adc4db" />
<rect x="152.89" y="836.68" width="4.16" height="3.68" fill="#6b91b5" />
<rect x="157.06" y="836.68" width="12.49" height="3.68" fill="#adc4db" />
<rect x="211.18" y="836.68" width="4.16" height="3.68" fill="#c2d4e6" />
<rect x="223.66" y="836.68" width="4.16" height="3.68" fill="#c2d4e6" />
<rect x="236.15" y="836.68" width="4.16" height="3.68" fill="#c2d4e6" />
<rect x="281.95" y="836.68" width="8.33" height="3.68" fill="#6b91b5" />
<rect x="290.27" y="836.68" width="4.16" height="3.68" fill="#97b3cf" />
<rect x="306.92" y="836.68" width="4.16" height="3.68" fill="#adc4db" />
<rect x="319.41" y="836.68" width="4.16" height="3.68" fill="#adc4db" />
<rect x="331.9" y="836.68" width="4.16" height="3.68" fill="#c2d4e6" />
<rect x="365.21" y="836.68" width="4.16" height="3.68" fill="#adc4db" />
<rect x="369.37" y="836.68" width="4.16" height="3.68" fill="#80a2c2" />
<rect x="373.53" y="836.68" width="4.16" height="3.68" fill="#adc4db" />
<rect x="377.7" y="836.68" width="4.16" height="3.68" fill="#c2d4e6" />
<rect x="386.02" y="836.68" width="12.49" height="3.68" fill="#adc4db" />
<rect x="440.14" y="836.68" width="4.16" height="3.68" fill="#c2d4e6" />
<rect x="456.79" y="836.68" width="4.16" height="3.68" fill="#adc4db" />
<rect x="465.12" y="836.68" width="4.16" height="3.68" fill="#97b3cf" />
<rect x="510.91" y="836.68" width="12.49" height="3.68" fill="#97b3cf" />
<rect x="256.97" y="840.36" width="4.16" height="3.68" fill="#adc4db" />
<rect x="286.11" y="840.36" width="8.33" height="3.68" fill="#97b3cf" />
<rect x="319.41" y="840.36" width="4.16" height="3.68" fill="#adc4db" />
<rect x="344.39" y="840.36" width="4.16" height="3.68" fill="#adc4db" />
<rect x="365.21" y="840.36" width="4.16" height="3.68" fill="#97b3cf" />
<rect x="373.53" y="840.36" width="4.16" height="3.68" fill="#97b3cf" />
<rect x="377.7" y="840.36" width="4.16" height="3.68" fill="#adc4db" />
<rect x="411" y="840.36" width="4.16" height="3.68" fill="#adc4db" />
<rect x="415.16" y="840.36" width="4.16" height="3.68" fill="#97b3cf" />
<rect x="419.33" y="840.36" width="16.65" height="3.68" fill="#adc4db" />
<rect x="435.98" y="840.36" width="4.16" height="3.68" fill="#97b3cf" />
<rect x="456.79" y="840.36" width="4.16" height="3.68" fill="#adc4db" />
<rect x="465.12" y="840.36" width="4.16" height="3.68" fill="#adc4db" />
<rect x="510.91" y="840.36" width="12.49" height="3.68" fill="#adc4db" />
<rect x="527.56" y="840.36" width="4.16" height="3.68" fill="#adc4db" />
<rect x="240.32" y="844.03" width="16.65" height="3.68" fill="#97b3cf" />
<rect x="261.13" y="844.03" width="20.82" height="3.68" fill="#97b3cf" />
<rect x="298.6" y="844.03" width="8.33" height="3.68" fill="#97b3cf" />
<rect x="311.09" y="844.03" width="8.33" height="3.68" fill="#adc4db" />
<rect x="327.74" y="844.03" width="4.16" height="3.68" fill="#97b3cf" />
<rect x="340.23" y="844.03" width="8.33" height="3.68" fill="#97b3cf" />
<rect x="365.21" y="844.03" width="4.16" height="3.68" fill="#97b3cf" />
<rect x="373.53" y="844.03" width="4.16" height="3.68" fill="#97b3cf" />
<rect x="161.22" y="847.71" width="4.16" height="3.68" fill="#adc4db" />
<rect x="240.32" y="847.71" width="16.65" height="3.68" fill="#adc4db" />
<rect x="261.13" y="847.71" width="20.82" height="3.68" fill="#adc4db" />
<rect x="298.6" y="847.71" width="8.33" height="3.68" fill="#adc4db" />
<rect x="306.92" y="847.71" width="4.16" height="3.68" fill="#80a2c2" />
<rect x="311.09" y="847.71" width="8.33" height="3.68" fill="#adc4db" />
<rect x="336.06" y="847.71" width="8.33" height="3.68" fill="#adc4db" />
<rect x="344.39" y="847.71" width="4.16" height="3.68" fill="#97b3cf" />
<rect x="369.37" y="847.71" width="4.16" height="3.68" fill="#adc4db" />
<rect x="460.96" y="847.71" width="4.16" height="3.68" fill="#adc4db" />
<rect x="498.42" y="847.71" width="4.16" height="3.68" fill="#adc4db" />
<rect x="107.1" y="851.39" width="4.16" height="3.68" fill="#adc4db" />
<rect x="111.26" y="851.39" width="4.16" height="3.68" fill="#97b3cf" />
<rect x="115.43" y="851.39" width="4.16" height="3.68" fill="#adc4db" />
<rect x="136.24" y="851.39" width="4.16" height="3.68" fill="#adc4db" />
<rect x="148.73" y="851.39" width="4.16" height="3.68" fill="#adc4db" />
<rect x="348.55" y="851.39" width="16.65" height="3.68" fill="#adc4db" />
<rect x="381.86" y="851.39" width="4.16" height="3.68" fill="#adc4db" />
<rect x="402.67" y="851.39" width="8.33" height="3.68" fill="#adc4db" />
<rect x="460.96" y="851.39" width="16.65" height="3.68" fill="#adc4db" />
<rect x="494.26" y="851.39" width="4.16" height="3.68" fill="#adc4db" />
<rect x="506.75" y="851.39" width="4.16" height="3.68" fill="#adc4db" />
<rect x="107.1" y="855.07" width="4.16" height="3.68" fill="#97b3cf" />
<rect x="281.95" y="855.07" width="8.33" height="3.68" fill="#adc4db" />
<rect x="290.27" y="855.07" width="4.16" height="3.68" fill="#80a2c2" />
<rect x="465.12" y="855.07" width="4.16" height="3.68" fill="#adc4db" />
<rect x="510.91" y="855.07" width="8.33" height="3.68" fill="#5880a8" />
<rect x="519.24" y="855.07" width="4.16" height="3.68" fill="#adc4db" />
<rect x="140.4" y="858.74" width="8.33" height="3.68" fill="#adc4db" />
<rect x="169.55" y="858.74" width="41.63" height="3.68" fill="#adc4db" />
<rect x="215.34" y="858.74" width="8.33" height="3.68" fill="#adc4db" />
<rect x="227.83" y="858.74" width="8.33" height="3.68" fill="#adc4db" />
<rect x="107.1" y="862.42" width="4.16" height="3.68" fill="#adc4db" />
<rect x="173.71" y="862.42" width="8.33" height="3.68" fill="#adc4db" />
<rect x="186.2" y="862.42" width="4.16" height="3.68" fill="#adc4db" />
<rect x="194.52" y="862.42" width="4.16" height="3.68" fill="#adc4db" />
<rect x="231.99" y="862.42" width="4.16" height="3.68" fill="#adc4db" />
<rect x="244.48" y="862.42" width="12.49" height="3.68" fill="#adc4db" />
<rect x="261.13" y="862.42" width="8.33" height="3.68" fill="#adc4db" />
<rect x="281.95" y="862.42" width="8.33" height="3.68" fill="#adc4db" />
<rect x="298.6" y="862.42" width="8.33" height="3.68" fill="#adc4db" />
<rect x="336.06" y="862.42" width="4.16" height="3.68" fill="#adc4db" />
<rect x="344.39" y="862.42" width="4.16" height="3.68" fill="#97b3cf" />
<rect x="394.35" y="862.42" width="4.16" height="3.68" fill="#adc4db" />
<rect x="465.12" y="862.42" width="4.16" height="3.68" fill="#adc4db" />
<rect x="502.59" y="862.42" width="20.82" height="3.68" fill="#adc4db" />
<line x1="111.26" y1="833" x2="111.26" y2="866.1" stroke="rgba(255,255,255,0.1)" stroke-width="0.35" />
<line x1="115.43" y1="833" x2="115.43" y2="866.1" stroke="rgba(255,255,255,0.1)" stroke-width="0.35" />
<line x1="119.59" y1="833" x2="119.59" y2="866.1" stroke="rgba(255,255,255,0.1)" stroke-width="0.35" />
<line x1="123.75" y1="833" x2="123.75" y2="866.1" stroke="rgba(255,255,255,0.1)" stroke-width="0.35" />
<line x1="127.91" y1="833" x2="127.91" y2="866.1" stroke="rgba(255,255,255,0.1)" stroke-width="0.35" />
<line x1="132.08" y1="833" x2="132.08" y2="866.1" stroke="rgba(255,255,255,0.1)" stroke-width="0.35" />
<line x1="136.24" y1="833" x2="136.24" y2="866.1" stroke="rgba(255,255,255,0.1)" stroke-width="0.35" />
<line x1="140.4" y1="833" x2="140.4" y2="866.1" stroke="rgba(255,255,255,0.1)" stroke-width="0.35" />
<line x1="144.57" y1="833" x2="144.57" y2="866.1" stroke="rgba(255,255,255,0.1)" stroke-width="0.35" />
<line x1="148.73" y1="833" x2="148.73" y2="866.1" stroke="rgba(255,255,255,0.1)" stroke-width="0.35" />
<line x1="152.89" y1="833" x2="152.89" y2="866.1" stroke="rgba(255,255,255,0.1)" stroke-width="0.35" />
<line x1="157.06" y1="833" x2="157.06" y2="866.1" stroke="rgba(255,255,255,0.1)" stroke-width="0.35" />
<line x1="161.22" y1="833" x2="161.22" y2="866.1" stroke="rgba(255,255,255,0.1)" stroke-width="0.35" />
<line x1="165.38" y1="833" x2="165.38" y2="866.1" stroke="rgba(255,255,255,0.1)" stroke-width="0.35" />
<line x1="169.55" y1="833" x2="169.55" y2="866.1" stroke="rgba(255,255,255,0.1)" stroke-width="0.35" />
<line x1="173.71" y1="833" x2="173.71" y2="866.1" stroke="rgba(255,255,255,0.1)" stroke-width="0.35" />
<line x1="177.87" y1="833" x2="177.87" y2="866.1" stroke="rgba(255,255,255,0.1)" stroke-width="0.35" />
<line x1="182.03" y1="833" x2="182.03" y2="866.1" stroke="rgba(255,255,255,0.1)" stroke-width="0.35" />
<line x1="186.2" y1="833" x2="186.2" y2="866.1" stroke="rgba(255,255,255,0.1)" stroke-width="0.35" />
<line x1="190.36" y1="833" x2="190.36" y2="866.1" stroke="rgba(255,255,255,0.1)" stroke-width="0.35" />
<line x1="194.52" y1="833" x2="194.52" y2="866.1" stroke="rgba(255,255,255,0.1)" stroke-width="0.35" />
<line x1="198.69" y1="833" x2="198.69" y2="866.1" stroke="rgba(255,255,255,0.1)" stroke-width="0.35" />
<line x1="202.85" y1="833" x2="202.85" y2="866.1" stroke="rgba(255,255,255,0.1)" stroke-width="0.35" />
<line x1="207.01" y1="833" x2="207.01" y2="866.1" stroke="rgba(255,255,255,0.1)" stroke-width="0.35" />
<line x1="211.18" y1="833" x2="211.18" y2="866.1" stroke="rgba(255,255,255,0.1)" stroke-width="0.35" />
<line x1="215.34" y1="833" x2="215.34" y2="866.1" stroke="rgba(255,255,255,0.1)" stroke-width="0.35" />
<line x1="219.5" y1="833" x2="219.5" y2="866.1" stroke="rgba(255,255,255,0.1)" stroke-width="0.35" />
<line x1="223.66" y1="833" x2="223.66" y2="866.1" stroke="rgba(255,255,255,0.1)" stroke-width="0.35" />
<line x1="227.83" y1="833" x2="227.83" y2="866.1" stroke="rgba(255,255,255,0.1)" stroke-width="0.35" />
<line x1="231.99" y1="833" x2="231.99" y2="866.1" stroke="rgba(255,255,255,0.1)" stroke-width="0.35" />
<line x1="236.15" y1="833" x2="236.15" y2="866.1" stroke="rgba(255,255,255,0.1)" stroke-width="0.35" />
<line x1="240.32" y1="833" x2="240.32" y2="866.1" stroke="rgba(255,255,255,0.1)" stroke-width="0.35" />
<line x1="244.48" y1="833" x2="244.48" y2="866.1" stroke="rgba(255,255,255,0.1)" stroke-width="0.35" />
<line x1="248.64" y1="833" x2="248.64" y2="866.1" stroke="rgba(255,255,255,0.1)" stroke-width="0.35" />
<line x1="252.81" y1="833" x2="252.81" y2="866.1" stroke="rgba(255,255,255,0.1)" stroke-width="0.35" />
<line x1="256.97" y1="833" x2="256.97" y2="866.1" stroke="rgba(255,255,255,0.1)" stroke-width="0.35" />
<line x1="261.13" y1="833" x2="261.13" y2="866.1" stroke="rgba(255,255,255,0.1)" stroke-width="0.35" />
<line x1="265.29" y1="833" x2="265.29" y2="866.1" stroke="rgba(255,255,255,0.1)" stroke-width="0.35" />
<line x1="269.46" y1="833" x2="269.46" y2="866.1" stroke="rgba(255,255,255,0.1)" stroke-width="0.35" />
<line x1="273.62" y1="833" x2="273.62" y2="866.1" stroke="rgba(255,255,255,0.1)" stroke-width="0.35" />
<line x1="277.78" y1="833" x2="277.78" y2="866.1" stroke="rgba(255,255,255,0.1)" stroke-width="0.35" />
<line x1="281.95" y1="833" x2="281.95" y2="866.1" stroke="rgba(255,255,255,0.1)" stroke-width="0.35" />
<line x1="286.11" y1="833" x2="286.11" y2="866.1" stroke="rgba(255,255,255,0.1)" stroke-width="0.35" />
<line x1="290.27" y1="833" x2="290.27" y2="866.1" stroke="rgba(255,255,255,0.1)" stroke-width="0.35" />
<line x1="294.44" y1="833" x2="294.44" y2="866.1" stroke="rgba(255,255,255,0.1)" stroke-width="0.35" />
<line x1="298.6" y1="833" x2="298.6" y2="866.1" stroke="rgba(255,255,255,0.1)" stroke-width="0.35" />
<line x1="302.76" y1="833" x2="302.76" y2="866.1" stroke="rgba(255,255,255,0.1)" stroke-width="0.35" />
<line x1="306.92" y1="833" x2="306.92" y2="866.1" stroke="rgba(255,255,255,0.1)" stroke-width="0.35" />
<line x1="311.09" y1="833" x2="311.09" y2="866.1" stroke="rgba(255,255,255,0.1)" stroke-width="0.35" />
<line x1="315.25" y1="833" x2="315.25" y2="866.1" stroke="rgba(255,255,255,0.1)" stroke-width="0.35" />
<line x1="319.41" y1="833" x2="319.41" y2="866.1" stroke="rgba(255,255,255,0.1)" stroke-width="0.35" />
<line x1="323.58" y1="833" x2="323.58" y2="866.1" stroke="rgba(255,255,255,0.1)" stroke-width="0.35" />
<line x1="327.74" y1="833" x2="327.74" y2="866.1" stroke="rgba(255,255,255,0.1)" stroke-width="0.35" />
<line x1="331.9" y1="833" x2="331.9" y2="866.1" stroke="rgba(255,255,255,0.1)" stroke-width="0.35" />
<line x1="336.06" y1="833" x2="336.06" y2="866.1" stroke="rgba(255,255,255,0.1)" stroke-width="0.35" />
<line x1="340.23" y1="833" x2="340.23" y2="866.1" stroke="rgba(255,255,255,0.1)" stroke-width="0.35" />
<line x1="344.39" y1="833" x2="344.39" y2="866.1" stroke="rgba(255,255,255,0.1)" stroke-width="0.35" />
<line x1="348.55" y1="833" x2="348.55" y2="866.1" stroke="rgba(255,255,255,0.1)" stroke-width="0.35" />
<line x1="352.72" y1="833" x2="352.72" y2="866.1" stroke="rgba(255,255,255,0.1)" stroke-width="0.35" />
<line x1="356.88" y1="833" x2="356.88" y2="866.1" stroke="rgba(255,255,255,0.1)" stroke-width="0.35" />
<line x1="361.04" y1="833" x2="361.04" y2="866.1" stroke="rgba(255,255,255,0.1)" stroke-width="0.35" />
<line x1="365.21" y1="833" x2="365.21" y2="866.1" stroke="rgba(255,255,255,0.1)" stroke-width="0.35" />
<line x1="369.37" y1="833" x2="369.37" y2="866.1" stroke="rgba(255,255,255,0.1)" stroke-width="0.35" />
<line x1="373.53" y1="833" x2="373.53" y2="866.1" stroke="rgba(255,255,255,0.1)" stroke-width="0.35" />
<line x1="377.7" y1="833" x2="377.7" y2="866.1" stroke="rgba(255,255,255,0.1)" stroke-width="0.35" />
<line x1="381.86" y1="833" x2="381.86" y2="866.1" stroke="rgba(255,255,255,0.1)" stroke-width="0.35" />
<line x1="386.02" y1="833" x2="386.02" y2="866.1" stroke="rgba(255,255,255,0.1)" stroke-width="0.35" />
<line x1="390.18" y1="833" x2="390.18" y2="866.1" stroke="rgba(255,255,255,0.1)" stroke-width="0.35" />
<line x1="394.35" y1="833" x2="394.35" y2="866.1" stroke="rgba(255,255,255,0.1)" stroke-width="0.35" />
<line x1="398.51" y1="833" x2="398.51" y2="866.1" stroke="rgba(255,255,255,0.1)" stroke-width="0.35" />
<line x1="402.67" y1="833" x2="402.67" y2="866.1" stroke="rgba(255,255,255,0.1)" stroke-width="0.35" />
<line x1="406.84" y1="833" x2="406.84" y2="866.1" stroke="rgba(255,255,255,0.1)" stroke-width="0.35" />
<line x1="411" y1="833" x2="411" y2="866.1" stroke="rgba(255,255,255,0.1)" stroke-width="0.35" />
<line x1="415.16" y1="833" x2="415.16" y2="866.1" stroke="rgba(255,255,255,0.1)" stroke-width="0.35" />
<line x1="419.33" y1="833" x2="419.33" y2="866.1" stroke="rgba(255,255,255,0.1)" stroke-width="0.35" />
<line x1="423.49" y1="833" x2="423.49" y2="866.1" stroke="rgba(255,255,255,0.1)" stroke-width="0.35" />
<line x1="427.65" y1="833" x2="427.65" y2="866.1" stroke="rgba(255,255,255,0.1)" stroke-width="0.35" />
<line x1="431.81" y1="833" x2="431.81" y2="866.1" stroke="rgba(255,255,255,0.1)" stroke-width="0.35" />
<line x1="435.98" y1="833" x2="435.98" y2="866.1" stroke="rgba(255,255,255,0.1)" stroke-width="0.35" />
<line x1="440.14" y1="833" x2="440.14" y2="866.1" stroke="rgba(255,255,255,0.1)" stroke-width="0.35" />
<line x1="444.3" y1="833" x2="444.3" y2="866.1" stroke="rgba(255,255,255,0.1)" stroke-width="0.35" />
<line x1="448.47" y1="833" x2="448.47" y2="866.1" stroke="rgba(255,255,255,0.1)" stroke-width="0.35" />
<line x1="452.63" y1="833" x2="452.63" y2="866.1" stroke="rgba(255,255,255,0.1)" stroke-width="0.35" />
<line x1="456.79" y1="833" x2="456.79" y2="866.1" stroke="rgba(255,255,255,0.1)" stroke-width="0.35" />
<line x1="460.96" y1="833" x2="460.96" y2="866.1" stroke="rgba(255,255,255,0.1)" stroke-width="0.35" />
<line x1="465.12" y1="833" x2="465.12" y2="866.1" stroke="rgba(255,255,255,0.1)" stroke-width="0.35" />
<line x1="469.28" y1="833" x2="469.28" y2="866.1" stroke="rgba(255,255,255,0.1)" stroke-width="0.35" />
<line x1="473.44" y1="833" x2="473.44" y2="866.1" stroke="rgba(255,255,255,0.1)" stroke-width="0.35" />
<line x1="477.61" y1="833" x2="477.61" y2="866.1" stroke="rgba(255,255,255,0.1)" stroke-width="0.35" />
<line x1="481.77" y1="833" x2="481.77" y2="866.1" stroke="rgba(255,255,255,0.1)" stroke-width="0.35" />
<line x1="485.93" y1="833" x2="485.93" y2="866.1" stroke="rgba(255,255,255,0.1)" stroke-width="0.35" />
<line x1="490.1" y1="833" x2="490.1" y2="866.1" stroke="rgba(255,255,255,0.1)" stroke-width="0.35" />
<line x1="494.26" y1="833" x2="494.26" y2="866.1" stroke="rgba(255,255,255,0.1)" stroke-width="0.35" />
<line x1="498.42" y1="833" x2="498.42" y2="866.1" stroke="rgba(255,255,255,0.1)" stroke-width="0.35" />
<line x1="502.59" y1="833" x2="502.59" y2="866.1" stroke="rgba(255,255,255,0.1)" stroke-width="0.35" />
<line x1="506.75" y1="833" x2="506.75" y2="866.1" stroke="rgba(255,255,255,0.1)" stroke-width="0.35" />
<line x1="510.91" y1="833" x2="510.91" y2="866.1" stroke="rgba(255,255,255,0.1)" stroke-width="0.35" />
<line x1="515.07" y1="833" x2="515.07" y2="866.1" stroke="rgba(255,255,255,0.1)" stroke-width="0.35" />
<line x1="519.24" y1="833" x2="519.24" y2="866.1" stroke="rgba(255,255,255,0.1)" stroke-width="0.35" />
<line x1="523.4" y1="833" x2="523.4" y2="866.1" stroke="rgba(255,255,255,0.1)" stroke-width="0.35" />
<line x1="527.56" y1="833" x2="527.56" y2="866.1" stroke="rgba(255,255,255,0.1)" stroke-width="0.35" />
<rect x="107.1" y="869" width="424.63" height="14.3" fill="#d8e5f1" />
<rect x="302.76" y="869" width="4.16" height="3.57" fill="#adc4db" />
<rect x="302.76" y="872.58" width="4.16" height="3.57" fill="#adc4db" />
<rect x="398.51" y="876.15" width="4.16" height="3.57" fill="#adc4db" />
<rect x="365.21" y="879.72" width="4.16" height="3.57" fill="#adc4db" />
<line x1="111.26" y1="869" x2="111.26" y2="883.3" stroke="rgba(255,255,255,0.1)" stroke-width="0.35" />
<line x1="115.43" y1="869" x2="115.43" y2="883.3" stroke="rgba(255,255,255,0.1)" stroke-width="0.35" />
<line x1="119.59" y1="869" x2="119.59" y2="883.3" stroke="rgba(255,255,255,0.1)" stroke-width="0.35" />
<line x1="123.75" y1="869" x2="123.75" y2="883.3" stroke="rgba(255,255,255,0.1)" stroke-width="0.35" />
<line x1="127.91" y1="869" x2="127.91" y2="883.3" stroke="rgba(255,255,255,0.1)" stroke-width="0.35" />
<line x1="132.08" y1="869" x2="132.08" y2="883.3" stroke="rgba(255,255,255,0.1)" stroke-width="0.35" />
<line x1="136.24" y1="869" x2="136.24" y2="883.3" stroke="rgba(255,255,255,0.1)" stroke-width="0.35" />
<line x1="140.4" y1="869" x2="140.4" y2="883.3" stroke="rgba(255,255,255,0.1)" stroke-width="0.35" />
<line x1="144.57" y1="869" x2="144.57" y2="883.3" stroke="rgba(255,255,255,0.1)" stroke-width="0.35" />
<line x1="148.73" y1="869" x2="148.73" y2="883.3" stroke="rgba(255,255,255,0.1)" stroke-width="0.35" />
<line x1="152.89" y1="869" x2="152.89" y2="883.3" stroke="rgba(255,255,255,0.1)" stroke-width="0.35" />
<line x1="157.06" y1="869" x2="157.06" y2="883.3" stroke="rgba(255,255,255,0.1)" stroke-width="0.35" />
<line x1="161.22" y1="869" x2="161.22" y2="883.3" stroke="rgba(255,255,255,0.1)" stroke-width="0.35" />
<line x1="165.38" y1="869" x2="165.38" y2="883.3" stroke="rgba(255,255,255,0.1)" stroke-width="0.35" />
<line x1="169.55" y1="869" x2="169.55" y2="883.3" stroke="rgba(255,255,255,0.1)" stroke-width="0.35" />
<line x1="173.71" y1="869" x2="173.71" y2="883.3" stroke="rgba(255,255,255,0.1)" stroke-width="0.35" />
<line x1="177.87" y1="869" x2="177.87" y2="883.3" stroke="rgba(255,255,255,0.1)" stroke-width="0.35" />
<line x1="182.03" y1="869" x2="182.03" y2="883.3" stroke="rgba(255,255,255,0.1)" stroke-width="0.35" />
<line x1="186.2" y1="869" x2="186.2" y2="883.3" stroke="rgba(255,255,255,0.1)" stroke-width="0.35" />
<line x1="190.36" y1="869" x2="190.36" y2="883.3" stroke="rgba(255,255,255,0.1)" stroke-width="0.35" />
<line x1="194.52" y1="869" x2="194.52" y2="883.3" stroke="rgba(255,255,255,0.1)" stroke-width="0.35" />
<line x1="198.69" y1="869" x2="198.69" y2="883.3" stroke="rgba(255,255,255,0.1)" stroke-width="0.35" />
<line x1="202.85" y1="869" x2="202.85" y2="883.3" stroke="rgba(255,255,255,0.1)" stroke-width="0.35" />
<line x1="207.01" y1="869" x2="207.01" y2="883.3" stroke="rgba(255,255,255,0.1)" stroke-width="0.35" />
<line x1="211.18" y1="869" x2="211.18" y2="883.3" stroke="rgba(255,255,255,0.1)" stroke-width="0.35" />
<line x1="215.34" y1="869" x2="215.34" y2="883.3" stroke="rgba(255,255,255,0.1)" stroke-width="0.35" />
<line x1="219.5" y1="869" x2="219.5" y2="883.3" stroke="rgba(255,255,255,0.1)" stroke-width="0.35" />
<line x1="223.66" y1="869" x2="223.66" y2="883.3" stroke="rgba(255,255,255,0.1)" stroke-width="0.35" />
<line x1="227.83" y1="869" x2="227.83" y2="883.3" stroke="rgba(255,255,255,0.1)" stroke-width="0.35" />
<line x1="231.99" y1="869" x2="231.99" y2="883.3" stroke="rgba(255,255,255,0.1)" stroke-width="0.35" />
<line x1="236.15" y1="869" x2="236.15" y2="883.3" stroke="rgba(255,255,255,0.1)" stroke-width="0.35" />
<line x1="240.32" y1="869" x2="240.32" y2="883.3" stroke="rgba(255,255,255,0.1)" stroke-width="0.35" />
<line x1="244.48" y1="869" x2="244.48" y2="883.3" stroke="rgba(255,255,255,0.1)" stroke-width="0.35" />
<line x1="248.64" y1="869" x2="248.64" y2="883.3" stroke="rgba(255,255,255,0.1)" stroke-width="0.35" />
<line x1="252.81" y1="869" x2="252.81" y2="883.3" stroke="rgba(255,255,255,0.1)" stroke-width="0.35" />
<line x1="256.97" y1="869" x2="256.97" y2="883.3" stroke="rgba(255,255,255,0.1)" stroke-width="0.35" />
<line x1="261.13" y1="869" x2="261.13" y2="883.3" stroke="rgba(255,255,255,0.1)" stroke-width="0.35" />
<line x1="265.29" y1="869" x2="265.29" y2="883.3" stroke="rgba(255,255,255,0.1)" stroke-width="0.35" />
<line x1="269.46" y1="869" x2="269.46" y2="883.3" stroke="rgba(255,255,255,0.1)" stroke-width="0.35" />
<line x1="273.62" y1="869" x2="273.62" y2="883.3" stroke="rgba(255,255,255,0.1)" stroke-width="0.35" />
<line x1="277.78" y1="869" x2="277.78" y2="883.3" stroke="rgba(255,255,255,0.1)" stroke-width="0.35" />
<line x1="281.95" y1="869" x2="281.95" y2="883.3" stroke="rgba(255,255,255,0.1)" stroke-width="0.35" />
<line x1="286.11" y1="869" x2="286.11" y2="883.3" stroke="rgba(255,255,255,0.1)" stroke-width="0.35" />
<line x1="290.27" y1="869" x2="290.27" y2="883.3" stroke="rgba(255,255,255,0.1)" stroke-width="0.35" />
<line x1="294.44" y1="869" x2="294.44" y2="883.3" stroke="rgba(255,255,255,0.1)" stroke-width="0.35" />
<line x1="298.6" y1="869" x2="298.6" y2="883.3" stroke="rgba(255,255,255,0.1)" stroke-width="0.35" />
<line x1="302.76" y1="869" x2="302.76" y2="883.3" stroke="rgba(255,255,255,0.1)" stroke-width="0.35" />
<line x1="306.92" y1="869" x2="306.92" y2="883.3" stroke="rgba(255,255,255,0.1)" stroke-width="0.35" />
<line x1="311.09" y1="869" x2="311.09" y2="883.3" stroke="rgba(255,255,255,0.1)" stroke-width="0.35" />
<line x1="315.25" y1="869" x2="315.25" y2="883.3" stroke="rgba(255,255,255,0.1)" stroke-width="0.35" />
<line x1="319.41" y1="869" x2="319.41" y2="883.3" stroke="rgba(255,255,255,0.1)" stroke-width="0.35" />
<line x1="323.58" y1="869" x2="323.58" y2="883.3" stroke="rgba(255,255,255,0.1)" stroke-width="0.35" />
<line x1="327.74" y1="869" x2="327.74" y2="883.3" stroke="rgba(255,255,255,0.1)" stroke-width="0.35" />
<line x1="331.9" y1="869" x2="331.9" y2="883.3" stroke="rgba(255,255,255,0.1)" stroke-width="0.35" />
<line x1="336.06" y1="869" x2="336.06" y2="883.3" stroke="rgba(255,255,255,0.1)" stroke-width="0.35" />
<line x1="340.23" y1="869" x2="340.23" y2="883.3" stroke="rgba(255,255,255,0.1)" stroke-width="0.35" />
<line x1="344.39" y1="869" x2="344.39" y2="883.3" stroke="rgba(255,255,255,0.1)" stroke-width="0.35" />
<line x1="348.55" y1="869" x2="348.55" y2="883.3" stroke="rgba(255,255,255,0.1)" stroke-width="0.35" />
<line x1="352.72" y1="869" x2="352.72" y2="883.3" stroke="rgba(255,255,255,0.1)" stroke-width="0.35" />
<line x1="356.88" y1="869" x2="356.88" y2="883.3" stroke="rgba(255,255,255,0.1)" stroke-width="0.35" />
<line x1="361.04" y1="869" x2="361.04" y2="883.3" stroke="rgba(255,255,255,0.1)" stroke-width="0.35" />
<line x1="365.21" y1="869" x2="365.21" y2="883.3" stroke="rgba(255,255,255,0.1)" stroke-width="0.35" />
<line x1="369.37" y1="869" x2="369.37" y2="883.3" stroke="rgba(255,255,255,0.1)" stroke-width="0.35" />
<line x1="373.53" y1="869" x2="373.53" y2="883.3" stroke="rgba(255,255,255,0.1)" stroke-width="0.35" />
<line x1="377.7" y1="869" x2="377.7" y2="883.3" stroke="rgba(255,255,255,0.1)" stroke-width="0.35" />
<line x1="381.86" y1="869" x2="381.86" y2="883.3" stroke="rgba(255,255,255,0.1)" stroke-width="0.35" />
<line x1="386.02" y1="869" x2="386.02" y2="883.3" stroke="rgba(255,255,255,0.1)" stroke-width="0.35" />
<line x1="390.18" y1="869" x2="390.18" y2="883.3" stroke="rgba(255,255,255,0.1)" stroke-width="0.35" />
<line x1="394.35" y1="869" x2="394.35" y2="883.3" stroke="rgba(255,255,255,0.1)" stroke-width="0.35" />
<line x1="398.51" y1="869" x2="398.51" y2="883.3" stroke="rgba(255,255,255,0.1)" stroke-width="0.35" />
<line x1="402.67" y1="869" x2="402.67" y2="883.3" stroke="rgba(255,255,255,0.1)" stroke-width="0.35" />
<line x1="406.84" y1="869" x2="406.84" y2="883.3" stroke="rgba(255,255,255,0.1)" stroke-width="0.35" />
<line x1="411" y1="869" x2="411" y2="883.3" stroke="rgba(255,255,255,0.1)" stroke-width="0.35" />
<line x1="415.16" y1="869" x2="415.16" y2="883.3" stroke="rgba(255,255,255,0.1)" stroke-width="0.35" />
<line x1="419.33" y1="869" x2="419.33" y2="883.3" stroke="rgba(255,255,255,0.1)" stroke-width="0.35" />
<line x1="423.49" y1="869" x2="423.49" y2="883.3" stroke="rgba(255,255,255,0.1)" stroke-width="0.35" />
<line x1="427.65" y1="869" x2="427.65" y2="883.3" stroke="rgba(255,255,255,0.1)" stroke-width="0.35" />
<line x1="431.81" y1="869" x2="431.81" y2="883.3" stroke="rgba(255,255,255,0.1)" stroke-width="0.35" />
<line x1="435.98" y1="869" x2="435.98" y2="883.3" stroke="rgba(255,255,255,0.1)" stroke-width="0.35" />
<line x1="440.14" y1="869" x2="440.14" y2="883.3" stroke="rgba(255,255,255,0.1)" stroke-width="0.35" />
<line x1="444.3" y1="869" x2="444.3" y2="883.3" stroke="rgba(255,255,255,0.1)" stroke-width="0.35" />
<line x1="448.47" y1="869" x2="448.47" y2="883.3" stroke="rgba(255,255,255,0.1)" stroke-width="0.35" />
<line x1="452.63" y1="869" x2="452.63" y2="883.3" stroke="rgba(255,255,255,0.1)" stroke-width="0.35" />
<line x1="456.79" y1="869" x2="456.79" y2="883.3" stroke="rgba(255,255,255,0.1)" stroke-width="0.35" />
<line x1="460.96" y1="869" x2="460.96" y2="883.3" stroke="rgba(255,255,255,0.1)" stroke-width="0.35" />
<line x1="465.12" y1="869" x2="465.12" y2="883.3" stroke="rgba(255,255,255,0.1)" stroke-width="0.35" />
<line x1="469.28" y1="869" x2="469.28" y2="883.3" stroke="rgba(255,255,255,0.1)" stroke-width="0.35" />
<line x1="473.44" y1="869" x2="473.44" y2="883.3" stroke="rgba(255,255,255,0.1)" stroke-width="0.35" />
<line x1="477.61" y1="869" x2="477.61" y2="883.3" stroke="rgba(255,255,255,0.1)" stroke-width="0.35" />
<line x1="481.77" y1="869" x2="481.77" y2="883.3" stroke="rgba(255,255,255,0.1)" stroke-width="0.35" />
<line x1="485.93" y1="869" x2="485.93" y2="883.3" stroke="rgba(255,255,255,0.1)" stroke-width="0.35" />
<line x1="490.1" y1="869" x2="490.1" y2="883.3" stroke="rgba(255,255,255,0.1)" stroke-width="0.35" />
<line x1="494.26" y1="869" x2="494.26" y2="883.3" stroke="rgba(255,255,255,0.1)" stroke-width="0.35" />
<line x1="498.42" y1="869" x2="498.42" y2="883.3" stroke="rgba(255,255,255,0.1)" stroke-width="0.35" />
<line x1="502.59" y1="869" x2="502.59" y2="883.3" stroke="rgba(255,255,255,0.1)" stroke-width="0.35" />
<line x1="506.75" y1="869" x2="506.75" y2="883.3" stroke="rgba(255,255,255,0.1)" stroke-width="0.35" />
<line x1="510.91" y1="869" x2="510.91" y2="883.3" stroke="rgba(255,255,255,0.1)" stroke-width="0.35" />
<line x1="515.07" y1="869" x2="515.07" y2="883.3" stroke="rgba(255,255,255,0.1)" stroke-width="0.35" />
<line x1="519.24" y1="869" x2="519.24" y2="883.3" stroke="rgba(255,255,255,0.1)" stroke-width="0.35" />
<line x1="523.4" y1="869" x2="523.4" y2="883.3" stroke="rgba(255,255,255,0.1)" stroke-width="0.35" />
<line x1="527.56" y1="869" x2="527.56" y2="883.3" stroke="rgba(255,255,255,0.1)" stroke-width="0.35" />
<rect x="107.1" y="886.1" width="424.63" height="3.8" fill="#d8e5f1" />
<rect x="211.18" y="886.1" width="4.16" height="3.8" fill="#adc4db" />
<rect x="223.66" y="886.1" width="4.16" height="3.8" fill="#adc4db" />
<line x1="111.26" y1="886.1" x2="111.26" y2="889.9" stroke="rgba(255,255,255,0.1)" stroke-width="0.35" />
<line x1="115.43" y1="886.1" x2="115.43" y2="889.9" stroke="rgba(255,255,255,0.1)" stroke-width="0.35" />
<line x1="119.59" y1="886.1" x2="119.59" y2="889.9" stroke="rgba(255,255,255,0.1)" stroke-width="0.35" />
<line x1="123.75" y1="886.1" x2="123.75" y2="889.9" stroke="rgba(255,255,255,0.1)" stroke-width="0.35" />
<line x1="127.91" y1="886.1" x2="127.91" y2="889.9" stroke="rgba(255,255,255,0.1)" stroke-width="0.35" />
<line x1="132.08" y1="886.1" x2="132.08" y2="889.9" stroke="rgba(255,255,255,0.1)" stroke-width="0.35" />
<line x1="136.24" y1="886.1" x2="136.24" y2="889.9" stroke="rgba(255,255,255,0.1)" stroke-width="0.35" />
<line x1="140.4" y1="886.1" x2="140.4" y2="889.9" stroke="rgba(255,255,255,0.1)" stroke-width="0.35" />
<line x1="144.57" y1="886.1" x2="144.57" y2="889.9" stroke="rgba(255,255,255,0.1)" stroke-width="0.35" />
<line x1="148.73" y1="886.1" x2="148.73" y2="889.9" stroke="rgba(255,255,255,0.1)" stroke-width="0.35" />
<line x1="152.89" y1="886.1" x2="152.89" y2="889.9" stroke="rgba(255,255,255,0.1)" stroke-width="0.35" />
<line x1="157.06" y1="886.1" x2="157.06" y2="889.9" stroke="rgba(255,255,255,0.1)" stroke-width="0.35" />
<line x1="161.22" y1="886.1" x2="161.22" y2="889.9" stroke="rgba(255,255,255,0.1)" stroke-width="0.35" />
<line x1="165.38" y1="886.1" x2="165.38" y2="889.9" stroke="rgba(255,255,255,0.1)" stroke-width="0.35" />
<line x1="169.55" y1="886.1" x2="169.55" y2="889.9" stroke="rgba(255,255,255,0.1)" stroke-width="0.35" />
<line x1="173.71" y1="886.1" x2="173.71" y2="889.9" stroke="rgba(255,255,255,0.1)" stroke-width="0.35" />
<line x1="177.87" y1="886.1" x2="177.87" y2="889.9" stroke="rgba(255,255,255,0.1)" stroke-width="0.35" />
<line x1="182.03" y1="886.1" x2="182.03" y2="889.9" stroke="rgba(255,255,255,0.1)" stroke-width="0.35" />
<line x1="186.2" y1="886.1" x2="186.2" y2="889.9" stroke="rgba(255,255,255,0.1)" stroke-width="0.35" />
<line x1="190.36" y1="886.1" x2="190.36" y2="889.9" stroke="rgba(255,255,255,0.1)" stroke-width="0.35" />
<line x1="194.52" y1="886.1" x2="194.52" y2="889.9" stroke="rgba(255,255,255,0.1)" stroke-width="0.35" />
<line x1="198.69" y1="886.1" x2="198.69" y2="889.9" stroke="rgba(255,255,255,0.1)" stroke-width="0.35" />
<line x1="202.85" y1="886.1" x2="202.85" y2="889.9" stroke="rgba(255,255,255,0.1)" stroke-width="0.35" />
<line x1="207.01" y1="886.1" x2="207.01" y2="889.9" stroke="rgba(255,255,255,0.1)" stroke-width="0.35" />
<line x1="211.18" y1="886.1" x2="211.18" y2="889.9" stroke="rgba(255,255,255,0.1)" stroke-width="0.35" />
<line x1="215.34" y1="886.1" x2="215.34" y2="889.9" stroke="rgba(255,255,255,0.1)" stroke-width="0.35" />
<line x1="219.5" y1="886.1" x2="219.5" y2="889.9" stroke="rgba(255,255,255,0.1)" stroke-width="0.35" />
<line x1="223.66" y1="886.1" x2="223.66" y2="889.9" stroke="rgba(255,255,255,0.1)" stroke-width="0.35" />
<line x1="227.83" y1="886.1" x2="227.83" y2="889.9" stroke="rgba(255,255,255,0.1)" stroke-width="0.35" />
<line x1="231.99" y1="886.1" x2="231.99" y2="889.9" stroke="rgba(255,255,255,0.1)" stroke-width="0.35" />
<line x1="236.15" y1="886.1" x2="236.15" y2="889.9" stroke="rgba(255,255,255,0.1)" stroke-width="0.35" />
<line x1="240.32" y1="886.1" x2="240.32" y2="889.9" stroke="rgba(255,255,255,0.1)" stroke-width="0.35" />
<line x1="244.48" y1="886.1" x2="244.48" y2="889.9" stroke="rgba(255,255,255,0.1)" stroke-width="0.35" />
<line x1="248.64" y1="886.1" x2="248.64" y2="889.9" stroke="rgba(255,255,255,0.1)" stroke-width="0.35" />
<line x1="252.81" y1="886.1" x2="252.81" y2="889.9" stroke="rgba(255,255,255,0.1)" stroke-width="0.35" />
<line x1="256.97" y1="886.1" x2="256.97" y2="889.9" stroke="rgba(255,255,255,0.1)" stroke-width="0.35" />
<line x1="261.13" y1="886.1" x2="261.13" y2="889.9" stroke="rgba(255,255,255,0.1)" stroke-width="0.35" />
<line x1="265.29" y1="886.1" x2="265.29" y2="889.9" stroke="rgba(255,255,255,0.1)" stroke-width="0.35" />
<line x1="269.46" y1="886.1" x2="269.46" y2="889.9" stroke="rgba(255,255,255,0.1)" stroke-width="0.35" />
<line x1="273.62" y1="886.1" x2="273.62" y2="889.9" stroke="rgba(255,255,255,0.1)" stroke-width="0.35" />
<line x1="277.78" y1="886.1" x2="277.78" y2="889.9" stroke="rgba(255,255,255,0.1)" stroke-width="0.35" />
<line x1="281.95" y1="886.1" x2="281.95" y2="889.9" stroke="rgba(255,255,255,0.1)" stroke-width="0.35" />
<line x1="286.11" y1="886.1" x2="286.11" y2="889.9" stroke="rgba(255,255,255,0.1)" stroke-width="0.35" />
<line x1="290.27" y1="886.1" x2="290.27" y2="889.9" stroke="rgba(255,255,255,0.1)" stroke-width="0.35" />
<line x1="294.44" y1="886.1" x2="294.44" y2="889.9" stroke="rgba(255,255,255,0.1)" stroke-width="0.35" />
<line x1="298.6" y1="886.1" x2="298.6" y2="889.9" stroke="rgba(255,255,255,0.1)" stroke-width="0.35" />
<line x1="302.76" y1="886.1" x2="302.76" y2="889.9" stroke="rgba(255,255,255,0.1)" stroke-width="0.35" />
<line x1="306.92" y1="886.1" x2="306.92" y2="889.9" stroke="rgba(255,255,255,0.1)" stroke-width="0.35" />
<line x1="311.09" y1="886.1" x2="311.09" y2="889.9" stroke="rgba(255,255,255,0.1)" stroke-width="0.35" />
<line x1="315.25" y1="886.1" x2="315.25" y2="889.9" stroke="rgba(255,255,255,0.1)" stroke-width="0.35" />
<line x1="319.41" y1="886.1" x2="319.41" y2="889.9" stroke="rgba(255,255,255,0.1)" stroke-width="0.35" />
<line x1="323.58" y1="886.1" x2="323.58" y2="889.9" stroke="rgba(255,255,255,0.1)" stroke-width="0.35" />
<line x1="327.74" y1="886.1" x2="327.74" y2="889.9" stroke="rgba(255,255,255,0.1)" stroke-width="0.35" />
<line x1="331.9" y1="886.1" x2="331.9" y2="889.9" stroke="rgba(255,255,255,0.1)" stroke-width="0.35" />
<line x1="336.06" y1="886.1" x2="336.06" y2="889.9" stroke="rgba(255,255,255,0.1)" stroke-width="0.35" />
<line x1="340.23" y1="886.1" x2="340.23" y2="889.9" stroke="rgba(255,255,255,0.1)" stroke-width="0.35" />
<line x1="344.39" y1="886.1" x2="344.39" y2="889.9" stroke="rgba(255,255,255,0.1)" stroke-width="0.35" />
<line x1="348.55" y1="886.1" x2="348.55" y2="889.9" stroke="rgba(255,255,255,0.1)" stroke-width="0.35" />
<line x1="352.72" y1="886.1" x2="352.72" y2="889.9" stroke="rgba(255,255,255,0.1)" stroke-width="0.35" />
<line x1="356.88" y1="886.1" x2="356.88" y2="889.9" stroke="rgba(255,255,255,0.1)" stroke-width="0.35" />
<line x1="361.04" y1="886.1" x2="361.04" y2="889.9" stroke="rgba(255,255,255,0.1)" stroke-width="0.35" />
<line x1="365.21" y1="886.1" x2="365.21" y2="889.9" stroke="rgba(255,255,255,0.1)" stroke-width="0.35" />
<line x1="369.37" y1="886.1" x2="369.37" y2="889.9" stroke="rgba(255,255,255,0.1)" stroke-width="0.35" />
<line x1="373.53" y1="886.1" x2="373.53" y2="889.9" stroke="rgba(255,255,255,0.1)" stroke-width="0.35" />
<line x1="377.7" y1="886.1" x2="377.7" y2="889.9" stroke="rgba(255,255,255,0.1)" stroke-width="0.35" />
<line x1="381.86" y1="886.1" x2="381.86" y2="889.9" stroke="rgba(255,255,255,0.1)" stroke-width="0.35" />
<line x1="386.02" y1="886.1" x2="386.02" y2="889.9" stroke="rgba(255,255,255,0.1)" stroke-width="0.35" />
<line x1="390.18" y1="886.1" x2="390.18" y2="889.9" stroke="rgba(255,255,255,0.1)" stroke-width="0.35" />
<line x1="394.35" y1="886.1" x2="394.35" y2="889.9" stroke="rgba(255,255,255,0.1)" stroke-width="0.35" />
<line x1="398.51" y1="886.1" x2="398.51" y2="889.9" stroke="rgba(255,255,255,0.1)" stroke-width="0.35" />
<line x1="402.67" y1="886.1" x2="402.67" y2="889.9" stroke="rgba(255,255,255,0.1)" stroke-width="0.35" />
<line x1="406.84" y1="886.1" x2="406.84" y2="889.9" stroke="rgba(255,255,255,0.1)" stroke-width="0.35" />
<line x1="411" y1="886.1" x2="411" y2="889.9" stroke="rgba(255,255,255,0.1)" stroke-width="0.35" />
<line x1="415.16" y1="886.1" x2="415.16" y2="889.9" stroke="rgba(255,255,255,0.1)" stroke-width="0.35" />
<line x1="419.33" y1="886.1" x2="419.33" y2="889.9" stroke="rgba(255,255,255,0.1)" stroke-width="0.35" />
<line x1="423.49" y1="886.1" x2="423.49" y2="889.9" stroke="rgba(255,255,255,0.1)" stroke-width="0.35" />
<line x1="427.65" y1="886.1" x2="427.65" y2="889.9" stroke="rgba(255,255,255,0.1)" stroke-width="0.35" />
<line x1="431.81" y1="886.1" x2="431.81" y2="889.9" stroke="rgba(255,255,255,0.1)" stroke-width="0.35" />
<line x1="435.98" y1="886.1" x2="435.98" y2="889.9" stroke="rgba(255,255,255,0.1)" stroke-width="0.35" />
<line x1="440.14" y1="886.1" x2="440.14" y2="889.9" stroke="rgba(255,255,255,0.1)" stroke-width="0.35" />
<line x1="444.3" y1="886.1" x2="444.3" y2="889.9" stroke="rgba(255,255,255,0.1)" stroke-width="0.35" />
<line x1="448.47" y1="886.1" x2="448.47" y2="889.9" stroke="rgba(255,255,255,0.1)" stroke-width="0.35" />
<line x1="452.63" y1="886.1" x2="452.63" y2="889.9" stroke="rgba(255,255,255,0.1)" stroke-width="0.35" />
<line x1="456.79" y1="886.1" x2="456.79" y2="889.9" stroke="rgba(255,255,255,0.1)" stroke-width="0.35" />
<line x1="460.96" y1="886.1" x2="460.96" y2="889.9" stroke="rgba(255,255,255,0.1)" stroke-width="0.35" />
<line x1="465.12" y1="886.1" x2="465.12" y2="889.9" stroke="rgba(255,255,255,0.1)" stroke-width="0.35" />
<line x1="469.28" y1="886.1" x2="469.28" y2="889.9" stroke="rgba(255,255,255,0.1)" stroke-width="0.35" />
<line x1="473.44" y1="886.1" x2="473.44" y2="889.9" stroke="rgba(255,255,255,0.1)" stroke-width="0.35" />
<line x1="477.61" y1="886.1" x2="477.61" y2="889.9" stroke="rgba(255,255,255,0.1)" stroke-width="0.35" />
<line x1="481.77" y1="886.1" x2="481.77" y2="889.9" stroke="rgba(255,255,255,0.1)" stroke-width="0.35" />
<line x1="485.93" y1="886.1" x2="485.93" y2="889.9" stroke="rgba(255,255,255,0.1)" stroke-width="0.35" />
<line x1="490.1" y1="886.1" x2="490.1" y2="889.9" stroke="rgba(255,255,255,0.1)" stroke-width="0.35" />
<line x1="494.26" y1="886.1" x2="494.26" y2="889.9" stroke="rgba(255,255,255,0.1)" stroke-width="0.35" />
<line x1="498.42" y1="886.1" x2="498.42" y2="889.9" stroke="rgba(255,255,255,0.1)" stroke-width="0.35" />
<line x1="502.59" y1="886.1" x2="502.59" y2="889.9" stroke="rgba(255,255,255,0.1)" stroke-width="0.35" />
<line x1="506.75" y1="886.1" x2="506.75" y2="889.9" stroke="rgba(255,255,255,0.1)" stroke-width="0.35" />
<line x1="510.91" y1="886.1" x2="510.91" y2="889.9" stroke="rgba(255,255,255,0.1)" stroke-width="0.35" />
<line x1="515.07" y1="886.1" x2="515.07" y2="889.9" stroke="rgba(255,255,255,0.1)" stroke-width="0.35" />
<line x1="519.24" y1="886.1" x2="519.24" y2="889.9" stroke="rgba(255,255,255,0.1)" stroke-width="0.35" />
<line x1="523.4" y1="886.1" x2="523.4" y2="889.9" stroke="rgba(255,255,255,0.1)" stroke-width="0.35" />
<line x1="527.56" y1="886.1" x2="527.56" y2="889.9" stroke="rgba(255,255,255,0.1)" stroke-width="0.35" />
<rect x="107.1" y="893" width="424.63" height="58" fill="#d8e5f1" />
<rect x="290.27" y="893" width="4.16" height="3.62" fill="#adc4db" />
<rect x="369.37" y="893" width="4.16" height="3.62" fill="#adc4db" />
<rect x="460.96" y="893" width="4.16" height="3.62" fill="#adc4db" />
<rect x="502.59" y="893" width="4.16" height="3.62" fill="#adc4db" />
<rect x="506.75" y="893" width="4.16" height="3.62" fill="#97b3cf" />
<rect x="281.95" y="896.62" width="8.33" height="3.62" fill="#adc4db" />
<rect x="290.27" y="896.62" width="4.16" height="3.62" fill="#97b3cf" />
<rect x="348.55" y="896.62" width="16.65" height="3.62" fill="#adc4db" />
<rect x="510.91" y="896.62" width="12.49" height="3.62" fill="#adc4db" />
<rect x="281.95" y="903.88" width="4.16" height="3.62" fill="#adc4db" />
<rect x="465.12" y="903.88" width="4.16" height="3.62" fill="#adc4db" />
<rect x="510.91" y="903.88" width="8.33" height="3.62" fill="#adc4db" />
<rect x="281.95" y="907.5" width="12.49" height="3.62" fill="#adc4db" />
<rect x="290.27" y="911.12" width="4.16" height="3.62" fill="#adc4db" />
<rect x="369.37" y="911.12" width="4.16" height="3.62" fill="#adc4db" />
<rect x="498.42" y="914.75" width="8.33" height="3.62" fill="#adc4db" />
<rect x="365.21" y="918.38" width="4.16" height="3.62" fill="#adc4db" />
<rect x="373.53" y="918.38" width="4.16" height="3.62" fill="#adc4db" />
<rect x="365.21" y="922" width="4.16" height="3.62" fill="#adc4db" />
<rect x="373.53" y="922" width="4.16" height="3.62" fill="#adc4db" />
<rect x="290.27" y="925.62" width="4.16" height="3.62" fill="#adc4db" />
<rect x="306.92" y="929.25" width="4.16" height="3.62" fill="#adc4db" />
<rect x="290.27" y="932.88" width="4.16" height="3.62" fill="#adc4db" />
<rect x="136.24" y="936.5" width="4.16" height="3.62" fill="#adc4db" />
<rect x="365.21" y="940.12" width="4.16" height="3.62" fill="#adc4db" />
<rect x="365.21" y="943.75" width="4.16" height="3.62" fill="#adc4db" />
<rect x="519.24" y="947.38" width="4.16" height="3.62" fill="#adc4db" />
<line x1="111.26" y1="893" x2="111.26" y2="951" stroke="rgba(255,255,255,0.1)" stroke-width="0.35" />
<line x1="115.43" y1="893" x2="115.43" y2="951" stroke="rgba(255,255,255,0.1)" stroke-width="0.35" />
<line x1="119.59" y1="893" x2="119.59" y2="951" stroke="rgba(255,255,255,0.1)" stroke-width="0.35" />
<line x1="123.75" y1="893" x2="123.75" y2="951" stroke="rgba(255,255,255,0.1)" stroke-width="0.35" />
<line x1="127.91" y1="893" x2="127.91" y2="951" stroke="rgba(255,255,255,0.1)" stroke-width="0.35" />
<line x1="132.08" y1="893" x2="132.08" y2="951" stroke="rgba(255,255,255,0.1)" stroke-width="0.35" />
<line x1="136.24" y1="893" x2="136.24" y2="951" stroke="rgba(255,255,255,0.1)" stroke-width="0.35" />
<line x1="140.4" y1="893" x2="140.4" y2="951" stroke="rgba(255,255,255,0.1)" stroke-width="0.35" />
<line x1="144.57" y1="893" x2="144.57" y2="951" stroke="rgba(255,255,255,0.1)" stroke-width="0.35" />
<line x1="148.73" y1="893" x2="148.73" y2="951" stroke="rgba(255,255,255,0.1)" stroke-width="0.35" />
<line x1="152.89" y1="893" x2="152.89" y2="951" stroke="rgba(255,255,255,0.1)" stroke-width="0.35" />
<line x1="157.06" y1="893" x2="157.06" y2="951" stroke="rgba(255,255,255,0.1)" stroke-width="0.35" />
<line x1="161.22" y1="893" x2="161.22" y2="951" stroke="rgba(255,255,255,0.1)" stroke-width="0.35" />
<line x1="165.38" y1="893" x2="165.38" y2="951" stroke="rgba(255,255,255,0.1)" stroke-width="0.35" />
<line x1="169.55" y1="893" x2="169.55" y2="951" stroke="rgba(255,255,255,0.1)" stroke-width="0.35" />
<line x1="173.71" y1="893" x2="173.71" y2="951" stroke="rgba(255,255,255,0.1)" stroke-width="0.35" />
<line x1="177.87" y1="893" x2="177.87" y2="951" stroke="rgba(255,255,255,0.1)" stroke-width="0.35" />
<line x1="182.03" y1="893" x2="182.03" y2="951" stroke="rgba(255,255,255,0.1)" stroke-width="0.35" />
<line x1="186.2" y1="893" x2="186.2" y2="951" stroke="rgba(255,255,255,0.1)" stroke-width="0.35" />
<line x1="190.36" y1="893" x2="190.36" y2="951" stroke="rgba(255,255,255,0.1)" stroke-width="0.35" />
<line x1="194.52" y1="893" x2="194.52" y2="951" stroke="rgba(255,255,255,0.1)" stroke-width="0.35" />
<line x1="198.69" y1="893" x2="198.69" y2="951" stroke="rgba(255,255,255,0.1)" stroke-width="0.35" />
<line x1="202.85" y1="893" x2="202.85" y2="951" stroke="rgba(255,255,255,0.1)" stroke-width="0.35" />
<line x1="207.01" y1="893" x2="207.01" y2="951" stroke="rgba(255,255,255,0.1)" stroke-width="0.35" />
<line x1="211.18" y1="893" x2="211.18" y2="951" stroke="rgba(255,255,255,0.1)" stroke-width="0.35" />
<line x1="215.34" y1="893" x2="215.34" y2="951" stroke="rgba(255,255,255,0.1)" stroke-width="0.35" />
<line x1="219.5" y1="893" x2="219.5" y2="951" stroke="rgba(255,255,255,0.1)" stroke-width="0.35" />
<line x1="223.66" y1="893" x2="223.66" y2="951" stroke="rgba(255,255,255,0.1)" stroke-width="0.35" />
<line x1="227.83" y1="893" x2="227.83" y2="951" stroke="rgba(255,255,255,0.1)" stroke-width="0.35" />
<line x1="231.99" y1="893" x2="231.99" y2="951" stroke="rgba(255,255,255,0.1)" stroke-width="0.35" />
<line x1="236.15" y1="893" x2="236.15" y2="951" stroke="rgba(255,255,255,0.1)" stroke-width="0.35" />
<line x1="240.32" y1="893" x2="240.32" y2="951" stroke="rgba(255,255,255,0.1)" stroke-width="0.35" />
<line x1="244.48" y1="893" x2="244.48" y2="951" stroke="rgba(255,255,255,0.1)" stroke-width="0.35" />
<line x1="248.64" y1="893" x2="248.64" y2="951" stroke="rgba(255,255,255,0.1)" stroke-width="0.35" />
<line x1="252.81" y1="893" x2="252.81" y2="951" stroke="rgba(255,255,255,0.1)" stroke-width="0.35" />
<line x1="256.97" y1="893" x2="256.97" y2="951" stroke="rgba(255,255,255,0.1)" stroke-width="0.35" />
<line x1="261.13" y1="893" x2="261.13" y2="951" stroke="rgba(255,255,255,0.1)" stroke-width="0.35" />
<line x1="265.29" y1="893" x2="265.29" y2="951" stroke="rgba(255,255,255,0.1)" stroke-width="0.35" />
<line x1="269.46" y1="893" x2="269.46" y2="951" stroke="rgba(255,255,255,0.1)" stroke-width="0.35" />
<line x1="273.62" y1="893" x2="273.62" y2="951" stroke="rgba(255,255,255,0.1)" stroke-width="0.35" />
<line x1="277.78" y1="893" x2="277.78" y2="951" stroke="rgba(255,255,255,0.1)" stroke-width="0.35" />
<line x1="281.95" y1="893" x2="281.95" y2="951" stroke="rgba(255,255,255,0.1)" stroke-width="0.35" />
<line x1="286.11" y1="893" x2="286.11" y2="951" stroke="rgba(255,255,255,0.1)" stroke-width="0.35" />
<line x1="290.27" y1="893" x2="290.27" y2="951" stroke="rgba(255,255,255,0.1)" stroke-width="0.35" />
<line x1="294.44" y1="893" x2="294.44" y2="951" stroke="rgba(255,255,255,0.1)" stroke-width="0.35" />
<line x1="298.6" y1="893" x2="298.6" y2="951" stroke="rgba(255,255,255,0.1)" stroke-width="0.35" />
<line x1="302.76" y1="893" x2="302.76" y2="951" stroke="rgba(255,255,255,0.1)" stroke-width="0.35" />
<line x1="306.92" y1="893" x2="306.92" y2="951" stroke="rgba(255,255,255,0.1)" stroke-width="0.35" />
<line x1="311.09" y1="893" x2="311.09" y2="951" stroke="rgba(255,255,255,0.1)" stroke-width="0.35" />
<line x1="315.25" y1="893" x2="315.25" y2="951" stroke="rgba(255,255,255,0.1)" stroke-width="0.35" />
<line x1="319.41" y1="893" x2="319.41" y2="951" stroke="rgba(255,255,255,0.1)" stroke-width="0.35" />
<line x1="323.58" y1="893" x2="323.58" y2="951" stroke="rgba(255,255,255,0.1)" stroke-width="0.35" />
<line x1="327.74" y1="893" x2="327.74" y2="951" stroke="rgba(255,255,255,0.1)" stroke-width="0.35" />
<line x1="331.9" y1="893" x2="331.9" y2="951" stroke="rgba(255,255,255,0.1)" stroke-width="0.35" />
<line x1="336.06" y1="893" x2="336.06" y2="951" stroke="rgba(255,255,255,0.1)" stroke-width="0.35" />
<line x1="340.23" y1="893" x2="340.23" y2="951" stroke="rgba(255,255,255,0.1)" stroke-width="0.35" />
<line x1="344.39" y1="893" x2="344.39" y2="951" stroke="rgba(255,255,255,0.1)" stroke-width="0.35" />
<line x1="348.55" y1="893" x2="348.55" y2="951" stroke="rgba(255,255,255,0.1)" stroke-width="0.35" />
<line x1="352.72" y1="893" x2="352.72" y2="951" stroke="rgba(255,255,255,0.1)" stroke-width="0.35" />
<line x1="356.88" y1="893" x2="356.88" y2="951" stroke="rgba(255,255,255,0.1)" stroke-width="0.35" />
<line x1="361.04" y1="893" x2="361.04" y2="951" stroke="rgba(255,255,255,0.1)" stroke-width="0.35" />
<line x1="365.21" y1="893" x2="365.21" y2="951" stroke="rgba(255,255,255,0.1)" stroke-width="0.35" />
<line x1="369.37" y1="893" x2="369.37" y2="951" stroke="rgba(255,255,255,0.1)" stroke-width="0.35" />
<line x1="373.53" y1="893" x2="373.53" y2="951" stroke="rgba(255,255,255,0.1)" stroke-width="0.35" />
<line x1="377.7" y1="893" x2="377.7" y2="951" stroke="rgba(255,255,255,0.1)" stroke-width="0.35" />
<line x1="381.86" y1="893" x2="381.86" y2="951" stroke="rgba(255,255,255,0.1)" stroke-width="0.35" />
<line x1="386.02" y1="893" x2="386.02" y2="951" stroke="rgba(255,255,255,0.1)" stroke-width="0.35" />
<line x1="390.18" y1="893" x2="390.18" y2="951" stroke="rgba(255,255,255,0.1)" stroke-width="0.35" />
<line x1="394.35" y1="893" x2="394.35" y2="951" stroke="rgba(255,255,255,0.1)" stroke-width="0.35" />
<line x1="398.51" y1="893" x2="398.51" y2="951" stroke="rgba(255,255,255,0.1)" stroke-width="0.35" />
<line x1="402.67" y1="893" x2="402.67" y2="951" stroke="rgba(255,255,255,0.1)" stroke-width="0.35" />
<line x1="406.84" y1="893" x2="406.84" y2="951" stroke="rgba(255,255,255,0.1)" stroke-width="0.35" />
<line x1="411" y1="893" x2="411" y2="951" stroke="rgba(255,255,255,0.1)" stroke-width="0.35" />
<line x1="415.16" y1="893" x2="415.16" y2="951" stroke="rgba(255,255,255,0.1)" stroke-width="0.35" />
<line x1="419.33" y1="893" x2="419.33" y2="951" stroke="rgba(255,255,255,0.1)" stroke-width="0.35" />
<line x1="423.49" y1="893" x2="423.49" y2="951" stroke="rgba(255,255,255,0.1)" stroke-width="0.35" />
<line x1="427.65" y1="893" x2="427.65" y2="951" stroke="rgba(255,255,255,0.1)" stroke-width="0.35" />
<line x1="431.81" y1="893" x2="431.81" y2="951" stroke="rgba(255,255,255,0.1)" stroke-width="0.35" />
<line x1="435.98" y1="893" x2="435.98" y2="951" stroke="rgba(255,255,255,0.1)" stroke-width="0.35" />
<line x1="440.14" y1="893" x2="440.14" y2="951" stroke="rgba(255,255,255,0.1)" stroke-width="0.35" />
<line x1="444.3" y1="893" x2="444.3" y2="951" stroke="rgba(255,255,255,0.1)" stroke-width="0.35" />
<line x1="448.47" y1="893" x2="448.47" y2="951" stroke="rgba(255,255,255,0.1)" stroke-width="0.35" />
<line x1="452.63" y1="893" x2="452.63" y2="951" stroke="rgba(255,255,255,0.1)" stroke-width="0.35" />
<line x1="456.79" y1="893" x2="456.79" y2="951" stroke="rgba(255,255,255,0.1)" stroke-width="0.35" />
<line x1="460.96" y1="893" x2="460.96" y2="951" stroke="rgba(255,255,255,0.1)" stroke-width="0.35" />
<line x1="465.12" y1="893" x2="465.12" y2="951" stroke="rgba(255,255,255,0.1)" stroke-width="0.35" />
<line x1="469.28" y1="893" x2="469.28" y2="951" stroke="rgba(255,255,255,0.1)" stroke-width="0.35" />
<line x1="473.44" y1="893" x2="473.44" y2="951" stroke="rgba(255,255,255,0.1)" stroke-width="0.35" />
<line x1="477.61" y1="893" x2="477.61" y2="951" stroke="rgba(255,255,255,0.1)" stroke-width="0.35" />
<line x1="481.77" y1="893" x2="481.77" y2="951" stroke="rgba(255,255,255,0.1)" stroke-width="0.35" />
<line x1="485.93" y1="893" x2="485.93" y2="951" stroke="rgba(255,255,255,0.1)" stroke-width="0.35" />
<line x1="490.1" y1="893" x2="490.1" y2="951" stroke="rgba(255,255,255,0.1)" stroke-width="0.35" />
<line x1="494.26" y1="893" x2="494.26" y2="951" stroke="rgba(255,255,255,0.1)" stroke-width="0.35" />
<line x1="498.42" y1="893" x2="498.42" y2="951" stroke="rgba(255,255,255,0.1)" stroke-width="0.35" />
<line x1="502.59" y1="893" x2="502.59" y2="951" stroke="rgba(255,255,255,0.1)" stroke-width="0.35" />
<line x1="506.75" y1="893" x2="506.75" y2="951" stroke="rgba(255,255,255,0.1)" stroke-width="0.35" />
<line x1="510.91" y1="893" x2="510.91" y2="951" stroke="rgba(255,255,255,0.1)" stroke-width="0.35" />
<line x1="515.07" y1="893" x2="515.07" y2="951" stroke="rgba(255,255,255,0.1)" stroke-width="0.35" />
<line x1="519.24" y1="893" x2="519.24" y2="951" stroke="rgba(255,255,255,0.1)" stroke-width="0.35" />
<line x1="523.4" y1="893" x2="523.4" y2="951" stroke="rgba(255,255,255,0.1)" stroke-width="0.35" />
<line x1="527.56" y1="893" x2="527.56" y2="951" stroke="rgba(255,255,255,0.1)" stroke-width="0.35" />
<text x="0" y="0" font-size="4.3" fill="#0a0a0a" transform="translate(534.8 740.55) rotate(0.05)">tail protein</text>
<text x="0" y="0" font-size="4.3" fill="#0a0a0a" transform="translate(534.8 744.15) rotate(0.05)">tail fiber</text>
<text x="0" y="0" font-size="4.3" fill="#0a0a0a" transform="translate(534.8 747.75) rotate(0.05)">tail tape measure protein</text>
<text x="0" y="0" font-size="4.3" fill="#0a0a0a" transform="translate(534.8 751.35) rotate(0.05)">baseplate</text>
<text x="0" y="0" font-size="4.3" fill="#0a0a0a" transform="translate(534.8 754.95) rotate(0.05)">tail spike</text>
<text x="0" y="0" font-size="4.3" fill="#0a0a0a" transform="translate(534.8 758.55) rotate(0.05)">other tail proteins</text>
<text x="0" y="0" font-size="4.3" fill="#0a0a0a" transform="translate(534.8 765.56) rotate(0.05)">HNH endonuclease</text>
<text x="0" y="0" font-size="4.3" fill="#0a0a0a" transform="translate(534.8 769.18) rotate(0.05)">DNA methylase</text>
<text x="0" y="0" font-size="4.3" fill="#0a0a0a" transform="translate(534.8 772.8) rotate(0.05)">restriction endonuclease</text>
<text x="0" y="0" font-size="4.3" fill="#0a0a0a" transform="translate(534.8 776.42) rotate(0.05)">recBCD nuclease inhibitor</text>
<text x="0" y="0" font-size="4.3" fill="#0a0a0a" transform="translate(534.8 780.04) rotate(0.05)">other antimicrobial protein</text>
<text x="0" y="0" font-size="4.3" fill="#0a0a0a" transform="translate(534.8 786.5) rotate(0.05)">antirepressor</text>
<text x="0" y="0" font-size="4.3" fill="#0a0a0a" transform="translate(534.8 790.2) rotate(0.05)">transposase</text>
<text x="0" y="0" font-size="4.3" fill="#0a0a0a" transform="translate(534.8 793.9) rotate(0.05)">integrase</text>
<text x="0" y="0" font-size="4.3" fill="#0a0a0a" transform="translate(534.8 797.6) rotate(0.05)">excisionase</text>
<text x="0" y="0" font-size="4.3" fill="#0a0a0a" transform="translate(534.8 801.3) rotate(0.05)">ParA family protein</text>
<text x="0" y="0" font-size="4.3" fill="#0a0a0a" transform="translate(534.8 805) rotate(0.05)">recombinase</text>
<text x="0" y="0" font-size="4.3" fill="#0a0a0a" transform="translate(534.8 808.7) rotate(0.05)">Cro/CI repressor</text>
<text x="0" y="0" font-size="4.3" fill="#0a0a0a" transform="translate(534.8 815.27) rotate(0.05)">DNA polymerase</text>
<text x="0" y="0" font-size="4.3" fill="#0a0a0a" transform="translate(534.8 818.91) rotate(0.05)">helicase</text>
<text x="0" y="0" font-size="4.3" fill="#0a0a0a" transform="translate(534.8 822.55) rotate(0.05)">DNA primase</text>
<text x="0" y="0" font-size="4.3" fill="#0a0a0a" transform="translate(534.8 826.19) rotate(0.05)">ligase</text>
<text x="0" y="0" font-size="4.3" fill="#0a0a0a" transform="translate(534.8 829.83) rotate(0.05)">RNA polymerase</text>
<text x="0" y="0" font-size="4.3" fill="#0a0a0a" transform="translate(534.8 836.39) rotate(0.05)">holin</text>
<text x="0" y="0" font-size="4.3" fill="#0a0a0a" transform="translate(534.8 840.07) rotate(0.05)">lysin</text>
<text x="0" y="0" font-size="4.3" fill="#0a0a0a" transform="translate(534.8 843.74) rotate(0.05)">hydrolase</text>
<text x="0" y="0" font-size="4.3" fill="#0a0a0a" transform="translate(534.8 847.42) rotate(0.05)">spanin</text>
<text x="0" y="0" font-size="4.3" fill="#0a0a0a" transform="translate(534.8 851.1) rotate(0.05)">endolysin</text>
<text x="0" y="0" font-size="4.3" fill="#0a0a0a" transform="translate(534.8 854.78) rotate(0.05)">N-acetylmuramoyl-L-alanine amidase</text>
<text x="0" y="0" font-size="4.3" fill="#0a0a0a" transform="translate(534.8 858.46) rotate(0.05)">cell-wall binding lysis protein</text>
<text x="0" y="0" font-size="4.3" fill="#0a0a0a" transform="translate(534.8 862.13) rotate(0.05)">CHAP domain protein</text>
<text x="0" y="0" font-size="4.3" fill="#0a0a0a" transform="translate(534.8 865.81) rotate(0.05)">other lysis proteins</text>
<text x="0" y="0" font-size="4.3" fill="#0a0a0a" transform="translate(534.8 872.34) rotate(0.05)">gtrA; bactoprenol-linked glucose translocase</text>
<text x="0" y="0" font-size="4.3" fill="#0a0a0a" transform="translate(534.8 875.91) rotate(0.05)">gtrB; bactoprenol glucosyl transferase</text>
<text x="0" y="0" font-size="4.3" fill="#0a0a0a" transform="translate(534.8 879.49) rotate(0.05)">CyaM domain-containing protein</text>
<text x="0" y="0" font-size="4.3" fill="#0a0a0a" transform="translate(534.8 883.06) rotate(0.05)">rmlA; D-glucose-1-phosphate thymidylyltransferase</text>
<text x="0" y="0" font-size="4.3" fill="#0a0a0a" transform="translate(534.8 889.55) rotate(0.05)">beta-lactamase superfamily domain protein</text>
<text x="0" y="0" font-size="4.3" fill="#0a0a0a" transform="translate(534.8 896.36) rotate(0.05)">DNMT3A; DNA (cytosine-5)-methyltransferase 3A</text>
<text x="0" y="0" font-size="4.3" fill="#0a0a0a" transform="translate(534.8 899.99) rotate(0.05)">NAMPT; nicotinamide phosphoribosyltransferase</text>
<text x="0" y="0" font-size="4.3" fill="#0a0a0a" transform="translate(534.8 903.61) rotate(0.05)">DNMT1, dcm; DNA (cytosine-5)-methyltransferase 1</text>
<text x="0" y="0" font-size="4.3" fill="#0a0a0a" transform="translate(534.8 907.24) rotate(0.05)">moeB; molybdopterin-synthase adenylyltransferase</text>
<text x="0" y="0" font-size="4.3" fill="#0a0a0a" transform="translate(534.8 910.86) rotate(0.05)">K11800; nadM; bifunctional NMN adenylyltransferase/nudix hydrolase</text>
<text x="0" y="0" font-size="4.3" fill="#0a0a0a" transform="translate(534.8 914.49) rotate(0.05)">DHFR, folA; dihydrofolate reductase</text>
<text x="0" y="0" font-size="4.3" fill="#0a0a0a" transform="translate(534.8 918.11) rotate(0.05)">gmhB; D-glycero-D-manno-heptose 1,7-bisphosphate phosphatase</text>
<text x="0" y="0" font-size="4.3" fill="#0a0a0a" transform="translate(534.8 921.74) rotate(0.05)">rfbC, rmlC; dTDP-4-dehydrorhamnose 3,5-epimerase</text>
<text x="0" y="0" font-size="4.3" fill="#0a0a0a" transform="translate(534.8 925.36) rotate(0.05)">rfbD, rmlD; dTDP-4-dehydrorhamnose reductase</text>
<text x="0" y="0" font-size="4.3" fill="#0a0a0a" transform="translate(534.8 928.99) rotate(0.05)">acpP; acyl carrier protein</text>
<text x="0" y="0" font-size="4.3" fill="#0a0a0a" transform="translate(534.8 932.61) rotate(0.05)">cysH; phosphoadenosine phosphosulfate reductase</text>
<text x="0" y="0" font-size="4.3" fill="#0a0a0a" transform="translate(534.8 936.24) rotate(0.05)">nadR; HTH-type transcriptional regulator</text>
<text x="0" y="0" font-size="4.3" fill="#0a0a0a" transform="translate(534.8 939.86) rotate(0.05)">phnP; phosphoribosyl 1,2-cyclic phosphate phosphodiesterase</text>
<text x="0" y="0" font-size="4.3" fill="#0a0a0a" transform="translate(534.8 943.49) rotate(0.05)">rfbA, rmlA; glucose-1-phosphate thymidylyltransferase</text>
<text x="0" y="0" font-size="4.3" fill="#0a0a0a" transform="translate(534.8 947.11) rotate(0.05)">rfbB, rmlB; dTDP-glucose 4,6-dehydratase</text>
<text x="0" y="0" font-size="4.3" fill="#0a0a0a" transform="translate(534.8 950.74) rotate(0.05)">thiF; sulfur carrier protein ThiS adenylyltransferase</text>
<rect x="107.1" y="728.2" width="129.1" height="6.7" fill="#4b6f9b" />
<rect x="236.15" y="728.2" width="91.64" height="6.7" fill="#9dc3df" />
<rect x="327.74" y="728.2" width="20.87" height="6.7" fill="#9b6e58" />
<rect x="348.55" y="728.2" width="16.7" height="6.7" fill="#a98b2d" />
<rect x="365.21" y="728.2" width="12.54" height="6.7" fill="#e2c262" />
<rect x="377.7" y="728.2" width="4.21" height="6.7" fill="#ecb9cd" />
<rect x="381.86" y="728.2" width="29.19" height="6.7" fill="#a66f97" />
<rect x="411" y="728.2" width="29.19" height="6.7" fill="#d2a3c9" />
<rect x="440.14" y="728.2" width="16.7" height="6.7" fill="#e0b03c" />
<rect x="456.79" y="728.2" width="16.7" height="6.7" fill="#f3b47c" />
<rect x="473.44" y="728.2" width="16.7" height="6.7" fill="#559c50" />
<rect x="490.1" y="728.2" width="16.7" height="6.7" fill="#8dc67f" />
<rect x="506.75" y="728.2" width="8.38" height="6.7" fill="#3f8a87" />
<rect x="515.07" y="728.2" width="4.21" height="6.7" fill="#7db4ad" />
<rect x="519.24" y="728.2" width="4.21" height="6.7" fill="#d05454" />
<rect x="523.4" y="728.2" width="4.21" height="6.7" fill="#de8a8c" />
<rect x="527.56" y="728.2" width="4.21" height="6.7" fill="#c0659a" />
<line x1="111.26" y1="728.2" x2="111.26" y2="734.9" stroke="rgba(255,255,255,0.12)" stroke-width="0.35" />
<line x1="115.43" y1="728.2" x2="115.43" y2="734.9" stroke="rgba(255,255,255,0.12)" stroke-width="0.35" />
<line x1="119.59" y1="728.2" x2="119.59" y2="734.9" stroke="rgba(255,255,255,0.12)" stroke-width="0.35" />
<line x1="123.75" y1="728.2" x2="123.75" y2="734.9" stroke="rgba(255,255,255,0.12)" stroke-width="0.35" />
<line x1="127.91" y1="728.2" x2="127.91" y2="734.9" stroke="rgba(255,255,255,0.12)" stroke-width="0.35" />
<line x1="132.08" y1="728.2" x2="132.08" y2="734.9" stroke="rgba(255,255,255,0.12)" stroke-width="0.35" />
<line x1="136.24" y1="728.2" x2="136.24" y2="734.9" stroke="rgba(255,255,255,0.12)" stroke-width="0.35" />
<line x1="140.4" y1="728.2" x2="140.4" y2="734.9" stroke="rgba(255,255,255,0.12)" stroke-width="0.35" />
<line x1="144.57" y1="728.2" x2="144.57" y2="734.9" stroke="rgba(255,255,255,0.12)" stroke-width="0.35" />
<line x1="148.73" y1="728.2" x2="148.73" y2="734.9" stroke="rgba(255,255,255,0.12)" stroke-width="0.35" />
<line x1="152.89" y1="728.2" x2="152.89" y2="734.9" stroke="rgba(255,255,255,0.12)" stroke-width="0.35" />
<line x1="157.06" y1="728.2" x2="157.06" y2="734.9" stroke="rgba(255,255,255,0.12)" stroke-width="0.35" />
<line x1="161.22" y1="728.2" x2="161.22" y2="734.9" stroke="rgba(255,255,255,0.12)" stroke-width="0.35" />
<line x1="165.38" y1="728.2" x2="165.38" y2="734.9" stroke="rgba(255,255,255,0.12)" stroke-width="0.35" />
<line x1="169.55" y1="728.2" x2="169.55" y2="734.9" stroke="rgba(255,255,255,0.12)" stroke-width="0.35" />
<line x1="173.71" y1="728.2" x2="173.71" y2="734.9" stroke="rgba(255,255,255,0.12)" stroke-width="0.35" />
<line x1="177.87" y1="728.2" x2="177.87" y2="734.9" stroke="rgba(255,255,255,0.12)" stroke-width="0.35" />
<line x1="182.03" y1="728.2" x2="182.03" y2="734.9" stroke="rgba(255,255,255,0.12)" stroke-width="0.35" />
<line x1="186.2" y1="728.2" x2="186.2" y2="734.9" stroke="rgba(255,255,255,0.12)" stroke-width="0.35" />
<line x1="190.36" y1="728.2" x2="190.36" y2="734.9" stroke="rgba(255,255,255,0.12)" stroke-width="0.35" />
<line x1="194.52" y1="728.2" x2="194.52" y2="734.9" stroke="rgba(255,255,255,0.12)" stroke-width="0.35" />
<line x1="198.69" y1="728.2" x2="198.69" y2="734.9" stroke="rgba(255,255,255,0.12)" stroke-width="0.35" />
<line x1="202.85" y1="728.2" x2="202.85" y2="734.9" stroke="rgba(255,255,255,0.12)" stroke-width="0.35" />
<line x1="207.01" y1="728.2" x2="207.01" y2="734.9" stroke="rgba(255,255,255,0.12)" stroke-width="0.35" />
<line x1="211.18" y1="728.2" x2="211.18" y2="734.9" stroke="rgba(255,255,255,0.12)" stroke-width="0.35" />
<line x1="215.34" y1="728.2" x2="215.34" y2="734.9" stroke="rgba(255,255,255,0.12)" stroke-width="0.35" />
<line x1="219.5" y1="728.2" x2="219.5" y2="734.9" stroke="rgba(255,255,255,0.12)" stroke-width="0.35" />
<line x1="223.66" y1="728.2" x2="223.66" y2="734.9" stroke="rgba(255,255,255,0.12)" stroke-width="0.35" />
<line x1="227.83" y1="728.2" x2="227.83" y2="734.9" stroke="rgba(255,255,255,0.12)" stroke-width="0.35" />
<line x1="231.99" y1="728.2" x2="231.99" y2="734.9" stroke="rgba(255,255,255,0.12)" stroke-width="0.35" />
<line x1="236.15" y1="728.2" x2="236.15" y2="734.9" stroke="rgba(255,255,255,0.12)" stroke-width="0.35" />
<line x1="240.32" y1="728.2" x2="240.32" y2="734.9" stroke="rgba(255,255,255,0.12)" stroke-width="0.35" />
<line x1="244.48" y1="728.2" x2="244.48" y2="734.9" stroke="rgba(255,255,255,0.12)" stroke-width="0.35" />
<line x1="248.64" y1="728.2" x2="248.64" y2="734.9" stroke="rgba(255,255,255,0.12)" stroke-width="0.35" />
<line x1="252.81" y1="728.2" x2="252.81" y2="734.9" stroke="rgba(255,255,255,0.12)" stroke-width="0.35" />
<line x1="256.97" y1="728.2" x2="256.97" y2="734.9" stroke="rgba(255,255,255,0.12)" stroke-width="0.35" />
<line x1="261.13" y1="728.2" x2="261.13" y2="734.9" stroke="rgba(255,255,255,0.12)" stroke-width="0.35" />
<line x1="265.29" y1="728.2" x2="265.29" y2="734.9" stroke="rgba(255,255,255,0.12)" stroke-width="0.35" />
<line x1="269.46" y1="728.2" x2="269.46" y2="734.9" stroke="rgba(255,255,255,0.12)" stroke-width="0.35" />
<line x1="273.62" y1="728.2" x2="273.62" y2="734.9" stroke="rgba(255,255,255,0.12)" stroke-width="0.35" />
<line x1="277.78" y1="728.2" x2="277.78" y2="734.9" stroke="rgba(255,255,255,0.12)" stroke-width="0.35" />
<line x1="281.95" y1="728.2" x2="281.95" y2="734.9" stroke="rgba(255,255,255,0.12)" stroke-width="0.35" />
<line x1="286.11" y1="728.2" x2="286.11" y2="734.9" stroke="rgba(255,255,255,0.12)" stroke-width="0.35" />
<line x1="290.27" y1="728.2" x2="290.27" y2="734.9" stroke="rgba(255,255,255,0.12)" stroke-width="0.35" />
<line x1="294.44" y1="728.2" x2="294.44" y2="734.9" stroke="rgba(255,255,255,0.12)" stroke-width="0.35" />
<line x1="298.6" y1="728.2" x2="298.6" y2="734.9" stroke="rgba(255,255,255,0.12)" stroke-width="0.35" />
<line x1="302.76" y1="728.2" x2="302.76" y2="734.9" stroke="rgba(255,255,255,0.12)" stroke-width="0.35" />
<line x1="306.92" y1="728.2" x2="306.92" y2="734.9" stroke="rgba(255,255,255,0.12)" stroke-width="0.35" />
<line x1="311.09" y1="728.2" x2="311.09" y2="734.9" stroke="rgba(255,255,255,0.12)" stroke-width="0.35" />
<line x1="315.25" y1="728.2" x2="315.25" y2="734.9" stroke="rgba(255,255,255,0.12)" stroke-width="0.35" />
<line x1="319.41" y1="728.2" x2="319.41" y2="734.9" stroke="rgba(255,255,255,0.12)" stroke-width="0.35" />
<line x1="323.58" y1="728.2" x2="323.58" y2="734.9" stroke="rgba(255,255,255,0.12)" stroke-width="0.35" />
<line x1="327.74" y1="728.2" x2="327.74" y2="734.9" stroke="rgba(255,255,255,0.12)" stroke-width="0.35" />
<line x1="331.9" y1="728.2" x2="331.9" y2="734.9" stroke="rgba(255,255,255,0.12)" stroke-width="0.35" />
<line x1="336.06" y1="728.2" x2="336.06" y2="734.9" stroke="rgba(255,255,255,0.12)" stroke-width="0.35" />
<line x1="340.23" y1="728.2" x2="340.23" y2="734.9" stroke="rgba(255,255,255,0.12)" stroke-width="0.35" />
<line x1="344.39" y1="728.2" x2="344.39" y2="734.9" stroke="rgba(255,255,255,0.12)" stroke-width="0.35" />
<line x1="348.55" y1="728.2" x2="348.55" y2="734.9" stroke="rgba(255,255,255,0.12)" stroke-width="0.35" />
<line x1="352.72" y1="728.2" x2="352.72" y2="734.9" stroke="rgba(255,255,255,0.12)" stroke-width="0.35" />
<line x1="356.88" y1="728.2" x2="356.88" y2="734.9" stroke="rgba(255,255,255,0.12)" stroke-width="0.35" />
<line x1="361.04" y1="728.2" x2="361.04" y2="734.9" stroke="rgba(255,255,255,0.12)" stroke-width="0.35" />
<line x1="365.21" y1="728.2" x2="365.21" y2="734.9" stroke="rgba(255,255,255,0.12)" stroke-width="0.35" />
<line x1="369.37" y1="728.2" x2="369.37" y2="734.9" stroke="rgba(255,255,255,0.12)" stroke-width="0.35" />
<line x1="373.53" y1="728.2" x2="373.53" y2="734.9" stroke="rgba(255,255,255,0.12)" stroke-width="0.35" />
<line x1="377.7" y1="728.2" x2="377.7" y2="734.9" stroke="rgba(255,255,255,0.12)" stroke-width="0.35" />
<line x1="381.86" y1="728.2" x2="381.86" y2="734.9" stroke="rgba(255,255,255,0.12)" stroke-width="0.35" />
<line x1="386.02" y1="728.2" x2="386.02" y2="734.9" stroke="rgba(255,255,255,0.12)" stroke-width="0.35" />
<line x1="390.18" y1="728.2" x2="390.18" y2="734.9" stroke="rgba(255,255,255,0.12)" stroke-width="0.35" />
<line x1="394.35" y1="728.2" x2="394.35" y2="734.9" stroke="rgba(255,255,255,0.12)" stroke-width="0.35" />
<line x1="398.51" y1="728.2" x2="398.51" y2="734.9" stroke="rgba(255,255,255,0.12)" stroke-width="0.35" />
<line x1="402.67" y1="728.2" x2="402.67" y2="734.9" stroke="rgba(255,255,255,0.12)" stroke-width="0.35" />
<line x1="406.84" y1="728.2" x2="406.84" y2="734.9" stroke="rgba(255,255,255,0.12)" stroke-width="0.35" />
<line x1="411" y1="728.2" x2="411" y2="734.9" stroke="rgba(255,255,255,0.12)" stroke-width="0.35" />
<line x1="415.16" y1="728.2" x2="415.16" y2="734.9" stroke="rgba(255,255,255,0.12)" stroke-width="0.35" />
<line x1="419.33" y1="728.2" x2="419.33" y2="734.9" stroke="rgba(255,255,255,0.12)" stroke-width="0.35" />
<line x1="423.49" y1="728.2" x2="423.49" y2="734.9" stroke="rgba(255,255,255,0.12)" stroke-width="0.35" />
<line x1="427.65" y1="728.2" x2="427.65" y2="734.9" stroke="rgba(255,255,255,0.12)" stroke-width="0.35" />
<line x1="431.81" y1="728.2" x2="431.81" y2="734.9" stroke="rgba(255,255,255,0.12)" stroke-width="0.35" />
<line x1="435.98" y1="728.2" x2="435.98" y2="734.9" stroke="rgba(255,255,255,0.12)" stroke-width="0.35" />
<line x1="440.14" y1="728.2" x2="440.14" y2="734.9" stroke="rgba(255,255,255,0.12)" stroke-width="0.35" />
<line x1="444.3" y1="728.2" x2="444.3" y2="734.9" stroke="rgba(255,255,255,0.12)" stroke-width="0.35" />
<line x1="448.47" y1="728.2" x2="448.47" y2="734.9" stroke="rgba(255,255,255,0.12)" stroke-width="0.35" />
<line x1="452.63" y1="728.2" x2="452.63" y2="734.9" stroke="rgba(255,255,255,0.12)" stroke-width="0.35" />
<line x1="456.79" y1="728.2" x2="456.79" y2="734.9" stroke="rgba(255,255,255,0.12)" stroke-width="0.35" />
<line x1="460.96" y1="728.2" x2="460.96" y2="734.9" stroke="rgba(255,255,255,0.12)" stroke-width="0.35" />
<line x1="465.12" y1="728.2" x2="465.12" y2="734.9" stroke="rgba(255,255,255,0.12)" stroke-width="0.35" />
<line x1="469.28" y1="728.2" x2="469.28" y2="734.9" stroke="rgba(255,255,255,0.12)" stroke-width="0.35" />
<line x1="473.44" y1="728.2" x2="473.44" y2="734.9" stroke="rgba(255,255,255,0.12)" stroke-width="0.35" />
<line x1="477.61" y1="728.2" x2="477.61" y2="734.9" stroke="rgba(255,255,255,0.12)" stroke-width="0.35" />
<line x1="481.77" y1="728.2" x2="481.77" y2="734.9" stroke="rgba(255,255,255,0.12)" stroke-width="0.35" />
<line x1="485.93" y1="728.2" x2="485.93" y2="734.9" stroke="rgba(255,255,255,0.12)" stroke-width="0.35" />
<line x1="490.1" y1="728.2" x2="490.1" y2="734.9" stroke="rgba(255,255,255,0.12)" stroke-width="0.35" />
<line x1="494.26" y1="728.2" x2="494.26" y2="734.9" stroke="rgba(255,255,255,0.12)" stroke-width="0.35" />
<line x1="498.42" y1="728.2" x2="498.42" y2="734.9" stroke="rgba(255,255,255,0.12)" stroke-width="0.35" />
<line x1="502.59" y1="728.2" x2="502.59" y2="734.9" stroke="rgba(255,255,255,0.12)" stroke-width="0.35" />
<line x1="506.75" y1="728.2" x2="506.75" y2="734.9" stroke="rgba(255,255,255,0.12)" stroke-width="0.35" />
<line x1="510.91" y1="728.2" x2="510.91" y2="734.9" stroke="rgba(255,255,255,0.12)" stroke-width="0.35" />
<line x1="515.07" y1="728.2" x2="515.07" y2="734.9" stroke="rgba(255,255,255,0.12)" stroke-width="0.35" />
<line x1="519.24" y1="728.2" x2="519.24" y2="734.9" stroke="rgba(255,255,255,0.12)" stroke-width="0.35" />
<line x1="523.4" y1="728.2" x2="523.4" y2="734.9" stroke="rgba(255,255,255,0.12)" stroke-width="0.35" />
<line x1="527.56" y1="728.2" x2="527.56" y2="734.9" stroke="rgba(255,255,255,0.12)" stroke-width="0.35" />
<text x="103.1" y="746.2" font-size="7.15" fill="#1a1a1a" font-weight="bold" text-anchor="end">Adsorption-related</text>
<text x="103.1" y="755.2" font-size="7.15" fill="#1a1a1a" font-weight="bold" text-anchor="end">genes</text>
<text x="103.1" y="771.3" font-size="7.15" fill="#1a1a1a" font-weight="bold" text-anchor="end">Antimicrobial</text>
<text x="103.1" y="780.4" font-size="7.15" fill="#1a1a1a" font-weight="bold" text-anchor="end">immunity genes</text>
<text x="103.1" y="801.2" font-size="7.15" fill="#1a1a1a" font-weight="bold" text-anchor="end">Lysogenic genes</text>
<text x="103.1" y="820.3" font-size="7.15" fill="#1a1a1a" font-weight="bold" text-anchor="end">Replication and tran-</text>
<text x="103.1" y="829.1" font-size="7.15" fill="#1a1a1a" font-weight="bold" text-anchor="end">scription related genes</text>
<text x="103.1" y="852.3" font-size="7.15" fill="#1a1a1a" font-weight="bold" text-anchor="end">Lysis genes</text>
<text x="103.1" y="876.4" font-size="7.15" fill="#1a1a1a" font-weight="bold" text-anchor="end">Virulence factor genes</text>
<text x="103.1" y="888.2" font-size="7.15" fill="#1a1a1a" font-weight="bold" text-anchor="end">Antibiotic resistance genes</text>
<text x="103.1" y="919" font-size="7.15" fill="#1a1a1a" font-weight="bold" text-anchor="end">Auxiliary</text>
<text x="103.1" y="927.7" font-size="7.15" fill="#1a1a1a" font-weight="bold" text-anchor="end">metabolic genes</text>
<text x="7" y="825.8" font-size="9.45" fill="#000" font-weight="bold" text-anchor="middle" transform="rotate(-90 7 825.8)">Gene function</text>
<text x="0" y="0" font-size="5.7" fill="#2a2a2a" transform="translate(107.18 953.3) rotate(90.3)" stroke="#2a2a2a" stroke-width="0.15">CP81226</text>
<text x="0" y="0" font-size="5.7" fill="#2a2a2a" transform="translate(111.34 953.3) rotate(90.3)" stroke="#2a2a2a" stroke-width="0.15">CP81253</text>
<text x="0" y="0" font-size="5.7" fill="#2a2a2a" transform="translate(115.51 953.3) rotate(90.3)" stroke="#2a2a2a" stroke-width="0.15">CP81225</text>
<text x="0" y="0" font-size="5.7" fill="#2a2a2a" transform="translate(119.67 953.3) rotate(90.3)" stroke="#2a2a2a" stroke-width="0.15">CP81340</text>
<text x="0" y="0" font-size="5.7" fill="#2a2a2a" transform="translate(123.83 953.3) rotate(90.3)" stroke="#2a2a2a" stroke-width="0.15">CP80688</text>
<text x="0" y="0" font-size="5.7" fill="#2a2a2a" transform="translate(128 953.3) rotate(90.3)" stroke="#2a2a2a" stroke-width="0.15">CP80678</text>
<text x="0" y="0" font-size="5.7" fill="#2a2a2a" transform="translate(132.16 953.3) rotate(90.3)" stroke="#2a2a2a" stroke-width="0.15">CP81348</text>
<text x="0" y="0" font-size="5.7" fill="#2a2a2a" transform="translate(136.32 953.3) rotate(90.3)" stroke="#2a2a2a" stroke-width="0.15">CP81274</text>
<text x="0" y="0" font-size="5.7" fill="#2a2a2a" transform="translate(140.49 953.3) rotate(90.3)" stroke="#2a2a2a" stroke-width="0.15">CP80681</text>
<text x="0" y="0" font-size="5.7" fill="#2a2a2a" transform="translate(144.65 953.3) rotate(90.3)" stroke="#2a2a2a" stroke-width="0.15">CP80492</text>
<text x="0" y="0" font-size="5.7" fill="#2a2a2a" transform="translate(148.81 953.3) rotate(90.3)" stroke="#2a2a2a" stroke-width="0.15">CP81214</text>
<text x="0" y="0" font-size="5.7" fill="#2a2a2a" transform="translate(152.97 953.3) rotate(90.3)" stroke="#2a2a2a" stroke-width="0.15">CP80921</text>
<text x="0" y="0" font-size="5.7" fill="#2a2a2a" transform="translate(157.14 953.3) rotate(90.3)" stroke="#2a2a2a" stroke-width="0.15">CP80590</text>
<text x="0" y="0" font-size="5.7" fill="#2a2a2a" transform="translate(161.3 953.3) rotate(90.3)" stroke="#2a2a2a" stroke-width="0.15">CP80485</text>
<text x="0" y="0" font-size="5.7" fill="#2a2a2a" transform="translate(165.46 953.3) rotate(90.3)" stroke="#2a2a2a" stroke-width="0.15">CP80385</text>
<text x="0" y="0" font-size="5.7" fill="#2a2a2a" transform="translate(169.63 953.3) rotate(90.3)" stroke="#2a2a2a" stroke-width="0.15">CP81111</text>
<text x="0" y="0" font-size="5.7" fill="#2a2a2a" transform="translate(173.79 953.3) rotate(90.3)" stroke="#2a2a2a" stroke-width="0.15">CP81227</text>
<text x="0" y="0" font-size="5.7" fill="#2a2a2a" transform="translate(177.95 953.3) rotate(90.3)" stroke="#2a2a2a" stroke-width="0.15">CP80622</text>
<text x="0" y="0" font-size="5.7" fill="#2a2a2a" transform="translate(182.12 953.3) rotate(90.3)" stroke="#2a2a2a" stroke-width="0.15">CP80330</text>
<text x="0" y="0" font-size="5.7" fill="#2a2a2a" transform="translate(186.28 953.3) rotate(90.3)" stroke="#2a2a2a" stroke-width="0.15">CP81382</text>
<text x="0" y="0" font-size="5.7" fill="#2a2a2a" transform="translate(190.44 953.3) rotate(90.3)" stroke="#2a2a2a" stroke-width="0.15">CP80429</text>
<text x="0" y="0" font-size="5.7" fill="#2a2a2a" transform="translate(194.6 953.3) rotate(90.3)" stroke="#2a2a2a" stroke-width="0.15">CP80421</text>
<text x="0" y="0" font-size="5.7" fill="#2a2a2a" transform="translate(198.77 953.3) rotate(90.3)" stroke="#2a2a2a" stroke-width="0.15">CP80373</text>
<text x="0" y="0" font-size="5.7" fill="#2a2a2a" transform="translate(202.93 953.3) rotate(90.3)" stroke="#2a2a2a" stroke-width="0.15">CP80689</text>
<text x="0" y="0" font-size="5.7" fill="#2a2a2a" transform="translate(207.09 953.3) rotate(90.3)" stroke="#2a2a2a" stroke-width="0.15">CP80795</text>
<text x="0" y="0" font-size="5.7" fill="#2a2a2a" transform="translate(211.26 953.3) rotate(90.3)" stroke="#2a2a2a" stroke-width="0.15">CP80361</text>
<text x="0" y="0" font-size="5.7" fill="#2a2a2a" transform="translate(215.42 953.3) rotate(90.3)" stroke="#2a2a2a" stroke-width="0.15">CP81250</text>
<text x="0" y="0" font-size="5.7" fill="#2a2a2a" transform="translate(219.58 953.3) rotate(90.3)" stroke="#2a2a2a" stroke-width="0.15">CP80968</text>
<text x="0" y="0" font-size="5.7" fill="#2a2a2a" transform="translate(223.75 953.3) rotate(90.3)" stroke="#2a2a2a" stroke-width="0.15">CP81202</text>
<text x="0" y="0" font-size="5.7" fill="#2a2a2a" transform="translate(227.91 953.3) rotate(90.3)" stroke="#2a2a2a" stroke-width="0.15">CP80700</text>
<text x="0" y="0" font-size="5.7" fill="#2a2a2a" transform="translate(232.07 953.3) rotate(90.3)" stroke="#2a2a2a" stroke-width="0.15">CP81363</text>
<text x="0" y="0" font-size="5.7" fill="#2a2a2a" transform="translate(236.23 953.3) rotate(90.3)" stroke="#2a2a2a" stroke-width="0.15">CP80778</text>
<text x="0" y="0" font-size="5.7" fill="#2a2a2a" transform="translate(240.4 953.3) rotate(90.3)" stroke="#2a2a2a" stroke-width="0.15">CP80902</text>
<text x="0" y="0" font-size="5.7" fill="#2a2a2a" transform="translate(244.56 953.3) rotate(90.3)" stroke="#2a2a2a" stroke-width="0.15">CP81323</text>
<text x="0" y="0" font-size="5.7" fill="#2a2a2a" transform="translate(248.72 953.3) rotate(90.3)" stroke="#2a2a2a" stroke-width="0.15">CP80309</text>
<text x="0" y="0" font-size="5.7" fill="#2a2a2a" transform="translate(252.89 953.3) rotate(90.3)" stroke="#2a2a2a" stroke-width="0.15">CP80474</text>
<text x="0" y="0" font-size="5.7" fill="#2a2a2a" transform="translate(257.05 953.3) rotate(90.3)" stroke="#2a2a2a" stroke-width="0.15">CP81236</text>
<text x="0" y="0" font-size="5.7" fill="#2a2a2a" transform="translate(261.21 953.3) rotate(90.3)" stroke="#2a2a2a" stroke-width="0.15">CP80869</text>
<text x="0" y="0" font-size="5.7" fill="#2a2a2a" transform="translate(265.38 953.3) rotate(90.3)" stroke="#2a2a2a" stroke-width="0.15">CP81133</text>
<text x="0" y="0" font-size="5.7" fill="#2a2a2a" transform="translate(269.54 953.3) rotate(90.3)" stroke="#2a2a2a" stroke-width="0.15">CP80470</text>
<text x="0" y="0" font-size="5.7" fill="#2a2a2a" transform="translate(273.7 953.3) rotate(90.3)" stroke="#2a2a2a" stroke-width="0.15">CP80820</text>
<text x="0" y="0" font-size="5.7" fill="#2a2a2a" transform="translate(277.86 953.3) rotate(90.3)" stroke="#2a2a2a" stroke-width="0.15">CP80945</text>
<text x="0" y="0" font-size="5.7" fill="#2a2a2a" transform="translate(282.03 953.3) rotate(90.3)" stroke="#2a2a2a" stroke-width="0.15">CP80770</text>
<text x="0" y="0" font-size="5.7" fill="#2a2a2a" transform="translate(286.19 953.3) rotate(90.3)" stroke="#2a2a2a" stroke-width="0.15">CP81350</text>
<text x="0" y="0" font-size="5.7" fill="#2a2a2a" transform="translate(290.35 953.3) rotate(90.3)" stroke="#2a2a2a" stroke-width="0.15">CP80891</text>
<text x="0" y="0" font-size="5.7" fill="#2a2a2a" transform="translate(294.52 953.3) rotate(90.3)" stroke="#2a2a2a" stroke-width="0.15">CP80360</text>
<text x="0" y="0" font-size="5.7" fill="#2a2a2a" transform="translate(298.68 953.3) rotate(90.3)" stroke="#2a2a2a" stroke-width="0.15">CP80443</text>
<text x="0" y="0" font-size="5.7" fill="#2a2a2a" transform="translate(302.84 953.3) rotate(90.3)" stroke="#2a2a2a" stroke-width="0.15">CP80521</text>
<text x="0" y="0" font-size="5.7" fill="#2a2a2a" transform="translate(307.01 953.3) rotate(90.3)" stroke="#2a2a2a" stroke-width="0.15">CP81120</text>
<text x="0" y="0" font-size="5.7" fill="#2a2a2a" transform="translate(311.17 953.3) rotate(90.3)" stroke="#2a2a2a" stroke-width="0.15">CP80520</text>
<text x="0" y="0" font-size="5.7" fill="#2a2a2a" transform="translate(315.33 953.3) rotate(90.3)" stroke="#2a2a2a" stroke-width="0.15">CP80895</text>
<text x="0" y="0" font-size="5.7" fill="#2a2a2a" transform="translate(319.49 953.3) rotate(90.3)" stroke="#2a2a2a" stroke-width="0.15">CP81091</text>
<text x="0" y="0" font-size="5.7" fill="#2a2a2a" transform="translate(323.66 953.3) rotate(90.3)" stroke="#2a2a2a" stroke-width="0.15">CP80436</text>
<text x="0" y="0" font-size="5.7" fill="#2a2a2a" transform="translate(327.82 953.3) rotate(90.3)" stroke="#2a2a2a" stroke-width="0.15">CP80334</text>
<text x="0" y="0" font-size="5.7" fill="#2a2a2a" transform="translate(331.98 953.3) rotate(90.3)" stroke="#2a2a2a" stroke-width="0.15">CP80301</text>
<text x="0" y="0" font-size="5.7" fill="#2a2a2a" transform="translate(336.15 953.3) rotate(90.3)" stroke="#2a2a2a" stroke-width="0.15">CP80737</text>
<text x="0" y="0" font-size="5.7" fill="#2a2a2a" transform="translate(340.31 953.3) rotate(90.3)" stroke="#2a2a2a" stroke-width="0.15">CP80729</text>
<text x="0" y="0" font-size="5.7" fill="#2a2a2a" transform="translate(344.47 953.3) rotate(90.3)" stroke="#2a2a2a" stroke-width="0.15">CP80407</text>
<text x="0" y="0" font-size="5.7" fill="#2a2a2a" transform="translate(348.64 953.3) rotate(90.3)" stroke="#2a2a2a" stroke-width="0.15">CP81262</text>
<text x="0" y="0" font-size="5.7" fill="#2a2a2a" transform="translate(352.8 953.3) rotate(90.3)" stroke="#2a2a2a" stroke-width="0.15">CP81068</text>
<text x="0" y="0" font-size="5.7" fill="#2a2a2a" transform="translate(356.96 953.3) rotate(90.3)" stroke="#2a2a2a" stroke-width="0.15">CP81113</text>
<text x="0" y="0" font-size="5.7" fill="#2a2a2a" transform="translate(361.12 953.3) rotate(90.3)" stroke="#2a2a2a" stroke-width="0.15">CP81159</text>
<text x="0" y="0" font-size="5.7" fill="#2a2a2a" transform="translate(365.29 953.3) rotate(90.3)" stroke="#2a2a2a" stroke-width="0.15">CP80449</text>
<text x="0" y="0" font-size="5.7" fill="#2a2a2a" transform="translate(369.45 953.3) rotate(90.3)" stroke="#2a2a2a" stroke-width="0.15">CP80706</text>
<text x="0" y="0" font-size="5.7" fill="#2a2a2a" transform="translate(373.61 953.3) rotate(90.3)" stroke="#2a2a2a" stroke-width="0.15">CP80852</text>
<text x="0" y="0" font-size="5.7" fill="#2a2a2a" transform="translate(377.78 953.3) rotate(90.3)" stroke="#2a2a2a" stroke-width="0.15">CP80989</text>
<text x="0" y="0" font-size="5.7" fill="#2a2a2a" transform="translate(381.94 953.3) rotate(90.3)" stroke="#2a2a2a" stroke-width="0.15">CP80478</text>
<text x="0" y="0" font-size="5.7" fill="#2a2a2a" transform="translate(386.1 953.3) rotate(90.3)" stroke="#2a2a2a" stroke-width="0.15">CP80937</text>
<text x="0" y="0" font-size="5.7" fill="#2a2a2a" transform="translate(390.27 953.3) rotate(90.3)" stroke="#2a2a2a" stroke-width="0.15">CP80981</text>
<text x="0" y="0" font-size="5.7" fill="#2a2a2a" transform="translate(394.43 953.3) rotate(90.3)" stroke="#2a2a2a" stroke-width="0.15">CP80331</text>
<text x="0" y="0" font-size="5.7" fill="#2a2a2a" transform="translate(398.59 953.3) rotate(90.3)" stroke="#2a2a2a" stroke-width="0.15">CP81139</text>
<text x="0" y="0" font-size="5.7" fill="#2a2a2a" transform="translate(402.75 953.3) rotate(90.3)" stroke="#2a2a2a" stroke-width="0.15">CP80541</text>
<text x="0" y="0" font-size="5.7" fill="#2a2a2a" transform="translate(406.92 953.3) rotate(90.3)" stroke="#2a2a2a" stroke-width="0.15">CP80575</text>
<text x="0" y="0" font-size="5.7" fill="#2a2a2a" transform="translate(411.08 953.3) rotate(90.3)" stroke="#2a2a2a" stroke-width="0.15">CP80804</text>
<text x="0" y="0" font-size="5.7" fill="#2a2a2a" transform="translate(415.24 953.3) rotate(90.3)" stroke="#2a2a2a" stroke-width="0.15">CP80506</text>
<text x="0" y="0" font-size="5.7" fill="#2a2a2a" transform="translate(419.41 953.3) rotate(90.3)" stroke="#2a2a2a" stroke-width="0.15">CP80322</text>
<text x="0" y="0" font-size="5.7" fill="#2a2a2a" transform="translate(423.57 953.3) rotate(90.3)" stroke="#2a2a2a" stroke-width="0.15">CP80422</text>
<text x="0" y="0" font-size="5.7" fill="#2a2a2a" transform="translate(427.73 953.3) rotate(90.3)" stroke="#2a2a2a" stroke-width="0.15">CP81252</text>
<text x="0" y="0" font-size="5.7" fill="#2a2a2a" transform="translate(431.9 953.3) rotate(90.3)" stroke="#2a2a2a" stroke-width="0.15">CP81297</text>
<text x="0" y="0" font-size="5.7" fill="#2a2a2a" transform="translate(436.06 953.3) rotate(90.3)" stroke="#2a2a2a" stroke-width="0.15">CP80663</text>
<text x="0" y="0" font-size="5.7" fill="#2a2a2a" transform="translate(440.22 953.3) rotate(90.3)" stroke="#2a2a2a" stroke-width="0.15">CP80685</text>
<text x="0" y="0" font-size="5.7" fill="#2a2a2a" transform="translate(444.38 953.3) rotate(90.3)" stroke="#2a2a2a" stroke-width="0.15">CP81216</text>
<text x="0" y="0" font-size="5.7" fill="#2a2a2a" transform="translate(448.55 953.3) rotate(90.3)" stroke="#2a2a2a" stroke-width="0.15">CP81342</text>
<text x="0" y="0" font-size="5.7" fill="#2a2a2a" transform="translate(452.71 953.3) rotate(90.3)" stroke="#2a2a2a" stroke-width="0.15">CP80690</text>
<text x="0" y="0" font-size="5.7" fill="#2a2a2a" transform="translate(456.87 953.3) rotate(90.3)" stroke="#2a2a2a" stroke-width="0.15">CP80568</text>
<text x="0" y="0" font-size="5.7" fill="#2a2a2a" transform="translate(461.04 953.3) rotate(90.3)" stroke="#2a2a2a" stroke-width="0.15">CP81158</text>
<text x="0" y="0" font-size="5.7" fill="#2a2a2a" transform="translate(465.2 953.3) rotate(90.3)" stroke="#2a2a2a" stroke-width="0.15">CP81085</text>
<text x="0" y="0" font-size="5.7" fill="#2a2a2a" transform="translate(469.36 953.3) rotate(90.3)" stroke="#2a2a2a" stroke-width="0.15">CP80538</text>
<text x="0" y="0" font-size="5.7" fill="#2a2a2a" transform="translate(473.53 953.3) rotate(90.3)" stroke="#2a2a2a" stroke-width="0.15">CP81108</text>
<text x="0" y="0" font-size="5.7" fill="#2a2a2a" transform="translate(477.69 953.3) rotate(90.3)" stroke="#2a2a2a" stroke-width="0.15">CP81161</text>
<text x="0" y="0" font-size="5.7" fill="#2a2a2a" transform="translate(481.85 953.3) rotate(90.3)" stroke="#2a2a2a" stroke-width="0.15">CP80735</text>
<text x="0" y="0" font-size="5.7" fill="#2a2a2a" transform="translate(486.01 953.3) rotate(90.3)" stroke="#2a2a2a" stroke-width="0.15">CP80300</text>
<text x="0" y="0" font-size="5.7" fill="#2a2a2a" transform="translate(490.18 953.3) rotate(90.3)" stroke="#2a2a2a" stroke-width="0.15">CP80852</text>
<text x="0" y="0" font-size="5.7" fill="#2a2a2a" transform="translate(494.34 953.3) rotate(90.3)" stroke="#2a2a2a" stroke-width="0.15">CP80922</text>
<text x="0" y="0" font-size="5.7" fill="#2a2a2a" transform="translate(498.5 953.3) rotate(90.3)" stroke="#2a2a2a" stroke-width="0.15">CP80340</text>
<text x="0" y="0" font-size="5.7" fill="#2a2a2a" transform="translate(502.67 953.3) rotate(90.3)" stroke="#2a2a2a" stroke-width="0.15">CP80731</text>
<text x="0" y="0" font-size="5.7" fill="#2a2a2a" transform="translate(506.83 953.3) rotate(90.3)" stroke="#2a2a2a" stroke-width="0.15">CP80683</text>
<text x="0" y="0" font-size="5.7" fill="#2a2a2a" transform="translate(510.99 953.3) rotate(90.3)" stroke="#2a2a2a" stroke-width="0.15">CP81107</text>
<text x="0" y="0" font-size="5.7" fill="#2a2a2a" transform="translate(515.16 953.3) rotate(90.3)" stroke="#2a2a2a" stroke-width="0.15">CP80505</text>
<text x="0" y="0" font-size="5.7" fill="#2a2a2a" transform="translate(519.32 953.3) rotate(90.3)" stroke="#2a2a2a" stroke-width="0.15">CP80386</text>
<text x="0" y="0" font-size="5.7" fill="#2a2a2a" transform="translate(523.48 953.3) rotate(90.3)" stroke="#2a2a2a" stroke-width="0.15">CP80599</text>
<text x="0" y="0" font-size="5.7" fill="#2a2a2a" transform="translate(527.64 953.3) rotate(90.3)" stroke="#2a2a2a" stroke-width="0.15">CP80736</text>
<text x="128" y="664.8" font-size="9" fill="#000" font-weight="bold">Host species</text>
<rect x="128.2" y="679.4" width="10.3" height="10.95" fill="#4b6f9b" />
<text x="140" y="686.35" font-size="8.3" fill="#1a1a1a" font-style="italic">E. faecalis</text>
<rect x="128.2" y="690.35" width="10.3" height="10.95" fill="#9dc3df" />
<text x="140" y="697.3" font-size="8.3" fill="#1a1a1a" font-style="italic">C. sakazakii</text>
<rect x="215.8" y="658" width="10.3" height="10.95" fill="#9b6e58" />
<text x="228" y="664.95" font-size="8.3" fill="#1a1a1a" font-style="italic">K. pneumoniae</text>
<rect x="215.8" y="668.95" width="10.3" height="10.95" fill="#a98b2d" />
<text x="228" y="675.9" font-size="8.3" fill="#1a1a1a" font-style="italic">B. cereus</text>
<rect x="215.8" y="679.9" width="10.3" height="10.95" fill="#e2c262" />
<text x="228" y="686.85" font-size="8.3" fill="#1a1a1a" font-style="italic">E. coli</text>
<rect x="215.8" y="690.85" width="10.3" height="10.95" fill="#ecb9cd" />
<text x="228" y="697.8" font-size="8.3" fill="#1a1a1a" font-style="italic">L. paracasei</text>
<rect x="215.8" y="701.8" width="10.3" height="10.95" fill="#a66f97" />
<text x="228" y="708.75" font-size="8.3" fill="#1a1a1a" font-style="italic">M. gnavus</text>
<rect x="321.6" y="658" width="10.3" height="10.95" fill="#d2a3c9" />
<text x="334.2" y="664.95" font-size="8.3" fill="#1a1a1a" font-style="italic">D. longicatena</text>
<rect x="321.6" y="668.95" width="10.3" height="10.95" fill="#e0b03c" />
<text x="334.2" y="675.9" font-size="8.3" fill="#1a1a1a" font-style="italic">E. lenta</text>
<rect x="321.6" y="679.9" width="10.3" height="10.95" fill="#f3b47c" />
<text x="334.2" y="686.85" font-size="8.3" fill="#1a1a1a" font-style="italic">P. distasonis</text>
<rect x="321.6" y="690.85" width="10.3" height="10.95" fill="#559c50" />
<text x="334.2" y="697.8" font-size="8.3" fill="#1a1a1a" font-style="italic">B. fragilis</text>
<rect x="321.6" y="701.8" width="10.3" height="10.95" fill="#8dc67f" />
<text x="334.2" y="708.75" font-size="8.3" fill="#1a1a1a" font-style="italic">P. vulgatus</text>
<rect x="418.2" y="658" width="10.3" height="10.95" fill="#3d8a86" />
<text x="430.8" y="664.95" font-size="8.3" fill="#1a1a1a" font-style="italic">B. cellulosilyticuscron</text>
<rect x="418.2" y="668.95" width="10.3" height="10.95" fill="#7db4ad" />
<text x="430.8" y="675.9" font-size="8.3" fill="#1a1a1a" font-style="italic">B. thetaiotaomi</text>
<rect x="418.2" y="679.9" width="10.3" height="10.95" fill="#d05454" />
<text x="430.8" y="686.85" font-size="8.3" fill="#1a1a1a" font-style="italic">B. xylanisolvens</text>
<rect x="418.2" y="690.85" width="10.3" height="10.95" fill="#df8a8c" />
<text x="430.8" y="697.8" font-size="8.3" fill="#1a1a1a" font-style="italic">B. longum</text>
<rect x="418.2" y="701.8" width="10.3" height="10.95" fill="#c2679a" />
<text x="430.8" y="708.75" font-size="8.3" fill="#1a1a1a" font-style="italic">C. perfringens</text>
<rect x="604.3" y="826.1" width="6.4" height="10.65" fill="#d8e5f1" />
<rect x="604.3" y="815.5" width="6.4" height="10.65" fill="#c2d4e6" />
<rect x="604.3" y="804.9" width="6.4" height="10.65" fill="#adc4db" />
<rect x="604.3" y="794.3" width="6.4" height="10.65" fill="#97b3cf" />
<rect x="604.3" y="783.7" width="6.4" height="10.65" fill="#80a2c2" />
<rect x="604.3" y="773.1" width="6.4" height="10.65" fill="#6b91b5" />
<rect x="604.3" y="762.5" width="6.4" height="10.65" fill="#5880a8" />
<rect x="604.3" y="751.9" width="6.4" height="10.65" fill="#466f99" />
<rect x="604.3" y="741.3" width="6.4" height="10.65" fill="#345e8a" />
<rect x="604.3" y="730.7" width="6.4" height="10.65" fill="#224d7a" />
<text x="612.8" y="837.9" font-size="8.5" fill="#1a1a1a">0</text>
<text x="612.8" y="826.59" font-size="8.5" fill="#1a1a1a">1</text>
<text x="612.8" y="815.28" font-size="8.5" fill="#1a1a1a">2</text>
<text x="612.8" y="803.97" font-size="8.5" fill="#1a1a1a">3</text>
<text x="612.8" y="792.66" font-size="8.5" fill="#1a1a1a">4</text>
<text x="612.8" y="781.35" font-size="8.5" fill="#1a1a1a">5</text>
<text x="612.8" y="770.04" font-size="8.5" fill="#1a1a1a">6</text>
<text x="612.8" y="758.73" font-size="8.5" fill="#1a1a1a">7</text>
<text x="612.8" y="747.42" font-size="8.5" fill="#1a1a1a">8</text>
<text x="612.8" y="736.11" font-size="8.5" fill="#1a1a1a">9</text>
<text x="657" y="829.3" font-size="9.3" fill="#000" font-weight="bold" text-anchor="middle" transform="rotate(90 657 829.3)">Protein</text>
<text x="13" y="635.7" font-size="14.5" fill="#231815" font-weight="bold">E</text>
</svg>
</body></html>
